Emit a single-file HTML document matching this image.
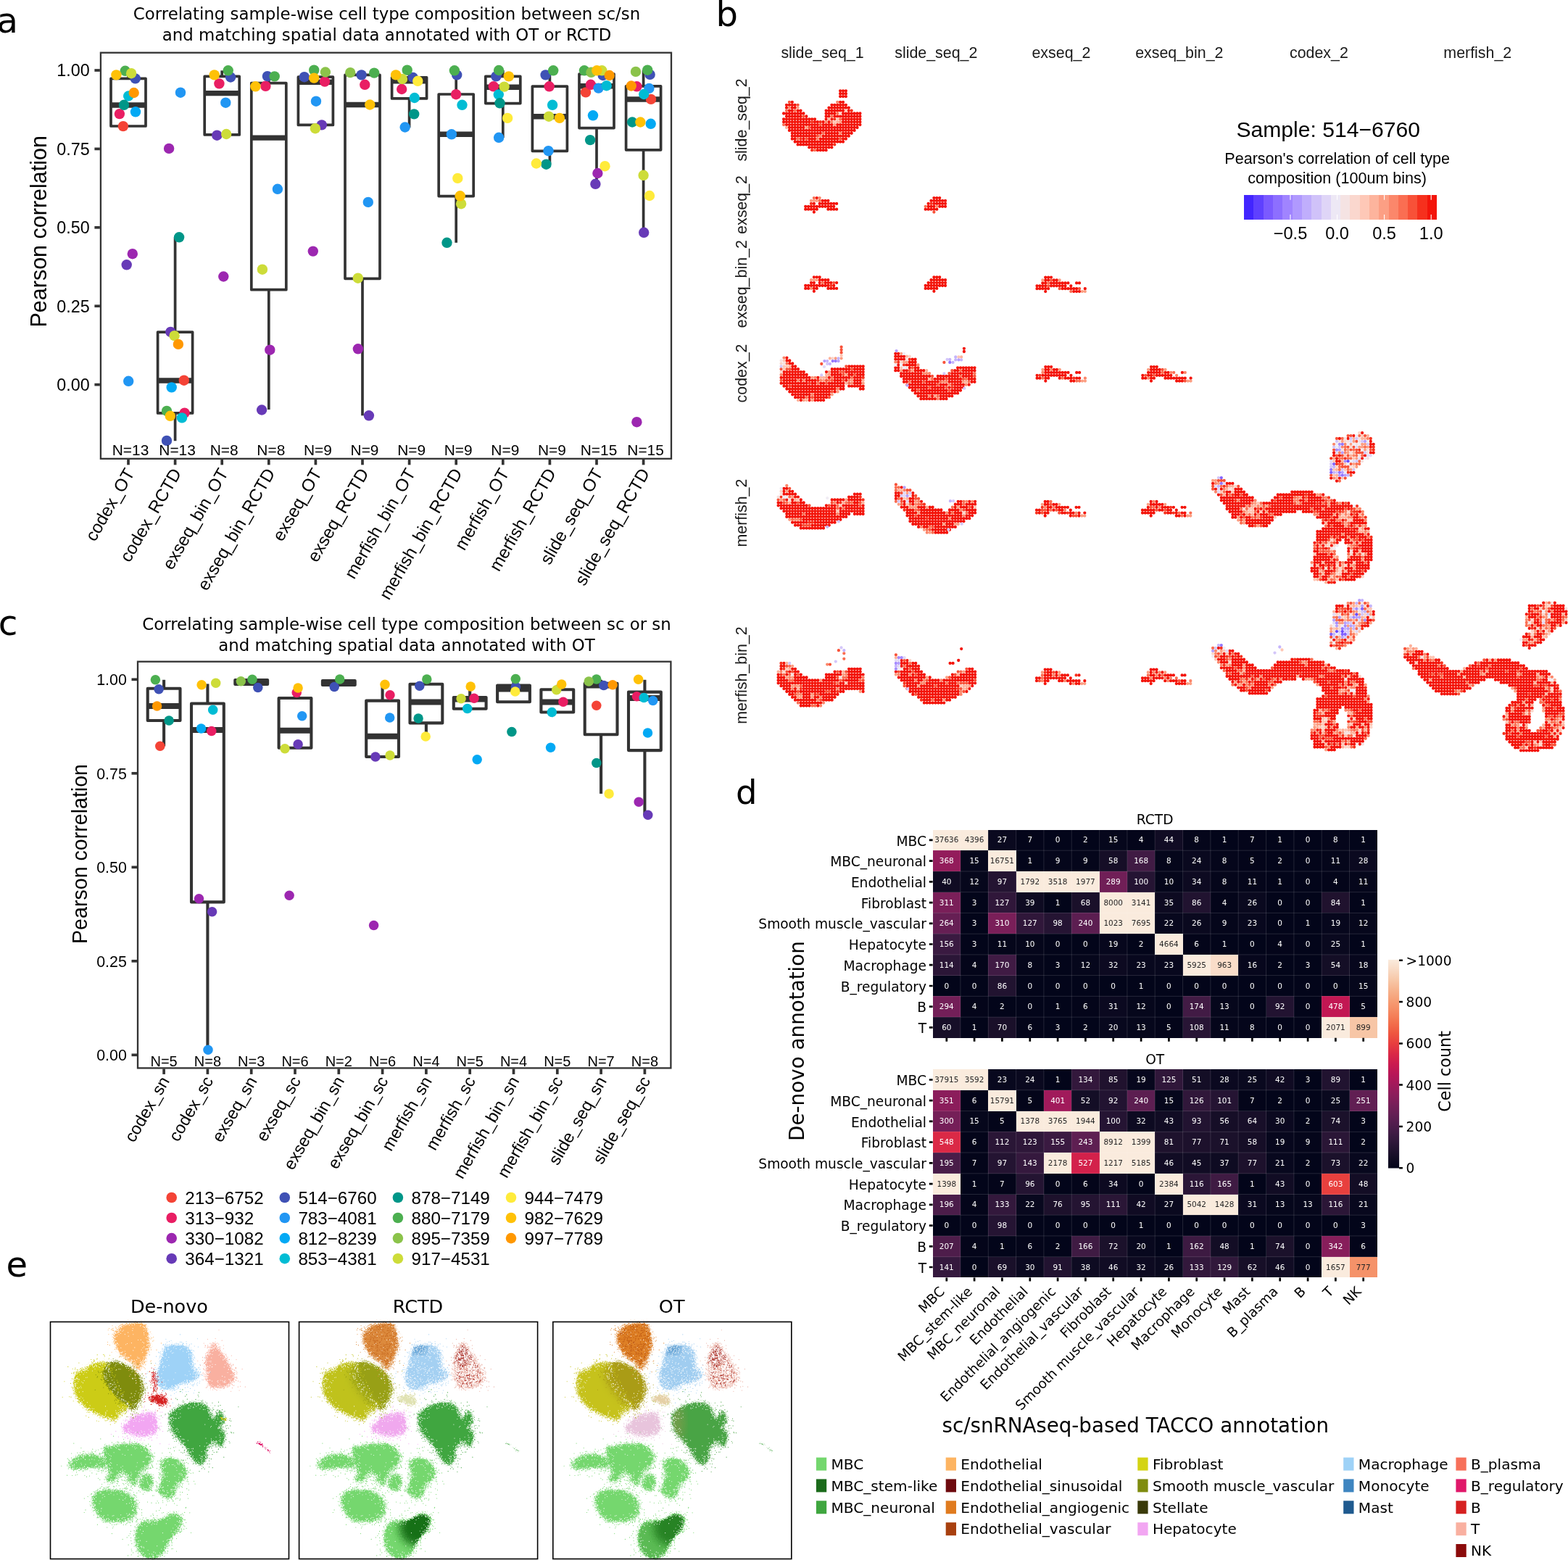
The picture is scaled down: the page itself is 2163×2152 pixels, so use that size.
<!DOCTYPE html>
<html><head><meta charset="utf-8"><title>Figure</title>
<style>html,body{margin:0;padding:0;background:#fff;overflow:hidden;width:2163px;height:2152px}svg{display:block}</style></head>
<body><svg width="2163" height="2152" viewBox="0 0 2163 2152">
<rect width="2163" height="2152" fill="#fff"/>
<g stroke="#333" stroke-width="3.7" fill="none" stroke-linejoin="round">
<line x1="177" y1="108.3" x2="177" y2="98"/><rect x="153" y="108.3" width="48" height="65.7" fill="#fff"/><line x1="153" y1="145" x2="201" y2="145" stroke-width="7.45" stroke-linecap="butt"/>
<line x1="241.6" y1="458.1" x2="241.6" y2="327.3"/><line x1="241.6" y1="569.9" x2="241.6" y2="608.2"/><rect x="217.6" y="458.1" width="48" height="111.8" fill="#fff"/><line x1="217.6" y1="524.9" x2="265.6" y2="524.9" stroke-width="7.45" stroke-linecap="butt"/>
<line x1="306.2" y1="105.4" x2="306.2" y2="97.3"/><rect x="282.2" y="105.4" width="48" height="80.5" fill="#fff"/><line x1="282.2" y1="128.6" x2="330.2" y2="128.6" stroke-width="7.45" stroke-linecap="butt"/>
<line x1="370.8" y1="114.6" x2="370.8" y2="104.8"/><line x1="370.8" y1="399.7" x2="370.8" y2="564.9"/><rect x="346.8" y="114.6" width="48" height="285.1" fill="#fff"/><line x1="346.8" y1="190.1" x2="394.8" y2="190.1" stroke-width="7.45" stroke-linecap="butt"/>
<line x1="435.4" y1="106.2" x2="435.4" y2="96.7"/><line x1="435.4" y1="172.4" x2="435.4" y2="177.2"/><rect x="411.4" y="106.2" width="48" height="66.2" fill="#fff"/><line x1="411.4" y1="113.2" x2="459.4" y2="113.2" stroke-width="7.45" stroke-linecap="butt"/>
<line x1="500" y1="103.4" x2="500" y2="100.1"/><line x1="500" y1="384.3" x2="500" y2="573.3"/><rect x="476" y="103.4" width="48" height="280.9" fill="#fff"/><line x1="476" y1="144.5" x2="524" y2="144.5" stroke-width="7.45" stroke-linecap="butt"/>
<line x1="564.6" y1="106.8" x2="564.6" y2="96.7"/><line x1="564.6" y1="135.8" x2="564.6" y2="176.1"/><rect x="540.6" y="106.8" width="48" height="29.1" fill="#fff"/><line x1="540.6" y1="111.8" x2="588.6" y2="111.8" stroke-width="7.45" stroke-linecap="butt"/>
<line x1="629.2" y1="130" x2="629.2" y2="97.8"/><line x1="629.2" y1="270.5" x2="629.2" y2="334.8"/><rect x="605.2" y="130" width="48" height="140.6" fill="#fff"/><line x1="605.2" y1="185.3" x2="653.2" y2="185.3" stroke-width="7.45" stroke-linecap="butt"/>
<line x1="693.8" y1="105.4" x2="693.8" y2="97"/><line x1="693.8" y1="142.5" x2="693.8" y2="190.1"/><rect x="669.8" y="105.4" width="48" height="37.2" fill="#fff"/><line x1="669.8" y1="120.2" x2="717.8" y2="120.2" stroke-width="7.45" stroke-linecap="butt"/>
<line x1="758.4" y1="119.1" x2="758.4" y2="97.3"/><line x1="758.4" y1="208.2" x2="758.4" y2="226.4"/><rect x="734.4" y="119.1" width="48" height="89.2" fill="#fff"/><line x1="734.4" y1="160.7" x2="782.4" y2="160.7" stroke-width="7.45" stroke-linecap="butt"/>
<line x1="823" y1="102" x2="823" y2="97.3"/><line x1="823" y1="176.6" x2="823" y2="252.9"/><rect x="799" y="102" width="48" height="74.6" fill="#fff"/><line x1="799" y1="118.8" x2="847" y2="118.8" stroke-width="7.45" stroke-linecap="butt"/>
<line x1="887.6" y1="118.8" x2="887.6" y2="96.7"/><line x1="887.6" y1="206.8" x2="887.6" y2="320.8"/><rect x="863.6" y="118.8" width="48" height="88" fill="#fff"/><line x1="863.6" y1="136.9" x2="911.6" y2="136.9" stroke-width="7.45" stroke-linecap="butt"/>
</g>
<circle cx="169.9" cy="174.1" r="7.2" fill="#F44336"/><circle cx="253.8" cy="524.7" r="7.2" fill="#F44336"/><circle cx="808" cy="127.4" r="7.2" fill="#F44336"/><circle cx="898" cy="136.9" r="7.2" fill="#F44336"/><circle cx="164.9" cy="157.1" r="7.2" fill="#E91E63"/><circle cx="254.6" cy="569.6" r="7.2" fill="#E91E63"/><circle cx="302.4" cy="115.4" r="7.2" fill="#E91E63"/><circle cx="366.4" cy="118.8" r="7.2" fill="#E91E63"/><circle cx="448" cy="112.6" r="7.2" fill="#E91E63"/><circle cx="503.3" cy="116.8" r="7.2" fill="#E91E63"/><circle cx="554.2" cy="123" r="7.2" fill="#E91E63"/><circle cx="629.1" cy="130.2" r="7.2" fill="#E91E63"/><circle cx="680.8" cy="119.3" r="7.2" fill="#E91E63"/><circle cx="757.7" cy="119.3" r="7.2" fill="#E91E63"/><circle cx="814.9" cy="116.8" r="7.2" fill="#E91E63"/><circle cx="878.4" cy="119.3" r="7.2" fill="#E91E63"/><circle cx="182.8" cy="350.2" r="7.2" fill="#9C27B0"/><circle cx="233.1" cy="204.9" r="7.2" fill="#9C27B0"/><circle cx="308.3" cy="381.5" r="7.2" fill="#9C27B0"/><circle cx="372.3" cy="482.7" r="7.2" fill="#9C27B0"/><circle cx="431.8" cy="346.6" r="7.2" fill="#9C27B0"/><circle cx="493.9" cy="481.3" r="7.2" fill="#9C27B0"/><circle cx="824.4" cy="239" r="7.2" fill="#9C27B0"/><circle cx="878.4" cy="582.2" r="7.2" fill="#9C27B0"/><circle cx="174.7" cy="365.3" r="7.2" fill="#673AB7"/><circle cx="235.3" cy="457.9" r="7.2" fill="#673AB7"/><circle cx="299.3" cy="186.7" r="7.2" fill="#673AB7"/><circle cx="361.1" cy="565.5" r="7.2" fill="#673AB7"/><circle cx="443.8" cy="172.4" r="7.2" fill="#673AB7"/><circle cx="508.9" cy="573.3" r="7.2" fill="#673AB7"/><circle cx="821.4" cy="253.8" r="7.2" fill="#673AB7"/><circle cx="888.2" cy="320.8" r="7.2" fill="#673AB7"/><circle cx="186.7" cy="108.4" r="7.2" fill="#3F51B5"/><circle cx="230" cy="607.9" r="7.2" fill="#3F51B5"/><circle cx="318.1" cy="106.5" r="7.2" fill="#3F51B5"/><circle cx="368.9" cy="105.1" r="7.2" fill="#3F51B5"/><circle cx="419.8" cy="106.2" r="7.2" fill="#3F51B5"/><circle cx="498.6" cy="103.4" r="7.2" fill="#3F51B5"/><circle cx="569.8" cy="107" r="7.2" fill="#3F51B5"/><circle cx="630.2" cy="103.4" r="7.2" fill="#3F51B5"/><circle cx="684.4" cy="105.4" r="7.2" fill="#3F51B5"/><circle cx="752.6" cy="103.4" r="7.2" fill="#3F51B5"/><circle cx="831.7" cy="104" r="7.2" fill="#3F51B5"/><circle cx="896.6" cy="102.9" r="7.2" fill="#3F51B5"/><circle cx="177.2" cy="525.8" r="7.2" fill="#2196F3"/><circle cx="249" cy="127.7" r="7.2" fill="#2196F3"/><circle cx="311.3" cy="141.7" r="7.2" fill="#2196F3"/><circle cx="382.9" cy="260.8" r="7.2" fill="#2196F3"/><circle cx="436" cy="139.7" r="7.2" fill="#2196F3"/><circle cx="507.8" cy="278.9" r="7.2" fill="#2196F3"/><circle cx="558.7" cy="175.5" r="7.2" fill="#2196F3"/><circle cx="622.9" cy="185.3" r="7.2" fill="#2196F3"/><circle cx="688.1" cy="189.8" r="7.2" fill="#2196F3"/><circle cx="756.5" cy="208.2" r="7.2" fill="#2196F3"/><circle cx="825.6" cy="121.6" r="7.2" fill="#2196F3"/><circle cx="895.4" cy="121.9" r="7.2" fill="#2196F3"/><circle cx="187" cy="154.3" r="7.2" fill="#03A9F4"/><circle cx="236.7" cy="534.4" r="7.2" fill="#03A9F4"/><circle cx="818" cy="159.3" r="7.2" fill="#03A9F4"/><circle cx="897.7" cy="170.8" r="7.2" fill="#03A9F4"/><circle cx="177.2" cy="132.5" r="7.2" fill="#00BCD4"/><circle cx="251" cy="576.4" r="7.2" fill="#00BCD4"/><circle cx="571.8" cy="135" r="7.2" fill="#00BCD4"/><circle cx="637.5" cy="144.8" r="7.2" fill="#00BCD4"/><circle cx="687.8" cy="130.5" r="7.2" fill="#00BCD4"/><circle cx="762.1" cy="144.8" r="7.2" fill="#00BCD4"/><circle cx="836.7" cy="118.2" r="7.2" fill="#00BCD4"/><circle cx="888.2" cy="130" r="7.2" fill="#00BCD4"/><circle cx="171" cy="144.8" r="7.2" fill="#009688"/><circle cx="247.1" cy="327.3" r="7.2" fill="#009688"/><circle cx="571.2" cy="157.4" r="7.2" fill="#009688"/><circle cx="616.5" cy="334.8" r="7.2" fill="#009688"/><circle cx="689.5" cy="142.3" r="7.2" fill="#009688"/><circle cx="753.5" cy="226.7" r="7.2" fill="#009688"/><circle cx="814.1" cy="193.1" r="7.2" fill="#009688"/><circle cx="872.2" cy="168.5" r="7.2" fill="#009688"/><circle cx="172.7" cy="97.8" r="7.2" fill="#4CAF50"/><circle cx="230" cy="566.9" r="7.2" fill="#4CAF50"/><circle cx="314.7" cy="97.3" r="7.2" fill="#4CAF50"/><circle cx="378.7" cy="105.4" r="7.2" fill="#4CAF50"/><circle cx="433.2" cy="96.7" r="7.2" fill="#4CAF50"/><circle cx="516.2" cy="100.6" r="7.2" fill="#4CAF50"/><circle cx="561.7" cy="96.7" r="7.2" fill="#4CAF50"/><circle cx="626.9" cy="97.3" r="7.2" fill="#4CAF50"/><circle cx="688.1" cy="97" r="7.2" fill="#4CAF50"/><circle cx="763.2" cy="97.3" r="7.2" fill="#4CAF50"/><circle cx="806" cy="97.3" r="7.2" fill="#4CAF50"/><circle cx="893.2" cy="96.7" r="7.2" fill="#4CAF50"/><circle cx="448.9" cy="99.5" r="7.2" fill="#8BC34A"/><circle cx="483.2" cy="100.1" r="7.2" fill="#8BC34A"/><circle cx="815.5" cy="99.8" r="7.2" fill="#8BC34A"/><circle cx="877" cy="98.9" r="7.2" fill="#8BC34A"/><circle cx="181.1" cy="101.2" r="7.2" fill="#CDDC39"/><circle cx="240.6" cy="463.2" r="7.2" fill="#CDDC39"/><circle cx="312.2" cy="185" r="7.2" fill="#CDDC39"/><circle cx="361.9" cy="371.7" r="7.2" fill="#CDDC39"/><circle cx="434.9" cy="177.2" r="7.2" fill="#CDDC39"/><circle cx="493.8" cy="383.7" r="7.2" fill="#CDDC39"/><circle cx="555" cy="109" r="7.2" fill="#CDDC39"/><circle cx="636.1" cy="281.2" r="7.2" fill="#CDDC39"/><circle cx="695.6" cy="119.6" r="7.2" fill="#CDDC39"/><circle cx="757.1" cy="160.7" r="7.2" fill="#CDDC39"/><circle cx="830.3" cy="97.3" r="7.2" fill="#CDDC39"/><circle cx="887.6" cy="241.8" r="7.2" fill="#CDDC39"/><circle cx="576.3" cy="111.8" r="7.2" fill="#FFEB3B"/><circle cx="631.3" cy="245.9" r="7.2" fill="#FFEB3B"/><circle cx="700.1" cy="162.9" r="7.2" fill="#FFEB3B"/><circle cx="739.8" cy="225.5" r="7.2" fill="#FFEB3B"/><circle cx="834.5" cy="229.2" r="7.2" fill="#FFEB3B"/><circle cx="896" cy="270" r="7.2" fill="#FFEB3B"/><circle cx="160.4" cy="103.4" r="7.2" fill="#FFC107"/><circle cx="234.8" cy="573.8" r="7.2" fill="#FFC107"/><circle cx="295.7" cy="103.4" r="7.2" fill="#FFC107"/><circle cx="352.4" cy="119.3" r="7.2" fill="#FFC107"/><circle cx="433.2" cy="107.6" r="7.2" fill="#FFC107"/><circle cx="510.3" cy="144.5" r="7.2" fill="#FFC107"/><circle cx="546.1" cy="103.4" r="7.2" fill="#FFC107"/><circle cx="634.7" cy="270.3" r="7.2" fill="#FFC107"/><circle cx="701.8" cy="105.4" r="7.2" fill="#FFC107"/><circle cx="771.9" cy="162.9" r="7.2" fill="#FFC107"/><circle cx="823.3" cy="97.3" r="7.2" fill="#FFC107"/><circle cx="883.4" cy="168.5" r="7.2" fill="#FFC107"/><circle cx="184.7" cy="128" r="7.2" fill="#FF9800"/><circle cx="245.9" cy="474.9" r="7.2" fill="#FF9800"/><circle cx="840.7" cy="104" r="7.2" fill="#FF9800"/><circle cx="870.8" cy="118.5" r="7.2" fill="#FF9800"/>
<g font-size="20.9" font-family="'Liberation Sans',Arial,Helvetica,sans-serif" text-anchor="middle" fill="#000">
<text x="180" y="627.6">N=13</text>
<text x="244.6" y="627.6">N=13</text>
<text x="309.2" y="627.6">N=8</text>
<text x="373.8" y="627.6">N=8</text>
<text x="438.4" y="627.6">N=9</text>
<text x="503" y="627.6">N=9</text>
<text x="567.6" y="627.6">N=9</text>
<text x="632.2" y="627.6">N=9</text>
<text x="696.8" y="627.6">N=9</text>
<text x="761.4" y="627.6">N=9</text>
<text x="826" y="627.6">N=15</text>
<text x="890.6" y="627.6">N=15</text>
</g>
<rect x="138.9" y="72.7" width="787.1" height="560.1" fill="none" stroke="#333" stroke-width="2.3"/>
<g stroke="#333" stroke-width="3.7">
<line x1="130.4" y1="97" x2="137.9" y2="97"/>
<line x1="130.4" y1="205.4" x2="137.9" y2="205.4"/>
<line x1="130.4" y1="313.8" x2="137.9" y2="313.8"/>
<line x1="130.4" y1="422.2" x2="137.9" y2="422.2"/>
<line x1="130.4" y1="530.6" x2="137.9" y2="530.6"/>
<line x1="177" y1="633.8" x2="177" y2="641.3"/>
<line x1="241.6" y1="633.8" x2="241.6" y2="641.3"/>
<line x1="306.2" y1="633.8" x2="306.2" y2="641.3"/>
<line x1="370.8" y1="633.8" x2="370.8" y2="641.3"/>
<line x1="435.4" y1="633.8" x2="435.4" y2="641.3"/>
<line x1="500" y1="633.8" x2="500" y2="641.3"/>
<line x1="564.6" y1="633.8" x2="564.6" y2="641.3"/>
<line x1="629.2" y1="633.8" x2="629.2" y2="641.3"/>
<line x1="693.8" y1="633.8" x2="693.8" y2="641.3"/>
<line x1="758.4" y1="633.8" x2="758.4" y2="641.3"/>
<line x1="823" y1="633.8" x2="823" y2="641.3"/>
<line x1="887.6" y1="633.8" x2="887.6" y2="641.3"/>
</g>
<g font-size="23.3" font-family="'Liberation Sans',Arial,Helvetica,sans-serif" fill="#000">
<text x="123.7" y="105.3" text-anchor="end">1.00</text>
<text x="123.7" y="213.7" text-anchor="end">0.75</text>
<text x="123.7" y="322.1" text-anchor="end">0.50</text>
<text x="123.7" y="430.5" text-anchor="end">0.25</text>
<text x="123.7" y="538.9" text-anchor="end">0.00</text>
<text x="186.3" y="652.3" font-size="24.0" text-anchor="end" transform="rotate(-60 186.3 652.3)">codex_OT</text>
<text x="250.9" y="652.3" font-size="24.0" text-anchor="end" transform="rotate(-60 250.9 652.3)">codex_RCTD</text>
<text x="315.5" y="652.3" font-size="24.0" text-anchor="end" transform="rotate(-60 315.5 652.3)">exseq_bin_OT</text>
<text x="380.1" y="652.3" font-size="24.0" text-anchor="end" transform="rotate(-60 380.1 652.3)">exseq_bin_RCTD</text>
<text x="444.7" y="652.3" font-size="24.0" text-anchor="end" transform="rotate(-60 444.7 652.3)">exseq_OT</text>
<text x="509.3" y="652.3" font-size="24.0" text-anchor="end" transform="rotate(-60 509.3 652.3)">exseq_RCTD</text>
<text x="573.9" y="652.3" font-size="24.0" text-anchor="end" transform="rotate(-60 573.9 652.3)">merfish_bin_OT</text>
<text x="638.5" y="652.3" font-size="24.0" text-anchor="end" transform="rotate(-60 638.5 652.3)">merfish_bin_RCTD</text>
<text x="703.1" y="652.3" font-size="24.0" text-anchor="end" transform="rotate(-60 703.1 652.3)">merfish_OT</text>
<text x="767.7" y="652.3" font-size="24.0" text-anchor="end" transform="rotate(-60 767.7 652.3)">merfish_RCTD</text>
<text x="832.3" y="652.3" font-size="24.0" text-anchor="end" transform="rotate(-60 832.3 652.3)">slide_seq_OT</text>
<text x="896.9" y="652.3" font-size="24.0" text-anchor="end" transform="rotate(-60 896.9 652.3)">slide_seq_RCTD</text>
</g>
<text x="63.7" y="319.3" font-size="30.5" font-family="'Liberation Sans',Arial,Helvetica,sans-serif" text-anchor="middle" fill="#000" transform="rotate(-90 63.7 319.3)">Pearson correlation</text>
<g font-size="22.85" font-family="'DejaVu Sans','Liberation Sans',sans-serif" text-anchor="middle" fill="#000">
<text x="533.5" y="27.2">Correlating sample-wise cell type composition between sc/sn</text>
<text x="533.5" y="55.9">and matching spatial data annotated with OT or RCTD</text>
</g>
<g stroke="#333" stroke-width="4.1" fill="none" stroke-linejoin="round">
<line x1="226.1" y1="949.8" x2="226.1" y2="937.8"/><line x1="226.1" y1="994" x2="226.1" y2="1029.5"/><rect x="203.7" y="949.8" width="44.8" height="44.2" fill="#fff"/><line x1="203.7" y1="973.9" x2="248.5" y2="973.9" stroke-width="8.0" stroke-linecap="butt"/>
<line x1="286.4" y1="970.5" x2="286.4" y2="943.4"/><line x1="286.4" y1="1244.4" x2="286.4" y2="1448.2"/><rect x="264" y="970.5" width="44.8" height="273.9" fill="#fff"/><line x1="264" y1="1006.9" x2="308.8" y2="1006.9" stroke-width="8.0" stroke-linecap="butt"/>
<rect x="324.3" y="938" width="44.8" height="6" fill="#fff"/><line x1="324.3" y1="941" x2="369.1" y2="941" stroke-width="8.0" stroke-linecap="butt"/>
<line x1="407" y1="963" x2="407" y2="950.4"/><rect x="384.6" y="963" width="44.8" height="68.8" fill="#fff"/><line x1="384.6" y1="1007.7" x2="429.4" y2="1007.7" stroke-width="8.0" stroke-linecap="butt"/>
<rect x="444.9" y="939" width="44.8" height="6" fill="#fff"/><line x1="444.9" y1="942" x2="489.7" y2="942" stroke-width="8.0" stroke-linecap="butt"/>
<line x1="527.6" y1="966.6" x2="527.6" y2="944.8"/><rect x="505.2" y="966.6" width="44.8" height="77.4" fill="#fff"/><line x1="505.2" y1="1015.8" x2="550" y2="1015.8" stroke-width="8.0" stroke-linecap="butt"/>
<line x1="587.9" y1="943.7" x2="587.9" y2="937.8"/><line x1="587.9" y1="997.4" x2="587.9" y2="1016.1"/><rect x="565.5" y="943.7" width="44.8" height="53.7" fill="#fff"/><line x1="565.5" y1="968.6" x2="610.3" y2="968.6" stroke-width="8.0" stroke-linecap="butt"/>
<line x1="648.2" y1="962.1" x2="648.2" y2="947.6"/><rect x="625.8" y="962.1" width="44.8" height="15.7" fill="#fff"/><line x1="625.8" y1="964.4" x2="670.6" y2="964.4" stroke-width="8.0" stroke-linecap="butt"/>
<line x1="708.5" y1="945.6" x2="708.5" y2="937.8"/><rect x="686.1" y="945.6" width="44.8" height="22.6" fill="#fff"/><line x1="686.1" y1="950.4" x2="730.9" y2="950.4" stroke-width="8.0" stroke-linecap="butt"/>
<line x1="768.8" y1="951.2" x2="768.8" y2="944.8"/><rect x="746.4" y="951.2" width="44.8" height="31.3" fill="#fff"/><line x1="746.4" y1="968.6" x2="791.2" y2="968.6" stroke-width="8.0" stroke-linecap="butt"/>
<line x1="829.1" y1="942.9" x2="829.1" y2="937.8"/><line x1="829.1" y1="1013.3" x2="829.1" y2="1094.9"/><rect x="806.7" y="942.9" width="44.8" height="70.4" fill="#fff"/><line x1="806.7" y1="945.6" x2="851.5" y2="945.6" stroke-width="8.0" stroke-linecap="butt"/>
<line x1="889.4" y1="954.6" x2="889.4" y2="937.8"/><line x1="889.4" y1="1035.1" x2="889.4" y2="1124.5"/><rect x="867" y="954.6" width="44.8" height="80.5" fill="#fff"/><line x1="867" y1="963" x2="911.8" y2="963" stroke-width="8.0" stroke-linecap="butt"/>
</g>
<circle cx="220.8" cy="1029.2" r="6.75" fill="#F44336"/><circle cx="822.8" cy="973.3" r="6.75" fill="#F44336"/><circle cx="291.8" cy="1008.5" r="6.75" fill="#E91E63"/><circle cx="409.2" cy="955.4" r="6.75" fill="#E91E63"/><circle cx="538" cy="958.8" r="6.75" fill="#E91E63"/><circle cx="654" cy="963.3" r="6.75" fill="#E91E63"/><circle cx="776.9" cy="968.3" r="6.75" fill="#E91E63"/><circle cx="878.4" cy="960.7" r="6.75" fill="#E91E63"/><circle cx="274.5" cy="1239.7" r="6.75" fill="#9C27B0"/><circle cx="399.1" cy="1235.2" r="6.75" fill="#9C27B0"/><circle cx="515.6" cy="1276.6" r="6.75" fill="#9C27B0"/><circle cx="881.2" cy="1106.3" r="6.75" fill="#9C27B0"/><circle cx="292.6" cy="1257.8" r="6.75" fill="#673AB7"/><circle cx="411.1" cy="1026.7" r="6.75" fill="#673AB7"/><circle cx="517.9" cy="1044" r="6.75" fill="#673AB7"/><circle cx="893.8" cy="1124.2" r="6.75" fill="#673AB7"/><circle cx="219.1" cy="950.7" r="6.75" fill="#3F51B5"/><circle cx="355.8" cy="948.4" r="6.75" fill="#3F51B5"/><circle cx="461.2" cy="947.6" r="6.75" fill="#3F51B5"/><circle cx="578.8" cy="946.2" r="6.75" fill="#3F51B5"/><circle cx="711.5" cy="947.6" r="6.75" fill="#3F51B5"/><circle cx="832.8" cy="945.4" r="6.75" fill="#3F51B5"/><circle cx="287" cy="1448.3" r="6.75" fill="#2196F3"/><circle cx="416.7" cy="987.8" r="6.75" fill="#2196F3"/><circle cx="537.7" cy="990.1" r="6.75" fill="#2196F3"/><circle cx="900.7" cy="966.6" r="6.75" fill="#2196F3"/><circle cx="277.5" cy="1004.9" r="6.75" fill="#03A9F4"/><circle cx="658.2" cy="1047.7" r="6.75" fill="#03A9F4"/><circle cx="759.6" cy="1031.2" r="6.75" fill="#03A9F4"/><circle cx="893.5" cy="1011" r="6.75" fill="#03A9F4"/><circle cx="293.7" cy="979.2" r="6.75" fill="#00BCD4"/><circle cx="644.7" cy="977.5" r="6.75" fill="#00BCD4"/><circle cx="761.3" cy="982.5" r="6.75" fill="#00BCD4"/><circle cx="888.2" cy="962.4" r="6.75" fill="#00BCD4"/><circle cx="233.1" cy="994" r="6.75" fill="#009688"/><circle cx="577.1" cy="990.9" r="6.75" fill="#009688"/><circle cx="705.9" cy="1009.4" r="6.75" fill="#009688"/><circle cx="822.8" cy="1052.4" r="6.75" fill="#009688"/><circle cx="214.4" cy="937.8" r="6.75" fill="#4CAF50"/><circle cx="348" cy="937.3" r="6.75" fill="#4CAF50"/><circle cx="468.7" cy="937" r="6.75" fill="#4CAF50"/><circle cx="588.8" cy="937" r="6.75" fill="#4CAF50"/><circle cx="711.3" cy="936.4" r="6.75" fill="#4CAF50"/><circle cx="822.8" cy="937" r="6.75" fill="#4CAF50"/><circle cx="332.3" cy="939.8" r="6.75" fill="#8BC34A"/><circle cx="812.2" cy="940.1" r="6.75" fill="#8BC34A"/><circle cx="297.7" cy="942.3" r="6.75" fill="#CDDC39"/><circle cx="393" cy="1032.8" r="6.75" fill="#CDDC39"/><circle cx="538" cy="1042.1" r="6.75" fill="#CDDC39"/><circle cx="636.1" cy="963.8" r="6.75" fill="#CDDC39"/><circle cx="767.7" cy="951.8" r="6.75" fill="#CDDC39"/><circle cx="587.2" cy="1016.1" r="6.75" fill="#FFEB3B"/><circle cx="710.7" cy="954" r="6.75" fill="#FFEB3B"/><circle cx="840.1" cy="1094.9" r="6.75" fill="#FFEB3B"/><circle cx="278.1" cy="944.8" r="6.75" fill="#FFC107"/><circle cx="411.1" cy="949" r="6.75" fill="#FFC107"/><circle cx="531" cy="944.2" r="6.75" fill="#FFC107"/><circle cx="649.2" cy="947" r="6.75" fill="#FFC107"/><circle cx="774.7" cy="944" r="6.75" fill="#FFC107"/><circle cx="880.6" cy="937.3" r="6.75" fill="#FFC107"/><circle cx="216.6" cy="973.9" r="6.75" fill="#FF9800"/><circle cx="845.1" cy="944.8" r="6.75" fill="#FF9800"/>
<g font-size="20.0" font-family="'Liberation Sans',Arial,Helvetica,sans-serif" text-anchor="middle" fill="#000">
<text x="226.1" y="1470.6">N=5</text>
<text x="286.4" y="1470.6">N=8</text>
<text x="346.7" y="1470.6">N=3</text>
<text x="407" y="1470.6">N=6</text>
<text x="467.3" y="1470.6">N=2</text>
<text x="527.6" y="1470.6">N=6</text>
<text x="587.9" y="1470.6">N=4</text>
<text x="648.2" y="1470.6">N=5</text>
<text x="708.5" y="1470.6">N=4</text>
<text x="768.8" y="1470.6">N=5</text>
<text x="829.1" y="1470.6">N=7</text>
<text x="889.4" y="1470.6">N=8</text>
</g>
<rect x="190" y="912.7" width="735.4" height="560.7" fill="none" stroke="#333" stroke-width="2.3"/>
<g stroke="#333" stroke-width="3.7">
<line x1="181.5" y1="937.3" x2="189" y2="937.3"/>
<line x1="181.5" y1="1066.8" x2="189" y2="1066.8"/>
<line x1="181.5" y1="1196.3" x2="189" y2="1196.3"/>
<line x1="181.5" y1="1325.8" x2="189" y2="1325.8"/>
<line x1="181.5" y1="1455.3" x2="189" y2="1455.3"/>
<line x1="226.1" y1="1474.4" x2="226.1" y2="1481.9"/>
<line x1="286.4" y1="1474.4" x2="286.4" y2="1481.9"/>
<line x1="346.7" y1="1474.4" x2="346.7" y2="1481.9"/>
<line x1="407" y1="1474.4" x2="407" y2="1481.9"/>
<line x1="467.3" y1="1474.4" x2="467.3" y2="1481.9"/>
<line x1="527.6" y1="1474.4" x2="527.6" y2="1481.9"/>
<line x1="587.9" y1="1474.4" x2="587.9" y2="1481.9"/>
<line x1="648.2" y1="1474.4" x2="648.2" y2="1481.9"/>
<line x1="708.5" y1="1474.4" x2="708.5" y2="1481.9"/>
<line x1="768.8" y1="1474.4" x2="768.8" y2="1481.9"/>
<line x1="829.1" y1="1474.4" x2="829.1" y2="1481.9"/>
<line x1="889.4" y1="1474.4" x2="889.4" y2="1481.9"/>
</g>
<g font-size="21.4" font-family="'Liberation Sans',Arial,Helvetica,sans-serif" fill="#000">
<text x="174.8" y="945" text-anchor="end">1.00</text>
<text x="174.8" y="1074.5" text-anchor="end">0.75</text>
<text x="174.8" y="1204" text-anchor="end">0.50</text>
<text x="174.8" y="1333.5" text-anchor="end">0.25</text>
<text x="174.8" y="1463" text-anchor="end">0.00</text>
<text x="234.6" y="1490.9" font-size="23.3" text-anchor="end" transform="rotate(-60 234.6 1490.9)">codex_sn</text>
<text x="294.9" y="1490.9" font-size="23.3" text-anchor="end" transform="rotate(-60 294.9 1490.9)">codex_sc</text>
<text x="355.2" y="1490.9" font-size="23.3" text-anchor="end" transform="rotate(-60 355.2 1490.9)">exseq_sn</text>
<text x="415.5" y="1490.9" font-size="23.3" text-anchor="end" transform="rotate(-60 415.5 1490.9)">exseq_sc</text>
<text x="475.8" y="1490.9" font-size="23.3" text-anchor="end" transform="rotate(-60 475.8 1490.9)">exseq_bin_sn</text>
<text x="536.1" y="1490.9" font-size="23.3" text-anchor="end" transform="rotate(-60 536.1 1490.9)">exseq_bin_sc</text>
<text x="596.4" y="1490.9" font-size="23.3" text-anchor="end" transform="rotate(-60 596.4 1490.9)">merfish_sn</text>
<text x="656.7" y="1490.9" font-size="23.3" text-anchor="end" transform="rotate(-60 656.7 1490.9)">merfish_sc</text>
<text x="717" y="1490.9" font-size="23.3" text-anchor="end" transform="rotate(-60 717 1490.9)">merfish_bin_sn</text>
<text x="777.3" y="1490.9" font-size="23.3" text-anchor="end" transform="rotate(-60 777.3 1490.9)">merfish_bin_sc</text>
<text x="837.6" y="1490.9" font-size="23.3" text-anchor="end" transform="rotate(-60 837.6 1490.9)">slide_seq_sn</text>
<text x="897.9" y="1490.9" font-size="23.3" text-anchor="end" transform="rotate(-60 897.9 1490.9)">slide_seq_sc</text>
</g>
<text x="119.9" y="1178" font-size="28.6" font-family="'Liberation Sans',Arial,Helvetica,sans-serif" text-anchor="middle" fill="#000" transform="rotate(-90 119.9 1178)">Pearson correlation</text>
<g font-size="22.85" font-family="'DejaVu Sans','Liberation Sans',sans-serif" text-anchor="middle" fill="#000">
<text x="561" y="869.3">Correlating sample-wise cell type composition between sc or sn</text>
<text x="561" y="898">and matching spatial data annotated with OT</text>
</g>
<g font-size="24.2" font-family="'Liberation Sans',Arial,Helvetica,sans-serif" fill="#000">
<circle cx="236.7" cy="1652" r="7.3" fill="#F44336"/><text x="255.3" y="1660.7">213−6752</text>
<circle cx="236.7" cy="1680" r="7.3" fill="#E91E63"/><text x="255.3" y="1688.8">313−932</text>
<circle cx="236.7" cy="1708.1" r="7.3" fill="#9C27B0"/><text x="255.3" y="1716.8">330−1082</text>
<circle cx="236.7" cy="1736.2" r="7.3" fill="#673AB7"/><text x="255.3" y="1744.9">364−1321</text>
<circle cx="392.8" cy="1652" r="7.3" fill="#3F51B5"/><text x="411.4" y="1660.7">514−6760</text>
<circle cx="392.8" cy="1680" r="7.3" fill="#2196F3"/><text x="411.4" y="1688.8">783−4081</text>
<circle cx="392.8" cy="1708.1" r="7.3" fill="#03A9F4"/><text x="411.4" y="1716.8">812−8239</text>
<circle cx="392.8" cy="1736.2" r="7.3" fill="#00BCD4"/><text x="411.4" y="1744.9">853−4381</text>
<circle cx="548.9" cy="1652" r="7.3" fill="#009688"/><text x="567.5" y="1660.7">878−7149</text>
<circle cx="548.9" cy="1680" r="7.3" fill="#4CAF50"/><text x="567.5" y="1688.8">880−7179</text>
<circle cx="548.9" cy="1708.1" r="7.3" fill="#8BC34A"/><text x="567.5" y="1716.8">895−7359</text>
<circle cx="548.9" cy="1736.2" r="7.3" fill="#CDDC39"/><text x="567.5" y="1744.9">917−4531</text>
<circle cx="705" cy="1652" r="7.3" fill="#FFEB3B"/><text x="723.6" y="1660.7">944−7479</text>
<circle cx="705" cy="1680" r="7.3" fill="#FFC107"/><text x="723.6" y="1688.8">982−7629</text>
<circle cx="705" cy="1708.1" r="7.3" fill="#FF9800"/><text x="723.6" y="1716.8">997−7789</text>
</g>
<g fill="none" stroke-linecap="round" stroke-width="4.3"><path d="M1159.1 125.3h0M1163 125.3h0M1166.9 125.3h0M1159.1 129.2h0M1163 129.2h0M1166.9 129.2h0M1159.1 133.1h0M1163 133.1h0M1166.9 133.1h0M1092.8 140.9h0M1159.1 140.9h0M1163 140.9h0M1085 144.8h0M1088.9 144.8h0M1092.8 144.8h0M1096.7 144.8h0M1147.4 144.8h0M1151.3 144.8h0M1155.2 144.8h0M1159.1 144.8h0M1163 144.8h0M1166.9 144.8h0M1085 148.7h0M1092.8 148.7h0M1096.7 148.7h0M1143.5 148.7h0M1147.4 148.7h0M1151.3 148.7h0M1155.2 148.7h0M1159.1 148.7h0M1163 148.7h0M1166.9 148.7h0M1170.8 148.7h0M1088.9 152.6h0M1092.8 152.6h0M1100.6 152.6h0M1104.5 152.6h0M1139.6 152.6h0M1143.5 152.6h0M1147.4 152.6h0M1151.3 152.6h0M1155.2 152.6h0M1159.1 152.6h0M1163 152.6h0M1170.8 152.6h0M1081.1 156.5h0M1085 156.5h0M1088.9 156.5h0M1092.8 156.5h0M1096.7 156.5h0M1100.6 156.5h0M1104.5 156.5h0M1108.4 156.5h0M1139.6 156.5h0M1143.5 156.5h0M1147.4 156.5h0M1151.3 156.5h0M1163 156.5h0M1166.9 156.5h0M1170.8 156.5h0M1174.7 156.5h0M1178.6 156.5h0M1182.5 156.5h0M1186.4 156.5h0M1085 160.4h0M1088.9 160.4h0M1092.8 160.4h0M1096.7 160.4h0M1100.6 160.4h0M1104.5 160.4h0M1112.3 160.4h0M1139.6 160.4h0M1143.5 160.4h0M1151.3 160.4h0M1155.2 160.4h0M1159.1 160.4h0M1163 160.4h0M1166.9 160.4h0M1170.8 160.4h0M1174.7 160.4h0M1178.6 160.4h0M1182.5 160.4h0M1186.4 160.4h0M1081.1 164.3h0M1085 164.3h0M1088.9 164.3h0M1092.8 164.3h0M1096.7 164.3h0M1100.6 164.3h0M1104.5 164.3h0M1108.4 164.3h0M1112.3 164.3h0M1116.2 164.3h0M1120.1 164.3h0M1124 164.3h0M1139.6 164.3h0M1147.4 164.3h0M1163 164.3h0M1166.9 164.3h0M1170.8 164.3h0M1174.7 164.3h0M1178.6 164.3h0M1182.5 164.3h0M1186.4 164.3h0M1081.1 168.2h0M1085 168.2h0M1088.9 168.2h0M1092.8 168.2h0M1096.7 168.2h0M1100.6 168.2h0M1104.5 168.2h0M1108.4 168.2h0M1112.3 168.2h0M1116.2 168.2h0M1124 168.2h0M1127.9 168.2h0M1135.7 168.2h0M1143.5 168.2h0M1163 168.2h0M1166.9 168.2h0M1170.8 168.2h0M1174.7 168.2h0M1178.6 168.2h0M1182.5 168.2h0M1186.4 168.2h0M1085 172.1h0M1088.9 172.1h0M1092.8 172.1h0M1096.7 172.1h0M1100.6 172.1h0M1104.5 172.1h0M1108.4 172.1h0M1112.3 172.1h0M1116.2 172.1h0M1120.1 172.1h0M1124 172.1h0M1127.9 172.1h0M1135.7 172.1h0M1139.6 172.1h0M1143.5 172.1h0M1147.4 172.1h0M1155.2 172.1h0M1159.1 172.1h0M1163 172.1h0M1166.9 172.1h0M1170.8 172.1h0M1174.7 172.1h0M1178.6 172.1h0M1182.5 172.1h0M1186.4 172.1h0M1088.9 176h0M1092.8 176h0M1096.7 176h0M1100.6 176h0M1104.5 176h0M1108.4 176h0M1120.1 176h0M1124 176h0M1127.9 176h0M1131.8 176h0M1135.7 176h0M1139.6 176h0M1143.5 176h0M1147.4 176h0M1151.3 176h0M1155.2 176h0M1159.1 176h0M1163 176h0M1166.9 176h0M1170.8 176h0M1174.7 176h0M1178.6 176h0M1182.5 176h0M1088.9 179.9h0M1092.8 179.9h0M1096.7 179.9h0M1100.6 179.9h0M1104.5 179.9h0M1108.4 179.9h0M1112.3 179.9h0M1116.2 179.9h0M1120.1 179.9h0M1124 179.9h0M1127.9 179.9h0M1131.8 179.9h0M1135.7 179.9h0M1139.6 179.9h0M1143.5 179.9h0M1147.4 179.9h0M1151.3 179.9h0M1155.2 179.9h0M1159.1 179.9h0M1163 179.9h0M1166.9 179.9h0M1170.8 179.9h0M1174.7 179.9h0M1178.6 179.9h0M1092.8 183.8h0M1096.7 183.8h0M1100.6 183.8h0M1104.5 183.8h0M1108.4 183.8h0M1112.3 183.8h0M1116.2 183.8h0M1120.1 183.8h0M1124 183.8h0M1127.9 183.8h0M1131.8 183.8h0M1139.6 183.8h0M1143.5 183.8h0M1147.4 183.8h0M1151.3 183.8h0M1155.2 183.8h0M1163 183.8h0M1166.9 183.8h0M1170.8 183.8h0M1174.7 183.8h0M1092.8 187.7h0M1096.7 187.7h0M1100.6 187.7h0M1104.5 187.7h0M1108.4 187.7h0M1112.3 187.7h0M1116.2 187.7h0M1120.1 187.7h0M1124 187.7h0M1135.7 187.7h0M1139.6 187.7h0M1143.5 187.7h0M1147.4 187.7h0M1151.3 187.7h0M1155.2 187.7h0M1159.1 187.7h0M1163 187.7h0M1166.9 187.7h0M1170.8 187.7h0M1092.8 191.6h0M1096.7 191.6h0M1108.4 191.6h0M1116.2 191.6h0M1120.1 191.6h0M1124 191.6h0M1131.8 191.6h0M1135.7 191.6h0M1139.6 191.6h0M1143.5 191.6h0M1147.4 191.6h0M1151.3 191.6h0M1155.2 191.6h0M1163 191.6h0M1166.9 191.6h0M1096.7 195.5h0M1100.6 195.5h0M1104.5 195.5h0M1108.4 195.5h0M1112.3 195.5h0M1116.2 195.5h0M1120.1 195.5h0M1124 195.5h0M1127.9 195.5h0M1131.8 195.5h0M1135.7 195.5h0M1139.6 195.5h0M1143.5 195.5h0M1147.4 195.5h0M1151.3 195.5h0M1155.2 195.5h0M1159.1 195.5h0M1163 195.5h0M1100.6 199.4h0M1104.5 199.4h0M1108.4 199.4h0M1112.3 199.4h0M1116.2 199.4h0M1120.1 199.4h0M1124 199.4h0M1127.9 199.4h0M1131.8 199.4h0M1135.7 199.4h0M1139.6 199.4h0M1143.5 199.4h0M1147.4 199.4h0M1116.2 203.3h0M1120.1 203.3h0M1124 203.3h0M1127.9 203.3h0M1131.8 203.3h0M1135.7 203.3h0M1139.6 203.3h0M1143.5 203.3h0M1147.4 203.3h0M1127.9 207.2h0M1131.8 207.2h0M1135.7 207.2h0M1139.6 207.2h0M1126.8 273.1h0M1288.4 273.1h0M1292.3 273.1h0M1296.2 273.1h0M1134.6 276.9h0M1138.5 276.9h0M1142.4 276.9h0M1284.5 276.9h0M1288.4 276.9h0M1292.3 276.9h0M1296.2 276.9h0M1300.1 276.9h0M1304 276.9h0M1122.9 280.9h0M1130.7 280.9h0M1134.6 280.9h0M1138.5 280.9h0M1142.4 280.9h0M1146.3 280.9h0M1150.2 280.9h0M1154.1 280.9h0M1280.6 280.9h0M1288.4 280.9h0M1292.3 280.9h0M1296.2 280.9h0M1300.1 280.9h0M1304 280.9h0M1111.2 284.8h0M1115.1 284.8h0M1119 284.8h0M1122.9 284.8h0M1126.8 284.8h0M1130.7 284.8h0M1134.6 284.8h0M1138.5 284.8h0M1142.4 284.8h0M1146.3 284.8h0M1150.2 284.8h0M1280.6 284.8h0M1284.5 284.8h0M1288.4 284.8h0M1296.2 284.8h0M1300.1 284.8h0M1304 284.8h0M1111.2 288.7h0M1115.1 288.7h0M1119 288.7h0M1122.9 288.7h0M1126.8 288.7h0M1142.4 288.7h0M1146.3 288.7h0M1150.2 288.7h0M1154.1 288.7h0M1276.7 288.7h0M1280.6 288.7h0M1284.5 288.7h0M1288.4 288.7h0M1292.3 288.7h0M1122.9 292.6h0M1122.9 382.3h0M1126.8 382.3h0M1130.7 382.3h0M1288.4 382.3h0M1292.3 382.3h0M1296.2 382.3h0M1442.2 382.6h0M1446.1 382.6h0M1450 382.6h0M1130.7 386.2h0M1134.6 386.2h0M1138.5 386.2h0M1142.4 386.2h0M1284.5 386.2h0M1288.4 386.2h0M1292.3 386.2h0M1296.2 386.2h0M1300.1 386.2h0M1304 386.2h0M1442.2 386.5h0M1446.1 386.5h0M1453.9 386.5h0M1457.8 386.5h0M1119 390.1h0M1122.9 390.1h0M1130.7 390.1h0M1138.5 390.1h0M1142.4 390.1h0M1146.3 390.1h0M1154.1 390.1h0M1280.6 390.1h0M1284.5 390.1h0M1288.4 390.1h0M1292.3 390.1h0M1296.2 390.1h0M1300.1 390.1h0M1304 390.1h0M1438.3 390.4h0M1442.2 390.4h0M1450 390.4h0M1453.9 390.4h0M1457.8 390.4h0M1461.7 390.4h0M1465.6 390.4h0M1469.5 390.4h0M1473.4 390.4h0M1485.1 390.4h0M1489 390.4h0M1111.2 394h0M1115.1 394h0M1119 394h0M1122.9 394h0M1126.8 394h0M1130.7 394h0M1134.6 394h0M1138.5 394h0M1142.4 394h0M1150.2 394h0M1276.7 394h0M1280.6 394h0M1284.5 394h0M1288.4 394h0M1292.3 394h0M1296.2 394h0M1300.1 394h0M1304 394h0M1430.5 394.3h0M1434.4 394.3h0M1438.3 394.3h0M1442.2 394.3h0M1450 394.3h0M1453.9 394.3h0M1457.8 394.3h0M1461.7 394.3h0M1465.6 394.3h0M1469.5 394.3h0M1477.3 394.3h0M1111.2 397.9h0M1115.1 397.9h0M1122.9 397.9h0M1126.8 397.9h0M1142.4 397.9h0M1146.3 397.9h0M1150.2 397.9h0M1154.1 397.9h0M1276.7 397.9h0M1280.6 397.9h0M1284.5 397.9h0M1288.4 397.9h0M1292.3 397.9h0M1430.5 398.2h0M1434.4 398.2h0M1438.3 398.2h0M1442.2 398.2h0M1446.1 398.2h0M1465.6 398.2h0M1469.5 398.2h0M1473.4 398.2h0M1477.3 398.2h0M1481.2 398.2h0M1485.1 398.2h0M1496.8 398.2h0M1122.9 401.8h0M1288.4 401.8h0M1442.2 402.1h0M1481.2 402.1h0M1485.1 402.1h0M1489 402.1h0M1329.9 480.8h0M1329.9 485h0M1235.3 487.8h0M1239.2 487.8h0M1235.3 491.7h0M1239.2 491.7h0M1243.1 491.7h0M1247 491.7h0M1085.4 493.6h0M1235.3 495.6h0M1239.2 495.6h0M1243.1 495.6h0M1247 495.6h0M1258.7 495.6h0M1262.6 495.6h0M1085.4 497.5h0M1089.3 497.5h0M1254.8 499.5h0M1258.7 499.5h0M1262.6 499.5h0M1089.3 501.4h0M1093.2 501.4h0M1239.2 503.4h0M1250.9 503.4h0M1254.8 503.4h0M1258.7 503.4h0M1262.6 503.4h0M1093.2 505.3h0M1097.1 505.3h0M1171.2 505.3h0M1175.1 505.3h0M1179 505.3h0M1182.9 505.3h0M1186.8 505.3h0M1190.7 505.3h0M1442.3 506.1h0M1446.2 506.1h0M1450.1 506.1h0M1588 506.1h0M1591.9 506.1h0M1595.8 506.1h0M1235.3 507.3h0M1239.2 507.3h0M1254.8 507.3h0M1262.6 507.3h0M1266.5 507.3h0M1321.1 507.3h0M1325 507.3h0M1328.9 507.3h0M1332.8 507.3h0M1336.7 507.3h0M1340.6 507.3h0M1344.5 507.3h0M1093.2 509.2h0M1097.1 509.2h0M1101 509.2h0M1147.8 509.2h0M1151.7 509.2h0M1155.6 509.2h0M1159.5 509.2h0M1163.4 509.2h0M1167.3 509.2h0M1171.2 509.2h0M1179 509.2h0M1182.9 509.2h0M1186.8 509.2h0M1190.7 509.2h0M1442.3 510h0M1446.2 510h0M1454 510h0M1457.9 510h0M1588 510h0M1591.9 510h0M1595.8 510h0M1599.7 510h0M1235.3 511.2h0M1239.2 511.2h0M1247 511.2h0M1250.9 511.2h0M1262.6 511.2h0M1266.5 511.2h0M1270.4 511.2h0M1274.3 511.2h0M1317.2 511.2h0M1321.1 511.2h0M1328.9 511.2h0M1332.8 511.2h0M1336.7 511.2h0M1340.6 511.2h0M1344.5 511.2h0M1081.5 513.1h0M1085.4 513.1h0M1089.3 513.1h0M1093.2 513.1h0M1097.1 513.1h0M1101 513.1h0M1104.9 513.1h0M1108.8 513.1h0M1140 513.1h0M1147.8 513.1h0M1151.7 513.1h0M1155.6 513.1h0M1167.3 513.1h0M1171.2 513.1h0M1175.1 513.1h0M1179 513.1h0M1182.9 513.1h0M1186.8 513.1h0M1190.7 513.1h0M1442.3 513.9h0M1446.2 513.9h0M1450.1 513.9h0M1454 513.9h0M1457.9 513.9h0M1461.8 513.9h0M1465.7 513.9h0M1469.6 513.9h0M1473.5 513.9h0M1485.2 513.9h0M1489.1 513.9h0M1584.1 513.9h0M1588 513.9h0M1591.9 513.9h0M1595.8 513.9h0M1599.7 513.9h0M1607.5 513.9h0M1611.4 513.9h0M1630.9 513.9h0M1243.1 515.1h0M1247 515.1h0M1250.9 515.1h0M1254.8 515.1h0M1258.7 515.1h0M1262.6 515.1h0M1266.5 515.1h0M1270.4 515.1h0M1313.3 515.1h0M1317.2 515.1h0M1321.1 515.1h0M1325 515.1h0M1328.9 515.1h0M1332.8 515.1h0M1336.7 515.1h0M1340.6 515.1h0M1081.5 517h0M1085.4 517h0M1089.3 517h0M1093.2 517h0M1097.1 517h0M1101 517h0M1104.9 517h0M1108.8 517h0M1112.7 517h0M1147.8 517h0M1151.7 517h0M1155.6 517h0M1159.5 517h0M1171.2 517h0M1175.1 517h0M1182.9 517h0M1186.8 517h0M1190.7 517h0M1430.6 517.8h0M1438.4 517.8h0M1442.3 517.8h0M1446.2 517.8h0M1450.1 517.8h0M1454 517.8h0M1457.9 517.8h0M1461.8 517.8h0M1465.7 517.8h0M1469.6 517.8h0M1477.4 517.8h0M1576.3 517.8h0M1584.1 517.8h0M1588 517.8h0M1595.8 517.8h0M1599.7 517.8h0M1603.6 517.8h0M1607.5 517.8h0M1611.4 517.8h0M1615.3 517.8h0M1243.1 519h0M1247 519h0M1250.9 519h0M1254.8 519h0M1258.7 519h0M1262.6 519h0M1266.5 519h0M1270.4 519h0M1274.3 519h0M1278.2 519h0M1282.1 519h0M1293.8 519h0M1297.7 519h0M1301.6 519h0M1305.5 519h0M1309.4 519h0M1313.3 519h0M1317.2 519h0M1321.1 519h0M1328.9 519h0M1332.8 519h0M1336.7 519h0M1340.6 519h0M1077.6 520.9h0M1081.5 520.9h0M1085.4 520.9h0M1089.3 520.9h0M1093.2 520.9h0M1097.1 520.9h0M1101 520.9h0M1104.9 520.9h0M1108.8 520.9h0M1112.7 520.9h0M1116.6 520.9h0M1128.3 520.9h0M1143.9 520.9h0M1151.7 520.9h0M1155.6 520.9h0M1159.5 520.9h0M1163.4 520.9h0M1167.3 520.9h0M1171.2 520.9h0M1179 520.9h0M1182.9 520.9h0M1186.8 520.9h0M1430.6 521.7h0M1434.5 521.7h0M1442.3 521.7h0M1446.2 521.7h0M1461.8 521.7h0M1469.6 521.7h0M1473.5 521.7h0M1477.4 521.7h0M1485.2 521.7h0M1489.1 521.7h0M1576.3 521.7h0M1580.2 521.7h0M1588 521.7h0M1591.9 521.7h0M1607.5 521.7h0M1611.4 521.7h0M1615.3 521.7h0M1619.2 521.7h0M1623.1 521.7h0M1627 521.7h0M1630.9 521.7h0M1634.8 521.7h0M1642.6 521.7h0M1247 522.9h0M1250.9 522.9h0M1254.8 522.9h0M1258.7 522.9h0M1262.6 522.9h0M1266.5 522.9h0M1270.4 522.9h0M1274.3 522.9h0M1278.2 522.9h0M1289.9 522.9h0M1293.8 522.9h0M1297.7 522.9h0M1301.6 522.9h0M1309.4 522.9h0M1313.3 522.9h0M1317.2 522.9h0M1321.1 522.9h0M1325 522.9h0M1336.7 522.9h0M1340.6 522.9h0M1344.5 522.9h0M1081.5 524.8h0M1085.4 524.8h0M1089.3 524.8h0M1093.2 524.8h0M1097.1 524.8h0M1104.9 524.8h0M1112.7 524.8h0M1116.6 524.8h0M1120.5 524.8h0M1124.4 524.8h0M1151.7 524.8h0M1155.6 524.8h0M1159.5 524.8h0M1167.3 524.8h0M1179 524.8h0M1182.9 524.8h0M1186.8 524.8h0M1442.3 525.6h0M1477.4 525.6h0M1481.3 525.6h0M1588 525.6h0M1623.1 525.6h0M1627 525.6h0M1630.9 525.6h0M1247 526.8h0M1250.9 526.8h0M1258.7 526.8h0M1262.6 526.8h0M1266.5 526.8h0M1270.4 526.8h0M1278.2 526.8h0M1282.1 526.8h0M1286 526.8h0M1289.9 526.8h0M1293.8 526.8h0M1309.4 526.8h0M1313.3 526.8h0M1317.2 526.8h0M1321.1 526.8h0M1325 526.8h0M1340.6 526.8h0M1344.5 526.8h0M1077.6 528.7h0M1081.5 528.7h0M1085.4 528.7h0M1089.3 528.7h0M1093.2 528.7h0M1097.1 528.7h0M1101 528.7h0M1104.9 528.7h0M1108.8 528.7h0M1112.7 528.7h0M1120.5 528.7h0M1124.4 528.7h0M1132.2 528.7h0M1136.1 528.7h0M1143.9 528.7h0M1147.8 528.7h0M1151.7 528.7h0M1155.6 528.7h0M1159.5 528.7h0M1163.4 528.7h0M1179 528.7h0M1182.9 528.7h0M1186.8 528.7h0M1254.8 530.7h0M1258.7 530.7h0M1262.6 530.7h0M1266.5 530.7h0M1270.4 530.7h0M1274.3 530.7h0M1278.2 530.7h0M1282.1 530.7h0M1286 530.7h0M1289.9 530.7h0M1297.7 530.7h0M1301.6 530.7h0M1305.5 530.7h0M1317.2 530.7h0M1321.1 530.7h0M1325 530.7h0M1328.9 530.7h0M1336.7 530.7h0M1081.5 532.6h0M1085.4 532.6h0M1093.2 532.6h0M1097.1 532.6h0M1101 532.6h0M1104.9 532.6h0M1108.8 532.6h0M1112.7 532.6h0M1116.6 532.6h0M1120.5 532.6h0M1124.4 532.6h0M1128.3 532.6h0M1132.2 532.6h0M1136.1 532.6h0M1140 532.6h0M1143.9 532.6h0M1147.8 532.6h0M1151.7 532.6h0M1155.6 532.6h0M1159.5 532.6h0M1163.4 532.6h0M1171.2 532.6h0M1175.1 532.6h0M1179 532.6h0M1182.9 532.6h0M1186.8 532.6h0M1190.7 532.6h0M1254.8 534.6h0M1258.7 534.6h0M1262.6 534.6h0M1266.5 534.6h0M1270.4 534.6h0M1274.3 534.6h0M1278.2 534.6h0M1286 534.6h0M1289.9 534.6h0M1293.8 534.6h0M1297.7 534.6h0M1301.6 534.6h0M1309.4 534.6h0M1317.2 534.6h0M1321.1 534.6h0M1325 534.6h0M1328.9 534.6h0M1085.4 536.5h0M1089.3 536.5h0M1093.2 536.5h0M1097.1 536.5h0M1101 536.5h0M1104.9 536.5h0M1108.8 536.5h0M1112.7 536.5h0M1116.6 536.5h0M1120.5 536.5h0M1124.4 536.5h0M1128.3 536.5h0M1132.2 536.5h0M1136.1 536.5h0M1140 536.5h0M1143.9 536.5h0M1147.8 536.5h0M1151.7 536.5h0M1159.5 536.5h0M1163.4 536.5h0M1186.8 536.5h0M1190.7 536.5h0M1258.7 538.5h0M1262.6 538.5h0M1270.4 538.5h0M1274.3 538.5h0M1278.2 538.5h0M1282.1 538.5h0M1286 538.5h0M1289.9 538.5h0M1293.8 538.5h0M1297.7 538.5h0M1301.6 538.5h0M1305.5 538.5h0M1313.3 538.5h0M1317.2 538.5h0M1321.1 538.5h0M1325 538.5h0M1089.3 540.4h0M1093.2 540.4h0M1097.1 540.4h0M1101 540.4h0M1104.9 540.4h0M1108.8 540.4h0M1112.7 540.4h0M1116.6 540.4h0M1120.5 540.4h0M1124.4 540.4h0M1128.3 540.4h0M1132.2 540.4h0M1136.1 540.4h0M1140 540.4h0M1143.9 540.4h0M1151.7 540.4h0M1262.6 542.4h0M1266.5 542.4h0M1270.4 542.4h0M1274.3 542.4h0M1278.2 542.4h0M1282.1 542.4h0M1286 542.4h0M1289.9 542.4h0M1293.8 542.4h0M1297.7 542.4h0M1301.6 542.4h0M1305.5 542.4h0M1309.4 542.4h0M1313.3 542.4h0M1317.2 542.4h0M1321.1 542.4h0M1093.2 544.3h0M1097.1 544.3h0M1101 544.3h0M1104.9 544.3h0M1108.8 544.3h0M1112.7 544.3h0M1116.6 544.3h0M1124.4 544.3h0M1128.3 544.3h0M1132.2 544.3h0M1136.1 544.3h0M1140 544.3h0M1143.9 544.3h0M1266.5 546.3h0M1270.4 546.3h0M1274.3 546.3h0M1278.2 546.3h0M1286 546.3h0M1297.7 546.3h0M1301.6 546.3h0M1305.5 546.3h0M1309.4 546.3h0M1313.3 546.3h0M1097.1 548.2h0M1101 548.2h0M1104.9 548.2h0M1108.8 548.2h0M1116.6 548.2h0M1124.4 548.2h0M1128.3 548.2h0M1132.2 548.2h0M1136.1 548.2h0M1140 548.2h0M1270.4 550.2h0M1274.3 550.2h0M1278.2 550.2h0M1282.1 550.2h0M1286 550.2h0M1289.9 550.2h0M1297.7 550.2h0M1301.6 550.2h0M1305.5 550.2h0M1104.9 552.1h0M1116.6 552.1h0M1124.4 552.1h0M1128.3 552.1h0M1132.2 552.1h0M1136.1 552.1h0M1243.7 672.3h0M1081.4 673.9h0M1085.3 673.9h0M1081.4 677.8h0M1089.2 677.8h0M1093.1 677.8h0M1235.9 680.1h0M1239.8 680.1h0M1259.3 680.1h0M1081.4 681.7h0M1085.3 681.7h0M1089.2 681.7h0M1093.1 681.7h0M1097 681.7h0M1178.9 681.7h0M1182.8 681.7h0M1186.7 681.7h0M1235.9 684h0M1239.8 684h0M1259.3 684h0M1097 685.6h0M1100.9 685.6h0M1171.1 685.6h0M1175 685.6h0M1178.9 685.6h0M1182.8 685.6h0M1235.9 687.9h0M1255.4 687.9h0M1259.3 687.9h0M1085.3 689.5h0M1093.1 689.5h0M1104.8 689.5h0M1147.7 689.5h0M1151.6 689.5h0M1155.5 689.5h0M1159.4 689.5h0M1163.3 689.5h0M1171.1 689.5h0M1175 689.5h0M1178.9 689.5h0M1182.8 689.5h0M1186.7 689.5h0M1247.6 691.8h0M1255.4 691.8h0M1259.3 691.8h0M1271 691.8h0M1321.7 691.8h0M1325.6 691.8h0M1337.3 691.8h0M1345.1 691.8h0M1441.7 692h0M1445.6 692h0M1587.7 692h0M1595.5 692h0M1073.6 693.4h0M1077.5 693.4h0M1093.1 693.4h0M1097 693.4h0M1104.8 693.4h0M1108.7 693.4h0M1155.5 693.4h0M1178.9 693.4h0M1182.8 693.4h0M1247.6 695.7h0M1259.3 695.7h0M1317.8 695.7h0M1321.7 695.7h0M1325.6 695.7h0M1333.4 695.7h0M1337.3 695.7h0M1341.2 695.7h0M1345.1 695.7h0M1441.7 695.9h0M1445.6 695.9h0M1453.4 695.9h0M1457.3 695.9h0M1587.7 695.9h0M1591.6 695.9h0M1595.5 695.9h0M1599.4 695.9h0M1603.3 695.9h0M1073.6 697.3h0M1077.5 697.3h0M1081.4 697.3h0M1085.3 697.3h0M1089.2 697.3h0M1093.1 697.3h0M1097 697.3h0M1100.9 697.3h0M1104.8 697.3h0M1108.7 697.3h0M1112.6 697.3h0M1139.9 697.3h0M1147.7 697.3h0M1151.6 697.3h0M1163.3 697.3h0M1167.2 697.3h0M1171.1 697.3h0M1175 697.3h0M1178.9 697.3h0M1182.8 697.3h0M1190.6 697.3h0M1243.7 699.6h0M1247.6 699.6h0M1251.5 699.6h0M1267.1 699.6h0M1271 699.6h0M1274.9 699.6h0M1282.7 699.6h0M1286.6 699.6h0M1317.8 699.6h0M1325.6 699.6h0M1329.5 699.6h0M1333.4 699.6h0M1341.2 699.6h0M1445.6 699.8h0M1449.5 699.8h0M1457.3 699.8h0M1461.2 699.8h0M1465.1 699.8h0M1469 699.8h0M1472.9 699.8h0M1484.6 699.8h0M1488.5 699.8h0M1583.8 699.8h0M1595.5 699.8h0M1603.3 699.8h0M1607.2 699.8h0M1611.1 699.8h0M1618.9 699.8h0M1630.6 699.8h0M1634.5 699.8h0M1077.5 701.2h0M1081.4 701.2h0M1085.3 701.2h0M1089.2 701.2h0M1093.1 701.2h0M1097 701.2h0M1100.9 701.2h0M1104.8 701.2h0M1108.7 701.2h0M1112.6 701.2h0M1116.5 701.2h0M1120.4 701.2h0M1124.3 701.2h0M1128.2 701.2h0M1132.1 701.2h0M1136 701.2h0M1139.9 701.2h0M1143.8 701.2h0M1147.7 701.2h0M1151.6 701.2h0M1159.4 701.2h0M1167.2 701.2h0M1171.1 701.2h0M1175 701.2h0M1178.9 701.2h0M1182.8 701.2h0M1186.7 701.2h0M1190.6 701.2h0M1251.5 703.5h0M1255.4 703.5h0M1259.3 703.5h0M1271 703.5h0M1274.9 703.5h0M1278.8 703.5h0M1282.7 703.5h0M1286.6 703.5h0M1290.5 703.5h0M1294.4 703.5h0M1298.3 703.5h0M1310 703.5h0M1313.9 703.5h0M1317.8 703.5h0M1321.7 703.5h0M1333.4 703.5h0M1337.3 703.5h0M1341.2 703.5h0M1345.1 703.5h0M1430 703.7h0M1433.9 703.7h0M1445.6 703.7h0M1453.4 703.7h0M1461.2 703.7h0M1465.1 703.7h0M1476.8 703.7h0M1576 703.7h0M1579.9 703.7h0M1583.8 703.7h0M1587.7 703.7h0M1591.6 703.7h0M1599.4 703.7h0M1603.3 703.7h0M1611.1 703.7h0M1615 703.7h0M1622.8 703.7h0M1081.4 705.1h0M1085.3 705.1h0M1089.2 705.1h0M1093.1 705.1h0M1097 705.1h0M1100.9 705.1h0M1104.8 705.1h0M1108.7 705.1h0M1112.6 705.1h0M1116.5 705.1h0M1120.4 705.1h0M1124.3 705.1h0M1128.2 705.1h0M1132.1 705.1h0M1136 705.1h0M1139.9 705.1h0M1143.8 705.1h0M1147.7 705.1h0M1151.6 705.1h0M1159.4 705.1h0M1163.3 705.1h0M1167.2 705.1h0M1171.1 705.1h0M1175 705.1h0M1178.9 705.1h0M1182.8 705.1h0M1186.7 705.1h0M1190.6 705.1h0M1251.5 707.4h0M1255.4 707.4h0M1259.3 707.4h0M1263.2 707.4h0M1271 707.4h0M1274.9 707.4h0M1278.8 707.4h0M1282.7 707.4h0M1286.6 707.4h0M1290.5 707.4h0M1294.4 707.4h0M1298.3 707.4h0M1302.2 707.4h0M1310 707.4h0M1317.8 707.4h0M1321.7 707.4h0M1325.6 707.4h0M1337.3 707.4h0M1341.2 707.4h0M1345.1 707.4h0M1433.9 707.6h0M1441.7 707.6h0M1445.6 707.6h0M1465.1 707.6h0M1469 707.6h0M1476.8 707.6h0M1480.7 707.6h0M1488.5 707.6h0M1496.3 707.6h0M1576 707.6h0M1579.9 707.6h0M1583.8 707.6h0M1587.7 707.6h0M1591.6 707.6h0M1611.1 707.6h0M1615 707.6h0M1622.8 707.6h0M1630.6 707.6h0M1634.5 707.6h0M1085.3 709h0M1089.2 709h0M1093.1 709h0M1097 709h0M1100.9 709h0M1104.8 709h0M1112.6 709h0M1116.5 709h0M1120.4 709h0M1124.3 709h0M1128.2 709h0M1132.1 709h0M1136 709h0M1139.9 709h0M1143.8 709h0M1147.7 709h0M1151.6 709h0M1159.4 709h0M1163.3 709h0M1167.2 709h0M1171.1 709h0M1178.9 709h0M1182.8 709h0M1186.7 709h0M1190.6 709h0M1251.5 711.3h0M1255.4 711.3h0M1259.3 711.3h0M1267.1 711.3h0M1271 711.3h0M1274.9 711.3h0M1278.8 711.3h0M1282.7 711.3h0M1286.6 711.3h0M1290.5 711.3h0M1294.4 711.3h0M1298.3 711.3h0M1302.2 711.3h0M1306.1 711.3h0M1310 711.3h0M1313.9 711.3h0M1317.8 711.3h0M1321.7 711.3h0M1325.6 711.3h0M1333.4 711.3h0M1337.3 711.3h0M1341.2 711.3h0M1441.7 711.5h0M1476.8 711.5h0M1488.5 711.5h0M1587.7 711.5h0M1622.8 711.5h0M1626.7 711.5h0M1634.5 711.5h0M1085.3 712.9h0M1089.2 712.9h0M1093.1 712.9h0M1097 712.9h0M1100.9 712.9h0M1104.8 712.9h0M1108.7 712.9h0M1112.6 712.9h0M1116.5 712.9h0M1120.4 712.9h0M1124.3 712.9h0M1128.2 712.9h0M1132.1 712.9h0M1136 712.9h0M1139.9 712.9h0M1143.8 712.9h0M1147.7 712.9h0M1151.6 712.9h0M1155.5 712.9h0M1159.4 712.9h0M1163.3 712.9h0M1167.2 712.9h0M1255.4 715.2h0M1259.3 715.2h0M1263.2 715.2h0M1267.1 715.2h0M1271 715.2h0M1274.9 715.2h0M1282.7 715.2h0M1286.6 715.2h0M1290.5 715.2h0M1294.4 715.2h0M1298.3 715.2h0M1302.2 715.2h0M1306.1 715.2h0M1313.9 715.2h0M1317.8 715.2h0M1321.7 715.2h0M1325.6 715.2h0M1329.5 715.2h0M1333.4 715.2h0M1337.3 715.2h0M1108.7 716.8h0M1112.6 716.8h0M1116.5 716.8h0M1120.4 716.8h0M1124.3 716.8h0M1128.2 716.8h0M1132.1 716.8h0M1136 716.8h0M1139.9 716.8h0M1143.8 716.8h0M1147.7 716.8h0M1151.6 716.8h0M1155.5 716.8h0M1159.4 716.8h0M1255.4 719.1h0M1259.3 719.1h0M1263.2 719.1h0M1267.1 719.1h0M1271 719.1h0M1274.9 719.1h0M1278.8 719.1h0M1282.7 719.1h0M1286.6 719.1h0M1290.5 719.1h0M1294.4 719.1h0M1298.3 719.1h0M1302.2 719.1h0M1306.1 719.1h0M1310 719.1h0M1313.9 719.1h0M1317.8 719.1h0M1321.7 719.1h0M1325.6 719.1h0M1329.5 719.1h0M1093.1 720.7h0M1097 720.7h0M1100.9 720.7h0M1104.8 720.7h0M1108.7 720.7h0M1112.6 720.7h0M1124.3 720.7h0M1128.2 720.7h0M1132.1 720.7h0M1136 720.7h0M1139.9 720.7h0M1143.8 720.7h0M1147.7 720.7h0M1151.6 720.7h0M1259.3 723h0M1263.2 723h0M1267.1 723h0M1271 723h0M1274.9 723h0M1278.8 723h0M1282.7 723h0M1286.6 723h0M1290.5 723h0M1294.4 723h0M1298.3 723h0M1306.1 723h0M1310 723h0M1313.9 723h0M1097 724.6h0M1100.9 724.6h0M1104.8 724.6h0M1120.4 724.6h0M1124.3 724.6h0M1128.2 724.6h0M1132.1 724.6h0M1136 724.6h0M1139.9 724.6h0M1143.8 724.6h0M1267.1 726.9h0M1274.9 726.9h0M1278.8 726.9h0M1290.5 726.9h0M1294.4 726.9h0M1298.3 726.9h0M1302.2 726.9h0M1306.1 726.9h0M1310 726.9h0M1313.9 726.9h0M1317.8 726.9h0M1104.8 728.5h0M1108.7 728.5h0M1112.6 728.5h0M1116.5 728.5h0M1120.4 728.5h0M1124.3 728.5h0M1128.2 728.5h0M1132.1 728.5h0M1136 728.5h0M1286.6 730.8h0M1290.5 730.8h0M1294.4 730.8h0M1298.3 730.8h0M1302.2 730.8h0M1306.1 730.8h0M1310 730.8h0M1290.5 734.7h0M1294.4 734.7h0M1298.3 734.7h0M1302.2 734.7h0M1306.1 734.7h0M1326.2 895.1h0M1322.2 911h0M1243.7 911.1h0M1251.5 911.1h0M1310.6 914.9h0M1314.6 914.9h0M1081.4 915h0M1243.7 915h0M1247.6 915h0M1251.5 915h0M1259.3 915h0M1263.2 915h0M1077.5 918.9h0M1081.4 918.9h0M1243.7 918.9h0M1251.5 918.9h0M1255.4 918.9h0M1259.3 918.9h0M1263.2 918.9h0M1267.1 918.9h0M1077.5 922.8h0M1093.1 922.8h0M1097 922.8h0M1171.1 922.8h0M1175 922.8h0M1178.9 922.8h0M1182.8 922.8h0M1186.7 922.8h0M1247.6 922.8h0M1251.5 922.8h0M1259.3 922.8h0M1263.2 922.8h0M1267.1 922.8h0M1337.3 922.8h0M1341.2 922.8h0M1441.7 923.6h0M1445.6 923.6h0M1449.5 923.6h0M1587.7 923.6h0M1591.6 923.6h0M1595.5 923.6h0M1089.2 926.7h0M1097 926.7h0M1100.9 926.7h0M1151.6 926.7h0M1159.4 926.7h0M1171.1 926.7h0M1175 926.7h0M1178.9 926.7h0M1182.8 926.7h0M1186.7 926.7h0M1235.9 926.7h0M1243.7 926.7h0M1247.6 926.7h0M1251.5 926.7h0M1255.4 926.7h0M1263.2 926.7h0M1267.1 926.7h0M1271 926.7h0M1333.4 926.7h0M1337.3 926.7h0M1341.2 926.7h0M1345.1 926.7h0M1445.6 927.5h0M1449.5 927.5h0M1457.3 927.5h0M1587.7 927.5h0M1595.5 927.5h0M1603.3 927.5h0M1073.6 930.6h0M1085.3 930.6h0M1097 930.6h0M1104.8 930.6h0M1139.9 930.6h0M1143.8 930.6h0M1147.7 930.6h0M1151.6 930.6h0M1155.5 930.6h0M1159.4 930.6h0M1171.1 930.6h0M1175 930.6h0M1178.9 930.6h0M1182.8 930.6h0M1186.7 930.6h0M1190.6 930.6h0M1243.7 930.6h0M1247.6 930.6h0M1251.5 930.6h0M1259.3 930.6h0M1267.1 930.6h0M1271 930.6h0M1274.9 930.6h0M1313.9 930.6h0M1325.6 930.6h0M1329.5 930.6h0M1333.4 930.6h0M1337.3 930.6h0M1341.2 930.6h0M1345.1 930.6h0M1441.7 931.4h0M1445.6 931.4h0M1449.5 931.4h0M1457.3 931.4h0M1465.1 931.4h0M1469 931.4h0M1472.9 931.4h0M1488.5 931.4h0M1587.7 931.4h0M1591.6 931.4h0M1599.4 931.4h0M1607.2 931.4h0M1611.1 931.4h0M1615 931.4h0M1618.9 931.4h0M1630.6 931.4h0M1634.5 931.4h0M1073.6 934.5h0M1077.5 934.5h0M1081.4 934.5h0M1097 934.5h0M1100.9 934.5h0M1104.8 934.5h0M1108.7 934.5h0M1112.6 934.5h0M1139.9 934.5h0M1143.8 934.5h0M1147.7 934.5h0M1151.6 934.5h0M1171.1 934.5h0M1175 934.5h0M1178.9 934.5h0M1182.8 934.5h0M1186.7 934.5h0M1239.8 934.5h0M1243.7 934.5h0M1247.6 934.5h0M1251.5 934.5h0M1255.4 934.5h0M1259.3 934.5h0M1263.2 934.5h0M1267.1 934.5h0M1271 934.5h0M1274.9 934.5h0M1282.7 934.5h0M1313.9 934.5h0M1317.8 934.5h0M1321.7 934.5h0M1325.6 934.5h0M1329.5 934.5h0M1333.4 934.5h0M1337.3 934.5h0M1341.2 934.5h0M1345.1 934.5h0M1430 935.3h0M1433.9 935.3h0M1441.7 935.3h0M1445.6 935.3h0M1449.5 935.3h0M1453.4 935.3h0M1457.3 935.3h0M1461.2 935.3h0M1465.1 935.3h0M1469 935.3h0M1476.8 935.3h0M1576 935.3h0M1579.9 935.3h0M1583.8 935.3h0M1591.6 935.3h0M1595.5 935.3h0M1599.4 935.3h0M1603.3 935.3h0M1611.1 935.3h0M1073.6 938.4h0M1077.5 938.4h0M1081.4 938.4h0M1085.3 938.4h0M1097 938.4h0M1100.9 938.4h0M1104.8 938.4h0M1108.7 938.4h0M1112.6 938.4h0M1116.5 938.4h0M1120.4 938.4h0M1124.3 938.4h0M1128.2 938.4h0M1136 938.4h0M1139.9 938.4h0M1143.8 938.4h0M1147.7 938.4h0M1151.6 938.4h0M1155.5 938.4h0M1167.2 938.4h0M1171.1 938.4h0M1175 938.4h0M1178.9 938.4h0M1182.8 938.4h0M1243.7 938.4h0M1247.6 938.4h0M1251.5 938.4h0M1255.4 938.4h0M1259.3 938.4h0M1267.1 938.4h0M1271 938.4h0M1282.7 938.4h0M1286.6 938.4h0M1290.5 938.4h0M1294.4 938.4h0M1302.2 938.4h0M1306.1 938.4h0M1310 938.4h0M1313.9 938.4h0M1317.8 938.4h0M1321.7 938.4h0M1325.6 938.4h0M1329.5 938.4h0M1333.4 938.4h0M1337.3 938.4h0M1341.2 938.4h0M1430 939.2h0M1441.7 939.2h0M1445.6 939.2h0M1461.2 939.2h0M1465.1 939.2h0M1472.9 939.2h0M1476.8 939.2h0M1480.7 939.2h0M1484.6 939.2h0M1488.5 939.2h0M1496.3 939.2h0M1576 939.2h0M1579.9 939.2h0M1583.8 939.2h0M1587.7 939.2h0M1591.6 939.2h0M1607.2 939.2h0M1615 939.2h0M1618.9 939.2h0M1622.8 939.2h0M1630.6 939.2h0M1634.5 939.2h0M1073.6 942.3h0M1077.5 942.3h0M1081.4 942.3h0M1085.3 942.3h0M1089.2 942.3h0M1093.1 942.3h0M1097 942.3h0M1100.9 942.3h0M1104.8 942.3h0M1108.7 942.3h0M1112.6 942.3h0M1116.5 942.3h0M1120.4 942.3h0M1124.3 942.3h0M1128.2 942.3h0M1132.1 942.3h0M1136 942.3h0M1139.9 942.3h0M1143.8 942.3h0M1147.7 942.3h0M1159.4 942.3h0M1163.3 942.3h0M1171.1 942.3h0M1175 942.3h0M1178.9 942.3h0M1182.8 942.3h0M1186.7 942.3h0M1190.6 942.3h0M1251.5 942.3h0M1255.4 942.3h0M1259.3 942.3h0M1263.2 942.3h0M1267.1 942.3h0M1278.8 942.3h0M1282.7 942.3h0M1286.6 942.3h0M1290.5 942.3h0M1294.4 942.3h0M1298.3 942.3h0M1302.2 942.3h0M1310 942.3h0M1313.9 942.3h0M1317.8 942.3h0M1337.3 942.3h0M1341.2 942.3h0M1345.1 942.3h0M1441.7 943.1h0M1476.8 943.1h0M1484.6 943.1h0M1488.5 943.1h0M1587.7 943.1h0M1622.8 943.1h0M1626.7 943.1h0M1630.6 943.1h0M1634.5 943.1h0M1077.5 946.2h0M1081.4 946.2h0M1085.3 946.2h0M1089.2 946.2h0M1108.7 946.2h0M1112.6 946.2h0M1116.5 946.2h0M1120.4 946.2h0M1124.3 946.2h0M1128.2 946.2h0M1132.1 946.2h0M1136 946.2h0M1139.9 946.2h0M1143.8 946.2h0M1147.7 946.2h0M1151.6 946.2h0M1155.5 946.2h0M1159.4 946.2h0M1163.3 946.2h0M1167.2 946.2h0M1171.1 946.2h0M1175 946.2h0M1178.9 946.2h0M1182.8 946.2h0M1186.7 946.2h0M1190.6 946.2h0M1251.5 946.2h0M1255.4 946.2h0M1259.3 946.2h0M1263.2 946.2h0M1271 946.2h0M1274.9 946.2h0M1278.8 946.2h0M1282.7 946.2h0M1286.6 946.2h0M1294.4 946.2h0M1298.3 946.2h0M1302.2 946.2h0M1306.1 946.2h0M1310 946.2h0M1313.9 946.2h0M1317.8 946.2h0M1321.7 946.2h0M1341.2 946.2h0M1081.4 950.1h0M1085.3 950.1h0M1089.2 950.1h0M1097 950.1h0M1108.7 950.1h0M1112.6 950.1h0M1116.5 950.1h0M1120.4 950.1h0M1124.3 950.1h0M1128.2 950.1h0M1132.1 950.1h0M1136 950.1h0M1139.9 950.1h0M1143.8 950.1h0M1147.7 950.1h0M1151.6 950.1h0M1159.4 950.1h0M1163.3 950.1h0M1167.2 950.1h0M1171.1 950.1h0M1175 950.1h0M1178.9 950.1h0M1182.8 950.1h0M1186.7 950.1h0M1190.6 950.1h0M1251.5 950.1h0M1255.4 950.1h0M1259.3 950.1h0M1263.2 950.1h0M1267.1 950.1h0M1271 950.1h0M1274.9 950.1h0M1278.8 950.1h0M1282.7 950.1h0M1286.6 950.1h0M1290.5 950.1h0M1294.4 950.1h0M1298.3 950.1h0M1302.2 950.1h0M1306.1 950.1h0M1310 950.1h0M1313.9 950.1h0M1317.8 950.1h0M1337.3 950.1h0M1085.3 954h0M1089.2 954h0M1093.1 954h0M1097 954h0M1104.8 954h0M1108.7 954h0M1112.6 954h0M1116.5 954h0M1120.4 954h0M1124.3 954h0M1128.2 954h0M1132.1 954h0M1136 954h0M1147.7 954h0M1151.6 954h0M1159.4 954h0M1163.3 954h0M1190.6 954h0M1255.4 954h0M1259.3 954h0M1263.2 954h0M1267.1 954h0M1271 954h0M1274.9 954h0M1278.8 954h0M1282.7 954h0M1286.6 954h0M1290.5 954h0M1294.4 954h0M1298.3 954h0M1302.2 954h0M1306.1 954h0M1310 954h0M1313.9 954h0M1317.8 954h0M1321.7 954h0M1333.4 954h0M1089.2 957.9h0M1093.1 957.9h0M1108.7 957.9h0M1112.6 957.9h0M1116.5 957.9h0M1132.1 957.9h0M1136 957.9h0M1139.9 957.9h0M1143.8 957.9h0M1147.7 957.9h0M1151.6 957.9h0M1155.5 957.9h0M1259.3 957.9h0M1267.1 957.9h0M1271 957.9h0M1274.9 957.9h0M1278.8 957.9h0M1282.7 957.9h0M1286.6 957.9h0M1290.5 957.9h0M1294.4 957.9h0M1298.3 957.9h0M1302.2 957.9h0M1306.1 957.9h0M1310 957.9h0M1313.9 957.9h0M1317.8 957.9h0M1321.7 957.9h0M1093.1 961.8h0M1097 961.8h0M1108.7 961.8h0M1112.6 961.8h0M1116.5 961.8h0M1124.3 961.8h0M1128.2 961.8h0M1136 961.8h0M1139.9 961.8h0M1143.8 961.8h0M1147.7 961.8h0M1151.6 961.8h0M1267.1 961.8h0M1271 961.8h0M1274.9 961.8h0M1278.8 961.8h0M1282.7 961.8h0M1286.6 961.8h0M1290.5 961.8h0M1294.4 961.8h0M1298.3 961.8h0M1302.2 961.8h0M1306.1 961.8h0M1310 961.8h0M1313.9 961.8h0M1317.8 961.8h0M1097 965.7h0M1100.9 965.7h0M1104.8 965.7h0M1108.7 965.7h0M1112.6 965.7h0M1116.5 965.7h0M1120.4 965.7h0M1124.3 965.7h0M1136 965.7h0M1139.9 965.7h0M1143.8 965.7h0M1147.7 965.7h0M1274.9 965.7h0M1278.8 965.7h0M1282.7 965.7h0M1290.5 965.7h0M1294.4 965.7h0M1298.3 965.7h0M1306.1 965.7h0M1310 965.7h0M1104.8 969.6h0M1108.7 969.6h0M1112.6 969.6h0M1116.5 969.6h0M1120.4 969.6h0M1124.3 969.6h0M1128.2 969.6h0M1132.1 969.6h0M1274.9 969.6h0M1278.8 969.6h0M1282.7 969.6h0M1286.6 969.6h0M1290.5 969.6h0M1294.4 969.6h0M1298.3 969.6h0M1302.2 969.6h0M1104.8 973.5h0M1108.7 973.5h0M1112.6 973.5h0M1116.5 973.5h0M1128.2 973.5h0" stroke="#f3140a"/><path d="M1174.7 152.6h0M1151.3 164.3h0M1120.1 168.2h0M1131.8 168.2h0M1104.5 191.6h0M1151.3 199.4h0M1120.1 207.2h0M1119 280.9h0M1284.5 280.9h0M1146.3 394h0M1254.8 495.6h0M1239.2 499.5h0M1247 503.4h0M1434.5 517.8h0M1190.7 520.9h0M1481.3 521.7h0M1128.3 524.8h0M1116.6 528.7h0M1313.3 530.7h0M1089.3 532.6h0M1313.3 534.6h0M1077.5 685.6h0M1186.7 685.6h0M1243.7 687.9h0M1190.6 689.5h0M1159.4 693.4h0M1274.9 695.7h0M1437.8 699.8h0M1615 699.8h0M1247.6 703.5h0M1430 707.6h0M1472.9 707.6h0M1607.2 707.6h0M1618.9 707.6h0M1278.8 715.2h0M1116.5 720.7h0M1120.4 720.7h0M1077.5 915h0M1081.4 922.8h0M1441.7 927.5h0M1077.5 930.6h0M1484.6 931.4h0M1163.3 938.4h0M1151.6 942.3h0M1247.6 942.3h0M1104.8 950.1h0M1321.7 950.1h0M1155.5 954h0M1124.3 957.9h0M1271 965.7h0" stroke="#f6321e"/><path d="M1088.9 140.9h0M1100.6 144.8h0M1108.4 160.4h0M1131.8 172.1h0M1116.2 176h0M1127.9 187.7h0M1112.3 191.6h0M1159.1 191.6h0M1288.4 292.6h0M1450 386.5h0M1150.2 390.1h0M1446.1 394.3h0M1461.7 398.2h0M1489 398.2h0M1160.6 478.7h0M1160.6 482.6h0M1160.6 486.5h0M1302.4 499.9h0M1133.3 502h0M1167.3 505.3h0M1258.7 507.3h0M1077.6 509.2h0M1085.4 509.2h0M1089.3 509.2h0M1175.1 509.2h0M1603.6 510h0M1254.8 511.2h0M1313.3 511.2h0M1159.5 513.1h0M1163.4 513.1h0M1309.4 515.1h0M1163.4 517h0M1179 517h0M1580.2 517.8h0M1591.9 517.8h0M1286 519h0M1344.5 519h0M1305.5 522.9h0M1328.9 522.9h0M1077.6 524.8h0M1140 524.8h0M1147.8 524.8h0M1163.4 524.8h0M1634.8 525.6h0M1274.3 526.8h0M1140 528.7h0M1293.8 530.7h0M1282.1 534.6h0M1305.5 534.6h0M1266.5 538.5h0M1309.4 538.5h0M1147.8 540.4h0M1120.5 548.2h0M1143.9 548.2h0M1235.9 668.4h0M1089.2 673.9h0M1251.5 676.2h0M1255.4 676.2h0M1243.7 680.1h0M1263.2 684h0M1263.2 687.9h0M1267.1 687.9h0M1073.6 689.5h0M1243.7 691.8h0M1081.4 693.4h0M1100.9 693.4h0M1147.7 693.4h0M1171.1 693.4h0M1186.7 693.4h0M1271 695.7h0M1449.5 695.9h0M1116.5 697.3h0M1143.8 697.3h0M1186.7 697.3h0M1337.3 699.6h0M1587.7 699.8h0M1267.1 703.5h0M1329.5 703.5h0M1437.8 703.7h0M1441.7 703.7h0M1457.3 703.7h0M1595.5 703.7h0M1607.2 703.7h0M1437.8 707.6h0M1461.2 707.6h0M1263.2 711.3h0M1480.7 711.5h0M1484.6 711.5h0M1104.8 716.8h0M1108.7 724.6h0M1112.6 724.6h0M1116.5 724.6h0M1286.6 726.9h0M1282.7 730.8h0M1156.9 897.2h0M1235.9 903.3h0M1247.6 911.1h0M1145 916.6h0M1085.3 918.9h0M1255.4 922.8h0M1333.4 922.8h0M1085.3 926.7h0M1093.1 926.7h0M1155.5 926.7h0M1167.2 926.7h0M1239.8 926.7h0M1259.3 926.7h0M1321.7 926.7h0M1453.4 927.5h0M1100.9 930.6h0M1263.2 930.6h0M1317.8 930.6h0M1155.5 934.5h0M1310 934.5h0M1190.6 938.4h0M1278.8 938.4h0M1345.1 938.4h0M1433.9 939.2h0M1626.7 939.2h0M1325.6 942.3h0M1329.5 942.3h0M1333.4 942.3h0M1104.8 946.2h0M1247.6 946.2h0M1290.5 946.2h0M1325.6 950.1h0M1100.9 954h0M1139.9 954h0M1143.8 954h0M1329.5 954h0M1097 957.9h0M1128.2 957.9h0M1263.2 957.9h0M1132.1 965.7h0" stroke="#f85239"/><path d="M1085 152.6h0M1096.7 152.6h0M1155.2 156.5h0M1147.4 160.4h0M1159.1 164.3h0M1081.1 172.1h0M1135.7 183.8h0M1100.6 191.6h0M1124 207.2h0M1122.9 273.1h0M1130.7 276.9h0M1276.7 284.8h0M1134.6 390.1h0M1446.1 390.4h0M1477.3 402.1h0M1085.4 501.4h0M1325 511.2h0M1603.6 513.9h0M1619.2 513.9h0M1344.5 515.1h0M1325 519h0M1147.8 520.9h0M1175.1 520.9h0M1438.4 521.7h0M1465.7 521.7h0M1286 522.9h0M1332.8 522.9h0M1143.9 524.8h0M1485.2 525.6h0M1489.1 525.6h0M1254.8 526.8h0M1297.7 526.8h0M1336.7 526.8h0M1128.3 528.7h0M1171.2 528.7h0M1293.8 546.3h0M1112.7 548.2h0M1235.9 672.3h0M1239.8 672.3h0M1235.9 676.2h0M1089.2 685.6h0M1239.8 687.9h0M1081.4 689.5h0M1235.9 691.8h0M1329.5 691.8h0M1449.5 692h0M1085.3 693.4h0M1167.2 693.4h0M1175 693.4h0M1243.7 695.7h0M1255.4 695.7h0M1267.1 695.7h0M1329.5 695.7h0M1155.5 697.3h0M1313.9 699.6h0M1591.6 699.8h0M1155.5 701.2h0M1163.3 701.2h0M1263.2 703.5h0M1449.5 703.7h0M1313.9 707.4h0M1333.4 707.4h0M1626.7 707.6h0M1642.3 707.6h0M1108.7 709h0M1630.6 711.5h0M1093.1 716.8h0M1282.7 726.9h0M1278.8 730.8h0M1286.6 734.7h0M1164.3 901.3h0M1164.3 908.8h0M1255.4 915h0M1089.2 918.9h0M1247.6 918.9h0M1325.6 926.7h0M1081.4 930.6h0M1089.2 930.6h0M1437.8 931.4h0M1583.8 931.4h0M1603.3 931.4h0M1163.3 934.5h0M1167.2 934.5h0M1437.8 935.3h0M1622.8 935.3h0M1089.2 938.4h0M1093.1 938.4h0M1159.4 938.4h0M1186.7 938.4h0M1155.5 942.3h0M1306.1 942.3h0M1321.7 942.3h0M1286.6 965.7h0M1100.9 969.6h0M1120.4 973.5h0M1124.3 973.5h0" stroke="#fa6e52"/><path d="M1155.2 140.9h0M1088.9 148.7h0M1139.6 168.2h0M1147.4 168.2h0M1159.1 183.8h0M1131.8 187.7h0M1127.9 191.6h0M1130.7 273.1h0M1292.3 284.8h0M1119 397.9h0M1081.5 493.6h0M1235.3 499.5h0M1266.5 503.4h0M1450.1 510h0M1438.4 513.9h0M1615.3 513.9h0M1634.8 513.9h0M1274.3 515.1h0M1278.2 515.1h0M1282.1 515.1h0M1077.6 517h0M1623.1 517.8h0M1124.4 520.9h0M1496.9 521.7h0M1584.1 521.7h0M1101 524.8h0M1108.8 524.8h0M1132.2 524.8h0M1171.2 524.8h0M1301.6 526.8h0M1305.5 526.8h0M1175.1 528.7h0M1309.4 530.7h0M1332.8 530.7h0M1155.6 536.5h0M1120.5 544.3h0M1282.1 546.3h0M1293.8 550.2h0M1085.3 670h0M1247.6 676.2h0M1267.1 691.8h0M1333.4 691.8h0M1341.2 691.8h0M1591.6 692h0M1151.6 693.4h0M1263.2 695.7h0M1441.7 699.8h0M1453.4 699.8h0M1599.4 699.8h0M1325.6 703.5h0M1469 703.7h0M1306.1 707.4h0M1484.6 707.6h0M1155.5 709h0M1329.5 711.3h0M1310 715.2h0M1097 716.8h0M1100.9 716.8h0M1271 726.9h0M1278.8 734.7h0M1141.2 916.6h0M1077.5 926.7h0M1591.6 927.5h0M1599.4 927.5h0M1167.2 930.6h0M1239.8 930.6h0M1255.4 930.6h0M1453.4 931.4h0M1461.2 931.4h0M1595.5 931.4h0M1089.2 934.5h0M1190.6 934.5h0M1587.7 935.3h0M1607.2 935.3h0M1615 935.3h0M1263.2 938.4h0M1274.9 938.4h0M1298.3 938.4h0M1437.8 939.2h0M1469 939.2h0M1611.1 939.2h0M1642.3 939.2h0M1271 942.3h0M1274.9 942.3h0M1480.7 943.1h0M1097 946.2h0M1093.1 950.1h0M1155.5 950.1h0M1325.6 954h0M1100.9 957.9h0M1104.8 957.9h0M1325.6 957.9h0M1132.1 961.8h0M1128.2 965.7h0M1136 969.6h0M1132.1 973.5h0" stroke="#fb866a"/><path d="M1100.6 148.7h0M1159.1 168.2h0M1151.3 172.1h0M1112.3 176h0M1119 276.9h0M1122.9 276.9h0M1126.8 276.9h0M1119 386.2h0M1122.9 386.2h0M1126.8 386.2h0M1438.3 386.5h0M1461.7 386.5h0M1492.9 402.1h0M1496.8 402.1h0M1243.1 487.8h0M1152.7 494.3h0M1160.6 494.3h0M1247 499.5h0M1250.9 499.5h0M1438.4 510h0M1461.8 510h0M1584.1 510h0M1607.5 510h0M1243.1 511.2h0M1258.7 511.2h0M1143.9 513.1h0M1143.9 517h0M1167.3 517h0M1120.5 520.9h0M1140 520.9h0M1136.1 524.8h0M1175.1 524.8h0M1493 525.6h0M1496.9 525.6h0M1638.7 525.6h0M1642.6 525.6h0M1328.9 526.8h0M1190.7 528.7h0M1250.9 530.7h0M1155.6 540.4h0M1147.8 544.3h0M1289.9 546.3h0M1108.8 552.1h0M1120.5 552.1h0M1085.3 677.8h0M1251.5 680.1h0M1093.1 685.6h0M1077.5 689.5h0M1167.2 689.5h0M1263.2 691.8h0M1239.8 695.7h0M1437.8 695.9h0M1461.2 695.9h0M1583.8 695.9h0M1607.2 695.9h0M1255.4 699.6h0M1259.3 699.6h0M1263.2 699.6h0M1278.8 699.6h0M1321.7 699.6h0M1267.1 707.4h0M1492.4 711.5h0M1496.3 711.5h0M1638.4 711.5h0M1642.3 711.5h0M1089.2 716.8h0M1302.2 723h0M1317.8 723h0M1321.7 723h0M1274.9 730.8h0M1282.7 734.7h0M1093.1 918.9h0M1329.5 926.7h0M1437.8 927.5h0M1461.2 927.5h0M1583.8 927.5h0M1607.2 927.5h0M1163.3 930.6h0M1235.9 930.6h0M1085.3 934.5h0M1093.1 934.5h0M1278.8 934.5h0M1306.1 934.5h0M1132.1 938.4h0M1492.4 943.1h0M1496.3 943.1h0M1638.4 943.1h0M1642.3 943.1h0M1093.1 946.2h0M1100.9 946.2h0M1267.1 946.2h0M1337.3 946.2h0M1333.4 950.1h0M1186.7 954h0M1120.4 957.9h0M1100.9 961.8h0M1104.8 961.8h0M1120.4 961.8h0M1302.2 965.7h0" stroke="#fc9e82"/><path d="M1143.5 164.3h0M1155.2 168.2h0M1085 176h0M1250.9 491.7h0M1326.1 492.4h0M1144.9 494.3h0M1089.3 505.3h0M1278.2 511.2h0M1140 517h0M1132.2 520.9h0M1136.1 520.9h0M1282.1 522.9h0M1190.7 524.8h0M1332.8 526.8h0M1167.3 528.7h0M1101 552.1h0M1112.7 552.1h0M1239.8 676.2h0M1243.7 676.2h0M1251.5 687.9h0M1097 689.5h0M1089.2 693.4h0M1163.3 693.4h0M1190.6 693.4h0M1235.9 907.2h0M1085.3 915h0M1089.2 922.8h0M1073.6 926.7h0M1163.3 926.7h0M1321.7 930.6h0M1329.5 946.2h0M1333.4 946.2h0M1100.9 950.1h0M1329.5 950.1h0" stroke="#fdb29b"/><path d="M1166.9 152.6h0M1155.2 164.3h0M1151.3 168.2h0M1160.6 490.4h0M1322.4 492.4h0M1081.5 497.5h0M1081.5 505.3h0M1085.4 505.3h0M1243.1 507.3h0M1081.5 509.2h0M1247.6 687.9h0M1100.9 689.5h0M1251.5 695.7h0M1159.4 697.3h0M1345.1 699.6h0M1155.5 705.1h0M1085.3 922.8h0M1167.2 942.3h0M1325.6 946.2h0" stroke="#fec6b4"/><path d="M1159.1 156.5h0M1254.8 491.7h0M1148.7 494.3h0M1243.1 499.5h0M1077.6 501.4h0M1077.6 513.1h0M1077.5 677.8h0M1329.5 707.4h0M1255.4 911.1h0M1081.4 926.7h0" stroke="#fbd6ca"/><path d="M1250.9 495.6h0M1077.6 497.5h0M1081.5 501.4h0M1250.9 507.3h0M1077.5 681.7h0M1255.4 684h0M1073.6 685.6h0M1089.2 689.5h0M1243.7 922.8h0M1093.1 930.6h0M1159.4 934.5h0" stroke="#f6e1df"/><path d="M1247 487.8h0M1235.3 503.4h0M1243.1 503.4h0M1247 507.3h0M1077.5 673.9h0M1081.4 685.6h0M1085.3 685.6h0M1141.2 687.1h0M1239.8 922.8h0" stroke="#f0ecf4"/><path d="M1137 505.9h0M1247.6 680.1h0M1247.6 684h0M1251.5 691.8h0M1247.6 907.2h0M1235.9 911.1h0M1239.8 911.1h0M1239.8 918.9h0" stroke="#e2daf6"/><path d="M1306.6 495.9h0M1141.2 502h0M1077.6 505.3h0M1302.4 515.3h0M1133.3 517.4h0M1330.3 535.7h0M1255.4 680.1h0M1243.7 684h0M1315.1 691.2h0M1239.8 691.8h0M1156.9 719.4h0M1326.7 722.7h0M1308.4 730.6h0M1160.5 893.4h0M1152.8 912.6h0M1089.2 915h0M1252.1 950.2h0" stroke="#d4c7f9"/><path d="M1318.2 492.4h0M1156.6 494.3h0M1310.3 495.9h0M1318.2 496.4h0M1326.1 496.4h0M1141.2 498.1h0M1314.5 499.9h0M1144.9 502h0M1310.9 691.2h0M1141.2 726.8h0M1164.3 897.2h0M1235.9 918.9h0" stroke="#c5b4fb"/><path d="M1236.6 484.1h0M1322.4 496.4h0M1137.4 498.1h0M1156.6 498.1h0M1251.6 531.6h0M1247.6 672.3h0M1251.5 684h0M1239.8 915h0" stroke="#b6a0fd"/><path d="M1239.8 907.2h0M1243.7 907.2h0M1235.9 915h0M1235.9 922.8h0" stroke="#a68cff"/><path d="M1148.7 498.1h0M1152.7 498.1h0M1310.3 499.9h0" stroke="#9477ff"/></g>
<g fill="none" stroke-linecap="round" stroke-width="4.3"><path d="M1879.1 597.2h0M1867.4 601.1h0M1847.9 605h0M1859.6 605h0M1890.8 608.9h0M1890.8 612.8h0M1894.7 612.8h0M1890.8 616.7h0M1840.1 624.5h0M1890.8 624.5h0M1894.7 624.5h0M1840.1 628.4h0M1847.9 628.4h0M1883 628.4h0M1844 632.3h0M1879.1 632.3h0M1844 636.2h0M1847.9 636.2h0M1863.5 651.8h0M1867.4 651.8h0M1836.2 659.6h0M1847.9 659.6h0M1844 663.5h0M1673.1 666.9h0M1692.6 666.9h0M1696.5 666.9h0M1700.4 666.9h0M1677 674.7h0M1684.8 674.7h0M1704.3 674.7h0M1708.2 674.7h0M1712.1 674.7h0M1692.6 678.6h0M1696.5 678.6h0M1704.3 678.6h0M1708.2 678.6h0M1712.1 678.6h0M1716 678.6h0M1782.3 678.6h0M1786.2 678.6h0M1790.1 678.6h0M1794 678.6h0M1797.9 678.6h0M1801.8 678.6h0M1805.7 678.6h0M1809.6 678.6h0M1680.9 682.5h0M1692.6 682.5h0M1704.3 682.5h0M1708.2 682.5h0M1716 682.5h0M1719.9 682.5h0M1762.8 682.5h0M1766.7 682.5h0M1770.6 682.5h0M1774.5 682.5h0M1778.4 682.5h0M1782.3 682.5h0M1786.2 682.5h0M1790.1 682.5h0M1794 682.5h0M1797.9 682.5h0M1805.7 682.5h0M1809.6 682.5h0M1813.5 682.5h0M1825.2 682.5h0M1684.8 686.4h0M1688.7 686.4h0M1692.6 686.4h0M1696.5 686.4h0M1700.4 686.4h0M1704.3 686.4h0M1708.2 686.4h0M1712.1 686.4h0M1716 686.4h0M1719.9 686.4h0M1723.8 686.4h0M1727.7 686.4h0M1758.9 686.4h0M1762.8 686.4h0M1770.6 686.4h0M1774.5 686.4h0M1778.4 686.4h0M1782.3 686.4h0M1797.9 686.4h0M1805.7 686.4h0M1809.6 686.4h0M1813.5 686.4h0M1817.4 686.4h0M1821.3 686.4h0M1684.8 690.3h0M1688.7 690.3h0M1692.6 690.3h0M1696.5 690.3h0M1700.4 690.3h0M1712.1 690.3h0M1716 690.3h0M1719.9 690.3h0M1723.8 690.3h0M1727.7 690.3h0M1755 690.3h0M1762.8 690.3h0M1766.7 690.3h0M1770.6 690.3h0M1774.5 690.3h0M1778.4 690.3h0M1782.3 690.3h0M1794 690.3h0M1797.9 690.3h0M1805.7 690.3h0M1809.6 690.3h0M1813.5 690.3h0M1817.4 690.3h0M1821.3 690.3h0M1825.2 690.3h0M1840.8 690.3h0M1688.7 694.2h0M1692.6 694.2h0M1696.5 694.2h0M1700.4 694.2h0M1704.3 694.2h0M1708.2 694.2h0M1712.1 694.2h0M1716 694.2h0M1719.9 694.2h0M1723.8 694.2h0M1743.3 694.2h0M1747.2 694.2h0M1751.1 694.2h0M1755 694.2h0M1758.9 694.2h0M1762.8 694.2h0M1766.7 694.2h0M1770.6 694.2h0M1774.5 694.2h0M1778.4 694.2h0M1782.3 694.2h0M1797.9 694.2h0M1801.8 694.2h0M1805.7 694.2h0M1809.6 694.2h0M1813.5 694.2h0M1821.3 694.2h0M1836.9 694.2h0M1840.8 694.2h0M1852.5 694.2h0M1860.3 694.2h0M1692.6 698.1h0M1696.5 698.1h0M1700.4 698.1h0M1704.3 698.1h0M1708.2 698.1h0M1712.1 698.1h0M1716 698.1h0M1755 698.1h0M1758.9 698.1h0M1762.8 698.1h0M1766.7 698.1h0M1770.6 698.1h0M1774.5 698.1h0M1778.4 698.1h0M1782.3 698.1h0M1786.2 698.1h0M1790.1 698.1h0M1794 698.1h0M1797.9 698.1h0M1801.8 698.1h0M1805.7 698.1h0M1809.6 698.1h0M1813.5 698.1h0M1817.4 698.1h0M1821.3 698.1h0M1825.2 698.1h0M1829.1 698.1h0M1836.9 698.1h0M1840.8 698.1h0M1844.7 698.1h0M1848.6 698.1h0M1852.5 698.1h0M1856.4 698.1h0M1860.3 698.1h0M1864.2 698.1h0M1692.6 702h0M1696.5 702h0M1700.4 702h0M1704.3 702h0M1708.2 702h0M1731.6 702h0M1739.4 702h0M1747.2 702h0M1751.1 702h0M1755 702h0M1758.9 702h0M1762.8 702h0M1766.7 702h0M1770.6 702h0M1774.5 702h0M1778.4 702h0M1782.3 702h0M1786.2 702h0M1790.1 702h0M1794 702h0M1797.9 702h0M1801.8 702h0M1805.7 702h0M1813.5 702h0M1817.4 702h0M1821.3 702h0M1829.1 702h0M1833 702h0M1836.9 702h0M1840.8 702h0M1844.7 702h0M1848.6 702h0M1852.5 702h0M1860.3 702h0M1696.5 705.9h0M1700.4 705.9h0M1704.3 705.9h0M1708.2 705.9h0M1712.1 705.9h0M1735.5 705.9h0M1743.3 705.9h0M1751.1 705.9h0M1755 705.9h0M1758.9 705.9h0M1762.8 705.9h0M1766.7 705.9h0M1770.6 705.9h0M1774.5 705.9h0M1778.4 705.9h0M1782.3 705.9h0M1786.2 705.9h0M1797.9 705.9h0M1801.8 705.9h0M1805.7 705.9h0M1809.6 705.9h0M1821.3 705.9h0M1825.2 705.9h0M1829.1 705.9h0M1833 705.9h0M1836.9 705.9h0M1840.8 705.9h0M1875.9 705.9h0M1700.4 709.8h0M1704.3 709.8h0M1708.2 709.8h0M1716 709.8h0M1731.6 709.8h0M1739.4 709.8h0M1743.3 709.8h0M1747.2 709.8h0M1758.9 709.8h0M1762.8 709.8h0M1766.7 709.8h0M1821.3 709.8h0M1825.2 709.8h0M1829.1 709.8h0M1833 709.8h0M1836.9 709.8h0M1844.7 709.8h0M1864.2 709.8h0M1872 709.8h0M1700.4 713.7h0M1704.3 713.7h0M1712.1 713.7h0M1719.9 713.7h0M1723.8 713.7h0M1743.3 713.7h0M1747.2 713.7h0M1751.1 713.7h0M1755 713.7h0M1817.4 713.7h0M1821.3 713.7h0M1825.2 713.7h0M1829.1 713.7h0M1833 713.7h0M1840.8 713.7h0M1844.7 713.7h0M1868.1 713.7h0M1872 713.7h0M1719.9 717.6h0M1723.8 717.6h0M1727.7 717.6h0M1731.6 717.6h0M1735.5 717.6h0M1739.4 717.6h0M1743.3 717.6h0M1747.2 717.6h0M1751.1 717.6h0M1755 717.6h0M1829.1 717.6h0M1836.9 717.6h0M1840.8 717.6h0M1852.5 717.6h0M1868.1 717.6h0M1872 717.6h0M1875.9 717.6h0M1879.8 717.6h0M1719.9 721.5h0M1723.8 721.5h0M1727.7 721.5h0M1731.6 721.5h0M1735.5 721.5h0M1739.4 721.5h0M1743.3 721.5h0M1747.2 721.5h0M1751.1 721.5h0M1825.2 721.5h0M1833 721.5h0M1836.9 721.5h0M1840.8 721.5h0M1844.7 721.5h0M1848.6 721.5h0M1864.2 721.5h0M1868.1 721.5h0M1872 721.5h0M1875.9 721.5h0M1879.8 721.5h0M1883.7 721.5h0M1723.8 725.4h0M1727.7 725.4h0M1743.3 725.4h0M1747.2 725.4h0M1833 725.4h0M1840.8 725.4h0M1844.7 725.4h0M1848.6 725.4h0M1852.5 725.4h0M1864.2 725.4h0M1825.2 729.3h0M1829.1 729.3h0M1833 729.3h0M1836.9 729.3h0M1840.8 729.3h0M1844.7 729.3h0M1848.6 729.3h0M1852.5 729.3h0M1856.4 729.3h0M1860.3 729.3h0M1868.1 729.3h0M1872 729.3h0M1883.7 729.3h0M1887.6 729.3h0M1817.4 733.2h0M1821.3 733.2h0M1825.2 733.2h0M1829.1 733.2h0M1833 733.2h0M1836.9 733.2h0M1840.8 733.2h0M1844.7 733.2h0M1848.6 733.2h0M1852.5 733.2h0M1856.4 733.2h0M1860.3 733.2h0M1864.2 733.2h0M1868.1 733.2h0M1817.4 737.1h0M1821.3 737.1h0M1825.2 737.1h0M1829.1 737.1h0M1833 737.1h0M1836.9 737.1h0M1840.8 737.1h0M1844.7 737.1h0M1848.6 737.1h0M1856.4 737.1h0M1860.3 737.1h0M1864.2 737.1h0M1868.1 737.1h0M1872 737.1h0M1875.9 737.1h0M1879.8 737.1h0M1887.6 737.1h0M1817.4 741h0M1821.3 741h0M1825.2 741h0M1829.1 741h0M1833 741h0M1840.8 741h0M1848.6 741h0M1852.5 741h0M1856.4 741h0M1864.2 741h0M1868.1 741h0M1875.9 741h0M1879.8 741h0M1883.7 741h0M1817.4 744.9h0M1821.3 744.9h0M1825.2 744.9h0M1829.1 744.9h0M1844.7 744.9h0M1848.6 744.9h0M1856.4 744.9h0M1860.3 744.9h0M1875.9 744.9h0M1883.7 744.9h0M1887.6 744.9h0M1891.5 744.9h0M1813.5 748.8h0M1821.3 748.8h0M1844.7 748.8h0M1856.4 748.8h0M1860.3 748.8h0M1864.2 748.8h0M1872 748.8h0M1879.8 748.8h0M1883.7 748.8h0M1887.6 748.8h0M1891.5 748.8h0M1817.4 752.7h0M1825.2 752.7h0M1836.9 752.7h0M1875.9 752.7h0M1879.8 752.7h0M1883.7 752.7h0M1887.6 752.7h0M1891.5 752.7h0M1817.4 756.6h0M1829.1 756.6h0M1860.3 756.6h0M1872 756.6h0M1879.8 756.6h0M1883.7 756.6h0M1887.6 756.6h0M1891.5 756.6h0M1813.5 760.5h0M1817.4 760.5h0M1860.3 760.5h0M1868.1 760.5h0M1872 760.5h0M1879.8 760.5h0M1883.7 760.5h0M1887.6 760.5h0M1891.5 760.5h0M1817.4 764.4h0M1821.3 764.4h0M1825.2 764.4h0M1829.1 764.4h0M1836.9 764.4h0M1868.1 764.4h0M1887.6 764.4h0M1891.5 764.4h0M1813.5 768.3h0M1817.4 768.3h0M1821.3 768.3h0M1825.2 768.3h0M1829.1 768.3h0M1833 768.3h0M1836.9 768.3h0M1864.2 768.3h0M1868.1 768.3h0M1872 768.3h0M1875.9 768.3h0M1883.7 768.3h0M1887.6 768.3h0M1891.5 768.3h0M1813.5 772.2h0M1817.4 772.2h0M1821.3 772.2h0M1825.2 772.2h0M1829.1 772.2h0M1833 772.2h0M1840.8 772.2h0M1860.3 772.2h0M1864.2 772.2h0M1868.1 772.2h0M1872 772.2h0M1875.9 772.2h0M1883.7 772.2h0M1887.6 772.2h0M1891.5 772.2h0M1813.5 776.1h0M1817.4 776.1h0M1821.3 776.1h0M1829.1 776.1h0M1833 776.1h0M1836.9 776.1h0M1840.8 776.1h0M1856.4 776.1h0M1860.3 776.1h0M1864.2 776.1h0M1872 776.1h0M1875.9 776.1h0M1879.8 776.1h0M1887.6 776.1h0M1813.5 780h0M1821.3 780h0M1825.2 780h0M1833 780h0M1840.8 780h0M1860.3 780h0M1872 780h0M1875.9 780h0M1879.8 780h0M1883.7 780h0M1887.6 780h0M1809.6 783.9h0M1813.5 783.9h0M1817.4 783.9h0M1825.2 783.9h0M1833 783.9h0M1840.8 783.9h0M1856.4 783.9h0M1860.3 783.9h0M1864.2 783.9h0M1872 783.9h0M1875.9 783.9h0M1879.8 783.9h0M1883.7 783.9h0M1887.6 783.9h0M1809.6 787.8h0M1813.5 787.8h0M1817.4 787.8h0M1829.1 787.8h0M1833 787.8h0M1836.9 787.8h0M1860.3 787.8h0M1864.2 787.8h0M1872 787.8h0M1875.9 787.8h0M1883.7 787.8h0M1813.5 791.7h0M1817.4 791.7h0M1829.1 791.7h0M1833 791.7h0M1852.5 791.7h0M1856.4 791.7h0M1860.3 791.7h0M1868.1 791.7h0M1872 791.7h0M1875.9 791.7h0M1879.8 791.7h0M1813.5 795.6h0M1817.4 795.6h0M1825.2 795.6h0M1829.1 795.6h0M1852.5 795.6h0M1856.4 795.6h0M1864.2 795.6h0M1868.1 795.6h0M1872 795.6h0M1825.2 799.5h0M1829.1 799.5h0M1848.6 799.5h0M1856.4 799.5h0M1860.3 799.5h0M1864.2 799.5h0M1868.1 799.5h0M1833 803.4h0M1840.8 803.4h0M2129.2 831.7h0M2144.8 831.7h0M2109.7 835.6h0M2113.6 835.6h0M2117.5 835.6h0M2125.3 835.6h0M2144.8 835.6h0M2148.7 835.6h0M2152.6 835.6h0M2156.5 835.6h0M1844 836h0M1847.9 836h0M1851.8 836h0M1859.6 836h0M2109.7 839.5h0M2117.5 839.5h0M2121.4 839.5h0M2140.9 839.5h0M2144.8 839.5h0M2148.7 839.5h0M2152.6 839.5h0M2156.5 839.5h0M1844 839.9h0M1859.6 839.9h0M2109.7 843.4h0M2137 843.4h0M2144.8 843.4h0M2148.7 843.4h0M2152.6 843.4h0M2156.5 843.4h0M2160.4 843.4h0M1844 843.8h0M1855.7 843.8h0M1894.7 843.8h0M2105.8 847.3h0M2113.6 847.3h0M2117.5 847.3h0M2121.4 847.3h0M2140.9 847.3h0M2144.8 847.3h0M2148.7 847.3h0M2152.6 847.3h0M2160.4 847.3h0M1894.7 847.7h0M2109.7 851.2h0M2113.6 851.2h0M2117.5 851.2h0M2140.9 851.2h0M2144.8 851.2h0M2148.7 851.2h0M2152.6 851.2h0M1886.9 851.6h0M2121.4 855.1h0M2148.7 855.1h0M2152.6 855.1h0M1886.9 855.5h0M1890.8 855.5h0M2117.5 859h0M2121.4 859h0M2140.9 859h0M2144.8 859h0M2148.7 859h0M2152.6 859h0M2160.4 859h0M1886.9 859.4h0M2113.6 862.9h0M2121.4 862.9h0M2125.3 862.9h0M2140.9 862.9h0M2144.8 862.9h0M2152.6 862.9h0M1879.1 863.3h0M1883 863.3h0M1886.9 863.3h0M2109.7 866.8h0M2117.5 866.8h0M2140.9 866.8h0M2121.4 870.7h0M2129.2 870.7h0M2140.9 870.7h0M2105.8 874.6h0M2121.4 874.6h0M2125.3 874.6h0M2101.9 878.5h0M2105.8 878.5h0M2109.7 878.5h0M2117.5 878.5h0M2121.4 878.5h0M2125.3 878.5h0M2109.7 882.4h0M2125.3 882.4h0M2129.2 882.4h0M1840.1 882.8h0M1855.7 882.8h0M2101.9 886.3h0M2105.8 886.3h0M2121.4 886.3h0M2125.3 886.3h0M1851.8 886.7h0M1863.5 886.7h0M2101.9 890.2h0M2109.7 890.2h0M2113.6 890.2h0M2117.5 890.2h0M1836.2 890.6h0M1680.9 894h0M2109.7 894.1h0M1696.5 897.9h0M1700.4 897.9h0M1953.7 898.8h0M1957.6 898.8h0M1961.5 898.8h0M1688.7 901.8h0M1696.5 901.8h0M1704.3 901.8h0M1708.2 901.8h0M1942 902.7h0M1949.8 902.7h0M1953.7 902.7h0M1957.6 902.7h0M1961.5 902.7h0M1969.3 902.7h0M1684.8 905.7h0M1688.7 905.7h0M1700.4 905.7h0M1708.2 905.7h0M1938.1 906.6h0M1942 906.6h0M1945.9 906.6h0M1949.8 906.6h0M1953.7 906.6h0M1680.9 909.6h0M1684.8 909.6h0M1688.7 909.6h0M1700.4 909.6h0M1704.3 909.6h0M1708.2 909.6h0M1712.1 909.6h0M1716 909.6h0M1782.3 909.6h0M1790.1 909.6h0M1794 909.6h0M1797.9 909.6h0M1801.8 909.6h0M1805.7 909.6h0M1942 910.5h0M1945.9 910.5h0M1949.8 910.5h0M1953.7 910.5h0M1957.6 910.5h0M1961.5 910.5h0M1969.3 910.5h0M1981 910.5h0M1984.9 910.5h0M2051.2 910.5h0M2059 910.5h0M2066.8 910.5h0M2070.7 910.5h0M2074.6 910.5h0M2078.5 910.5h0M2082.4 910.5h0M1684.8 913.5h0M1688.7 913.5h0M1692.6 913.5h0M1700.4 913.5h0M1704.3 913.5h0M1708.2 913.5h0M1712.1 913.5h0M1716 913.5h0M1719.9 913.5h0M1762.8 913.5h0M1766.7 913.5h0M1770.6 913.5h0M1774.5 913.5h0M1778.4 913.5h0M1782.3 913.5h0M1786.2 913.5h0M1790.1 913.5h0M1805.7 913.5h0M1809.6 913.5h0M1813.5 913.5h0M1817.4 913.5h0M1821.3 913.5h0M1945.9 914.4h0M1949.8 914.4h0M1957.6 914.4h0M1961.5 914.4h0M1965.4 914.4h0M1969.3 914.4h0M1973.2 914.4h0M1977.1 914.4h0M1981 914.4h0M1984.9 914.4h0M2035.6 914.4h0M2043.4 914.4h0M2047.3 914.4h0M2051.2 914.4h0M2055.1 914.4h0M2059 914.4h0M2062.9 914.4h0M2066.8 914.4h0M2070.7 914.4h0M2074.6 914.4h0M2078.5 914.4h0M2082.4 914.4h0M2086.3 914.4h0M2090.2 914.4h0M2094.1 914.4h0M1700.4 917.4h0M1704.3 917.4h0M1708.2 917.4h0M1712.1 917.4h0M1719.9 917.4h0M1723.8 917.4h0M1727.7 917.4h0M1758.9 917.4h0M1762.8 917.4h0M1766.7 917.4h0M1770.6 917.4h0M1774.5 917.4h0M1778.4 917.4h0M1782.3 917.4h0M1786.2 917.4h0M1790.1 917.4h0M1794 917.4h0M1797.9 917.4h0M1805.7 917.4h0M1809.6 917.4h0M1813.5 917.4h0M1817.4 917.4h0M1821.3 917.4h0M1825.2 917.4h0M1833 917.4h0M1949.8 918.3h0M1953.7 918.3h0M1957.6 918.3h0M1961.5 918.3h0M1965.4 918.3h0M1969.3 918.3h0M1973.2 918.3h0M1977.1 918.3h0M1981 918.3h0M1988.8 918.3h0M2031.7 918.3h0M2035.6 918.3h0M2043.4 918.3h0M2047.3 918.3h0M2051.2 918.3h0M2059 918.3h0M2062.9 918.3h0M2066.8 918.3h0M2070.7 918.3h0M2074.6 918.3h0M2078.5 918.3h0M2082.4 918.3h0M2086.3 918.3h0M2090.2 918.3h0M2094.1 918.3h0M2098 918.3h0M2101.9 918.3h0M1684.8 921.3h0M1688.7 921.3h0M1692.6 921.3h0M1696.5 921.3h0M1700.4 921.3h0M1708.2 921.3h0M1712.1 921.3h0M1719.9 921.3h0M1723.8 921.3h0M1727.7 921.3h0M1731.6 921.3h0M1758.9 921.3h0M1762.8 921.3h0M1766.7 921.3h0M1770.6 921.3h0M1774.5 921.3h0M1778.4 921.3h0M1782.3 921.3h0M1786.2 921.3h0M1790.1 921.3h0M1794 921.3h0M1797.9 921.3h0M1801.8 921.3h0M1805.7 921.3h0M1809.6 921.3h0M1813.5 921.3h0M1817.4 921.3h0M1821.3 921.3h0M1829.1 921.3h0M1836.9 921.3h0M1840.8 921.3h0M1953.7 922.2h0M1957.6 922.2h0M1961.5 922.2h0M1965.4 922.2h0M1969.3 922.2h0M1973.2 922.2h0M1977.1 922.2h0M1981 922.2h0M1984.9 922.2h0M1988.8 922.2h0M1992.7 922.2h0M1996.6 922.2h0M2023.9 922.2h0M2027.8 922.2h0M2031.7 922.2h0M2035.6 922.2h0M2039.5 922.2h0M2043.4 922.2h0M2047.3 922.2h0M2055.1 922.2h0M2059 922.2h0M2062.9 922.2h0M2066.8 922.2h0M2070.7 922.2h0M2074.6 922.2h0M2078.5 922.2h0M2082.4 922.2h0M2086.3 922.2h0M2090.2 922.2h0M2094.1 922.2h0M2101.9 922.2h0M2105.8 922.2h0M1692.6 925.2h0M1696.5 925.2h0M1700.4 925.2h0M1704.3 925.2h0M1719.9 925.2h0M1723.8 925.2h0M1727.7 925.2h0M1731.6 925.2h0M1735.5 925.2h0M1739.4 925.2h0M1743.3 925.2h0M1747.2 925.2h0M1751.1 925.2h0M1755 925.2h0M1758.9 925.2h0M1762.8 925.2h0M1766.7 925.2h0M1770.6 925.2h0M1774.5 925.2h0M1778.4 925.2h0M1782.3 925.2h0M1786.2 925.2h0M1790.1 925.2h0M1794 925.2h0M1797.9 925.2h0M1801.8 925.2h0M1805.7 925.2h0M1809.6 925.2h0M1813.5 925.2h0M1817.4 925.2h0M1821.3 925.2h0M1825.2 925.2h0M1829.1 925.2h0M1844.7 925.2h0M1848.6 925.2h0M1852.5 925.2h0M1860.3 925.2h0M1957.6 926.1h0M1961.5 926.1h0M1965.4 926.1h0M1969.3 926.1h0M1973.2 926.1h0M1977.1 926.1h0M1981 926.1h0M1984.9 926.1h0M1988.8 926.1h0M1992.7 926.1h0M1996.6 926.1h0M2000.5 926.1h0M2004.4 926.1h0M2008.3 926.1h0M2012.2 926.1h0M2020 926.1h0M2023.9 926.1h0M2027.8 926.1h0M2031.7 926.1h0M2035.6 926.1h0M2039.5 926.1h0M2047.3 926.1h0M2055.1 926.1h0M2059 926.1h0M2062.9 926.1h0M2066.8 926.1h0M2070.7 926.1h0M2074.6 926.1h0M2082.4 926.1h0M2086.3 926.1h0M2090.2 926.1h0M2098 926.1h0M2101.9 926.1h0M2105.8 926.1h0M2109.7 926.1h0M2113.6 926.1h0M2117.5 926.1h0M2121.4 926.1h0M2125.3 926.1h0M2129.2 926.1h0M2133.1 926.1h0M1700.4 929.1h0M1704.3 929.1h0M1708.2 929.1h0M1719.9 929.1h0M1723.8 929.1h0M1727.7 929.1h0M1731.6 929.1h0M1735.5 929.1h0M1739.4 929.1h0M1743.3 929.1h0M1747.2 929.1h0M1751.1 929.1h0M1755 929.1h0M1758.9 929.1h0M1762.8 929.1h0M1766.7 929.1h0M1770.6 929.1h0M1774.5 929.1h0M1778.4 929.1h0M1782.3 929.1h0M1786.2 929.1h0M1790.1 929.1h0M1797.9 929.1h0M1801.8 929.1h0M1805.7 929.1h0M1809.6 929.1h0M1813.5 929.1h0M1817.4 929.1h0M1821.3 929.1h0M1825.2 929.1h0M1829.1 929.1h0M1833 929.1h0M1836.9 929.1h0M1840.8 929.1h0M1844.7 929.1h0M1848.6 929.1h0M1852.5 929.1h0M1856.4 929.1h0M1860.3 929.1h0M1864.2 929.1h0M1872 929.1h0M1957.6 930h0M1961.5 930h0M1965.4 930h0M1969.3 930h0M1981 930h0M1992.7 930h0M1996.6 930h0M2000.5 930h0M2004.4 930h0M2008.3 930h0M2016.1 930h0M2020 930h0M2023.9 930h0M2027.8 930h0M2031.7 930h0M2035.6 930h0M2039.5 930h0M2051.2 930h0M2055.1 930h0M2059 930h0M2062.9 930h0M2066.8 930h0M2070.7 930h0M2074.6 930h0M2078.5 930h0M2082.4 930h0M2086.3 930h0M2090.2 930h0M2101.9 930h0M2105.8 930h0M2109.7 930h0M2113.6 930h0M2117.5 930h0M2125.3 930h0M2129.2 930h0M2133.1 930h0M2137 930h0M1692.6 933h0M1696.5 933h0M1700.4 933h0M1704.3 933h0M1708.2 933h0M1712.1 933h0M1716 933h0M1719.9 933h0M1723.8 933h0M1731.6 933h0M1735.5 933h0M1743.3 933h0M1747.2 933h0M1751.1 933h0M1755 933h0M1758.9 933h0M1762.8 933h0M1766.7 933h0M1770.6 933h0M1774.5 933h0M1778.4 933h0M1782.3 933h0M1786.2 933h0M1794 933h0M1797.9 933h0M1801.8 933h0M1805.7 933h0M1809.6 933h0M1813.5 933h0M1817.4 933h0M1829.1 933h0M1833 933h0M1836.9 933h0M1840.8 933h0M1844.7 933h0M1848.6 933h0M1856.4 933h0M1868.1 933h0M1872 933h0M1961.5 933.9h0M1965.4 933.9h0M1969.3 933.9h0M1973.2 933.9h0M1977.1 933.9h0M1981 933.9h0M1984.9 933.9h0M1992.7 933.9h0M1996.6 933.9h0M2000.5 933.9h0M2004.4 933.9h0M2008.3 933.9h0M2012.2 933.9h0M2016.1 933.9h0M2023.9 933.9h0M2027.8 933.9h0M2031.7 933.9h0M2035.6 933.9h0M2039.5 933.9h0M2043.4 933.9h0M2047.3 933.9h0M2051.2 933.9h0M2055.1 933.9h0M2059 933.9h0M2062.9 933.9h0M2066.8 933.9h0M2070.7 933.9h0M2074.6 933.9h0M2078.5 933.9h0M2082.4 933.9h0M2086.3 933.9h0M2090.2 933.9h0M2098 933.9h0M2101.9 933.9h0M2105.8 933.9h0M2109.7 933.9h0M2113.6 933.9h0M2117.5 933.9h0M2133.1 933.9h0M1696.5 936.9h0M1700.4 936.9h0M1704.3 936.9h0M1708.2 936.9h0M1727.7 936.9h0M1739.4 936.9h0M1747.2 936.9h0M1751.1 936.9h0M1762.8 936.9h0M1770.6 936.9h0M1774.5 936.9h0M1782.3 936.9h0M1786.2 936.9h0M1797.9 936.9h0M1817.4 936.9h0M1821.3 936.9h0M1825.2 936.9h0M1829.1 936.9h0M1833 936.9h0M1836.9 936.9h0M1840.8 936.9h0M1844.7 936.9h0M1848.6 936.9h0M1852.5 936.9h0M1860.3 936.9h0M1864.2 936.9h0M1868.1 936.9h0M1872 936.9h0M1875.9 936.9h0M1879.8 936.9h0M1965.4 937.8h0M1969.3 937.8h0M1977.1 937.8h0M1981 937.8h0M1984.9 937.8h0M1988.8 937.8h0M1992.7 937.8h0M1996.6 937.8h0M2000.5 937.8h0M2004.4 937.8h0M2008.3 937.8h0M2012.2 937.8h0M2016.1 937.8h0M2020 937.8h0M2023.9 937.8h0M2027.8 937.8h0M2031.7 937.8h0M2035.6 937.8h0M2039.5 937.8h0M2043.4 937.8h0M2047.3 937.8h0M2062.9 937.8h0M2066.8 937.8h0M2070.7 937.8h0M2074.6 937.8h0M2078.5 937.8h0M2082.4 937.8h0M2086.3 937.8h0M2090.2 937.8h0M2094.1 937.8h0M2098 937.8h0M2101.9 937.8h0M2105.8 937.8h0M2109.7 937.8h0M2113.6 937.8h0M2117.5 937.8h0M2129.2 937.8h0M2133.1 937.8h0M1700.4 940.8h0M1708.2 940.8h0M1723.8 940.8h0M1731.6 940.8h0M1735.5 940.8h0M1739.4 940.8h0M1743.3 940.8h0M1747.2 940.8h0M1758.9 940.8h0M1762.8 940.8h0M1766.7 940.8h0M1817.4 940.8h0M1821.3 940.8h0M1825.2 940.8h0M1829.1 940.8h0M1836.9 940.8h0M1840.8 940.8h0M1844.7 940.8h0M1848.6 940.8h0M1852.5 940.8h0M1860.3 940.8h0M1872 940.8h0M1875.9 940.8h0M1879.8 940.8h0M1969.3 941.7h0M1973.2 941.7h0M1977.1 941.7h0M1981 941.7h0M1984.9 941.7h0M1988.8 941.7h0M1992.7 941.7h0M1996.6 941.7h0M2000.5 941.7h0M2004.4 941.7h0M2008.3 941.7h0M2012.2 941.7h0M2016.1 941.7h0M2020 941.7h0M2027.8 941.7h0M2031.7 941.7h0M2035.6 941.7h0M2039.5 941.7h0M2070.7 941.7h0M2074.6 941.7h0M2078.5 941.7h0M2082.4 941.7h0M2086.3 941.7h0M2090.2 941.7h0M2094.1 941.7h0M2098 941.7h0M2101.9 941.7h0M2105.8 941.7h0M2109.7 941.7h0M2113.6 941.7h0M2121.4 941.7h0M2125.3 941.7h0M2129.2 941.7h0M2133.1 941.7h0M2137 941.7h0M2144.8 941.7h0M1704.3 944.7h0M1716 944.7h0M1731.6 944.7h0M1735.5 944.7h0M1739.4 944.7h0M1743.3 944.7h0M1747.2 944.7h0M1755 944.7h0M1821.3 944.7h0M1825.2 944.7h0M1829.1 944.7h0M1833 944.7h0M1836.9 944.7h0M1840.8 944.7h0M1844.7 944.7h0M1852.5 944.7h0M1860.3 944.7h0M1864.2 944.7h0M1875.9 944.7h0M1879.8 944.7h0M1973.2 945.6h0M1977.1 945.6h0M1981 945.6h0M1984.9 945.6h0M1988.8 945.6h0M1992.7 945.6h0M1996.6 945.6h0M2000.5 945.6h0M2004.4 945.6h0M2008.3 945.6h0M2012.2 945.6h0M2016.1 945.6h0M2020 945.6h0M2023.9 945.6h0M2082.4 945.6h0M2086.3 945.6h0M2090.2 945.6h0M2094.1 945.6h0M2098 945.6h0M2101.9 945.6h0M2105.8 945.6h0M2109.7 945.6h0M2113.6 945.6h0M2125.3 945.6h0M2137 945.6h0M2140.9 945.6h0M2144.8 945.6h0M1708.2 948.6h0M1712.1 948.6h0M1716 948.6h0M1727.7 948.6h0M1731.6 948.6h0M1735.5 948.6h0M1739.4 948.6h0M1743.3 948.6h0M1747.2 948.6h0M1751.1 948.6h0M1825.2 948.6h0M1829.1 948.6h0M1833 948.6h0M1840.8 948.6h0M1844.7 948.6h0M1848.6 948.6h0M1856.4 948.6h0M1872 948.6h0M1875.9 948.6h0M1879.8 948.6h0M1977.1 949.5h0M1981 949.5h0M1984.9 949.5h0M1988.8 949.5h0M1992.7 949.5h0M1996.6 949.5h0M2000.5 949.5h0M2004.4 949.5h0M2008.3 949.5h0M2012.2 949.5h0M2016.1 949.5h0M2020 949.5h0M2023.9 949.5h0M2027.8 949.5h0M2094.1 949.5h0M2098 949.5h0M2101.9 949.5h0M2105.8 949.5h0M2109.7 949.5h0M2113.6 949.5h0M2117.5 949.5h0M2121.4 949.5h0M2125.3 949.5h0M2129.2 949.5h0M2144.8 949.5h0M2148.7 949.5h0M1712.1 952.5h0M1716 952.5h0M1723.8 952.5h0M1727.7 952.5h0M1731.6 952.5h0M1735.5 952.5h0M1739.4 952.5h0M1743.3 952.5h0M1751.1 952.5h0M1825.2 952.5h0M1829.1 952.5h0M1833 952.5h0M1836.9 952.5h0M1840.8 952.5h0M1844.7 952.5h0M1872 952.5h0M1875.9 952.5h0M1879.8 952.5h0M1883.7 952.5h0M1981 953.4h0M1984.9 953.4h0M1988.8 953.4h0M1992.7 953.4h0M1996.6 953.4h0M2000.5 953.4h0M2004.4 953.4h0M2020 953.4h0M2094.1 953.4h0M2098 953.4h0M2101.9 953.4h0M2105.8 953.4h0M2109.7 953.4h0M2113.6 953.4h0M2117.5 953.4h0M2121.4 953.4h0M2125.3 953.4h0M2129.2 953.4h0M2133.1 953.4h0M2144.8 953.4h0M1723.8 956.4h0M1727.7 956.4h0M1731.6 956.4h0M1735.5 956.4h0M1739.4 956.4h0M1743.3 956.4h0M1747.2 956.4h0M1829.1 956.4h0M1833 956.4h0M1836.9 956.4h0M1840.8 956.4h0M1844.7 956.4h0M1856.4 956.4h0M1864.2 956.4h0M1872 956.4h0M1875.9 956.4h0M1879.8 956.4h0M1883.7 956.4h0M1988.8 957.3h0M1992.7 957.3h0M1996.6 957.3h0M2000.5 957.3h0M2004.4 957.3h0M2008.3 957.3h0M2094.1 957.3h0M2098 957.3h0M2101.9 957.3h0M2105.8 957.3h0M2113.6 957.3h0M2117.5 957.3h0M2121.4 957.3h0M2125.3 957.3h0M2129.2 957.3h0M2137 957.3h0M2140.9 957.3h0M2144.8 957.3h0M2148.7 957.3h0M2152.6 957.3h0M1825.2 960.3h0M1833 960.3h0M1836.9 960.3h0M1840.8 960.3h0M1844.7 960.3h0M1848.6 960.3h0M1852.5 960.3h0M1856.4 960.3h0M1860.3 960.3h0M1864.2 960.3h0M1872 960.3h0M1875.9 960.3h0M1879.8 960.3h0M1883.7 960.3h0M2094.1 961.2h0M2098 961.2h0M2101.9 961.2h0M2105.8 961.2h0M2109.7 961.2h0M2113.6 961.2h0M2117.5 961.2h0M2121.4 961.2h0M2125.3 961.2h0M2133.1 961.2h0M2137 961.2h0M2140.9 961.2h0M2144.8 961.2h0M2148.7 961.2h0M1817.4 964.2h0M1821.3 964.2h0M1825.2 964.2h0M1829.1 964.2h0M1833 964.2h0M1836.9 964.2h0M1840.8 964.2h0M1844.7 964.2h0M1848.6 964.2h0M1852.5 964.2h0M1856.4 964.2h0M1860.3 964.2h0M1864.2 964.2h0M1868.1 964.2h0M1872 964.2h0M1875.9 964.2h0M1879.8 964.2h0M1887.6 964.2h0M2094.1 965.1h0M2098 965.1h0M2101.9 965.1h0M2109.7 965.1h0M2113.6 965.1h0M2117.5 965.1h0M2129.2 965.1h0M2137 965.1h0M2144.8 965.1h0M2148.7 965.1h0M1817.4 968.1h0M1821.3 968.1h0M1825.2 968.1h0M1829.1 968.1h0M1833 968.1h0M1836.9 968.1h0M1840.8 968.1h0M1844.7 968.1h0M1848.6 968.1h0M1852.5 968.1h0M1856.4 968.1h0M1860.3 968.1h0M1864.2 968.1h0M1868.1 968.1h0M1872 968.1h0M1875.9 968.1h0M1879.8 968.1h0M1883.7 968.1h0M2086.3 969h0M2090.2 969h0M2094.1 969h0M2098 969h0M2105.8 969h0M2109.7 969h0M2113.6 969h0M2133.1 969h0M2137 969h0M2140.9 969h0M2144.8 969h0M2148.7 969h0M2152.6 969h0M1817.4 972h0M1821.3 972h0M1825.2 972h0M1829.1 972h0M1833 972h0M1836.9 972h0M1840.8 972h0M1844.7 972h0M1848.6 972h0M1852.5 972h0M1856.4 972h0M1860.3 972h0M1864.2 972h0M1868.1 972h0M1872 972h0M1875.9 972h0M1879.8 972h0M1883.7 972h0M1887.6 972h0M1891.5 972h0M2082.4 972.9h0M2090.2 972.9h0M2098 972.9h0M2101.9 972.9h0M2109.7 972.9h0M2129.2 972.9h0M2140.9 972.9h0M2144.8 972.9h0M2148.7 972.9h0M2152.6 972.9h0M1817.4 975.9h0M1821.3 975.9h0M1825.2 975.9h0M1829.1 975.9h0M1833 975.9h0M1836.9 975.9h0M1840.8 975.9h0M1844.7 975.9h0M1848.6 975.9h0M1856.4 975.9h0M1860.3 975.9h0M1864.2 975.9h0M1868.1 975.9h0M1872 975.9h0M1875.9 975.9h0M1879.8 975.9h0M1883.7 975.9h0M1887.6 975.9h0M1891.5 975.9h0M2078.5 976.8h0M2082.4 976.8h0M2094.1 976.8h0M2098 976.8h0M2101.9 976.8h0M2105.8 976.8h0M2109.7 976.8h0M2113.6 976.8h0M2133.1 976.8h0M2137 976.8h0M2140.9 976.8h0M2148.7 976.8h0M2152.6 976.8h0M2156.5 976.8h0M1813.5 979.8h0M1817.4 979.8h0M1836.9 979.8h0M1840.8 979.8h0M1844.7 979.8h0M1868.1 979.8h0M1872 979.8h0M1879.8 979.8h0M1883.7 979.8h0M1887.6 979.8h0M1891.5 979.8h0M2078.5 980.7h0M2082.4 980.7h0M2090.2 980.7h0M2094.1 980.7h0M2098 980.7h0M2101.9 980.7h0M2133.1 980.7h0M2137 980.7h0M2140.9 980.7h0M2144.8 980.7h0M2148.7 980.7h0M2152.6 980.7h0M2156.5 980.7h0M1813.5 983.7h0M1829.1 983.7h0M1833 983.7h0M1836.9 983.7h0M1840.8 983.7h0M1844.7 983.7h0M1872 983.7h0M1875.9 983.7h0M1879.8 983.7h0M1883.7 983.7h0M1887.6 983.7h0M1891.5 983.7h0M2082.4 984.6h0M2086.3 984.6h0M2090.2 984.6h0M2094.1 984.6h0M2098 984.6h0M2133.1 984.6h0M2137 984.6h0M2140.9 984.6h0M2144.8 984.6h0M2148.7 984.6h0M1813.5 987.6h0M1829.1 987.6h0M1833 987.6h0M1836.9 987.6h0M1840.8 987.6h0M1860.3 987.6h0M1868.1 987.6h0M1872 987.6h0M1875.9 987.6h0M1879.8 987.6h0M1883.7 987.6h0M1887.6 987.6h0M1891.5 987.6h0M2074.6 988.5h0M2082.4 988.5h0M2086.3 988.5h0M2090.2 988.5h0M2094.1 988.5h0M2098 988.5h0M2101.9 988.5h0M2105.8 988.5h0M2109.7 988.5h0M2133.1 988.5h0M2144.8 988.5h0M2156.5 988.5h0M1813.5 991.5h0M1817.4 991.5h0M1821.3 991.5h0M1836.9 991.5h0M1840.8 991.5h0M1864.2 991.5h0M1872 991.5h0M1875.9 991.5h0M1879.8 991.5h0M1887.6 991.5h0M1891.5 991.5h0M2082.4 992.4h0M2086.3 992.4h0M2090.2 992.4h0M2094.1 992.4h0M2098 992.4h0M2101.9 992.4h0M2105.8 992.4h0M2109.7 992.4h0M2140.9 992.4h0M2156.5 992.4h0M1833 995.4h0M1875.9 995.4h0M1879.8 995.4h0M1883.7 995.4h0M2086.3 996.3h0M2098 996.3h0M2101.9 996.3h0M2105.8 996.3h0M2133.1 996.3h0M2152.6 996.3h0M1829.1 999.3h0M1833 999.3h0M1836.9 999.3h0M1844.7 999.3h0M1868.1 999.3h0M1872 999.3h0M1875.9 999.3h0M1883.7 999.3h0M1887.6 999.3h0M2078.5 1000.2h0M2082.4 1000.2h0M2101.9 1000.2h0M2133.1 1000.2h0M2137 1000.2h0M2144.8 1000.2h0M1833 1003.2h0M1840.8 1003.2h0M1844.7 1003.2h0M1864.2 1003.2h0M1868.1 1003.2h0M1875.9 1003.2h0M1879.8 1003.2h0M1887.6 1003.2h0M2078.5 1004.1h0M2082.4 1004.1h0M2086.3 1004.1h0M2090.2 1004.1h0M2098 1004.1h0M2101.9 1004.1h0M2133.1 1004.1h0M2137 1004.1h0M2156.5 1004.1h0M1817.4 1007.1h0M1829.1 1007.1h0M1833 1007.1h0M1836.9 1007.1h0M1840.8 1007.1h0M2078.5 1008h0M2082.4 1008h0M2090.2 1008h0M2098 1008h0M2101.9 1008h0M2105.8 1008h0M2109.7 1008h0M2129.2 1008h0M2133.1 1008h0M2140.9 1008h0M2148.7 1008h0M1813.5 1011h0M1821.3 1011h0M1833 1011h0M1836.9 1011h0M1872 1011h0M1879.8 1011h0M1887.6 1011h0M2078.5 1011.9h0M2086.3 1011.9h0M2090.2 1011.9h0M2094.1 1011.9h0M2101.9 1011.9h0M2105.8 1011.9h0M2109.7 1011.9h0M2113.6 1011.9h0M2117.5 1011.9h0M2121.4 1011.9h0M2125.3 1011.9h0M2129.2 1011.9h0M2133.1 1011.9h0M2137 1011.9h0M2144.8 1011.9h0M1809.6 1014.9h0M1813.5 1014.9h0M1817.4 1014.9h0M1829.1 1014.9h0M1833 1014.9h0M1836.9 1014.9h0M1840.8 1014.9h0M1844.7 1014.9h0M1872 1014.9h0M1875.9 1014.9h0M1879.8 1014.9h0M1883.7 1014.9h0M2078.5 1015.8h0M2082.4 1015.8h0M2086.3 1015.8h0M2090.2 1015.8h0M2098 1015.8h0M2101.9 1015.8h0M2105.8 1015.8h0M2109.7 1015.8h0M2113.6 1015.8h0M2117.5 1015.8h0M2121.4 1015.8h0M2125.3 1015.8h0M2129.2 1015.8h0M2137 1015.8h0M2140.9 1015.8h0M2148.7 1015.8h0M1809.6 1018.8h0M1813.5 1018.8h0M1817.4 1018.8h0M1825.2 1018.8h0M1840.8 1018.8h0M1844.7 1018.8h0M1848.6 1018.8h0M1852.5 1018.8h0M1856.4 1018.8h0M1860.3 1018.8h0M1864.2 1018.8h0M1868.1 1018.8h0M1872 1018.8h0M1875.9 1018.8h0M1879.8 1018.8h0M2078.5 1019.7h0M2082.4 1019.7h0M2086.3 1019.7h0M2090.2 1019.7h0M2094.1 1019.7h0M2098 1019.7h0M2101.9 1019.7h0M2105.8 1019.7h0M2109.7 1019.7h0M2113.6 1019.7h0M2117.5 1019.7h0M2121.4 1019.7h0M2125.3 1019.7h0M2129.2 1019.7h0M2133.1 1019.7h0M2137 1019.7h0M2140.9 1019.7h0M2144.8 1019.7h0M2148.7 1019.7h0M1813.5 1022.7h0M1817.4 1022.7h0M1821.3 1022.7h0M1829.1 1022.7h0M1833 1022.7h0M1836.9 1022.7h0M1840.8 1022.7h0M1844.7 1022.7h0M1848.6 1022.7h0M1864.2 1022.7h0M1868.1 1022.7h0M1872 1022.7h0M1875.9 1022.7h0M1879.8 1022.7h0M2082.4 1023.6h0M2086.3 1023.6h0M2090.2 1023.6h0M2094.1 1023.6h0M2098 1023.6h0M2101.9 1023.6h0M2113.6 1023.6h0M2121.4 1023.6h0M2129.2 1023.6h0M2133.1 1023.6h0M2137 1023.6h0M2140.9 1023.6h0M2144.8 1023.6h0M1813.5 1026.6h0M1817.4 1026.6h0M1821.3 1026.6h0M1825.2 1026.6h0M1833 1026.6h0M1840.8 1026.6h0M1848.6 1026.6h0M1856.4 1026.6h0M1864.2 1026.6h0M1868.1 1026.6h0M1875.9 1026.6h0M2086.3 1027.5h0M2090.2 1027.5h0M2094.1 1027.5h0M2098 1027.5h0M2105.8 1027.5h0M2113.6 1027.5h0M2133.1 1027.5h0M2137 1027.5h0M1813.5 1030.5h0M1817.4 1030.5h0M1821.3 1030.5h0M1825.2 1030.5h0M1836.9 1030.5h0M1840.8 1030.5h0M1844.7 1030.5h0M1848.6 1030.5h0M2090.2 1031.4h0M2094.1 1031.4h0M2109.7 1031.4h0M2113.6 1031.4h0M2121.4 1031.4h0M2125.3 1031.4h0M2129.2 1031.4h0M2133.1 1031.4h0M2137 1031.4h0M2140.9 1031.4h0M1833 1034.4h0M1836.9 1034.4h0M1840.8 1034.4h0M2098 1035.3h0M2101.9 1035.3h0M2105.8 1035.3h0M2109.7 1035.3h0M2113.6 1035.3h0M2117.5 1035.3h0M2121.4 1035.3h0" stroke="#f3140a"/><path d="M1890.8 605h0M1894.7 616.7h0M1875.2 620.6h0M1894.7 620.6h0M1836.2 632.3h0M1855.7 632.3h0M1844 640.1h0M1859.6 651.8h0M1688.7 670.8h0M1700.4 682.5h0M1801.8 682.5h0M1833 686.4h0M1704.3 690.3h0M1817.4 694.2h0M1829.1 694.2h0M1872 698.1h0M1864.2 702h0M1817.4 705.9h0M1848.6 705.9h0M1868.1 705.9h0M1872 705.9h0M1739.4 713.7h0M1883.7 713.7h0M1875.9 725.4h0M1864.2 729.3h0M1891.5 741h0M1825.2 756.6h0M1868.1 756.6h0M1848.6 776.1h0M1848.6 780h0M1840.8 787.8h0M1868.1 787.8h0M1875.9 795.6h0M1836.9 803.4h0M1886.9 836h0M2113.6 843.4h0M1863.5 843.8h0M2109.7 847.3h0M2125.3 851.2h0M2117.5 855.1h0M2137 859h0M2113.6 866.8h0M1879.1 867.2h0M2113.6 882.4h0M2117.5 886.3h0M1847.9 886.7h0M1844 890.6h0M1684.8 894h0M1847.9 894.5h0M1692.6 905.7h0M1704.3 905.7h0M1712.1 905.7h0M1786.2 909.6h0M1825.2 913.5h0M1988.8 914.4h0M1688.7 917.4h0M2039.5 918.3h0M1856.4 925.2h0M1692.6 929.1h0M1794 929.1h0M1973.2 930h0M1864.2 933h0M1719.9 936.9h0M1778.4 936.9h0M1813.5 936.9h0M2129.2 945.6h0M2148.7 945.6h0M1852.5 948.6h0M1883.7 948.6h0M2148.7 953.4h0M2109.7 957.3h0M2133.1 965.1h0M2086.3 972.9h0M2090.2 976.8h0M1817.4 987.6h0M1821.3 987.6h0M1825.2 987.6h0M1821.3 995.4h0M1860.3 995.4h0M1872 995.4h0M2109.7 996.3h0M2140.9 1004.1h0M1821.3 1007.1h0M1887.6 1007.1h0M2125.3 1008h0M2074.6 1011.9h0M2152.6 1011.9h0M1852.5 1014.9h0M2129.2 1027.5h0M1868.1 1030.5h0M2117.5 1031.4h0" stroke="#f6321e"/><path d="M1859.6 601.1h0M1863.5 601.1h0M1883 601.1h0M1844 605h0M1871.3 608.9h0M1859.6 616.7h0M1867.4 616.7h0M1840.1 620.6h0M1863.5 620.6h0M1871.3 620.6h0M1890.8 620.6h0M1871.3 624.5h0M1875.2 624.5h0M1879.1 624.5h0M1844 628.4h0M1851.8 628.4h0M1859.6 628.4h0M1847.9 640.1h0M1851.8 640.1h0M1863.5 640.1h0M1851.8 644h0M1855.7 644h0M1859.6 644h0M1836.2 655.7h0M1863.5 655.7h0M1855.7 659.6h0M1680.9 663h0M1684.8 663h0M1688.7 663h0M1673.1 670.8h0M1708.2 670.8h0M1673.1 674.7h0M1684.8 682.5h0M1712.1 682.5h0M1766.7 686.4h0M1801.8 686.4h0M1758.9 690.3h0M1829.1 690.3h0M1836.9 690.3h0M1786.2 694.2h0M1844.7 694.2h0M1856.4 694.2h0M1723.8 698.1h0M1743.3 698.1h0M1751.1 698.1h0M1735.5 702h0M1856.4 702h0M1868.1 702h0M1813.5 705.9h0M1844.7 705.9h0M1852.5 705.9h0M1864.2 705.9h0M1712.1 709.8h0M1751.1 709.8h0M1868.1 709.8h0M1716 713.7h0M1731.6 713.7h0M1836.9 713.7h0M1875.9 713.7h0M1712.1 717.6h0M1825.2 717.6h0M1833 717.6h0M1856.4 717.6h0M1852.5 721.5h0M1731.6 725.4h0M1739.4 725.4h0M1836.9 725.4h0M1860.3 725.4h0M1868.1 725.4h0M1872 733.2h0M1844.7 741h0M1872 741h0M1833 744.9h0M1868.1 744.9h0M1872 744.9h0M1879.8 744.9h0M1817.4 748.8h0M1829.1 748.8h0M1840.8 748.8h0M1872 752.7h0M1813.5 756.6h0M1821.3 756.6h0M1833 756.6h0M1875.9 756.6h0M1825.2 760.5h0M1875.9 764.4h0M1844.7 772.2h0M1829.1 780h0M1836.9 780h0M1852.5 787.8h0M1879.8 787.8h0M1821.3 791.7h0M1864.2 791.7h0M1833 795.6h0M1844.7 795.6h0M1821.3 799.5h0M1852.5 799.5h0M1863.5 832.1h0M1883 832.1h0M2121.4 835.6h0M2129.2 835.6h0M2140.9 835.6h0M2129.2 839.5h0M2137 839.5h0M1851.8 839.9h0M1855.7 839.9h0M1863.5 839.9h0M2125.3 843.4h0M1851.8 843.8h0M1851.8 847.7h0M1859.6 847.7h0M2156.5 851.2h0M2109.7 855.1h0M2137 855.1h0M2144.8 855.1h0M1847.9 855.5h0M1851.8 855.5h0M1894.7 855.5h0M2125.3 859h0M1867.4 859.4h0M1883 859.4h0M2125.3 866.8h0M2144.8 866.8h0M2129.2 874.6h0M1836.2 878.9h0M1844 878.9h0M1859.6 878.9h0M1867.4 878.9h0M2121.4 882.4h0M1851.8 882.8h0M1844 886.7h0M1855.7 886.7h0M1859.6 886.7h0M2105.8 890.2h0M1847.9 890.6h0M1851.8 890.6h0M1938.1 894.9h0M1680.9 901.8h0M1938.1 902.7h0M1677 905.7h0M1696.5 905.7h0M1969.3 906.6h0M1692.6 909.6h0M2047.3 910.5h0M1794 913.5h0M1992.7 918.3h0M2027.8 918.3h0M1704.3 921.3h0M1755 921.3h0M1833 921.3h0M2051.2 922.2h0M2098 922.2h0M1712.1 925.2h0M1840.8 925.2h0M2078.5 926.1h0M2094.1 926.1h0M1696.5 929.1h0M1716 929.1h0M1977.1 930h0M1984.9 930h0M1988.8 930h0M1727.7 933h0M2094.1 933.9h0M1731.6 936.9h0M1743.3 936.9h0M1755 936.9h0M2125.3 937.8h0M1712.1 940.8h0M1727.7 940.8h0M1751.1 940.8h0M1813.5 940.8h0M1833 940.8h0M1723.8 944.7h0M2117.5 945.6h0M2121.4 945.6h0M2133.1 945.6h0M1719.9 948.6h0M1836.9 948.6h0M2090.2 949.5h0M2137 949.5h0M1719.9 952.5h0M1747.2 952.5h0M1860.3 952.5h0M2016.1 953.4h0M2137 953.4h0M1852.5 956.4h0M2012.2 957.3h0M1829.1 960.3h0M1868.1 960.3h0M2129.2 961.2h0M2152.6 961.2h0M2140.9 965.1h0M2137 972.9h0M2144.8 976.8h0M1825.2 979.8h0M1833 979.8h0M1864.2 979.8h0M1875.9 979.8h0M2109.7 980.7h0M1817.4 983.7h0M1868.1 983.7h0M2152.6 984.6h0M2156.5 984.6h0M2137 988.5h0M2140.9 988.5h0M2148.7 988.5h0M2078.5 992.4h0M2144.8 992.4h0M1836.9 995.4h0M1868.1 995.4h0M1887.6 995.4h0M1891.5 995.4h0M2148.7 1000.2h0M1879.8 1007.1h0M2121.4 1008h0M2137 1008h0M1809.6 1011h0M1829.1 1011h0M1848.6 1011h0M1883.7 1011h0M2082.4 1011.9h0M1821.3 1014.9h0M1825.2 1014.9h0M2094.1 1015.8h0M2133.1 1015.8h0M1821.3 1018.8h0M1829.1 1018.8h0M1833 1018.8h0M1836.9 1018.8h0M1856.4 1022.7h0M2105.8 1023.6h0M2109.7 1023.6h0M1836.9 1026.6h0M2140.9 1027.5h0M2144.8 1027.5h0M1829.1 1030.5h0" stroke="#f85239"/><path d="M1875.2 601.1h0M1851.8 605h0M1855.7 616.7h0M1883 616.7h0M1855.7 620.6h0M1867.4 620.6h0M1871.3 628.4h0M1879.1 628.4h0M1847.9 632.3h0M1851.8 632.3h0M1859.6 632.3h0M1863.5 632.3h0M1875.2 636.2h0M1871.3 640.1h0M1875.2 640.1h0M1847.9 644h0M1847.9 647.9h0M1859.6 647.9h0M1847.9 663.5h0M1684.8 670.8h0M1692.6 670.8h0M1688.7 678.6h0M1696.5 682.5h0M1786.2 686.4h0M1825.2 686.4h0M1801.8 690.3h0M1739.4 694.2h0M1794 694.2h0M1825.2 694.2h0M1712.1 702h0M1719.9 702h0M1743.3 702h0M1809.6 702h0M1731.6 705.9h0M1723.8 709.8h0M1755 709.8h0M1879.8 709.8h0M1727.7 713.7h0M1712.1 721.5h0M1860.3 721.5h0M1829.1 725.4h0M1836.9 741h0M1887.6 741h0M1813.5 752.7h0M1868.1 752.7h0M1821.3 760.5h0M1829.1 760.5h0M1833 760.5h0M1840.8 760.5h0M1833 764.4h0M1840.8 764.4h0M1860.3 764.4h0M1879.8 768.3h0M1883.7 776.1h0M1821.3 783.9h0M1836.9 791.7h0M1848.6 795.6h0M1860.3 795.6h0M1836.9 799.5h0M2137 831.7h0M1875.2 832.1h0M2113.6 839.5h0M1847.9 839.9h0M1883 839.9h0M2121.4 843.4h0M1847.9 843.8h0M1859.6 843.8h0M1886.9 843.8h0M2125.3 847.3h0M2121.4 851.2h0M2160.4 851.2h0M1844 851.6h0M2125.3 855.1h0M2133.1 855.1h0M2156.5 855.1h0M1844 855.5h0M1871.3 855.5h0M2105.8 859h0M2133.1 859h0M1879.1 859.4h0M2105.8 862.9h0M2129.2 862.9h0M2133.1 866.8h0M1871.3 867.2h0M2109.7 874.6h0M2117.5 874.6h0M1863.5 875h0M1840.1 890.6h0M1673.1 894h0M1942 898.8h0M1700.4 901.8h0M1957.6 906.6h0M1809.6 909.6h0M1973.2 910.5h0M2039.5 914.4h0M1984.9 918.3h0M2055.1 918.3h0M1825.2 921.3h0M1949.8 922.2h0M1688.7 925.2h0M1708.2 925.2h0M1833 925.2h0M2043.4 926.1h0M1868.1 929.1h0M2098 930h0M1825.2 933h0M1852.5 933h0M1988.8 933.9h0M2129.2 933.9h0M1712.1 936.9h0M2121.4 937.8h0M1719.9 940.8h0M1755 940.8h0M1864.2 940.8h0M1868.1 940.8h0M2023.9 941.7h0M1700.4 944.7h0M1758.9 944.7h0M1848.6 944.7h0M2031.7 945.6h0M2008.3 953.4h0M2152.6 953.4h0M2105.8 965.1h0M2125.3 969h0M2129.2 969h0M2094.1 972.9h0M2133.1 972.9h0M1821.3 983.7h0M2101.9 984.6h0M2109.7 984.6h0M1864.2 987.6h0M2152.6 988.5h0M1883.7 991.5h0M1813.5 995.4h0M1817.4 995.4h0M1864.2 995.4h0M2082.4 996.3h0M2090.2 996.3h0M2094.1 996.3h0M2140.9 996.3h0M2144.8 996.3h0M1840.8 999.3h0M2090.2 1000.2h0M2152.6 1000.2h0M2125.3 1004.1h0M2144.8 1004.1h0M1868.1 1007.1h0M2086.3 1008h0M2098 1011.9h0M1860.3 1014.9h0M1864.2 1014.9h0M1883.7 1018.8h0M1844.7 1026.6h0M1860.3 1026.6h0M2101.9 1027.5h0M2109.7 1027.5h0M1864.2 1030.5h0M2101.9 1031.4h0" stroke="#fa6e52"/><path d="M1886.9 605h0M1840.1 612.8h0M1855.7 612.8h0M1851.8 616.7h0M1847.9 624.5h0M1855.7 624.5h0M1867.4 628.4h0M1840.1 659.6h0M1677 666.9h0M1688.7 674.7h0M1677 678.6h0M1821.3 682.5h0M1790.1 686.4h0M1829.1 686.4h0M1708.2 690.3h0M1731.6 690.3h0M1786.2 690.3h0M1790.1 690.3h0M1833 690.3h0M1727.7 694.2h0M1848.6 694.2h0M1719.9 698.1h0M1735.5 698.1h0M1833 698.1h0M1825.2 702h0M1875.9 702h0M1716 705.9h0M1856.4 705.9h0M1879.8 705.9h0M1735.5 709.8h0M1813.5 709.8h0M1817.4 709.8h0M1848.6 709.8h0M1856.4 709.8h0M1735.5 713.7h0M1860.3 713.7h0M1864.2 713.7h0M1879.8 713.7h0M1844.7 717.6h0M1848.6 717.6h0M1883.7 717.6h0M1883.7 725.4h0M1883.7 733.2h0M1852.5 737.1h0M1883.7 737.1h0M1860.3 741h0M1825.2 748.8h0M1836.9 748.8h0M1864.2 752.7h0M1864.2 756.6h0M1883.7 764.4h0M1836.9 772.2h0M1809.6 776.1h0M1852.5 776.1h0M1868.1 780h0M1825.2 787.8h0M1840.8 791.7h0M1821.3 795.6h0M1840.8 795.6h0M1840.8 799.5h0M1859.6 832.1h0M2117.5 843.4h0M2140.9 843.4h0M1867.4 843.8h0M2133.1 847.3h0M1855.7 847.7h0M2129.2 851.2h0M1840.1 851.6h0M1859.6 851.6h0M2105.8 855.1h0M1859.6 855.5h0M1863.5 855.5h0M1879.1 855.5h0M2109.7 862.9h0M2117.5 862.9h0M2133.1 862.9h0M2125.3 870.7h0M1863.5 871.1h0M1867.4 875h0M1847.9 882.8h0M1867.4 882.8h0M2109.7 886.3h0M1836.2 886.7h0M1855.7 890.6h0M1677 897.9h0M1945.9 898.8h0M1949.8 898.8h0M1677 901.8h0M1965.4 902.7h0M1680.9 905.7h0M1696.5 909.6h0M1965.4 910.5h0M1977.1 910.5h0M1680.9 913.5h0M1801.8 913.5h0M1684.8 917.4h0M1696.5 917.4h0M1801.8 917.4h0M1716 921.3h0M1836.9 925.2h0M2043.4 930h0M1739.4 933h0M1821.3 933h0M2121.4 933.9h0M2140.9 933.9h0M1716 936.9h0M1758.9 936.9h0M1766.7 936.9h0M1809.6 936.9h0M1856.4 940.8h0M1719.9 944.7h0M1727.7 944.7h0M1751.1 944.7h0M1856.4 944.7h0M1723.8 948.6h0M1864.2 948.6h0M1868.1 948.6h0M1856.4 952.5h0M1848.6 956.4h0M1887.6 960.3h0M1883.7 964.2h0M2125.3 965.1h0M2152.6 965.1h0M1829.1 979.8h0M1856.4 979.8h0M1860.3 979.8h0M2086.3 980.7h0M1833 991.5h0M2074.6 992.4h0M2133.1 992.4h0M2137 992.4h0M2148.7 992.4h0M1836.9 1003.2h0M1860.3 1003.2h0M1883.7 1003.2h0M2094.1 1004.1h0M2105.8 1004.1h0M2148.7 1004.1h0M1809.6 1007.1h0M1813.5 1007.1h0M1844.7 1007.1h0M1864.2 1007.1h0M1872 1007.1h0M1817.4 1011h0M1844.7 1011h0M1848.6 1014.9h0M1887.6 1014.9h0M1852.5 1022.7h0M2117.5 1027.5h0M1833 1030.5h0M2098 1031.4h0" stroke="#fb866a"/><path d="M1851.8 608.9h0M1867.4 608.9h0M1863.5 612.8h0M1879.1 612.8h0M1883 612.8h0M1875.2 616.7h0M1879.1 616.7h0M1886.9 616.7h0M1859.6 620.6h0M1883 620.6h0M1859.6 624.5h0M1840.1 632.3h0M1871.3 632.3h0M1867.4 640.1h0M1871.3 644h0M1863.5 647.9h0M1673.1 663h0M1677 663h0M1680.9 666.9h0M1817.4 682.5h0M1794 686.4h0M1731.6 694.2h0M1790.1 694.2h0M1833 694.2h0M1739.4 698.1h0M1747.2 698.1h0M1872 702h0M1747.2 705.9h0M1719.9 709.8h0M1840.8 709.8h0M1708.2 713.7h0M1708.2 717.6h0M1716 717.6h0M1716 721.5h0M1856.4 721.5h0M1735.5 725.4h0M1856.4 725.4h0M1872 725.4h0M1879.8 725.4h0M1879.8 729.3h0M1840.8 744.9h0M1864.2 744.9h0M1868.1 748.8h0M1875.9 748.8h0M1821.3 752.7h0M1836.9 760.5h0M1872 764.4h0M1844.7 768.3h0M1860.3 768.3h0M1879.8 772.2h0M1864.2 780h0M1836.9 783.9h0M1844.7 783.9h0M1852.5 783.9h0M1868.1 783.9h0M1867.4 832.1h0M1886.9 832.1h0M2133.1 843.4h0M1871.3 843.8h0M1867.4 847.7h0M1875.2 847.7h0M1890.8 847.7h0M2133.1 851.2h0M2140.9 855.1h0M2156.5 859h0M1847.9 859.4h0M1851.8 859.4h0M1875.2 859.4h0M1890.8 859.4h0M2137 862.9h0M2148.7 862.9h0M1859.6 863.3h0M1875.2 863.3h0M2137 866.8h0M1836.2 867.2h0M1863.5 867.2h0M2117.5 870.7h0M2137 870.7h0M1836.2 871.1h0M2133.1 874.6h0M2101.9 882.4h0M2105.8 882.4h0M1844 882.8h0M2113.6 886.3h0M1942 894.9h0M1949.8 894.9h0M1684.8 897.9h0M1684.8 901.8h0M1945.9 902.7h0M1965.4 906.6h0M2062.9 910.5h0M1797.9 913.5h0M1692.6 917.4h0M1716 917.4h0M1829.1 917.4h0M2016.1 926.1h0M2051.2 926.1h0M1712.1 929.1h0M2012.2 930h0M2047.3 930h0M2094.1 930h0M2125.3 933.9h0M1723.8 936.9h0M1735.5 936.9h0M1801.8 936.9h0M1805.7 936.9h0M1973.2 937.8h0M1704.3 940.8h0M1716 940.8h0M1708.2 944.7h0M1712.1 944.7h0M1817.4 944.7h0M1868.1 944.7h0M1883.7 944.7h0M2027.8 945.6h0M1755 948.6h0M2086.3 949.5h0M2133.1 949.5h0M1848.6 952.5h0M2012.2 953.4h0M2090.2 953.4h0M1860.3 956.4h0M1887.6 968.1h0M2101.9 969h0M2086.3 976.8h0M2129.2 976.8h0M2105.8 980.7h0M2129.2 980.7h0M2078.5 984.6h0M1840.8 995.4h0M2148.7 996.3h0M1817.4 999.3h0M1821.3 999.3h0M2086.3 1000.2h0M2094.1 1000.2h0M1813.5 1003.2h0M1872 1003.2h0M2129.2 1004.1h0M2094.1 1008h0M1840.8 1011h0M1852.5 1011h0M2140.9 1011.9h0M2144.8 1015.8h0M1860.3 1022.7h0M2121.4 1027.5h0M1829.1 1034.4h0" stroke="#fc9e82"/><path d="M1886.9 601.1h0M1867.4 605h0M1879.1 605h0M1883 605h0M1867.4 624.5h0M1863.5 628.4h0M1851.8 636.2h0M1844 647.9h0M1844 655.7h0M1844 659.6h0M1696.5 670.8h0M1700.4 670.8h0M1692.6 674.7h0M1688.7 682.5h0M1727.7 698.1h0M1731.6 698.1h0M1719.9 705.9h0M1727.7 709.8h0M1860.3 709.8h0M1875.9 709.8h0M1848.6 713.7h0M1852.5 713.7h0M1856.4 713.7h0M1829.1 721.5h0M1875.9 733.2h0M1879.8 733.2h0M1887.6 733.2h0M1860.3 752.7h0M1875.9 760.5h0M1840.8 768.3h0M1825.2 776.1h0M1844.7 776.1h0M1817.4 780h0M1852.5 780h0M1821.3 787.8h0M1844.7 787.8h0M1856.4 787.8h0M1825.2 791.7h0M1817.4 799.5h0M1833 799.5h0M1829.1 803.4h0M2133.1 831.7h0M1867.4 836h0M2133.1 839.5h0M1840.1 843.8h0M1890.8 843.8h0M2156.5 847.3h0M2105.8 851.2h0M1879.1 851.6h0M1855.7 855.5h0M1867.4 855.5h0M2113.6 859h0M1871.3 863.3h0M1844 867.2h0M2113.6 878.5h0M2133.1 878.5h0M1847.9 878.9h0M2117.5 882.4h0M1863.5 882.8h0M1945.9 891h0M1844 894.5h0M1953.7 894.9h0M2055.1 910.5h0M2020 922.2h0M1716 925.2h0M2121.4 930h0M1790.1 933h0M1860.3 933h0M2020 933.9h0M2144.8 937.8h0M2117.5 941.7h0M2140.9 941.7h0M1872 944.7h0M1860.3 948.6h0M1852.5 952.5h0M2133.1 957.3h0M2105.8 972.9h0M2113.6 972.9h0M1821.3 979.8h0M1825.2 983.7h0M1860.3 983.7h0M1864.2 983.7h0M2078.5 988.5h0M2152.6 992.4h0M2137 996.3h0M1813.5 999.3h0M1860.3 999.3h0M1879.8 999.3h0M2105.8 1000.2h0M2129.2 1000.2h0M2140.9 1000.2h0M2156.5 1000.2h0M1817.4 1003.2h0M1829.1 1003.2h0M1852.5 1007.1h0M1860.3 1007.1h0M1883.7 1007.1h0M1825.2 1011h0M1864.2 1011h0M1868.1 1011h0M2148.7 1011.9h0M1825.2 1022.7h0M1829.1 1026.6h0M1852.5 1030.5h0" stroke="#fdb29b"/><path d="M1879.1 601.1h0M1855.7 628.4h0M1867.4 632.3h0M1840.1 636.2h0M1855.7 640.1h0M1840.1 647.9h0M1855.7 647.9h0M1840.1 655.7h0M1851.8 659.6h0M1684.8 678.6h0M1700.4 678.6h0M1735.5 694.2h0M1723.8 702h0M1727.7 702h0M1723.8 705.9h0M1727.7 705.9h0M1739.4 705.9h0M1852.5 709.8h0M1758.9 713.7h0M1860.3 717.6h0M1864.2 717.6h0M1875.9 729.3h0M1833 748.8h0M1829.1 752.7h0M1813.5 764.4h0M1868.1 776.1h0M1848.6 791.7h0M1836.9 795.6h0M1813.5 799.5h0M1844.7 799.5h0M2133.1 835.6h0M1863.5 836h0M1871.3 836h0M2125.3 839.5h0M1886.9 839.9h0M1890.8 839.9h0M1855.7 851.6h0M1883 851.6h0M1894.7 851.6h0M2160.4 855.1h0M2129.2 866.8h0M1840.1 867.2h0M1875.2 871.1h0M2137 874.6h0M1871.3 875h0M2129.2 878.5h0M1863.5 878.9h0M1945.9 894.9h0M1768.5 896.5h0M1688.7 897.9h0M1938.1 898.8h0M1692.6 901.8h0M1973.2 906.6h0M1977.1 906.6h0M1677 909.6h0M1953.7 914.4h0M2137 933.9h0M2140.9 953.4h0M1868.1 956.4h0M2105.8 984.6h0M1825.2 991.5h0M1868.1 991.5h0M1825.2 995.4h0M1829.1 995.4h0M2078.5 996.3h0M2156.5 996.3h0M1825.2 999.3h0M1864.2 999.3h0M1891.5 999.3h0M1821.3 1003.2h0M2152.6 1004.1h0M1825.2 1007.1h0M1848.6 1007.1h0M1856.4 1007.1h0M2144.8 1008h0M2152.6 1008h0M1875.9 1011h0M1856.4 1014.9h0M2117.5 1023.6h0M2125.3 1023.6h0M1852.5 1026.6h0M2105.8 1031.4h0" stroke="#fec6b4"/><path d="M1875.2 597.2h0M1855.7 608.9h0M1863.5 616.7h0M1844 644h0M1867.4 644h0M1704.3 670.8h0M1700.4 674.7h0M1716 702h0M1860.3 705.9h0M1836.9 744.9h0M1833 752.7h0M1840.8 752.7h0M1864.2 764.4h0M1879.8 764.4h0M1844.7 780h0M1856.4 780h0M1829.1 783.9h0M1848.6 783.9h0M1848.6 787.8h0M1844.7 791.7h0M1879.8 795.6h0M2137 835.6h0M1875.2 836h0M1883 836h0M2129.2 847.3h0M1844 847.7h0M1883 847.7h0M1851.8 851.6h0M2113.6 855.1h0M1836.2 863.3h0M1847.9 863.3h0M2121.4 866.8h0M1847.9 867.2h0M2113.6 870.7h0M2133.1 870.7h0M1840.1 871.1h0M1867.4 871.1h0M2113.6 874.6h0M1859.6 882.8h0M1673.1 901.8h0M1696.5 913.5h0M1875.9 933h0M2140.9 949.5h0M2113.6 980.7h0M1829.1 991.5h0M2098 1000.2h0M1825.2 1003.2h0M1891.5 1003.2h0M1875.9 1007.1h0M1868.1 1014.9h0M2125.3 1027.5h0M1856.4 1030.5h0M1860.3 1030.5h0" stroke="#fbd6ca"/><path d="M1855.7 605h0M1875.2 605h0M1847.9 608.9h0M1859.6 608.9h0M1875.2 608.9h0M1871.3 612.8h0M1851.8 620.6h0M1886.9 620.6h0M1863.5 624.5h0M1886.9 624.5h0M1875.2 628.4h0M1886.9 632.3h0M1879.1 636.2h0M1863.5 644h0M1696.5 674.7h0M1836.9 756.6h0M1864.2 760.5h0M1809.6 780h0M2140.9 831.7h0M1879.1 832.1h0M1855.7 836h0M2160.4 839.5h0M1875.2 843.8h0M1847.9 847.7h0M1863.5 847.7h0M2129.2 855.1h0M2109.7 859h0M1871.3 859.4h0M1836.2 882.8h0M1680.9 897.9h0M1961.5 906.6h0M1856.4 936.9h0M1860.3 991.5h0M1856.4 1011h0M1860.3 1011h0M1872 1026.6h0M1879.8 1026.6h0" stroke="#f6e1df"/><path d="M1871.3 601.1h0M1886.9 608.9h0M1844 612.8h0M1859.6 612.8h0M1867.4 612.8h0M1875.2 612.8h0M1844 616.7h0M1879.1 620.6h0M1883 632.3h0M1863.5 636.2h0M1859.6 640.1h0M1855.7 651.8h0M1868.1 698.1h0M1844.7 752.7h0M1840.8 756.6h0M2129.2 843.4h0M2137 851.2h0M1890.8 851.6h0M1840.1 863.3h0M1851.8 863.3h0M1844 875h0M2098 882.4h0M1840.1 886.7h0M1688.7 894h0M1673.1 905.7h0M2137 937.8h0M2140.9 937.8h0M1864.2 952.5h0M1868.1 952.5h0" stroke="#f0ecf4"/><path d="M1863.5 608.9h0M1871.3 616.7h0M1844 624.5h0M1886.9 628.4h0M1890.8 628.4h0M1875.2 632.3h0M1836.2 636.2h0M1867.4 636.2h0M1688.7 666.9h0M1677 670.8h0M1680.9 674.7h0M1680.9 678.6h0M1875.2 839.9h0M2137 847.3h0M1840.1 847.7h0M1875.2 855.5h0M2129.2 859h0M1840.1 859.4h0M1875.2 867.2h0M1871.3 871.1h0M1847.9 875h0M1692.6 897.9h0" stroke="#e2daf6"/><path d="M1863.5 605h0M1871.3 605h0M1844 608.9h0M1879.1 608.9h0M1886.9 612.8h0M1840.1 616.7h0M1847.9 616.7h0M1883 624.5h0M1871.3 636.2h0M1836.2 640.1h0M1836.2 644h0M1851.8 647.9h0M1867.4 647.9h0M1844 651.8h0M1680.9 659.1h0M1867.4 839.9h0M1879.1 843.8h0M1879.1 847.7h0M1886.9 847.7h0M1863.5 851.6h0M1863.5 859.4h0M1847.9 871.1h0M1855.7 871.1h0M1859.6 871.1h0M1859.6 875h0M1840.1 878.9h0M1855.7 878.9h0M1677 894h0M1758.5 900.6h0" stroke="#d4c7f9"/><path d="M1840.1 644h0M1840.1 651.8h0M1859.6 655.7h0M1680.9 670.8h0M1879.1 828.2h0M1871.3 832.1h0M1890.8 836h0M1883 843.8h0M1859.6 859.4h0M1867.4 863.3h0M1855.7 867.2h0M1867.4 867.2h0M1840.1 875h0M1680.9 890.1h0M1765.3 892.5h0" stroke="#c5b4fb"/><path d="M1883 608.9h0M1847.9 620.6h0M1851.8 624.5h0M1851.8 651.8h0M1847.9 655.7h0M1855.7 655.7h0M1875.2 828.2h0M1879.1 836h0M1847.9 851.6h0M1871.3 851.6h0M1875.2 851.6h0M1840.1 855.5h0M1855.7 859.4h0M1844 863.3h0M1863.5 863.3h0M1859.6 867.2h0M1851.8 878.9h0M1673.1 897.9h0" stroke="#b6a0fd"/><path d="M1847.9 612.8h0M1844 620.6h0M1855.7 636.2h0M1871.3 839.9h0M1867.4 851.6h0M1883 855.5h0M1844 859.4h0M1855.7 863.3h0" stroke="#a68cff"/><path d="M1851.8 612.8h0M1836.2 647.9h0M1847.9 651.8h0M1851.8 655.7h0M1684.8 666.9h0M1851.8 867.2h0M1684.8 890.1h0" stroke="#9477ff"/><path d="M1840.1 640.1h0M1836.2 651.8h0M1684.8 659.1h0M1879.1 839.9h0M1836.2 875h0M1851.8 875h0M1855.7 875h0" stroke="#8362ff"/><path d="M1859.6 636.2h0M1871.3 847.7h0M1844 871.1h0M1851.8 871.1h0" stroke="#6c4bff"/></g>
<g font-size="21.4" font-family="'Liberation Sans',Arial,Helvetica,sans-serif" text-anchor="middle" fill="#1a1a1a">
<text x="1134.5" y="79.6">slide_seq_1</text>
<text x="1291.3" y="79.6">slide_seq_2</text>
<text x="1463.9" y="79.6">exseq_2</text>
<text x="1626.8" y="79.6">exseq_bin_2</text>
<text x="1819.4" y="79.6">codex_2</text>
<text x="2038.3" y="79.6">merfish_2</text>
<text x="1029.6" y="165.5" transform="rotate(-90 1029.6 165.5)">slide_seq_2</text>
<text x="1029.6" y="282.5" transform="rotate(-90 1029.6 282.5)">exseq_2</text>
<text x="1029.6" y="391.8" transform="rotate(-90 1029.6 391.8)">exseq_bin_2</text>
<text x="1029.6" y="515" transform="rotate(-90 1029.6 515)">codex_2</text>
<text x="1029.6" y="707.6" transform="rotate(-90 1029.6 707.6)">merfish_2</text>
<text x="1029.6" y="931.5" transform="rotate(-90 1029.6 931.5)">merfish_bin_2</text>
</g>
<text x="1832.2" y="188.8" font-size="30.1" font-family="'Liberation Sans',Arial,Helvetica,sans-serif" text-anchor="middle" fill="#000">Sample: 514−6760</text>
<text x="1844.7" y="226.3" font-size="21.55" font-family="'Liberation Sans',Arial,Helvetica,sans-serif" text-anchor="middle" fill="#000">Pearson's correlation of cell type</text>
<text x="1844.7" y="253.4" font-size="21.55" font-family="'Liberation Sans',Arial,Helvetica,sans-serif" text-anchor="middle" fill="#000">composition (100um bins)</text>
<g shape-rendering="crispEdges">
<rect x="1716.1" y="269" width="13.6" height="33.7" fill="#4225ff"/>
<rect x="1729.4" y="269" width="13.6" height="33.7" fill="#5f40ff"/>
<rect x="1742.7" y="269" width="13.6" height="33.7" fill="#7b5aff"/>
<rect x="1756" y="269" width="13.6" height="33.7" fill="#8d6fff"/>
<rect x="1769.3" y="269" width="13.6" height="33.7" fill="#a084ff"/>
<rect x="1782.6" y="269" width="13.6" height="33.7" fill="#b099fe"/>
<rect x="1795.9" y="269" width="13.6" height="33.7" fill="#c0aefc"/>
<rect x="1809.2" y="269" width="13.6" height="33.7" fill="#d0c2f9"/>
<rect x="1822.5" y="269" width="13.6" height="33.7" fill="#dfd5f7"/>
<rect x="1835.8" y="269" width="13.6" height="33.7" fill="#ede8f5"/>
<rect x="1849" y="269" width="13.6" height="33.7" fill="#f5e3e3"/>
<rect x="1862.3" y="269" width="13.6" height="33.7" fill="#fad7ce"/>
<rect x="1875.6" y="269" width="13.6" height="33.7" fill="#fec8b7"/>
<rect x="1888.9" y="269" width="13.6" height="33.7" fill="#fdb49d"/>
<rect x="1902.2" y="269" width="13.6" height="33.7" fill="#fc9f84"/>
<rect x="1915.5" y="269" width="13.6" height="33.7" fill="#fb876b"/>
<rect x="1928.8" y="269" width="13.6" height="33.7" fill="#fa6e52"/>
<rect x="1942.1" y="269" width="13.6" height="33.7" fill="#f85138"/>
<rect x="1955.4" y="269" width="13.6" height="33.7" fill="#f6301d"/>
<rect x="1968.7" y="269" width="13.6" height="33.7" fill="#f3140a"/>
</g>
<g font-size="23.6" font-family="'Liberation Sans',Arial,Helvetica,sans-serif" text-anchor="middle" fill="#000">
<text x="1780" y="329.6">−0.5</text>
<text x="1844.6" y="329.6">0.0</text>
<text x="1909.6" y="329.6">0.5</text>
<text x="1974.2" y="329.6">1.0</text>
</g>
<path d="M1780 269v6.7M1780 296v6.7M1844.6 269v6.7M1844.6 296v6.7M1909.6 269v6.7M1909.6 296v6.7M1974.2 269v6.7M1974.2 296v6.7" stroke="#fff" stroke-width="1.1" fill="none"/>
<g shape-rendering="crispEdges">
<rect x="1286.6" y="1144.5" width="613.3" height="287.3" fill="#03051a"/>
<rect x="1286.6" y="1144.5" width="76.7" height="28.7" fill="#faebdd"/>
<rect x="1363.3" y="1144.5" width="38.3" height="28.7" fill="#0a091f"/>
<rect x="1401.6" y="1144.5" width="38.3" height="28.7" fill="#04051a"/>
<rect x="1516.6" y="1144.5" width="38.3" height="28.7" fill="#06071c"/>
<rect x="1554.9" y="1144.5" width="38.3" height="28.7" fill="#04051a"/>
<rect x="1593.2" y="1144.5" width="38.3" height="28.7" fill="#110c24"/>
<rect x="1631.6" y="1144.5" width="38.3" height="28.7" fill="#05061b"/>
<rect x="1708.2" y="1144.5" width="38.3" height="28.7" fill="#04051a"/>
<rect x="1823.2" y="1144.5" width="38.3" height="28.7" fill="#05061b"/>
<rect x="1286.6" y="1173.2" width="38.3" height="28.7" fill="#931c5b"/>
<rect x="1324.9" y="1173.2" width="38.3" height="28.7" fill="#06071c"/>
<rect x="1363.3" y="1173.2" width="38.3" height="28.7" fill="#faebdd"/>
<rect x="1439.9" y="1173.2" width="76.7" height="28.7" fill="#05061b"/>
<rect x="1516.6" y="1173.2" width="38.3" height="28.7" fill="#160e27"/>
<rect x="1554.9" y="1173.2" width="38.3" height="28.7" fill="#401b44"/>
<rect x="1593.2" y="1173.2" width="38.3" height="28.7" fill="#05061b"/>
<rect x="1631.6" y="1173.2" width="38.3" height="28.7" fill="#0a091f"/>
<rect x="1669.9" y="1173.2" width="38.3" height="28.7" fill="#05061b"/>
<rect x="1708.2" y="1173.2" width="38.3" height="28.7" fill="#04051a"/>
<rect x="1823.2" y="1173.2" width="38.3" height="28.7" fill="#05061b"/>
<rect x="1861.5" y="1173.2" width="38.3" height="28.7" fill="#0b0920"/>
<rect x="1286.6" y="1202" width="38.3" height="28.7" fill="#100b23"/>
<rect x="1324.9" y="1202" width="38.3" height="28.7" fill="#06071c"/>
<rect x="1363.3" y="1202" width="38.3" height="28.7" fill="#241432"/>
<rect x="1401.6" y="1202" width="115" height="28.7" fill="#faebdd"/>
<rect x="1516.6" y="1202" width="38.3" height="28.7" fill="#701f57"/>
<rect x="1554.9" y="1202" width="38.3" height="28.7" fill="#251433"/>
<rect x="1593.2" y="1202" width="38.3" height="28.7" fill="#05061b"/>
<rect x="1631.6" y="1202" width="38.3" height="28.7" fill="#0d0a21"/>
<rect x="1669.9" y="1202" width="76.7" height="28.7" fill="#05061b"/>
<rect x="1823.2" y="1202" width="38.3" height="28.7" fill="#04051a"/>
<rect x="1861.5" y="1202" width="38.3" height="28.7" fill="#05061b"/>
<rect x="1286.6" y="1230.7" width="38.3" height="28.7" fill="#7a1f59"/>
<rect x="1363.3" y="1230.7" width="38.3" height="28.7" fill="#30173a"/>
<rect x="1401.6" y="1230.7" width="38.3" height="28.7" fill="#0e0b22"/>
<rect x="1478.2" y="1230.7" width="38.3" height="28.7" fill="#1a102a"/>
<rect x="1516.6" y="1230.7" width="76.7" height="28.7" fill="#faebdd"/>
<rect x="1593.2" y="1230.7" width="38.3" height="28.7" fill="#0d0a21"/>
<rect x="1631.6" y="1230.7" width="38.3" height="28.7" fill="#211330"/>
<rect x="1669.9" y="1230.7" width="38.3" height="28.7" fill="#04051a"/>
<rect x="1708.2" y="1230.7" width="38.3" height="28.7" fill="#0a091f"/>
<rect x="1823.2" y="1230.7" width="38.3" height="28.7" fill="#20122e"/>
<rect x="1286.6" y="1259.4" width="38.3" height="28.7" fill="#661f54"/>
<rect x="1363.3" y="1259.4" width="38.3" height="28.7" fill="#7a1f59"/>
<rect x="1401.6" y="1259.4" width="38.3" height="28.7" fill="#30173a"/>
<rect x="1439.9" y="1259.4" width="38.3" height="28.7" fill="#251433"/>
<rect x="1478.2" y="1259.4" width="38.3" height="28.7" fill="#5c1e51"/>
<rect x="1516.6" y="1259.4" width="76.7" height="28.7" fill="#faebdd"/>
<rect x="1593.2" y="1259.4" width="38.3" height="28.7" fill="#08081e"/>
<rect x="1631.6" y="1259.4" width="38.3" height="28.7" fill="#0a091f"/>
<rect x="1669.9" y="1259.4" width="38.3" height="28.7" fill="#05061b"/>
<rect x="1708.2" y="1259.4" width="38.3" height="28.7" fill="#08081e"/>
<rect x="1823.2" y="1259.4" width="38.3" height="28.7" fill="#07071d"/>
<rect x="1861.5" y="1259.4" width="38.3" height="28.7" fill="#06071c"/>
<rect x="1286.6" y="1288.2" width="38.3" height="28.7" fill="#3a1a41"/>
<rect x="1363.3" y="1288.2" width="76.7" height="28.7" fill="#05061b"/>
<rect x="1516.6" y="1288.2" width="38.3" height="28.7" fill="#07071d"/>
<rect x="1593.2" y="1288.2" width="38.3" height="28.7" fill="#faebdd"/>
<rect x="1631.6" y="1288.2" width="38.3" height="28.7" fill="#04051a"/>
<rect x="1746.6" y="1288.2" width="38.3" height="28.7" fill="#04051a"/>
<rect x="1823.2" y="1288.2" width="38.3" height="28.7" fill="#0a091f"/>
<rect x="1286.6" y="1316.9" width="38.3" height="28.7" fill="#2b1637"/>
<rect x="1324.9" y="1316.9" width="38.3" height="28.7" fill="#04051a"/>
<rect x="1363.3" y="1316.9" width="38.3" height="28.7" fill="#401b44"/>
<rect x="1401.6" y="1316.9" width="38.3" height="28.7" fill="#05061b"/>
<rect x="1478.2" y="1316.9" width="38.3" height="28.7" fill="#06071c"/>
<rect x="1516.6" y="1316.9" width="38.3" height="28.7" fill="#0d0a21"/>
<rect x="1554.9" y="1316.9" width="76.7" height="28.7" fill="#08081e"/>
<rect x="1631.6" y="1316.9" width="38.3" height="28.7" fill="#faebdd"/>
<rect x="1669.9" y="1316.9" width="38.3" height="28.7" fill="#f9ddc9"/>
<rect x="1708.2" y="1316.9" width="38.3" height="28.7" fill="#07071d"/>
<rect x="1823.2" y="1316.9" width="38.3" height="28.7" fill="#140e26"/>
<rect x="1861.5" y="1316.9" width="38.3" height="28.7" fill="#07071d"/>
<rect x="1363.3" y="1345.6" width="38.3" height="28.7" fill="#211330"/>
<rect x="1861.5" y="1345.6" width="38.3" height="28.7" fill="#06071c"/>
<rect x="1286.6" y="1374.3" width="38.3" height="28.7" fill="#731f58"/>
<rect x="1324.9" y="1374.3" width="38.3" height="28.7" fill="#04051a"/>
<rect x="1478.2" y="1374.3" width="38.3" height="28.7" fill="#04051a"/>
<rect x="1516.6" y="1374.3" width="38.3" height="28.7" fill="#0b0920"/>
<rect x="1554.9" y="1374.3" width="38.3" height="28.7" fill="#06071c"/>
<rect x="1631.6" y="1374.3" width="38.3" height="28.7" fill="#421b45"/>
<rect x="1669.9" y="1374.3" width="38.3" height="28.7" fill="#06071c"/>
<rect x="1746.6" y="1374.3" width="38.3" height="28.7" fill="#221331"/>
<rect x="1823.2" y="1374.3" width="38.3" height="28.7" fill="#c21753"/>
<rect x="1861.5" y="1374.3" width="38.3" height="28.7" fill="#04051a"/>
<rect x="1286.6" y="1403.1" width="38.3" height="28.7" fill="#170f28"/>
<rect x="1363.3" y="1403.1" width="38.3" height="28.7" fill="#1a102a"/>
<rect x="1401.6" y="1403.1" width="38.3" height="28.7" fill="#04051a"/>
<rect x="1516.6" y="1403.1" width="38.3" height="28.7" fill="#08081e"/>
<rect x="1554.9" y="1403.1" width="38.3" height="28.7" fill="#06071c"/>
<rect x="1593.2" y="1403.1" width="38.3" height="28.7" fill="#04051a"/>
<rect x="1631.6" y="1403.1" width="38.3" height="28.7" fill="#281535"/>
<rect x="1669.9" y="1403.1" width="76.7" height="28.7" fill="#05061b"/>
<rect x="1823.2" y="1403.1" width="38.3" height="28.7" fill="#faebdd"/>
<rect x="1861.5" y="1403.1" width="38.3" height="28.7" fill="#f7c6a6"/>
</g>
<path d="M1324.9 1144.5v287.3M1363.3 1144.5v287.3M1401.6 1144.5v287.3M1439.9 1144.5v287.3M1478.2 1144.5v287.3M1516.6 1144.5v287.3M1554.9 1144.5v287.3M1593.2 1144.5v287.3M1631.6 1144.5v287.3M1669.9 1144.5v287.3M1708.2 1144.5v287.3M1746.6 1144.5v287.3M1784.9 1144.5v287.3M1823.2 1144.5v287.3M1861.5 1144.5v287.3M1286.6 1173.2h613.3M1286.6 1202h613.3M1286.6 1230.7h613.3M1286.6 1259.4h613.3M1286.6 1288.2h613.3M1286.6 1316.9h613.3M1286.6 1345.6h613.3M1286.6 1374.3h613.3M1286.6 1403.1h613.3" stroke="#fff" stroke-opacity="0.17" stroke-width="0.8" fill="none"/>
<g font-size="10.45" font-family="'DejaVu Sans','Liberation Sans',sans-serif" text-anchor="middle" fill="#fff">
<text x="1382.4" y="1162.4">27</text>
<text x="1420.8" y="1162.4">7</text>
<text x="1459.1" y="1162.4">0</text>
<text x="1497.4" y="1162.4">2</text>
<text x="1535.7" y="1162.4">15</text>
<text x="1574.1" y="1162.4">4</text>
<text x="1612.4" y="1162.4">44</text>
<text x="1650.7" y="1162.4">8</text>
<text x="1689.1" y="1162.4">1</text>
<text x="1727.4" y="1162.4">7</text>
<text x="1765.7" y="1162.4">1</text>
<text x="1804.1" y="1162.4">0</text>
<text x="1842.4" y="1162.4">8</text>
<text x="1880.7" y="1162.4">1</text>
<text x="1305.8" y="1191.1">368</text>
<text x="1344.1" y="1191.1">15</text>
<text x="1420.8" y="1191.1">1</text>
<text x="1459.1" y="1191.1">9</text>
<text x="1497.4" y="1191.1">9</text>
<text x="1535.7" y="1191.1">58</text>
<text x="1574.1" y="1191.1">168</text>
<text x="1612.4" y="1191.1">8</text>
<text x="1650.7" y="1191.1">24</text>
<text x="1689.1" y="1191.1">8</text>
<text x="1727.4" y="1191.1">5</text>
<text x="1765.7" y="1191.1">2</text>
<text x="1804.1" y="1191.1">0</text>
<text x="1842.4" y="1191.1">11</text>
<text x="1880.7" y="1191.1">28</text>
<text x="1305.8" y="1219.8">40</text>
<text x="1344.1" y="1219.8">12</text>
<text x="1382.4" y="1219.8">97</text>
<text x="1535.7" y="1219.8">289</text>
<text x="1574.1" y="1219.8">100</text>
<text x="1612.4" y="1219.8">10</text>
<text x="1650.7" y="1219.8">34</text>
<text x="1689.1" y="1219.8">8</text>
<text x="1727.4" y="1219.8">11</text>
<text x="1765.7" y="1219.8">1</text>
<text x="1804.1" y="1219.8">0</text>
<text x="1842.4" y="1219.8">4</text>
<text x="1880.7" y="1219.8">11</text>
<text x="1305.8" y="1248.6">311</text>
<text x="1344.1" y="1248.6">3</text>
<text x="1382.4" y="1248.6">127</text>
<text x="1420.8" y="1248.6">39</text>
<text x="1459.1" y="1248.6">1</text>
<text x="1497.4" y="1248.6">68</text>
<text x="1612.4" y="1248.6">35</text>
<text x="1650.7" y="1248.6">86</text>
<text x="1689.1" y="1248.6">4</text>
<text x="1727.4" y="1248.6">26</text>
<text x="1765.7" y="1248.6">0</text>
<text x="1804.1" y="1248.6">0</text>
<text x="1842.4" y="1248.6">84</text>
<text x="1880.7" y="1248.6">1</text>
<text x="1305.8" y="1277.3">264</text>
<text x="1344.1" y="1277.3">3</text>
<text x="1382.4" y="1277.3">310</text>
<text x="1420.8" y="1277.3">127</text>
<text x="1459.1" y="1277.3">98</text>
<text x="1497.4" y="1277.3">240</text>
<text x="1612.4" y="1277.3">22</text>
<text x="1650.7" y="1277.3">26</text>
<text x="1689.1" y="1277.3">9</text>
<text x="1727.4" y="1277.3">23</text>
<text x="1765.7" y="1277.3">0</text>
<text x="1804.1" y="1277.3">1</text>
<text x="1842.4" y="1277.3">19</text>
<text x="1880.7" y="1277.3">12</text>
<text x="1305.8" y="1306">156</text>
<text x="1344.1" y="1306">3</text>
<text x="1382.4" y="1306">11</text>
<text x="1420.8" y="1306">10</text>
<text x="1459.1" y="1306">0</text>
<text x="1497.4" y="1306">0</text>
<text x="1535.7" y="1306">19</text>
<text x="1574.1" y="1306">2</text>
<text x="1650.7" y="1306">6</text>
<text x="1689.1" y="1306">1</text>
<text x="1727.4" y="1306">0</text>
<text x="1765.7" y="1306">4</text>
<text x="1804.1" y="1306">0</text>
<text x="1842.4" y="1306">25</text>
<text x="1880.7" y="1306">1</text>
<text x="1305.8" y="1334.7">114</text>
<text x="1344.1" y="1334.7">4</text>
<text x="1382.4" y="1334.7">170</text>
<text x="1420.8" y="1334.7">8</text>
<text x="1459.1" y="1334.7">3</text>
<text x="1497.4" y="1334.7">12</text>
<text x="1535.7" y="1334.7">32</text>
<text x="1574.1" y="1334.7">23</text>
<text x="1612.4" y="1334.7">23</text>
<text x="1727.4" y="1334.7">16</text>
<text x="1765.7" y="1334.7">2</text>
<text x="1804.1" y="1334.7">3</text>
<text x="1842.4" y="1334.7">54</text>
<text x="1880.7" y="1334.7">18</text>
<text x="1305.8" y="1363.5">0</text>
<text x="1344.1" y="1363.5">0</text>
<text x="1382.4" y="1363.5">86</text>
<text x="1420.8" y="1363.5">0</text>
<text x="1459.1" y="1363.5">0</text>
<text x="1497.4" y="1363.5">0</text>
<text x="1535.7" y="1363.5">0</text>
<text x="1574.1" y="1363.5">1</text>
<text x="1612.4" y="1363.5">0</text>
<text x="1650.7" y="1363.5">0</text>
<text x="1689.1" y="1363.5">0</text>
<text x="1727.4" y="1363.5">0</text>
<text x="1765.7" y="1363.5">0</text>
<text x="1804.1" y="1363.5">0</text>
<text x="1842.4" y="1363.5">0</text>
<text x="1880.7" y="1363.5">15</text>
<text x="1305.8" y="1392.2">294</text>
<text x="1344.1" y="1392.2">4</text>
<text x="1382.4" y="1392.2">2</text>
<text x="1420.8" y="1392.2">0</text>
<text x="1459.1" y="1392.2">1</text>
<text x="1497.4" y="1392.2">6</text>
<text x="1535.7" y="1392.2">31</text>
<text x="1574.1" y="1392.2">12</text>
<text x="1612.4" y="1392.2">0</text>
<text x="1650.7" y="1392.2">174</text>
<text x="1689.1" y="1392.2">13</text>
<text x="1727.4" y="1392.2">0</text>
<text x="1765.7" y="1392.2">92</text>
<text x="1804.1" y="1392.2">0</text>
<text x="1842.4" y="1392.2">478</text>
<text x="1880.7" y="1392.2">5</text>
<text x="1305.8" y="1420.9">60</text>
<text x="1344.1" y="1420.9">1</text>
<text x="1382.4" y="1420.9">70</text>
<text x="1420.8" y="1420.9">6</text>
<text x="1459.1" y="1420.9">3</text>
<text x="1497.4" y="1420.9">2</text>
<text x="1535.7" y="1420.9">20</text>
<text x="1574.1" y="1420.9">13</text>
<text x="1612.4" y="1420.9">5</text>
<text x="1650.7" y="1420.9">108</text>
<text x="1689.1" y="1420.9">11</text>
<text x="1727.4" y="1420.9">8</text>
<text x="1765.7" y="1420.9">0</text>
<text x="1804.1" y="1420.9">0</text>
</g>
<g font-size="10.45" font-family="'DejaVu Sans','Liberation Sans',sans-serif" text-anchor="middle" fill="#262626">
<text x="1305.8" y="1162.4">37636</text>
<text x="1344.1" y="1162.4">4396</text>
<text x="1382.4" y="1191.1">16751</text>
<text x="1420.8" y="1219.8">1792</text>
<text x="1459.1" y="1219.8">3518</text>
<text x="1497.4" y="1219.8">1977</text>
<text x="1535.7" y="1248.6">8000</text>
<text x="1574.1" y="1248.6">3141</text>
<text x="1535.7" y="1277.3">1023</text>
<text x="1574.1" y="1277.3">7695</text>
<text x="1612.4" y="1306">4664</text>
<text x="1650.7" y="1334.7">5925</text>
<text x="1689.1" y="1334.7">963</text>
<text x="1842.4" y="1420.9">2071</text>
<text x="1880.7" y="1420.9">899</text>
</g>
<path d="M1286.6 1158.9h-4.8M1286.6 1187.6h-4.8M1286.6 1216.3h-4.8M1286.6 1245.1h-4.8M1286.6 1273.8h-4.8M1286.6 1302.5h-4.8M1286.6 1331.2h-4.8M1286.6 1360h-4.8M1286.6 1388.7h-4.8M1286.6 1417.4h-4.8M1305.8 1431.8v5M1344.1 1431.8v5M1382.4 1431.8v5M1420.8 1431.8v5M1459.1 1431.8v5M1497.4 1431.8v5M1535.7 1431.8v5M1574.1 1431.8v5M1612.4 1431.8v5M1650.7 1431.8v5M1689.1 1431.8v5M1727.4 1431.8v5M1765.7 1431.8v5M1804.1 1431.8v5M1842.4 1431.8v5M1880.7 1431.8v5" stroke="#000" stroke-width="2.7" fill="none"/>
<g font-size="18.6" font-family="'DejaVu Sans','Liberation Sans',sans-serif" text-anchor="end" fill="#000">
<text x="1278" y="1166.5">MBC</text>
<text x="1278" y="1195.2">MBC_neuronal</text>
<text x="1278" y="1223.9">Endothelial</text>
<text x="1278" y="1252.7">Fibroblast</text>
<text x="1278" y="1281.4">Smooth muscle_vascular</text>
<text x="1278" y="1310.1">Hepatocyte</text>
<text x="1278" y="1338.8">Macrophage</text>
<text x="1278" y="1367.6">B_regulatory</text>
<text x="1278" y="1396.3">B</text>
<text x="1278" y="1425">T</text>
</g>
<text x="1593.2" y="1137.2" font-size="18.6" font-family="'DejaVu Sans','Liberation Sans',sans-serif" text-anchor="middle" fill="#000">RCTD</text>
<g shape-rendering="crispEdges">
<rect x="1286.6" y="1475.1" width="613.3" height="287.3" fill="#03051a"/>
<rect x="1286.6" y="1475.1" width="76.7" height="28.7" fill="#faebdd"/>
<rect x="1363.3" y="1475.1" width="38.3" height="28.7" fill="#08081e"/>
<rect x="1401.6" y="1475.1" width="38.3" height="28.7" fill="#0a091f"/>
<rect x="1478.2" y="1475.1" width="38.3" height="28.7" fill="#33183c"/>
<rect x="1516.6" y="1475.1" width="38.3" height="28.7" fill="#20122e"/>
<rect x="1554.9" y="1475.1" width="38.3" height="28.7" fill="#07071d"/>
<rect x="1593.2" y="1475.1" width="38.3" height="28.7" fill="#30173a"/>
<rect x="1631.6" y="1475.1" width="38.3" height="28.7" fill="#140e26"/>
<rect x="1669.9" y="1475.1" width="38.3" height="28.7" fill="#0b0920"/>
<rect x="1708.2" y="1475.1" width="38.3" height="28.7" fill="#0a091f"/>
<rect x="1746.6" y="1475.1" width="38.3" height="28.7" fill="#100b23"/>
<rect x="1823.2" y="1475.1" width="38.3" height="28.7" fill="#211330"/>
<rect x="1286.6" y="1503.8" width="38.3" height="28.7" fill="#8b1d5b"/>
<rect x="1324.9" y="1503.8" width="38.3" height="28.7" fill="#04051a"/>
<rect x="1363.3" y="1503.8" width="38.3" height="28.7" fill="#faebdd"/>
<rect x="1401.6" y="1503.8" width="38.3" height="28.7" fill="#04051a"/>
<rect x="1439.9" y="1503.8" width="38.3" height="28.7" fill="#a11a5b"/>
<rect x="1478.2" y="1503.8" width="38.3" height="28.7" fill="#140e26"/>
<rect x="1516.6" y="1503.8" width="38.3" height="28.7" fill="#221331"/>
<rect x="1554.9" y="1503.8" width="38.3" height="28.7" fill="#5c1e51"/>
<rect x="1593.2" y="1503.8" width="38.3" height="28.7" fill="#06071c"/>
<rect x="1631.6" y="1503.8" width="38.3" height="28.7" fill="#30173a"/>
<rect x="1669.9" y="1503.8" width="38.3" height="28.7" fill="#251433"/>
<rect x="1708.2" y="1503.8" width="38.3" height="28.7" fill="#04051a"/>
<rect x="1823.2" y="1503.8" width="38.3" height="28.7" fill="#0a091f"/>
<rect x="1861.5" y="1503.8" width="38.3" height="28.7" fill="#611f53"/>
<rect x="1286.6" y="1532.6" width="38.3" height="28.7" fill="#751f58"/>
<rect x="1324.9" y="1532.6" width="38.3" height="28.7" fill="#06071c"/>
<rect x="1363.3" y="1532.6" width="38.3" height="28.7" fill="#04051a"/>
<rect x="1401.6" y="1532.6" width="115" height="28.7" fill="#faebdd"/>
<rect x="1516.6" y="1532.6" width="38.3" height="28.7" fill="#251433"/>
<rect x="1554.9" y="1532.6" width="38.3" height="28.7" fill="#0d0a21"/>
<rect x="1593.2" y="1532.6" width="38.3" height="28.7" fill="#110c24"/>
<rect x="1631.6" y="1532.6" width="38.3" height="28.7" fill="#221331"/>
<rect x="1669.9" y="1532.6" width="38.3" height="28.7" fill="#160e27"/>
<rect x="1708.2" y="1532.6" width="38.3" height="28.7" fill="#180f29"/>
<rect x="1746.6" y="1532.6" width="38.3" height="28.7" fill="#0b0920"/>
<rect x="1823.2" y="1532.6" width="38.3" height="28.7" fill="#1b112b"/>
<rect x="1286.6" y="1561.3" width="38.3" height="28.7" fill="#db2946"/>
<rect x="1324.9" y="1561.3" width="38.3" height="28.7" fill="#04051a"/>
<rect x="1363.3" y="1561.3" width="38.3" height="28.7" fill="#2a1636"/>
<rect x="1401.6" y="1561.3" width="38.3" height="28.7" fill="#2e1739"/>
<rect x="1439.9" y="1561.3" width="38.3" height="28.7" fill="#3a1a41"/>
<rect x="1478.2" y="1561.3" width="38.3" height="28.7" fill="#5e1f52"/>
<rect x="1516.6" y="1561.3" width="76.7" height="28.7" fill="#faebdd"/>
<rect x="1593.2" y="1561.3" width="38.3" height="28.7" fill="#1e122d"/>
<rect x="1631.6" y="1561.3" width="38.3" height="28.7" fill="#1d112c"/>
<rect x="1669.9" y="1561.3" width="38.3" height="28.7" fill="#1b112b"/>
<rect x="1708.2" y="1561.3" width="38.3" height="28.7" fill="#160e27"/>
<rect x="1746.6" y="1561.3" width="38.3" height="28.7" fill="#07071d"/>
<rect x="1784.9" y="1561.3" width="38.3" height="28.7" fill="#05061b"/>
<rect x="1823.2" y="1561.3" width="38.3" height="28.7" fill="#2a1636"/>
<rect x="1286.6" y="1590" width="38.3" height="28.7" fill="#491d49"/>
<rect x="1324.9" y="1590" width="38.3" height="28.7" fill="#04051a"/>
<rect x="1363.3" y="1590" width="38.3" height="28.7" fill="#241432"/>
<rect x="1401.6" y="1590" width="38.3" height="28.7" fill="#35193e"/>
<rect x="1439.9" y="1590" width="38.3" height="28.7" fill="#faebdd"/>
<rect x="1478.2" y="1590" width="38.3" height="28.7" fill="#d3214b"/>
<rect x="1516.6" y="1590" width="76.7" height="28.7" fill="#faebdd"/>
<rect x="1593.2" y="1590" width="76.7" height="28.7" fill="#110c24"/>
<rect x="1669.9" y="1590" width="38.3" height="28.7" fill="#0e0b22"/>
<rect x="1708.2" y="1590" width="38.3" height="28.7" fill="#1d112c"/>
<rect x="1746.6" y="1590" width="38.3" height="28.7" fill="#08081e"/>
<rect x="1823.2" y="1590" width="38.3" height="28.7" fill="#1b112b"/>
<rect x="1861.5" y="1590" width="38.3" height="28.7" fill="#08081e"/>
<rect x="1286.6" y="1618.8" width="38.3" height="28.7" fill="#faebdd"/>
<rect x="1363.3" y="1618.8" width="38.3" height="28.7" fill="#04051a"/>
<rect x="1401.6" y="1618.8" width="38.3" height="28.7" fill="#241432"/>
<rect x="1478.2" y="1618.8" width="38.3" height="28.7" fill="#04051a"/>
<rect x="1516.6" y="1618.8" width="38.3" height="28.7" fill="#0d0a21"/>
<rect x="1593.2" y="1618.8" width="38.3" height="28.7" fill="#faebdd"/>
<rect x="1631.6" y="1618.8" width="38.3" height="28.7" fill="#2b1637"/>
<rect x="1669.9" y="1618.8" width="38.3" height="28.7" fill="#3f1b43"/>
<rect x="1746.6" y="1618.8" width="38.3" height="28.7" fill="#110c24"/>
<rect x="1823.2" y="1618.8" width="38.3" height="28.7" fill="#e8403e"/>
<rect x="1861.5" y="1618.8" width="38.3" height="28.7" fill="#130d25"/>
<rect x="1286.6" y="1647.5" width="38.3" height="28.7" fill="#4b1d4a"/>
<rect x="1324.9" y="1647.5" width="38.3" height="28.7" fill="#04051a"/>
<rect x="1363.3" y="1647.5" width="38.3" height="28.7" fill="#33183c"/>
<rect x="1401.6" y="1647.5" width="38.3" height="28.7" fill="#08081e"/>
<rect x="1439.9" y="1647.5" width="38.3" height="28.7" fill="#1d112c"/>
<rect x="1478.2" y="1647.5" width="38.3" height="28.7" fill="#241432"/>
<rect x="1516.6" y="1647.5" width="38.3" height="28.7" fill="#2a1636"/>
<rect x="1554.9" y="1647.5" width="38.3" height="28.7" fill="#100b23"/>
<rect x="1593.2" y="1647.5" width="38.3" height="28.7" fill="#0a091f"/>
<rect x="1631.6" y="1647.5" width="76.7" height="28.7" fill="#faebdd"/>
<rect x="1708.2" y="1647.5" width="38.3" height="28.7" fill="#0b0920"/>
<rect x="1746.6" y="1647.5" width="76.7" height="28.7" fill="#06071c"/>
<rect x="1823.2" y="1647.5" width="38.3" height="28.7" fill="#2b1637"/>
<rect x="1861.5" y="1647.5" width="38.3" height="28.7" fill="#08081e"/>
<rect x="1363.3" y="1676.2" width="38.3" height="28.7" fill="#251433"/>
<rect x="1286.6" y="1704.9" width="38.3" height="28.7" fill="#4e1d4b"/>
<rect x="1324.9" y="1704.9" width="38.3" height="28.7" fill="#04051a"/>
<rect x="1401.6" y="1704.9" width="38.3" height="28.7" fill="#04051a"/>
<rect x="1478.2" y="1704.9" width="38.3" height="28.7" fill="#3f1b43"/>
<rect x="1516.6" y="1704.9" width="38.3" height="28.7" fill="#1b112b"/>
<rect x="1554.9" y="1704.9" width="38.3" height="28.7" fill="#08081e"/>
<rect x="1631.6" y="1704.9" width="38.3" height="28.7" fill="#3d1a42"/>
<rect x="1669.9" y="1704.9" width="38.3" height="28.7" fill="#130d25"/>
<rect x="1746.6" y="1704.9" width="38.3" height="28.7" fill="#1b112b"/>
<rect x="1823.2" y="1704.9" width="38.3" height="28.7" fill="#871e5b"/>
<rect x="1861.5" y="1704.9" width="38.3" height="28.7" fill="#04051a"/>
<rect x="1286.6" y="1733.7" width="38.3" height="28.7" fill="#35193e"/>
<rect x="1363.3" y="1733.7" width="38.3" height="28.7" fill="#1a102a"/>
<rect x="1401.6" y="1733.7" width="38.3" height="28.7" fill="#0b0920"/>
<rect x="1439.9" y="1733.7" width="38.3" height="28.7" fill="#221331"/>
<rect x="1478.2" y="1733.7" width="38.3" height="28.7" fill="#0e0b22"/>
<rect x="1516.6" y="1733.7" width="38.3" height="28.7" fill="#110c24"/>
<rect x="1554.9" y="1733.7" width="38.3" height="28.7" fill="#0d0a21"/>
<rect x="1593.2" y="1733.7" width="38.3" height="28.7" fill="#0a091f"/>
<rect x="1631.6" y="1733.7" width="38.3" height="28.7" fill="#33183c"/>
<rect x="1669.9" y="1733.7" width="38.3" height="28.7" fill="#31183b"/>
<rect x="1708.2" y="1733.7" width="38.3" height="28.7" fill="#170f28"/>
<rect x="1746.6" y="1733.7" width="38.3" height="28.7" fill="#110c24"/>
<rect x="1823.2" y="1733.7" width="38.3" height="28.7" fill="#faebdd"/>
<rect x="1861.5" y="1733.7" width="38.3" height="28.7" fill="#f59269"/>
</g>
<path d="M1324.9 1475.1v287.3M1363.3 1475.1v287.3M1401.6 1475.1v287.3M1439.9 1475.1v287.3M1478.2 1475.1v287.3M1516.6 1475.1v287.3M1554.9 1475.1v287.3M1593.2 1475.1v287.3M1631.6 1475.1v287.3M1669.9 1475.1v287.3M1708.2 1475.1v287.3M1746.6 1475.1v287.3M1784.9 1475.1v287.3M1823.2 1475.1v287.3M1861.5 1475.1v287.3M1286.6 1503.8h613.3M1286.6 1532.6h613.3M1286.6 1561.3h613.3M1286.6 1590h613.3M1286.6 1618.8h613.3M1286.6 1647.5h613.3M1286.6 1676.2h613.3M1286.6 1704.9h613.3M1286.6 1733.7h613.3" stroke="#fff" stroke-opacity="0.17" stroke-width="0.8" fill="none"/>
<g font-size="10.45" font-family="'DejaVu Sans','Liberation Sans',sans-serif" text-anchor="middle" fill="#fff">
<text x="1382.4" y="1493">23</text>
<text x="1420.8" y="1493">24</text>
<text x="1459.1" y="1493">1</text>
<text x="1497.4" y="1493">134</text>
<text x="1535.7" y="1493">85</text>
<text x="1574.1" y="1493">19</text>
<text x="1612.4" y="1493">125</text>
<text x="1650.7" y="1493">51</text>
<text x="1689.1" y="1493">28</text>
<text x="1727.4" y="1493">25</text>
<text x="1765.7" y="1493">42</text>
<text x="1804.1" y="1493">3</text>
<text x="1842.4" y="1493">89</text>
<text x="1880.7" y="1493">1</text>
<text x="1305.8" y="1521.7">351</text>
<text x="1344.1" y="1521.7">6</text>
<text x="1420.8" y="1521.7">5</text>
<text x="1459.1" y="1521.7">401</text>
<text x="1497.4" y="1521.7">52</text>
<text x="1535.7" y="1521.7">92</text>
<text x="1574.1" y="1521.7">240</text>
<text x="1612.4" y="1521.7">15</text>
<text x="1650.7" y="1521.7">126</text>
<text x="1689.1" y="1521.7">101</text>
<text x="1727.4" y="1521.7">7</text>
<text x="1765.7" y="1521.7">2</text>
<text x="1804.1" y="1521.7">0</text>
<text x="1842.4" y="1521.7">25</text>
<text x="1880.7" y="1521.7">251</text>
<text x="1305.8" y="1550.4">300</text>
<text x="1344.1" y="1550.4">15</text>
<text x="1382.4" y="1550.4">5</text>
<text x="1535.7" y="1550.4">100</text>
<text x="1574.1" y="1550.4">32</text>
<text x="1612.4" y="1550.4">43</text>
<text x="1650.7" y="1550.4">93</text>
<text x="1689.1" y="1550.4">56</text>
<text x="1727.4" y="1550.4">64</text>
<text x="1765.7" y="1550.4">30</text>
<text x="1804.1" y="1550.4">2</text>
<text x="1842.4" y="1550.4">74</text>
<text x="1880.7" y="1550.4">3</text>
<text x="1305.8" y="1579.2">548</text>
<text x="1344.1" y="1579.2">6</text>
<text x="1382.4" y="1579.2">112</text>
<text x="1420.8" y="1579.2">123</text>
<text x="1459.1" y="1579.2">155</text>
<text x="1497.4" y="1579.2">243</text>
<text x="1612.4" y="1579.2">81</text>
<text x="1650.7" y="1579.2">77</text>
<text x="1689.1" y="1579.2">71</text>
<text x="1727.4" y="1579.2">58</text>
<text x="1765.7" y="1579.2">19</text>
<text x="1804.1" y="1579.2">9</text>
<text x="1842.4" y="1579.2">111</text>
<text x="1880.7" y="1579.2">2</text>
<text x="1305.8" y="1607.9">195</text>
<text x="1344.1" y="1607.9">7</text>
<text x="1382.4" y="1607.9">97</text>
<text x="1420.8" y="1607.9">143</text>
<text x="1497.4" y="1607.9">527</text>
<text x="1612.4" y="1607.9">46</text>
<text x="1650.7" y="1607.9">45</text>
<text x="1689.1" y="1607.9">37</text>
<text x="1727.4" y="1607.9">77</text>
<text x="1765.7" y="1607.9">21</text>
<text x="1804.1" y="1607.9">2</text>
<text x="1842.4" y="1607.9">73</text>
<text x="1880.7" y="1607.9">22</text>
<text x="1344.1" y="1636.6">1</text>
<text x="1382.4" y="1636.6">7</text>
<text x="1420.8" y="1636.6">96</text>
<text x="1459.1" y="1636.6">0</text>
<text x="1497.4" y="1636.6">6</text>
<text x="1535.7" y="1636.6">34</text>
<text x="1574.1" y="1636.6">0</text>
<text x="1650.7" y="1636.6">116</text>
<text x="1689.1" y="1636.6">165</text>
<text x="1727.4" y="1636.6">1</text>
<text x="1765.7" y="1636.6">43</text>
<text x="1804.1" y="1636.6">0</text>
<text x="1842.4" y="1636.6">603</text>
<text x="1880.7" y="1636.6">48</text>
<text x="1305.8" y="1665.3">196</text>
<text x="1344.1" y="1665.3">4</text>
<text x="1382.4" y="1665.3">133</text>
<text x="1420.8" y="1665.3">22</text>
<text x="1459.1" y="1665.3">76</text>
<text x="1497.4" y="1665.3">95</text>
<text x="1535.7" y="1665.3">111</text>
<text x="1574.1" y="1665.3">42</text>
<text x="1612.4" y="1665.3">27</text>
<text x="1727.4" y="1665.3">31</text>
<text x="1765.7" y="1665.3">13</text>
<text x="1804.1" y="1665.3">13</text>
<text x="1842.4" y="1665.3">116</text>
<text x="1880.7" y="1665.3">21</text>
<text x="1305.8" y="1694.1">0</text>
<text x="1344.1" y="1694.1">0</text>
<text x="1382.4" y="1694.1">98</text>
<text x="1420.8" y="1694.1">0</text>
<text x="1459.1" y="1694.1">0</text>
<text x="1497.4" y="1694.1">0</text>
<text x="1535.7" y="1694.1">0</text>
<text x="1574.1" y="1694.1">1</text>
<text x="1612.4" y="1694.1">0</text>
<text x="1650.7" y="1694.1">0</text>
<text x="1689.1" y="1694.1">0</text>
<text x="1727.4" y="1694.1">0</text>
<text x="1765.7" y="1694.1">0</text>
<text x="1804.1" y="1694.1">0</text>
<text x="1842.4" y="1694.1">0</text>
<text x="1880.7" y="1694.1">3</text>
<text x="1305.8" y="1722.8">207</text>
<text x="1344.1" y="1722.8">4</text>
<text x="1382.4" y="1722.8">1</text>
<text x="1420.8" y="1722.8">6</text>
<text x="1459.1" y="1722.8">2</text>
<text x="1497.4" y="1722.8">166</text>
<text x="1535.7" y="1722.8">72</text>
<text x="1574.1" y="1722.8">20</text>
<text x="1612.4" y="1722.8">1</text>
<text x="1650.7" y="1722.8">162</text>
<text x="1689.1" y="1722.8">48</text>
<text x="1727.4" y="1722.8">1</text>
<text x="1765.7" y="1722.8">74</text>
<text x="1804.1" y="1722.8">0</text>
<text x="1842.4" y="1722.8">342</text>
<text x="1880.7" y="1722.8">6</text>
<text x="1305.8" y="1751.5">141</text>
<text x="1344.1" y="1751.5">0</text>
<text x="1382.4" y="1751.5">69</text>
<text x="1420.8" y="1751.5">30</text>
<text x="1459.1" y="1751.5">91</text>
<text x="1497.4" y="1751.5">38</text>
<text x="1535.7" y="1751.5">46</text>
<text x="1574.1" y="1751.5">32</text>
<text x="1612.4" y="1751.5">26</text>
<text x="1650.7" y="1751.5">133</text>
<text x="1689.1" y="1751.5">129</text>
<text x="1727.4" y="1751.5">62</text>
<text x="1765.7" y="1751.5">46</text>
<text x="1804.1" y="1751.5">0</text>
</g>
<g font-size="10.45" font-family="'DejaVu Sans','Liberation Sans',sans-serif" text-anchor="middle" fill="#262626">
<text x="1305.8" y="1493">37915</text>
<text x="1344.1" y="1493">3592</text>
<text x="1382.4" y="1521.7">15791</text>
<text x="1420.8" y="1550.4">1378</text>
<text x="1459.1" y="1550.4">3765</text>
<text x="1497.4" y="1550.4">1944</text>
<text x="1535.7" y="1579.2">8912</text>
<text x="1574.1" y="1579.2">1399</text>
<text x="1459.1" y="1607.9">2178</text>
<text x="1535.7" y="1607.9">1217</text>
<text x="1574.1" y="1607.9">5185</text>
<text x="1305.8" y="1636.6">1398</text>
<text x="1612.4" y="1636.6">2384</text>
<text x="1650.7" y="1665.3">5042</text>
<text x="1689.1" y="1665.3">1428</text>
<text x="1842.4" y="1751.5">1657</text>
<text x="1880.7" y="1751.5">777</text>
</g>
<path d="M1286.6 1489.5h-4.8M1286.6 1518.2h-4.8M1286.6 1546.9h-4.8M1286.6 1575.7h-4.8M1286.6 1604.4h-4.8M1286.6 1633.1h-4.8M1286.6 1661.8h-4.8M1286.6 1690.6h-4.8M1286.6 1719.3h-4.8M1286.6 1748h-4.8M1305.8 1762.4v5M1344.1 1762.4v5M1382.4 1762.4v5M1420.8 1762.4v5M1459.1 1762.4v5M1497.4 1762.4v5M1535.7 1762.4v5M1574.1 1762.4v5M1612.4 1762.4v5M1650.7 1762.4v5M1689.1 1762.4v5M1727.4 1762.4v5M1765.7 1762.4v5M1804.1 1762.4v5M1842.4 1762.4v5M1880.7 1762.4v5" stroke="#000" stroke-width="2.7" fill="none"/>
<g font-size="18.6" font-family="'DejaVu Sans','Liberation Sans',sans-serif" text-anchor="end" fill="#000">
<text x="1278" y="1497.1">MBC</text>
<text x="1278" y="1525.8">MBC_neuronal</text>
<text x="1278" y="1554.5">Endothelial</text>
<text x="1278" y="1583.3">Fibroblast</text>
<text x="1278" y="1612">Smooth muscle_vascular</text>
<text x="1278" y="1640.7">Hepatocyte</text>
<text x="1278" y="1669.4">Macrophage</text>
<text x="1278" y="1698.2">B_regulatory</text>
<text x="1278" y="1726.9">B</text>
<text x="1278" y="1755.6">T</text>
</g>
<text x="1593.2" y="1467.8" font-size="18.6" font-family="'DejaVu Sans','Liberation Sans',sans-serif" text-anchor="middle" fill="#000">OT</text>
<g font-size="18.6" font-family="'DejaVu Sans','Liberation Sans',sans-serif" text-anchor="end" fill="#000">
<text x="1304.1" y="1782.8" transform="rotate(-45 1304.1 1782.8)">MBC</text>
<text x="1342.4" y="1782.8" transform="rotate(-45 1342.4 1782.8)">MBC_stem-like</text>
<text x="1380.7" y="1782.8" transform="rotate(-45 1380.7 1782.8)">MBC_neuronal</text>
<text x="1419.1" y="1782.8" transform="rotate(-45 1419.1 1782.8)">Endothelial</text>
<text x="1457.4" y="1782.8" transform="rotate(-45 1457.4 1782.8)">Endothelial_angiogenic</text>
<text x="1495.7" y="1782.8" transform="rotate(-45 1495.7 1782.8)">Endothelial_vascular</text>
<text x="1534" y="1782.8" transform="rotate(-45 1534 1782.8)">Fibroblast</text>
<text x="1572.4" y="1782.8" transform="rotate(-45 1572.4 1782.8)">Smooth muscle_vascular</text>
<text x="1610.7" y="1782.8" transform="rotate(-45 1610.7 1782.8)">Hepatocyte</text>
<text x="1649" y="1782.8" transform="rotate(-45 1649 1782.8)">Macrophage</text>
<text x="1687.4" y="1782.8" transform="rotate(-45 1687.4 1782.8)">Monocyte</text>
<text x="1725.7" y="1782.8" transform="rotate(-45 1725.7 1782.8)">Mast</text>
<text x="1764" y="1782.8" transform="rotate(-45 1764 1782.8)">B_plasma</text>
<text x="1802.4" y="1782.8" transform="rotate(-45 1802.4 1782.8)">B</text>
<text x="1840.7" y="1782.8" transform="rotate(-45 1840.7 1782.8)">T</text>
<text x="1879" y="1782.8" transform="rotate(-45 1879 1782.8)">NK</text>
</g>
<text x="1109.3" y="1436" font-size="27.8" font-family="'DejaVu Sans','Liberation Sans',sans-serif" text-anchor="middle" fill="#000" transform="rotate(-90 1109.3 1436)">De-novo annotation</text>
<text x="1566.3" y="1975.6" font-size="27.7" font-family="'DejaVu Sans','Liberation Sans',sans-serif" text-anchor="middle" fill="#000">sc/snRNAseq-based TACCO annotation</text>
<defs><linearGradient id="rk" x1="0" y1="0" x2="0" y2="1"><stop offset="0%" stop-color="#faebdd"/><stop offset="5%" stop-color="#f8d9c3"/><stop offset="10%" stop-color="#f7c6a6"/><stop offset="15%" stop-color="#f6b18b"/><stop offset="20%" stop-color="#f69c73"/><stop offset="25%" stop-color="#f58860"/><stop offset="30%" stop-color="#f3714d"/><stop offset="35%" stop-color="#ef5840"/><stop offset="40%" stop-color="#e83f3f"/><stop offset="45%" stop-color="#db2946"/><stop offset="50%" stop-color="#cb1b4f"/><stop offset="55%" stop-color="#b71657"/><stop offset="60%" stop-color="#a11a5b"/><stop offset="65%" stop-color="#8b1d5b"/><stop offset="70%" stop-color="#751f58"/><stop offset="75%" stop-color="#611f53"/><stop offset="80%" stop-color="#4c1d4b"/><stop offset="85%" stop-color="#381a40"/><stop offset="90%" stop-color="#251433"/><stop offset="95%" stop-color="#130d25"/><stop offset="100%" stop-color="#03051a"/></linearGradient></defs>
<rect x="1915" y="1323.9" width="15.1" height="287.6" fill="url(#rk)"/>
<g font-size="18.6" font-family="'DejaVu Sans','Liberation Sans',sans-serif" fill="#000">
<text x="1939.6" y="1331.8">>1000</text>
<text x="1939.6" y="1389.1">800</text>
<text x="1939.6" y="1446.4">600</text>
<text x="1939.6" y="1503.6">400</text>
<text x="1939.6" y="1560.9">200</text>
<text x="1939.6" y="1618.2">0</text>
</g>
<path d="M1930.1 1324.8h4.8M1930.1 1382.1h4.8M1930.1 1439.4h4.8M1930.1 1496.6h4.8M1930.1 1553.9h4.8M1930.1 1611.2h4.8" stroke="#000" stroke-width="2.5" fill="none"/>
<text x="2001.2" y="1477.9" font-size="22.3" font-family="'DejaVu Sans','Liberation Sans',sans-serif" text-anchor="middle" fill="#000" transform="rotate(-90 2001.2 1477.9)">Cell count</text>
<g font-size="20.1" font-family="'DejaVu Sans','Liberation Sans',sans-serif" fill="#000">
<rect x="1125.9" y="2010.6" width="14.3" height="18" fill="#74d76e"/><text x="1146.5" y="2026.8">MBC</text>
<rect x="1125.9" y="2040.4" width="14.3" height="18" fill="#1b6b1b"/><text x="1146.5" y="2056.6">MBC_stem-like</text>
<rect x="1125.9" y="2070.3" width="14.3" height="18" fill="#3fa63f"/><text x="1146.5" y="2086.5">MBC_neuronal</text>
<rect x="1304.7" y="2010.6" width="14.3" height="18" fill="#fdb462"/><text x="1325.3" y="2026.8">Endothelial</text>
<rect x="1304.7" y="2040.4" width="14.3" height="18" fill="#6e0a0e"/><text x="1325.3" y="2056.6">Endothelial_sinusoidal</text>
<rect x="1304.7" y="2070.3" width="14.3" height="18" fill="#e07b1f"/><text x="1325.3" y="2086.5">Endothelial_angiogenic</text>
<rect x="1304.7" y="2100.2" width="14.3" height="18" fill="#a8400f"/><text x="1325.3" y="2116.3">Endothelial_vascular</text>
<rect x="1569.3" y="2010.6" width="14.3" height="18" fill="#d4d414"/><text x="1589.9" y="2026.8">Fibroblast</text>
<rect x="1569.3" y="2040.4" width="14.3" height="18" fill="#7f8c0f"/><text x="1589.9" y="2056.6">Smooth muscle_vascular</text>
<rect x="1569.3" y="2070.3" width="14.3" height="18" fill="#3a3a0a"/><text x="1589.9" y="2086.5">Stellate</text>
<rect x="1569.3" y="2100.2" width="14.3" height="18" fill="#f2a6f2"/><text x="1589.9" y="2116.3">Hepatocyte</text>
<rect x="1853.2" y="2010.6" width="14.3" height="18" fill="#9ed2f7"/><text x="1873.8" y="2026.8">Macrophage</text>
<rect x="1853.2" y="2040.4" width="14.3" height="18" fill="#3e85c0"/><text x="1873.8" y="2056.6">Monocyte</text>
<rect x="1853.2" y="2070.3" width="14.3" height="18" fill="#1f5a8f"/><text x="1873.8" y="2086.5">Mast</text>
<rect x="2008.4" y="2010.6" width="14.3" height="18" fill="#f7705a"/><text x="2029" y="2026.8">B_plasma</text>
<rect x="2008.4" y="2040.4" width="14.3" height="18" fill="#e0186a"/><text x="2029" y="2056.6">B_regulatory</text>
<rect x="2008.4" y="2070.3" width="14.3" height="18" fill="#d62020"/><text x="2029" y="2086.5">B</text>
<rect x="2008.4" y="2100.2" width="14.3" height="18" fill="#f9b0a0"/><text x="2029" y="2116.3">T</text>
<rect x="2008.4" y="2130" width="14.3" height="18" fill="#8b0a0a"/><text x="2029" y="2146.2">NK</text>
</g>
<defs><filter id="rg" x="-20%" y="-20%" width="140%" height="140%"><feTurbulence type="fractalNoise" baseFrequency="0.8" numOctaves="2" seed="3" result="n"/><feDisplacementMap in="SourceGraphic" in2="n" scale="7" xChannelSelector="R" yChannelSelector="G"/></filter><filter id="rg2" x="-20%" y="-20%" width="140%" height="140%"><feGaussianBlur stdDeviation="2.2" result="b"/><feTurbulence type="fractalNoise" baseFrequency="0.45" numOctaves="2" seed="7" result="n"/><feDisplacementMap in="b" in2="n" scale="14" xChannelSelector="R" yChannelSelector="G"/></filter><filter id="bl" x="-30%" y="-30%" width="160%" height="160%"><feGaussianBlur stdDeviation="6"/></filter><clipPath id="cp_m_f"><path d="M123.5 278.5C126.8 275.2 132.7 275.6 137.3 274.6C141.9 273.6 146.1 274.3 151.1 272.6C156 271 162.5 265.7 166.8 264.8C171.1 263.8 174.3 265.1 176.6 266.7C178.9 268.4 180.6 271.3 180.6 274.6C180.6 277.9 178.9 282.8 176.6 286.4C174.3 290 169.7 292.3 166.8 296.2C163.8 300.2 161.6 305.7 158.9 310C156.3 314.3 154.3 319.2 151.1 321.8C147.8 324.4 143.2 325.7 139.3 325.7C135.3 325.7 130.7 324.4 127.5 321.8C124.2 319.2 121.2 314.6 119.6 310C118 305.4 117 299.5 117.6 294.3C118.3 289 120.2 281.8 123.5 278.5Z"/></clipPath><clipPath id="cp_mac"><path d="M158.9 34.6C161.9 32.5 167.8 31.7 172.7 31.7C177.6 31.7 184.8 32.5 188.4 34.6C192 36.7 193 39.9 194.3 44.5C195.6 49 194.7 57.2 196.3 62.2C197.9 67.1 204.2 71 204.2 74C204.2 76.9 199.9 78.2 196.3 79.9C192.7 81.5 186.5 82.5 182.5 83.8C178.6 85.1 176.6 86.4 172.7 87.7C168.8 89 162.9 92 158.9 91.7C155 91.3 151.1 88.7 149.1 85.8C147.1 82.8 146.8 78.5 147.1 74C147.5 69.4 149.8 63.1 151.1 58.2C152.4 53.3 153.7 48.4 155 44.5C156.3 40.5 156 36.7 158.9 34.6Z"/></clipPath><clipPath id="cp_T"><path d="M223.8 31.7C225.5 31 227.1 31.8 229.7 34.6C232.4 37.4 236.6 43.8 239.6 48.4C242.5 53 245.1 57.6 247.4 62.2C249.7 66.7 253 72.6 253.3 75.9C253.7 79.2 251.7 79.9 249.4 81.8C247.1 83.8 243.5 86.4 239.6 87.7C235.6 89 229.4 90.3 225.8 89.7C222.2 89 219.6 87.1 217.9 83.8C216.3 80.5 216.6 74.9 216 70C215.3 65.1 213.3 59.5 214 54.3C214.7 49 218.3 42.3 219.9 38.6C221.5 34.8 222.2 32.3 223.8 31.7Z"/></clipPath><clipPath id="cp_hep"><path d="M119.6 129C124.8 127.1 135 124.4 139.3 125.1C143.5 125.8 144 129 145.2 133C146.3 136.9 147.5 145.1 146.1 148.7C144.8 152.3 141.1 153.3 137.3 154.6C133.5 155.9 128.4 156.9 123.5 156.6C118.6 156.2 111.7 154.3 107.8 152.6C103.9 151 99.9 149.4 99.9 146.7C99.9 144.1 104.5 139.9 107.8 136.9C111.1 133.9 114.3 131 119.6 129Z"/></clipPath><clipPath id="cp_mbcn"><path d="M168.8 123.1C172.4 119.9 180.2 115.3 186.5 113.3C192.7 111.3 200.9 110.3 206.1 111.3C211.4 112.3 215 115.6 217.9 119.2C220.9 122.8 221.2 132.3 223.8 133C226.5 133.6 231.4 122.5 233.7 123.1C236 123.8 237.6 133.3 237.6 136.9C237.6 140.5 233.3 141.8 233.7 144.8C234 147.7 239.2 150.3 239.6 154.6C239.9 158.9 237.9 168.7 235.6 170.3C233.3 172 229.1 164.1 225.8 164.4C222.5 164.8 217.9 168.4 216 172.3C214 176.2 215.6 184.1 214 188C212.4 192 209.1 195.9 206.1 195.9C203.2 195.9 199.6 192 196.3 188C193 184.1 190.1 177.2 186.5 172.3C182.9 167.4 177.9 162.8 174.7 158.5C171.4 154.3 168.4 151 166.8 146.7C165.2 142.5 164.5 136.9 164.8 133C165.2 129 165.2 126.4 168.8 123.1Z"/></clipPath><clipPath id="cp_endo"><path d="M105.8 3.1C111.4 2 122.9 0.2 127.5 2.2C132 4.1 132 10.2 133.4 14.9C134.7 19.7 135.7 25.8 135.3 30.7C135 35.6 133 39.9 131.4 44.5C129.8 49 127.5 55.3 125.5 58.2C123.5 61.2 121.9 62.8 119.6 62.2C117.3 61.5 115 56.9 111.7 54.3C108.4 51.7 103.2 49.7 99.9 46.4C96.6 43.1 94 38.9 92.1 34.6C90.1 30.4 87.8 25.1 88.1 20.8C88.4 16.6 91.1 12 94 9C97 6.1 100.2 4.3 105.8 3.1Z"/></clipPath><clipPath id="cp_fs"><path d="M35 72C37 69 40.9 68.4 44.8 66.1C48.8 63.8 53.7 59.9 58.6 58.2C63.5 56.6 70.4 54.9 74.4 56.3C78.3 57.6 79.3 59.9 82.2 66.1C85.2 72.3 87.8 85.8 92.1 93.6C96.3 101.5 107.1 108.1 107.8 113.3C108.4 118.5 99.3 121.8 96 125.1C92.7 128.4 91.4 132 88.1 133C84.8 133.9 81.2 132.6 76.3 131C71.4 129.4 63.9 126.1 58.6 123.1C53.4 120.2 48.8 117.2 44.8 113.3C40.9 109.4 37 104.4 35 99.5C33 94.6 33 88.4 33 83.8C33 79.2 33 74.9 35 72Z"/><path d="M80.3 56.3C84.2 54 90.7 54.9 96 56.3C101.2 57.6 107.1 60.8 111.7 64.1C116.3 67.4 120.9 71.7 123.5 75.9C126.1 80.2 127.1 85.4 127.5 89.7C127.8 94 126.8 97.9 125.5 101.5C124.2 105.1 121.2 108.4 119.6 111.3C118 114.3 117.6 118.5 115.7 119.2C113.7 119.9 111.1 117.2 107.8 115.3C104.5 113.3 99.9 110.7 96 107.4C92.1 104.1 87.5 99.5 84.2 95.6C80.9 91.7 78.3 88.1 76.3 83.8C74.4 79.5 71.7 74.6 72.4 70C73 65.4 76.3 58.5 80.3 56.3Z"/></clipPath><path id="h_fib" d="M16.3 103.2h0M19 81.7h0M23.9 61.3h0M25.8 102.7h0M27.6 84.3h0M28.1 103.1h0M29 70.3h0M29.1 89.4h0M29.4 77.8h0M30.1 90.8h0M30.3 64.2h0M30.9 89.9h0M31.1 93.3h0M31.2 83.3h0M31.3 108.7h0M31.6 84.6h0M31.7 70.3h0M31.8 69.1h0M31.8 98.9h0M31.9 78.7h0M32 70.7h0M32.2 86.9h0M32.2 82.8h0M32.3 84.4h0M32.4 89.5h0M32.9 98.2h0M33.2 77.4h0M33.3 79.7h0M33.6 93.7h0M33.7 65h0M33.7 68.8h0M33.7 92.4h0M33.9 74.7h0M33.9 96.4h0M34 63.1h0M34.3 99.7h0M34.9 104.9h0M35.3 101.9h0M35.6 69.2h0M35.9 69.8h0M35.9 68.3h0M36.3 70h0M36.4 65.3h0M36.8 67.4h0M37 109.4h0M37.8 106h0M37.8 65.9h0M38.2 68.4h0M38.3 106.2h0M38.7 110.7h0M38.7 108.8h0M38.7 108.9h0M39 56h0M39 106.6h0M39.4 110h0M39.6 68.5h0M39.7 111.5h0M40.4 109.7h0M40.8 64.2h0M40.8 109.1h0M41.2 67.2h0M41.3 66.6h0M41.7 63.9h0M42 63.5h0M42.7 65.5h0M42.8 113h0M42.9 66.7h0M43.5 65.9h0M43.8 63.1h0M44.1 112.9h0M44.1 65.2h0M44.7 118h0M45.5 115.6h0M46.9 115.9h0M47.1 116.7h0M47.5 62.2h0M48.9 129h0M50.3 124.2h0M50.6 118.1h0M51.4 122.1h0M51.8 120.8h0M52 121.2h0M52.1 60.9h0M52.2 121h0M52.4 131.1h0M52.6 124.3h0M53 120h0M53.5 119.5h0M53.8 60.9h0M53.9 58.9h0M53.9 60.3h0M54.1 121.3h0M54.6 120.6h0M54.8 121.5h0M55.3 121.5h0M55.8 51.4h0M56.1 59.3h0M56.4 122.7h0M56.6 54.7h0M56.8 59.1h0M57.8 56.1h0M58.2 56.1h0M58.4 124.6h0M59.2 124.3h0M59.6 126.1h0M59.6 57.4h0M59.6 54.3h0M59.7 51.8h0M60.1 52.8h0M60.4 53.4h0M61.9 56.6h0M61.9 125.3h0M62.8 57.3h0M62.9 126.4h0M63.4 135.9h0M63.8 50.8h0M64.2 50h0M64.3 44.8h0M64.4 129h0M65.1 56.1h0M65.6 128.1h0M66.2 136.7h0M66.2 56.4h0M67.2 56.8h0M67.9 56.4h0M68.2 127.9h0M68.4 54.8h0M68.5 56.8h0M68.6 127.7h0M69 129.4h0M71.2 55.1h0M71.9 131.8h0M72.3 53.8h0M72.8 131.3h0M72.9 44.4h0M73.6 56.1h0M74 45.4h0M74.3 47h0M74.3 55.6h0M74.4 54.2h0M75.3 135.6h0M75.9 57.1h0M76.1 57.8h0M76.4 56.4h0M76.6 58.9h0M76.7 58.2h0M76.9 57.8h0M77 55.8h0M77.6 135.4h0M78.9 133h0M79.1 134.1h0M79.2 132.8h0M79.5 55.6h0M79.6 58.6h0M79.7 61.6h0M79.8 59.2h0M80.3 59.5h0M80.4 50h0M80.5 61.5h0M80.8 60.3h0M80.9 64.4h0M81.5 45.7h0M81.6 57.9h0M82.1 136.8h0M82.3 63.3h0M82.4 141h0M82.7 66h0M83.1 67.4h0M83.6 135.6h0M84.1 63.1h0M84.3 134.5h0M84.3 136.1h0M84.4 69.5h0M84.5 133.5h0M84.6 72.2h0M84.8 66.7h0M85.1 64.6h0M85.1 69.5h0M86.1 73.6h0M86.2 134.5h0M87 78.9h0M87.2 135.9h0M87.3 133.8h0M87.5 134.1h0M87.5 62.5h0M87.7 135.4h0M87.8 75.5h0M88.3 75.1h0M88.5 139.4h0M88.6 137h0M88.9 132.4h0M89.3 72.8h0M89.5 66.4h0M89.6 133.1h0M89.9 137.4h0M90.3 86.9h0M90.5 65.7h0M90.5 137h0M90.6 132.1h0M90.7 132.6h0M90.7 88.4h0M91 88.2h0M91.1 131h0M91.4 80h0M91.9 132.3h0M92.3 130.9h0M92.3 91.8h0M92.4 134.2h0M92.5 83.3h0M92.5 82.2h0M93.3 131.2h0M93.4 93.9h0M93.8 129.5h0M94 92.1h0M94.5 88.9h0M95.6 126.6h0M96.4 94.3h0M96.8 98.3h0M96.8 127.7h0M97.1 93.6h0M97.1 99.5h0M97.7 124.9h0M97.9 97.9h0M98.6 129h0M98.7 127.9h0M99.4 123h0M99.6 97.6h0M99.9 125.7h0M99.9 102.3h0M101 120.7h0M101.2 95.8h0M101.3 123.6h0M101.3 120.4h0M102.2 126.3h0M102.7 122.1h0M103 119h0M103.1 125.8h0M103.4 121.9h0M103.4 118.6h0M103.7 124.9h0M103.7 117.6h0M105 121.6h0M105.8 115.5h0M106.9 111h0M106.9 114.7h0M107 109.2h0M107.2 109.6h0M108.2 110.3h0M109.4 119h0M109.8 112.7h0M110.7 113.5h0M111.2 98.6h0M111.4 113.1h0M122.3 102.7h0M123.2 101.1h0M125.9 116.8h0"/><path id="w_fib" d="M33.4 86h0M33.8 84.6h0M34.3 88.8h0M34.6 79.1h0M34.9 83.7h0M34.9 93h0M34.9 85h0M34.9 87.1h0M35 95.2h0M35.5 77.9h0M35.5 77.7h0M35.6 76.7h0M36.3 90.4h0M36.5 77.2h0M36.6 71.1h0M36.9 83.9h0M37 77.6h0M37.1 74.9h0M37.5 89.9h0M37.5 78.8h0M37.6 91.6h0M38.1 81.6h0M39.3 79.1h0M39.3 78.6h0M39.4 96.3h0M39.8 90.1h0M39.8 69.5h0M39.9 104.8h0M40.1 105.5h0M40.5 72.4h0M41.4 88.2h0M41.9 102.9h0M42.3 90.2h0M42.6 109.2h0M42.6 68.2h0M42.9 82.2h0M43 69.2h0M44.2 104.7h0M44.3 95.6h0M44.6 83.6h0M44.8 66.6h0M45.2 71.6h0M45.6 107.6h0M46.2 80.5h0M47 66.6h0M47.1 68.7h0M47.1 65.9h0M47.5 114.1h0M47.9 65.6h0M48.7 76.2h0M48.8 65.7h0M49.6 69.2h0M49.9 63.8h0M50 64.8h0M50 65.6h0M50.5 110.5h0M50.5 75.9h0M50.9 63.4h0M51.7 66.5h0M51.8 118.2h0M52.5 62.5h0M53.5 118.3h0M54.2 114.8h0M54.6 119.6h0M57.2 119.1h0M57.3 59.5h0M57.3 121.9h0M57.5 67h0M57.6 60.1h0M57.7 121.7h0M58.5 61.8h0M59 61.9h0M59.5 119.2h0M60.2 61.5h0M60.8 60.2h0M60.9 122.9h0M61.1 64.4h0M61.5 123.5h0M62 124.2h0M62.2 59.6h0M63.4 59.8h0M63.6 61h0M63.6 124.8h0M64.4 125h0M66.6 61.5h0M66.8 57.9h0M67 126h0M67.3 125.6h0M67.8 62.4h0M68.3 57.9h0M68.4 58.3h0M69 127.5h0M69 58.9h0M69.9 71.1h0M70.7 59.3h0M70.9 60.3h0M71.6 57.1h0M71.7 57.5h0M72 57.1h0M72.1 128.8h0M72.4 64.1h0M75 59.1h0M75.3 128.3h0M75.6 115.8h0M75.6 128.1h0M75.9 125h0M76 123.9h0M76.1 126.2h0M76.1 60.1h0M76.6 70.6h0M77.2 61.9h0M77.4 72.6h0M77.5 62.8h0M77.7 62.3h0M77.9 122h0M78.1 129.9h0M79.2 65.5h0M79.2 65.9h0M79.4 130.2h0M79.6 67.5h0M80.4 64.5h0M80.8 65.4h0M80.9 131.4h0M81.3 74.4h0M81.9 68.8h0M82.4 84.6h0M83.4 76.4h0M83.9 128.3h0M84.4 128.5h0M84.8 79.8h0M85.5 86.5h0M86 85.4h0M86.1 131.7h0M87.4 92.6h0M87.8 82.8h0M88.6 90.9h0M88.7 131.5h0M88.7 130.4h0M88.7 93.7h0M88.9 85.5h0M89.1 131.4h0M89.8 121.8h0M90.3 89.7h0M90.3 124.6h0M90.7 126.6h0M91 102h0M91.8 125.5h0M92.7 127.1h0M92.9 115.4h0M92.9 96.1h0M93.2 124.1h0M93.3 96.7h0M93.6 125h0M93.7 121.7h0M95 117.1h0M95.5 123.5h0M95.7 123h0M96.1 120.5h0M96.3 124.3h0M96.8 123h0M97.9 101.6h0M98 119h0M98.2 102.2h0M99.3 111.8h0M99.4 116.9h0M99.5 120.2h0M99.6 121.1h0M99.7 116.6h0M100.4 107.9h0M100.7 118.9h0M100.9 106.5h0M102.5 117.7h0M102.5 113.3h0M103.4 108.2h0M104 109.7h0M104.3 114.9h0"/><path id="h_smc" d="M61.3 93.2h0M62.3 72.5h0M64.1 76h0M64.7 74.8h0M65.5 67.6h0M66.3 69.3h0M68 59.8h0M68.7 69h0M69.2 78.4h0M69.3 79h0M70.2 72.5h0M70.5 59.6h0M70.6 79.6h0M70.6 68.2h0M70.8 75.5h0M71.2 67.2h0M71.8 69h0M72 70.3h0M72 75.7h0M72.5 67.8h0M72.9 90h0M73.1 84.5h0M73.4 65.5h0M73.6 82.2h0M73.8 77.9h0M73.8 63h0M74.2 77.1h0M74.6 62.9h0M75 82.4h0M75.1 79.5h0M75.1 80.8h0M75.1 82.5h0M75.3 83.2h0M76.2 55.2h0M76.2 61.7h0M76.3 62.2h0M76.5 61.6h0M76.7 85.5h0M76.7 60.1h0M76.9 58.4h0M77 59.3h0M77.4 85.7h0M77.9 55.1h0M78.1 88.4h0M79.6 91.6h0M79.8 98.5h0M80.2 55.9h0M80.6 93h0M80.8 90.9h0M81 91.3h0M81 56.1h0M82 93.4h0M83.3 98.9h0M84.1 55.6h0M84.3 56h0M84.7 55.9h0M85.9 55.9h0M86.3 50.4h0M87.8 100.7h0M88.2 100.2h0M88.3 100h0M88.3 108.1h0M88.6 100.4h0M89 53.4h0M89.2 55.9h0M89.3 106h0M89.5 111.4h0M89.5 51.9h0M89.8 54.9h0M90.8 107.3h0M90.9 102.8h0M91 53.1h0M91.2 103h0M92.1 52.4h0M92.5 104.5h0M93.1 112.7h0M93.1 105.6h0M93.3 56h0M93.8 106.3h0M94 122.7h0M94.3 111.6h0M94.6 54.2h0M95 109.6h0M95.5 108.9h0M95.5 112.7h0M95.9 46.9h0M95.9 107.7h0M96.2 109.2h0M96.5 110.9h0M97 124.1h0M98.3 109.1h0M98.4 111.1h0M98.9 57.2h0M99.5 57.1h0M99.7 111.6h0M100.2 57h0M100.3 114h0M102.1 121.6h0M103.6 59.2h0M103.7 59.9h0M103.7 51.3h0M104.2 114.2h0M104.6 123.6h0M104.9 119.5h0M105.2 130.3h0M106 115.7h0M107.9 118.9h0M108.2 119.5h0M108.2 116.5h0M108.7 62.2h0M109.1 118.8h0M109.1 117.5h0M109.3 116.4h0M109.7 62.3h0M110.3 126.4h0M110.6 119.2h0M110.9 61.1h0M111 118.7h0M111.2 120.9h0M111.2 119.6h0M111.5 119h0M111.6 117.8h0M111.6 122.3h0M111.8 120.4h0M112.6 128.4h0M112.6 56.4h0M112.8 127.1h0M113 118.7h0M113 119.1h0M113.3 60.1h0M113.6 131.3h0M114 119.5h0M114.2 132.2h0M114.5 119.8h0M114.5 119.4h0M114.5 119.9h0M114.7 65.3h0M114.7 63.5h0M114.9 123.6h0M115.6 61.5h0M116.2 125.7h0M116.4 67.4h0M116.5 68.7h0M116.6 66.7h0M117 129.7h0M117.1 116.8h0M117.9 119h0M118.1 60.9h0M118.3 114.5h0M118.6 115.1h0M118.6 116.3h0M118.7 124.8h0M118.7 65.9h0M119.5 120.3h0M119.5 71.5h0M119.6 118.3h0M120.2 57.6h0M120.9 109.8h0M121 126h0M121.2 116.9h0M121.2 109.7h0M121.3 109.7h0M121.3 70.5h0M121.3 73.6h0M121.5 115.2h0M121.5 73.8h0M121.8 109.7h0M122.1 107.5h0M122.5 109h0M122.7 61h0M123.3 107.9h0M123.4 112.3h0M123.6 73.8h0M123.8 107.1h0M123.9 105.7h0M124.1 107.1h0M124.2 114.6h0M124.9 80.7h0M124.9 111h0M125.2 76.1h0M125.3 108.7h0M125.9 100.9h0M125.9 108.8h0M126.1 77.5h0M126.4 71.1h0M126.5 95.5h0M126.6 103.3h0M126.6 81.6h0M127 84.7h0M127 99.9h0M127 82.5h0M127.3 88.8h0M127.3 95.3h0M127.7 92.1h0M127.8 93.2h0M127.8 89.8h0M127.9 91.4h0M128 73.7h0M128.2 94.6h0M128.2 110.5h0M128.9 90.3h0M129 88.7h0M129.1 105.4h0M129.3 77.5h0M130.1 91.8h0M130.4 92.8h0M130.6 97.6h0M131 94.2h0M131.3 121h0M132.1 84.5h0M133.1 91.4h0M133.3 89.4h0M137.6 108.6h0M138 86.4h0M138.6 56.7h0M141.7 67.2h0M144.1 94.5h0"/><path id="w_smc" d="M74 70.3h0M74.1 73.8h0M74.2 74.1h0M74.9 76.6h0M74.9 75.1h0M75.8 78.3h0M76.2 64.8h0M76.4 63.8h0M76.6 62.7h0M77 75.3h0M77.3 77.6h0M78.2 60.6h0M78.9 59.1h0M79.2 80.3h0M79.7 57.9h0M79.8 68.9h0M80 67.6h0M80.2 85.3h0M80.4 63.3h0M80.7 87.7h0M80.7 57.7h0M81.2 72.3h0M81.2 58.5h0M81.7 89.4h0M82.2 84.4h0M83.2 84.8h0M83.2 88.3h0M85 95.7h0M85.4 93h0M85.7 95.8h0M86.5 91.9h0M88.9 89.5h0M89 60h0M90 58.1h0M90.8 65.6h0M91.8 99.4h0M92.3 97.9h0M94.1 64.6h0M94.3 87.6h0M95 56.8h0M95 104.1h0M96.2 64.7h0M96.5 91.3h0M97.1 58.1h0M97.4 105.8h0M97.6 58.4h0M97.8 107.9h0M98 106.2h0M98.4 106h0M99.2 59.7h0M99.7 99.8h0M100 106.8h0M101.7 108.5h0M103.3 61.4h0M103.5 60.5h0M104.5 112.2h0M104.9 63.2h0M105.4 61.2h0M105.4 113.6h0M105.7 111.3h0M105.8 112.1h0M106.4 112.9h0M106.4 111.8h0M106.5 111.3h0M106.9 112.5h0M107.5 63.3h0M108 114.4h0M108.8 114.7h0M109.7 104h0M110.1 71.9h0M110.5 63.7h0M111.3 98.1h0M112.1 68.5h0M112.4 114.2h0M112.5 103.2h0M112.6 77.2h0M113.2 77.3h0M113.3 78.1h0M113.3 66.9h0M113.5 112.2h0M113.9 115.8h0M114.4 117.9h0M115.1 107.9h0M115.1 118.7h0M115.3 115.1h0M115.4 101.5h0M115.6 118.6h0M115.7 119.1h0M115.9 113.5h0M116.1 77.1h0M116.2 112.3h0M116.3 71.9h0M116.4 98.6h0M116.6 73.8h0M117 72.6h0M117.1 112.2h0M117.4 106.4h0M117.6 80.3h0M117.7 84.1h0M117.9 114.2h0M117.9 94.9h0M118 111.9h0M118.6 111.1h0M120.5 108.9h0M121.3 97.2h0M121.9 77h0M122.5 77h0M122.9 100.9h0M123 103.3h0M123.2 99.2h0M123.2 88.3h0M123.5 77.3h0M123.6 84.5h0M123.7 81.5h0M123.8 78.8h0M123.8 93.4h0M123.9 80.2h0M124.1 79.2h0M124.1 92h0M124.2 97.7h0M124.6 98.8h0M124.7 98.8h0M124.8 98.7h0M124.9 85.4h0M124.9 101.5h0M124.9 88.8h0M125 84h0M125.3 93.2h0M125.3 87.1h0M125.5 83.3h0M125.6 97.5h0M125.7 95h0M126.1 90.6h0M126.1 88.1h0M126.8 90.4h0"/><path id="h_mbcn" d="M149.1 145.9h0M152.4 128.9h0M158.2 126.8h0M161.3 149.9h0M161.9 140.4h0M162.1 125.2h0M162.4 137.4h0M162.4 130.7h0M162.5 132.4h0M162.7 125.9h0M162.8 143.6h0M162.9 146.9h0M163 133.7h0M163.1 149.1h0M163.1 137.6h0M163.1 133.9h0M163.3 132.1h0M163.3 127.3h0M164 131.4h0M164 139.8h0M164.1 130.4h0M164.4 140.6h0M164.4 132.2h0M164.5 128.1h0M164.6 138.8h0M164.6 147.8h0M164.7 134.5h0M164.7 126.1h0M164.8 122.8h0M164.9 133.5h0M165.1 139h0M165.4 152.2h0M165.7 144h0M166.1 145.8h0M166.1 126.8h0M166.4 128.8h0M166.8 149.1h0M167.2 125.1h0M167.4 120h0M167.4 123h0M167.5 151.2h0M167.6 125.7h0M167.9 121h0M168 156.1h0M168.7 156.1h0M168.9 160.3h0M169.1 153.7h0M169.8 172.7h0M170 158.6h0M170 117.9h0M170.3 153.6h0M170.3 154.2h0M171.4 120.6h0M171.5 159h0M172.7 158.3h0M172.7 104.9h0M172.9 161.2h0M173.4 164h0M173.5 163.7h0M173.5 119.5h0M173.9 158.3h0M174.6 106.6h0M175.8 160.1h0M175.9 115h0M176.4 160.7h0M176.6 112.9h0M177 116.6h0M177.4 116.2h0M177.8 163.4h0M178.6 95.6h0M178.9 114.3h0M179.2 165.9h0M179.5 168.5h0M179.7 115.7h0M180 179.2h0M180.2 165.9h0M181.9 172.6h0M182 92.8h0M182.1 180.4h0M182.7 107.9h0M182.9 110.1h0M183 190.3h0M183.1 113.7h0M184.3 177.2h0M184.3 179.6h0M184.8 176.2h0M185.1 112.7h0M185.6 102h0M186.8 183.2h0M187.4 99.8h0M187.6 178.2h0M188.4 176.2h0M188.4 106.1h0M188.6 187.9h0M188.8 177.5h0M188.8 178.6h0M189.4 183.6h0M189.9 181.1h0M191.4 183.9h0M191.4 187.7h0M191.9 183h0M193.2 185.2h0M193.4 111.3h0M194.2 186.4h0M195.4 188h0M196.4 195.7h0M196.5 111.1h0M197.2 194.3h0M197.4 191h0M197.5 112h0M198.3 191.4h0M198.4 189.8h0M199.5 194.9h0M199.6 192.5h0M200 106.5h0M201 195.3h0M201.1 111.7h0M201.4 193h0M203.3 100.5h0M203.8 194.5h0M204 110.9h0M204 102.7h0M204.5 96.8h0M204.7 197h0M205.1 205.6h0M206 111.1h0M206.3 196.3h0M206.9 111.3h0M207 196.2h0M207.4 111.6h0M207.6 108.4h0M208.4 201.8h0M208.4 109.9h0M208.8 195.3h0M208.9 197.9h0M209.8 192.6h0M209.8 107.7h0M210.5 200.1h0M210.7 195.9h0M211.6 114.3h0M211.8 191.6h0M211.9 192.5h0M212.2 202.3h0M212.5 113.4h0M212.5 191h0M212.5 114.7h0M213.5 115.6h0M213.9 114.2h0M214.7 188.4h0M214.9 181.2h0M215 186.3h0M215.5 111.5h0M215.5 176.7h0M215.6 178.5h0M215.6 187.6h0M216 183.2h0M216.1 176.2h0M216.3 195.2h0M216.3 172.3h0M216.3 186.1h0M216.5 117.5h0M216.9 176.5h0M217.9 206.4h0M218.1 172.1h0M218.5 117.9h0M218.5 191h0M218.6 120.6h0M218.6 199.7h0M218.7 173.6h0M218.9 171h0M219 187.8h0M219.2 195.4h0M219.4 172h0M220.6 170.9h0M220.8 124.7h0M221.1 168.6h0M221.2 168.6h0M221.5 171.7h0M221.5 188.6h0M221.9 128.2h0M222.1 173.6h0M222.5 128.5h0M222.8 170h0M222.9 122.1h0M223 182.3h0M223.1 126.1h0M223.1 111.2h0M223.3 200.6h0M223.3 129h0M223.4 131.8h0M223.5 167.3h0M223.6 166.8h0M223.7 128.9h0M223.7 177h0M223.8 118.2h0M223.9 171.1h0M224 167.4h0M224.1 120.7h0M224.3 169.4h0M224.9 166.9h0M225 120.4h0M225 166h0M225.3 179.5h0M226 168.7h0M226.5 114.9h0M226.8 165.8h0M227.2 171.8h0M227.5 169.8h0M227.7 168.5h0M227.9 123.3h0M228.1 166.7h0M228.4 124.8h0M228.5 179h0M228.7 166.5h0M228.7 125.2h0M229 168.9h0M229.1 171.8h0M229.2 125.6h0M229.2 167.5h0M229.4 121.3h0M230 178.9h0M230.2 126h0M230.8 120.9h0M231.1 169.5h0M231.3 115.6h0M231.3 175.4h0M231.5 174.7h0M231.6 110.1h0M231.8 124.1h0M231.9 168.1h0M232 168.5h0M232.3 171.2h0M232.6 121.4h0M232.8 122.6h0M233 169h0M233.9 122.5h0M234.1 114.6h0M234.3 122.8h0M234.3 145.2h0M234.7 144.6h0M234.8 126.1h0M234.8 172.7h0M235.2 123.9h0M235.2 170.3h0M235.4 126.2h0M235.4 124.1h0M235.5 126.1h0M235.6 146.8h0M235.7 143.9h0M236 142.2h0M236 168.9h0M236.1 140.8h0M236.1 128.6h0M236.3 140.8h0M236.4 124.6h0M236.7 120.6h0M236.8 170.7h0M236.8 166.7h0M236.9 139.1h0M237.1 127.1h0M237.2 171.1h0M237.2 138.6h0M237.3 132.2h0M237.6 132.7h0M237.7 172.6h0M237.9 144.5h0M237.9 136.4h0M238.1 148.2h0M238.2 149.1h0M238.2 128h0M238.3 137.6h0M238.3 132.4h0M238.4 139h0M238.5 168.7h0M238.5 151.8h0M238.6 134.3h0M238.7 130.5h0M238.8 136.7h0M238.8 134.8h0M238.9 186.1h0M238.9 152.6h0M239.1 159.9h0M239.2 152.4h0M239.4 158.2h0M239.5 138.3h0M239.5 163.7h0M239.5 155.5h0M239.7 132.5h0M239.8 151h0M239.9 136.3h0M240 139.1h0M240.1 122.8h0M240.3 156.6h0M240.7 155.5h0M241.2 172.6h0M241.3 143.9h0M241.4 134.2h0M241.5 131.2h0M241.7 161.3h0M241.9 142.2h0M242 162.1h0M242.1 149.9h0M242.4 146.6h0M243.5 153.2h0M243.7 142.2h0M245.2 146h0M246.2 164.4h0M246.7 135.4h0M247.1 166.4h0M247.4 133h0M247.9 142.8h0M248.7 136.1h0M248.9 151.6h0M249.5 152.7h0M252.2 152.6h0M259 116.7h0"/><path id="w_mbcn" d="M165.4 132.1h0M166.2 131.3h0M166.3 132.8h0M166.3 137.8h0M166.6 133.9h0M166.7 144.9h0M166.8 139.9h0M167.1 145.9h0M167.4 137.5h0M167.6 126.5h0M168.1 131.5h0M168.2 147.1h0M168.2 130.6h0M168.3 141.9h0M169.1 135.3h0M169.2 143.4h0M169.6 132.6h0M170.3 126.9h0M170.4 149h0M171.6 122.2h0M171.6 132.7h0M171.6 152.2h0M172.9 147.5h0M173 132.8h0M173.4 127.1h0M173.7 157.1h0M173.9 124.7h0M173.9 150.5h0M174 156.1h0M174.2 146.3h0M175.6 148.1h0M176.7 132.3h0M176.9 120.3h0M176.9 151.7h0M177.5 160.4h0M178.6 162.9h0M178.7 157.5h0M178.8 120h0M178.9 125.7h0M179 130.7h0M179.5 157.7h0M179.9 161.2h0M180.9 118.1h0M182.3 161.1h0M182.4 161.7h0M183.2 167h0M183.4 166.4h0M184.2 161.6h0M184.8 114.4h0M185 166.1h0M188.8 174.3h0M189.4 162.9h0M189.6 118h0M190 119.2h0M190.2 174.2h0M190.7 114.4h0M190.8 174.7h0M192.1 118.4h0M192.3 179.3h0M193.2 115.8h0M193.4 178.6h0M193.7 180.4h0M193.9 183.2h0M194.2 174.2h0M194.2 183h0M195.4 185.6h0M195.5 177.2h0M196.3 174.6h0M196.4 178.4h0M196.5 173.9h0M196.5 184.3h0M196.9 116.9h0M197 117.6h0M197.6 188.6h0M198.5 113.2h0M198.8 114h0M200.9 115.8h0M201.3 188.8h0M203.3 112.5h0M203.3 114.6h0M203.4 191.7h0M203.4 111.9h0M204.2 113.6h0M204.2 193.4h0M204.9 193.3h0M205.3 183.5h0M205.7 170.5h0M206 119.2h0M206.4 187.4h0M207 112.6h0M207.7 194.2h0M207.7 185.1h0M207.7 188.3h0M207.8 116.7h0M208.1 191.2h0M208.2 178.5h0M208.3 192.8h0M208.3 190.6h0M209.1 186h0M209.2 114.2h0M209.4 184.8h0M209.4 188.8h0M209.6 114.1h0M210.6 120.3h0M211.7 116.1h0M211.8 183.4h0M212.1 188.4h0M212.2 115.7h0M212.3 171h0M212.5 177.6h0M212.9 120.4h0M212.9 141h0M212.9 177h0M213.3 184.3h0M213.6 185.6h0M213.9 181.1h0M214 178.8h0M214 186.5h0M214 160h0M214.2 185.9h0M214.2 182.3h0M215 175.1h0M215.2 166.6h0M215.5 171.6h0M216.3 118.7h0M217 121.3h0M217.1 122.8h0M217.5 118.9h0M217.7 124.8h0M217.8 133.4h0M218.1 124.2h0M218.1 170.5h0M218.2 167.9h0M218.4 125.4h0M218.8 123.1h0M219.1 129.5h0M219.2 125.1h0M219.3 127.3h0M220.2 128.2h0M220.6 144.7h0M221.3 129.1h0M221.5 160.4h0M221.6 162.6h0M221.7 143.4h0M221.7 164.6h0M221.8 165.7h0M222.2 165.3h0M222.2 131.6h0M222.3 129.5h0M222.6 133h0M222.7 164.9h0M223.6 164.8h0M224.5 163.6h0M225 135.2h0M226.1 133.2h0M227.9 164h0M228.1 158.2h0M228.3 140.7h0M228.7 163.8h0M228.9 137.3h0M229.3 164.6h0M230.1 131h0M230.6 133.4h0M230.7 127h0M230.8 145.7h0M230.9 146.7h0M231.3 128.1h0M231.4 125.8h0M231.7 126.9h0M231.7 126.2h0M231.8 144.2h0M232.1 163.2h0M232.1 146.5h0M232.3 145.2h0M232.3 143.9h0M232.6 168.2h0M232.8 146h0M232.9 155.8h0M232.9 167.9h0M233 141.7h0M233 144.1h0M233.1 124.9h0M233.3 158.7h0M233.6 137.5h0M233.7 126.3h0M233.7 164.2h0M233.7 145.4h0M233.8 150.4h0M233.9 161.8h0M234.2 164.7h0M234.3 136.5h0M234.4 126.1h0M234.5 141.4h0M235 158.9h0M235.1 151.6h0M235.4 148.2h0M235.6 137.3h0M235.8 136.7h0M236.1 139.6h0M236.2 150.1h0M236.3 149.4h0M239.3 155.4h0"/><path id="h_m_b" d="M54.5 199.2h0M61.5 178.5h0M62.5 176.7h0M65 205.2h0M66 195.6h0M67.9 217.1h0M68.3 187.5h0M68.9 160.8h0M69.9 174.1h0M70.4 199.1h0M70.6 204.9h0M71.5 187.8h0M72 179.1h0M72.1 179.5h0M72.2 174.4h0M73.4 173.5h0M73.6 172.3h0M73.7 188h0M73.9 185.4h0M73.9 176.9h0M74.1 198.2h0M74.1 184.9h0M74.2 217h0M74.4 169.1h0M74.4 175.8h0M74.6 173.2h0M74.6 184.7h0M74.6 171.9h0M74.9 183.9h0M74.9 180.7h0M74.9 188.1h0M74.9 188.1h0M75.4 205.9h0M75.5 213.5h0M75.6 172.1h0M75.8 173.6h0M76 198.5h0M76.1 213.7h0M76.1 215.8h0M76.1 191.7h0M76.1 194.9h0M76.5 200.6h0M76.6 213.5h0M76.6 170.1h0M76.6 205.4h0M76.6 173.5h0M76.8 194.9h0M76.9 195.1h0M77.1 196.4h0M77.2 210.9h0M77.3 170.5h0M77.9 199.6h0M78 220h0M78.2 216.7h0M78.4 199.2h0M78.5 201.5h0M78.6 219.6h0M79 204.4h0M79.1 223.2h0M79.3 217.6h0M79.6 204.2h0M79.7 203h0M79.9 218.3h0M80.3 219.2h0M81 217.8h0M82.7 221.3h0M83.9 218.2h0M84.1 218.7h0M84.5 165.8h0M84.9 222.6h0M85.2 220.6h0M86.4 169.2h0M86.5 226.3h0M86.7 157.1h0M87.1 217.9h0M87.2 218.6h0M87.2 221.3h0M87.4 168.1h0M87.8 218.8h0M89 219.8h0M89.6 170h0M90 168.5h0M90.8 215.3h0M91.8 219.4h0M92 222.8h0M92 168.3h0M92.1 165.1h0M92.2 218.1h0M92.4 215.7h0M92.5 234.1h0M93.1 168.8h0M93.3 165.5h0M93.3 216.3h0M93.4 219.5h0M93.5 213.8h0M93.8 213h0M94.2 225.3h0M94.6 210.7h0M95 214.7h0M95.3 210.6h0M95.5 210.7h0M95.6 169.2h0M95.9 213.1h0M96.1 211.5h0M96.3 213.7h0M96.6 169h0M97.1 212.7h0M97.5 213.5h0M97.5 208.1h0M97.5 168.3h0M97.9 166.4h0M97.9 208.8h0M98 217.1h0M98.2 209h0M98.4 212.9h0M99.1 218h0M99.1 210.1h0M99.2 168.5h0M99.6 166.8h0M99.6 209.3h0M99.7 212.1h0M100 208.8h0M100.6 168.9h0M100.7 161.4h0M100.7 209.2h0M101 223.8h0M101 209.1h0M101.1 165.3h0M101.3 218.1h0M101.4 166.9h0M101.4 212.9h0M101.7 208.9h0M101.8 165h0M102.1 167.4h0M102.1 168.9h0M102.3 209h0M102.5 217.9h0M102.6 228.6h0M102.7 214.5h0M102.8 153.6h0M103.3 209.6h0M103.3 218.9h0M103.4 209.3h0M103.4 168.3h0M103.6 210.3h0M103.7 222.4h0M103.7 166.2h0M104.7 233.6h0M104.7 226.8h0M104.9 168.1h0M105 214.1h0M105 217.6h0M105 228.8h0M105.1 217.5h0M105.4 220.8h0M105.6 210.4h0M105.6 217.6h0M105.7 217.2h0M106.1 211h0M106.4 213.3h0M106.4 223.8h0M107.2 219h0M107.5 249.8h0M107.7 225h0M108.6 166.2h0M108.8 164h0M109 164.8h0M109.1 235.4h0M109.3 220.8h0M109.7 220.6h0M109.7 241h0M109.8 161.9h0M110.9 227.3h0M111.2 221.9h0M111.2 225.8h0M111.8 231.9h0M112.3 165.5h0M112.8 222.8h0M112.9 229.3h0M112.9 223.6h0M113 167.3h0M113.4 222.5h0M113.5 222.6h0M113.7 222.9h0M113.8 224h0M114 222.8h0M114.7 224.2h0M115.5 225.9h0M115.6 225.2h0M115.9 164.6h0M116 223.5h0M116 223.1h0M116.1 226.2h0M116.7 222.9h0M116.7 222.8h0M117.6 225.7h0M117.8 222.8h0M117.8 223.1h0M117.8 166.7h0M118.1 223.2h0M118.3 165.9h0M118.5 217.9h0M118.6 219.6h0M119.2 220.9h0M119.4 218.8h0M119.5 214.5h0M119.5 220.5h0M119.7 223h0M119.8 151.7h0M119.9 214.7h0M120 217.1h0M120.1 168.7h0M120.8 169.1h0M120.9 212.2h0M121 214.4h0M121.4 211.6h0M121.5 214.2h0M122.3 212.4h0M122.5 212h0M122.9 228.1h0M122.9 220.1h0M123.2 209.1h0M123.4 234h0M123.4 214h0M124.5 210.3h0M125.8 210.2h0M126 208.6h0M126.6 170h0M126.8 215.6h0M127.1 217.3h0M127.8 206.7h0M128.4 211.8h0M128.5 214.2h0M128.7 202.8h0M128.8 208.7h0M129 213.3h0M129.1 211.3h0M129.5 202.2h0M129.9 204.4h0M130.4 203h0M130.4 213.1h0M130.8 204.5h0M130.9 200.3h0M131.3 203.2h0M131.3 203.4h0M131.4 174.9h0M131.5 169.7h0M131.5 170.2h0M131.5 201.8h0M132 170.8h0M132.3 201h0M132.3 175.8h0M132.3 175.2h0M132.4 174.3h0M132.6 208.2h0M132.9 201.7h0M133 174.2h0M133.3 222.1h0M133.4 202.4h0M133.6 201h0M133.8 197.1h0M134.5 199.7h0M134.8 168.1h0M135.2 197.7h0M135.3 200.7h0M135.5 177.7h0M135.7 201.9h0M135.8 221.4h0M136.4 194.1h0M136.4 180.4h0M136.7 193.5h0M137.2 171.5h0M137.2 180.7h0M137.3 183.5h0M137.3 183.2h0M137.4 201.5h0M137.4 183.8h0M137.5 175.6h0M137.5 188.7h0M137.6 192.9h0M137.6 189.9h0M137.8 191.3h0M137.8 170.8h0M137.9 200.1h0M138.1 183.5h0M138.1 182.9h0M138.2 201.5h0M139 192.3h0M139 183.6h0M139.4 196.4h0M139.7 181.2h0M139.8 197.9h0M140 182.8h0M140.1 184.8h0M140.1 192.1h0M140.4 182.7h0M140.5 185.6h0M140.7 199.1h0M141 200.3h0M141.3 186.1h0M141.7 191.1h0M142.1 184.6h0M142.1 188.3h0M143.2 180.3h0M143.5 185.4h0M146.1 195.4h0M154 180.4h0M164.6 201.8h0"/><path id="w_m_b" d="M75.6 175.9h0M76.1 177.8h0M76.6 186.4h0M76.9 191h0M77.1 180.6h0M78.9 215h0M79.5 173.8h0M79.6 181.7h0M80 214.6h0M80.3 211.8h0M80.4 208.6h0M80.5 195.3h0M80.5 213.5h0M80.7 209h0M80.9 205h0M81.3 183.4h0M81.6 201.3h0M81.6 203.5h0M81.6 210.6h0M81.7 197.1h0M81.8 189.2h0M82.2 206.7h0M82.3 197.4h0M82.5 216.5h0M82.6 208.7h0M82.6 173.1h0M82.7 193.6h0M82.8 187.9h0M83.1 208.7h0M83.2 206.1h0M83.3 207.5h0M83.4 184.5h0M83.6 212.1h0M83.7 207.7h0M83.9 194.4h0M83.9 216.7h0M84.1 173.6h0M84.4 217h0M84.5 201.1h0M85.8 208h0M87.2 179.7h0M87.6 170.6h0M87.7 217.5h0M88.2 217.1h0M88.2 212.3h0M89.4 172.5h0M90.1 213.8h0M90.5 212.6h0M90.5 213.1h0M90.7 211.2h0M90.9 173.5h0M91.7 196.7h0M91.8 205.1h0M92 170.5h0M92.2 171.1h0M92.2 210.3h0M93.3 210.9h0M93.5 174.9h0M93.6 206.9h0M93.7 210.2h0M93.9 209.2h0M94.3 175.7h0M94.8 170.1h0M95.7 205.6h0M95.7 175.8h0M96.7 205.6h0M97 200.1h0M98.7 207.7h0M98.9 204.7h0M99.1 182h0M99.2 202.8h0M99.3 198.4h0M99.5 208.3h0M99.8 205.8h0M102.4 204.6h0M102.5 183.4h0M104.3 171.6h0M105.1 208.8h0M106.7 211.1h0M106.9 176h0M107 214.9h0M107.4 212.2h0M107.4 210.6h0M107.6 210.6h0M108.5 214h0M108.5 219.1h0M109.8 214.9h0M110.3 220.6h0M110.3 219.3h0M110.6 169.2h0M110.6 211h0M110.7 219.6h0M110.8 219.3h0M110.9 220.8h0M110.9 206.9h0M111 211.8h0M111.3 182.8h0M111.3 215.4h0M111.8 209.5h0M112.1 218.1h0M113 171.5h0M113.1 219.6h0M113.4 222h0M113.9 169.2h0M114 220.3h0M114.1 219.4h0M115.6 223.2h0M116 172.1h0M116.2 219.6h0M116.6 174.5h0M117.1 215.4h0M117.3 205.3h0M117.4 216.6h0M117.7 217.7h0M117.7 215.5h0M118.3 198.9h0M118.6 173.2h0M119.5 193.7h0M119.8 210.8h0M120.8 206h0M121.8 206.7h0M122.2 209.8h0M122.3 205.7h0M123.4 204.4h0M123.8 206.9h0M123.9 170.5h0M124.2 206h0M124.2 202.4h0M124.5 173.3h0M125.7 203.2h0M125.7 203.9h0M125.9 201.1h0M125.9 178.4h0M126.3 201h0M126.5 204.7h0M126.6 170.7h0M127.3 192.3h0M127.5 170.6h0M128.3 172.7h0M128.7 192.3h0M128.8 175h0M128.8 172.4h0M128.9 201.7h0M129.2 200.1h0M129.3 173.1h0M129.9 196.9h0M129.9 198.4h0M129.9 197.4h0M130.1 198.2h0M130.7 176.3h0M130.8 176.9h0M131 177.3h0M131 175.4h0M131.4 186h0M132.4 177.8h0M132.9 185.8h0M133 184.4h0M134.2 185.3h0M135 180.3h0M135.1 180.5h0M135.5 191.5h0M135.7 193.8h0M135.9 185.7h0M136.1 192.6h0M136.5 181.9h0M136.8 185.8h0M137 182.3h0M137.1 191.1h0"/><path id="h_m_f" d="M99.2 299.3h0M105.1 277.3h0M105.3 296.8h0M106.7 321.8h0M107.2 307h0M107.9 294.4h0M109.5 291.7h0M110.5 288.3h0M110.7 297.2h0M110.9 301.4h0M111.3 313h0M111.3 320.7h0M111.8 305.4h0M111.9 315.2h0M113 272.8h0M113.7 263.4h0M113.8 317.8h0M114.7 293.6h0M115.3 309h0M115.5 287.6h0M115.9 303.9h0M116.1 281.8h0M116.2 299.6h0M116.3 297h0M116.4 297.3h0M116.5 292.3h0M116.8 307.3h0M116.9 282.9h0M117 299.1h0M117.1 291.7h0M117.1 301.4h0M117.4 308.3h0M117.4 303h0M117.5 298.9h0M117.7 307.8h0M117.7 300.7h0M117.8 275.1h0M117.8 309.5h0M117.9 316.1h0M118 262.2h0M118 301.4h0M118 287.5h0M118.5 306.8h0M118.6 273.2h0M118.7 288.1h0M118.7 287.2h0M119.1 288.1h0M119.2 314.4h0M119.4 312.8h0M119.5 279.4h0M119.6 312.3h0M120.3 315.1h0M120.4 318.5h0M120.4 323.1h0M120.5 277.4h0M120.7 282.3h0M120.8 281.2h0M120.9 322.5h0M121.5 279.8h0M121.6 283h0M122 315.9h0M122.2 314.4h0M122.9 316.4h0M123.3 278.8h0M123.5 315.9h0M124.8 275.3h0M124.9 321h0M125.4 276.1h0M126.3 272.1h0M126.5 321.2h0M126.6 320.8h0M127.7 269.7h0M127.9 277.2h0M128.6 273.9h0M128.9 273.1h0M129.4 276.2h0M129.4 273.9h0M131.4 270h0M131.8 273.2h0M132.1 275.9h0M132.6 272.2h0M132.6 274.9h0M133 272.3h0M133.5 274h0M134 272.5h0M134.7 272.6h0M134.9 274.4h0M135.1 274.8h0M135.2 272.4h0M135.2 275h0M137.1 274.1h0M138.3 267.1h0M138.4 272.3h0M138.8 273.5h0M139 273.8h0M140.2 272.3h0M140.5 272.8h0M141 264.5h0M141.6 266.2h0M142 269.5h0M142.8 272.1h0M143 270.2h0M143.7 272.1h0M143.7 273h0M145.7 260.2h0M147 266.7h0M148 322.9h0M148.3 272.4h0M149.2 272.8h0M149.8 259.4h0M151.1 270.7h0M151.2 322.6h0M151.5 322.9h0M152.8 319.5h0M153.6 262.9h0M154.1 319.4h0M154.3 321.2h0M154.7 270h0M154.9 318.3h0M155.7 262.5h0M155.9 315.1h0M156.9 322.9h0M157.7 316.4h0M157.8 318.3h0M158.9 312h0M160.4 309.2h0M160.6 264.2h0M160.7 318.5h0M161.2 307.2h0M161.3 315.5h0M161.4 309.4h0M161.7 315.8h0M161.8 312h0M162.2 305.6h0M162.3 262.6h0M162.6 265.9h0M162.7 266.1h0M163.3 307.1h0M163.4 308.4h0M163.6 302.9h0M163.8 265.9h0M163.8 264.8h0M163.8 266h0M164 265.6h0M164.1 264.6h0M164.5 265.3h0M166.4 301.2h0M166.6 264.6h0M166.8 302.7h0M166.9 312.5h0M167 296.4h0M167.2 307.6h0M167.3 304.3h0M167.6 297.6h0M168.4 298.5h0M168.4 312.4h0M168.6 264.8h0M170.1 264.4h0M170.2 262h0M170.2 262.6h0M170.4 293.6h0M171 292.6h0M171.1 293.7h0M171.4 293.3h0M171.8 291.3h0M172.6 265.4h0M173.6 315.9h0M173.6 298.4h0M173.6 265h0M173.6 265.3h0M173.6 261.6h0M174.1 291.5h0M174.4 290.3h0M174.5 265.1h0M175.1 288.1h0M175.5 266.3h0M175.7 266.3h0M176.3 288h0M176.6 288.2h0M177 266.3h0M177.2 286.6h0M177.8 268.5h0M177.9 267.7h0M177.9 283.1h0M178.2 288.8h0M178.3 289.8h0M178.6 282.3h0M179 281.6h0M179.1 270.1h0M179.2 270h0M179.4 269.6h0M179.4 265.6h0M179.4 289.3h0M179.6 269.1h0M179.9 279.1h0M180.2 270.1h0M180.2 272.8h0M180.3 277.7h0M180.4 284.8h0M180.5 275.4h0M180.6 272.3h0M180.7 278.9h0M180.7 286.5h0M180.7 278.4h0M180.7 288.2h0M180.8 284.9h0M181 273.2h0M181 272.7h0M181.2 271.1h0M181.3 275.1h0M181.6 270.8h0M181.7 263.9h0M181.7 270h0M181.7 274.3h0M182.4 270.9h0M182.5 278.3h0M183.1 266h0M183.3 272.4h0M183.4 280.5h0M183.8 285.3h0M184.8 262.3h0M184.9 272.6h0M185 281.7h0M185.4 272.5h0M186.3 256.1h0M186.6 255.3h0M186.8 276.4h0M187.2 284.2h0M191.9 262.7h0M193.6 290.4h0"/><path id="w_m_f" d="M119.1 298h0M119.5 304.9h0M119.6 305.5h0M119.9 289.9h0M120.3 302h0M120.6 307.6h0M120.8 311.2h0M121.2 297h0M121.4 305.1h0M121.5 301.5h0M121.6 311.2h0M122.5 313.6h0M123.4 279h0M123.6 286.1h0M123.7 301.1h0M123.8 314.2h0M123.9 279.2h0M124.3 309.4h0M125.1 280.5h0M125.3 309h0M125.6 317.2h0M125.8 310.6h0M125.9 291.5h0M126.3 281h0M127.6 288.3h0M127.7 317.8h0M127.9 317.8h0M128 309.9h0M128 318.4h0M128.6 311.1h0M129.7 278.7h0M129.8 322h0M130.3 320.4h0M132.2 302.3h0M132.9 281.4h0M134.2 314.5h0M135.6 277.1h0M136.1 276h0M136.2 319.6h0M136.6 275.5h0M137.6 323.9h0M137.8 275.8h0M139.3 279.1h0M139.6 319.8h0M140.8 322.9h0M140.8 276.9h0M141.2 322.4h0M141.3 323.7h0M141.4 320.8h0M141.5 322.8h0M142 316.9h0M142.4 323.6h0M142.5 316.9h0M143.1 278.3h0M143.4 274h0M143.4 275h0M144.7 318h0M146.2 278.6h0M146.6 321.1h0M146.8 308.6h0M146.9 322.2h0M147 276.2h0M147 274h0M148.3 321.4h0M148.5 273.5h0M149.3 321.1h0M149.8 322h0M150.5 317.8h0M151 321h0M151.3 319.4h0M152 273h0M152.9 313h0M154.5 290.6h0M155.3 302.1h0M155.8 270.9h0M156.8 269.8h0M156.8 312.5h0M157.1 270.2h0M157.3 309.4h0M157.8 308.7h0M159.4 277.6h0M159.7 307.7h0M159.7 305.8h0M159.7 305.8h0M160.4 300.6h0M160.6 305.2h0M160.9 268.4h0M161 306.1h0M161 272.6h0M162 299.5h0M163 302.7h0M163 267.6h0M163.9 299.5h0M164.4 270.3h0M165.2 266.7h0M166.3 287.9h0M167.7 265.7h0M167.9 291.5h0M168.9 283.9h0M168.9 267.2h0M169.4 292.8h0M170 291.9h0M170.2 288.5h0M170.2 265.8h0M171.9 279.4h0M172 288.2h0M172.1 289.8h0M172.7 286.5h0M173.4 266.9h0M173.7 266.7h0M173.9 267.7h0M174.1 281.2h0M174.1 268.4h0M174.5 268.5h0M174.7 274.5h0M174.7 286.5h0M174.8 268.1h0M174.9 287.3h0M175 268.5h0M175.1 284h0M175.7 283.3h0M176 284.1h0M176.5 275.8h0M176.5 267.8h0M177 281.5h0M177 285h0M177.5 269.9h0M177.5 280.1h0M177.7 273.6h0M177.9 280.8h0M177.9 269.9h0M178.1 274.8h0M178.2 276.4h0M178.2 274.7h0M179 277.8h0M179.6 276.2h0"/><path id="h_m_e" d="M46.3 262.4h0M46.4 243h0M48.1 258.8h0M51.2 240.5h0M53.6 247.2h0M54.8 252.9h0M55 252.9h0M55.6 237h0M56.5 249.2h0M56.5 236.6h0M56.8 240.7h0M57.6 241.5h0M57.8 254.8h0M57.9 255.9h0M58.1 245.9h0M58.1 255h0M58.7 260.7h0M58.7 245.7h0M59.1 242.4h0M59.1 233.7h0M59.2 259.2h0M59.3 243.2h0M59.4 265.9h0M59.5 239.4h0M59.7 256.4h0M60.4 259.3h0M60.5 256.6h0M60.7 256.2h0M60.8 234.2h0M61.1 259.8h0M61.1 256h0M61.5 234.8h0M61.7 258.1h0M61.9 258.5h0M62.8 232.5h0M62.8 262.8h0M64 264.2h0M64 263.1h0M64.1 262.5h0M64.1 269.6h0M64.4 262.9h0M64.5 279.1h0M64.6 235h0M64.7 232h0M64.8 265.7h0M64.9 268.3h0M65 265.5h0M65.2 230.3h0M65.3 269.5h0M65.6 233.1h0M65.7 215.2h0M66.3 265.4h0M66.9 234.5h0M68.1 229.3h0M68.5 233h0M69 227.9h0M69.4 268.3h0M69.5 234.1h0M69.8 233.3h0M70.5 226.5h0M70.7 223.4h0M70.9 269.3h0M71.5 273.4h0M72.4 275.6h0M72.8 230.9h0M73.4 228.2h0M73.7 228.4h0M73.8 232.5h0M73.9 230.5h0M74 274h0M74 229.1h0M74.1 220.9h0M75.2 275.9h0M75.4 231.6h0M75.7 274.7h0M76.2 273.2h0M76.4 229.4h0M76.6 275.6h0M76.7 227.5h0M77.3 274.4h0M77.8 282.9h0M78.1 275.5h0M78.7 227.3h0M78.8 275.3h0M79.2 230.6h0M79.4 228h0M80.4 226.3h0M80.4 274.6h0M80.7 230.1h0M81.4 273.7h0M81.7 231.2h0M81.8 223.7h0M82 276.7h0M82 229.9h0M82.4 277.5h0M82.7 273.9h0M84.5 291.5h0M84.8 279.4h0M85 231.1h0M85.5 283.9h0M86.2 281.9h0M87.2 276h0M87.8 279.2h0M87.9 226.5h0M90 274.7h0M90.3 279.1h0M90.6 225.7h0M90.7 230.7h0M91.4 222.4h0M92.8 220.1h0M93.3 232.6h0M94.1 274.8h0M95 275.9h0M95.7 229.5h0M96 232.2h0M97 274.5h0M97.5 277.2h0M97.5 276.5h0M98.2 274.4h0M98.4 233.2h0M98.5 274.7h0M98.8 232.7h0M98.8 232.3h0M99 229.7h0M99.9 222.3h0M100.1 274.2h0M100.5 279.4h0M101.3 229.3h0M101.6 233h0M101.8 273.5h0M102 233.3h0M102 273.9h0M103.6 279.1h0M103.8 229.1h0M104 210.8h0M104.1 236.4h0M104.1 230.6h0M105.3 273h0M105.3 237.4h0M105.3 235.9h0M105.3 212.9h0M105.8 219.7h0M106 229.6h0M106.5 275.2h0M106.6 234.7h0M107 236h0M107.2 237.9h0M107.5 237.8h0M107.8 238.2h0M109.1 272.7h0M109.2 275.3h0M109.3 231.9h0M109.3 276.6h0M109.6 230.9h0M110.3 238.2h0M110.5 280.5h0M110.8 273h0M111.9 241.4h0M111.9 240.8h0M112.4 242.3h0M112.5 275.6h0M112.6 274.3h0M112.9 243.3h0M113.1 271.1h0M113.2 270.9h0M113.5 267.3h0M113.7 244.7h0M113.7 268.2h0M114 242.8h0M114.4 244.1h0M114.4 242.8h0M114.5 237.5h0M114.8 267.4h0M114.8 241.9h0M115 267.7h0M115 265.6h0M115 246.6h0M115.2 265.5h0M115.4 238h0M115.5 265.4h0M116 238.8h0M116.5 246.5h0M116.8 264.1h0M116.8 246.9h0M117.3 261.3h0M117.3 259.6h0M117.4 257.1h0M117.5 257.2h0M117.6 265.5h0M117.6 239.4h0M117.6 254.2h0M117.7 250.8h0M117.7 268.7h0M117.8 251.1h0M117.8 262.7h0M117.9 265.4h0M117.9 250.2h0M118 256.4h0M118 270.3h0M118.2 245.3h0M118.6 245.3h0M118.6 241.2h0M118.7 263.8h0M118.8 253.8h0M118.9 235.5h0M119 249.3h0M119.1 275h0M119.2 262.6h0M119.6 251.1h0M119.9 272.3h0M120 271.5h0M120.1 272h0M120.3 253.6h0M120.5 256.3h0M120.5 245.7h0M121 250.4h0M122.5 257.7h0M122.5 248.5h0M123.3 271.6h0M124.8 282.7h0M125.6 258.5h0M125.7 262.8h0M125.7 266h0M127.5 237.1h0M133.6 247.9h0"/><path id="w_m_e" d="M59.2 247.1h0M59.3 250.4h0M59.8 253.2h0M59.9 242.4h0M60 243.2h0M60.1 244.2h0M60.4 243.7h0M60.4 238.8h0M60.4 239.4h0M60.5 252.4h0M60.9 251.1h0M61 253.8h0M61.4 252.1h0M61.7 238.2h0M61.7 252.4h0M61.9 256.6h0M62.5 246.8h0M62.6 241.3h0M63.1 258.3h0M63.3 237.6h0M65 261.2h0M65.5 259.3h0M65.7 262.5h0M67.1 249.9h0M68 235.7h0M68.2 246.8h0M69.1 235.4h0M69.4 235.4h0M69.4 260.5h0M69.8 257h0M69.9 266.8h0M70.2 256.7h0M71.3 237.9h0M71.3 241.9h0M71.6 268.9h0M72.4 267.5h0M72.7 269h0M73 237.6h0M73.7 266.4h0M73.8 271.2h0M74 272.3h0M74.4 240.3h0M76.8 271.9h0M77.1 270.9h0M77.7 271.1h0M78 231.6h0M79 265.9h0M79.5 270.5h0M80.1 237.2h0M80.6 271.7h0M80.6 272.4h0M83 273.2h0M83.1 235.8h0M83.5 233.4h0M84.6 232.2h0M85.2 267.1h0M86.3 232.3h0M86.3 233.1h0M87 266.6h0M87.1 237.9h0M89.2 233.1h0M91.3 273.4h0M91.8 270.6h0M91.8 236.9h0M92.5 272.3h0M93.6 271.3h0M94.1 271.3h0M94.8 244.2h0M95.2 273.5h0M95.8 273.6h0M96 235.2h0M96.8 265.7h0M97.2 234.2h0M97.4 238.2h0M98.3 270.6h0M98.6 270.9h0M99.4 238.9h0M99.8 245.3h0M100 269.2h0M101.1 272.8h0M102.1 269.6h0M102.5 243.4h0M102.7 272.7h0M103.1 236.4h0M103.1 272.5h0M103.6 241.7h0M103.6 272.2h0M104.8 250.3h0M104.9 263.9h0M104.9 238h0M106.1 266.8h0M106.3 270.5h0M106.5 271.2h0M107.1 270.8h0M107.2 266h0M107.9 270.8h0M108.4 271.7h0M108.5 239.5h0M108.7 264h0M108.7 265.3h0M108.8 249.6h0M109.5 241.4h0M109.6 268.9h0M110.3 240.6h0M110.5 244.2h0M110.7 244.3h0M111 266.6h0M111.1 266h0M111.3 245.8h0M111.4 248.6h0M111.6 254h0M111.8 267.3h0M112.5 259.2h0M112.7 251.5h0M112.8 267.2h0M113.1 259.7h0M113.3 266h0M113.5 259.3h0M113.5 263.9h0M113.8 258.6h0M114.4 260.6h0M114.5 254.7h0M114.6 253.8h0M114.8 254.8h0M115.3 264.1h0M115.5 249.2h0M115.7 249.4h0M116 257h0M116.1 251.1h0M116.2 253.4h0"/><path id="h_m_d" d="M133.6 229.1h0M135.4 233.1h0M135.4 226.9h0M136.6 210.9h0M139.5 190.9h0M140 197.7h0M142.2 239h0M144.2 231.6h0M145.4 233.5h0M145.4 249.4h0M145.7 230.4h0M145.7 232.2h0M146.2 232.5h0M146.5 201.6h0M146.5 226.3h0M146.6 227.6h0M146.9 221.6h0M147.2 246.7h0M147.7 191.4h0M147.8 230.8h0M148.6 234.1h0M148.8 230h0M148.8 249.1h0M148.9 213.8h0M148.9 229.3h0M149.1 207.2h0M149.7 210.4h0M149.7 234.6h0M149.8 215.7h0M149.8 203h0M149.8 191h0M149.8 227h0M150.1 214.7h0M150.2 236.7h0M150.3 208.3h0M150.3 199.7h0M150.4 225.7h0M150.5 233.3h0M150.8 222.9h0M150.9 210.4h0M151.1 208.6h0M151.1 235.1h0M151.1 195.8h0M151.3 191.2h0M151.4 201.1h0M151.4 224h0M151.5 237.7h0M151.5 256.3h0M151.5 213.1h0M151.6 196.5h0M151.6 209.9h0M151.7 189.4h0M151.8 198.7h0M151.9 196.6h0M151.9 199.5h0M152.1 192h0M152.2 200.4h0M152.3 194.2h0M152.6 210.9h0M152.6 187.3h0M152.6 216.7h0M152.7 217.1h0M152.9 238.9h0M153.4 203.6h0M153.5 216.6h0M153.6 210.2h0M153.7 213.3h0M154.1 205.4h0M154.2 201.5h0M154.2 241.8h0M154.4 246h0M154.5 209.6h0M154.8 248.7h0M155 240.7h0M155.5 240.7h0M155.7 240.2h0M157.7 187.6h0M158.7 187.9h0M158.7 190.2h0M159 242.9h0M159.3 242.2h0M159.5 251.9h0M160 240.6h0M160.2 185.4h0M160.3 188h0M160.4 245h0M161.2 247.4h0M161.8 243.5h0M162.4 174h0M162.6 243.3h0M162.8 187.8h0M163.5 246.4h0M163.5 241.7h0M164.2 179.6h0M164.9 242.3h0M165.3 174.1h0M165.6 241.2h0M166 188.1h0M166.4 240.1h0M166.4 242h0M166.4 181.8h0M166.5 243.4h0M166.7 241.4h0M166.7 243.1h0M166.8 186.6h0M167.7 244.4h0M168 241.3h0M168.2 188.2h0M168.3 246.3h0M169.3 246.7h0M169.4 237.6h0M169.5 237.6h0M169.7 238.6h0M170.2 187.2h0M170.3 236.7h0M170.5 240.3h0M170.6 177.3h0M170.8 250h0M170.8 164.4h0M171.3 235.7h0M171.5 189.9h0M171.5 236h0M172.2 232.3h0M172.3 238.3h0M172.3 171.9h0M172.4 243.8h0M172.5 231.7h0M172.9 234.6h0M173.3 242.7h0M173.6 189.7h0M173.7 228.6h0M173.7 228.4h0M173.8 226.8h0M173.8 189.3h0M174 231h0M174.2 226.2h0M174.2 252.5h0M174.5 224.4h0M174.9 225.9h0M175.3 227.6h0M175.3 188.2h0M175.3 242.8h0M175.3 222.9h0M175.8 191.1h0M176.6 226.5h0M176.8 224.2h0M177.3 176.5h0M177.4 228.4h0M177.6 222.8h0M178.1 226.3h0M178.1 245.5h0M178.6 224.5h0M178.7 234.2h0M178.7 243.8h0M178.9 237.9h0M179 220.2h0M179.3 221.3h0M180 221.8h0M180.1 189.7h0M180.5 226.6h0M181 190h0M181 190.9h0M181.5 227.5h0M181.6 234.6h0M181.7 224.2h0M182.2 222.3h0M183 217.6h0M183.2 190.9h0M183.4 216.7h0M184.5 193.9h0M184.7 200.2h0M185.2 201h0M186.1 190.1h0M186.3 215.2h0M186.3 201.5h0M187.2 205h0M187.4 209.1h0M187.4 209.9h0M187.6 193.4h0M187.8 229.6h0M188 219.2h0M188.2 214h0M188.2 204.3h0M188.3 213.9h0M188.4 214.7h0M188.6 217.2h0M188.6 201.8h0M188.6 237.5h0M189 207.8h0M189.3 213.3h0M189.5 219.8h0M189.6 242.9h0M189.7 194.8h0M190 206.2h0M190.3 223h0M190.5 231.4h0M190.9 207.4h0M192.5 203.8h0M193.3 208.4h0M196.4 207.8h0M197.7 219.2h0M199.2 223h0"/><path id="w_m_d" d="M149.9 229.5h0M151.3 226.1h0M151.3 232.5h0M151.5 224.2h0M151.6 227.5h0M152.8 224.9h0M153.4 228.3h0M153.6 236.8h0M154 195.3h0M154.1 217.4h0M154.4 212.4h0M154.5 194.8h0M154.6 232.1h0M154.6 215.6h0M154.7 227.5h0M154.7 194.2h0M154.9 209.9h0M155 230.7h0M155.2 220.7h0M155.2 215h0M155.3 194.1h0M155.4 227.3h0M155.5 194.4h0M155.6 192.9h0M155.6 200.4h0M155.7 238.3h0M155.7 201.6h0M155.8 211.8h0M155.8 206.4h0M155.9 193.5h0M156 208.6h0M156.2 232h0M156.5 191.8h0M156.6 233.4h0M156.7 211h0M157 237.9h0M157.3 238.2h0M157.4 200h0M157.6 213.8h0M157.9 212.6h0M158 207.1h0M158.3 199.6h0M158.6 238.8h0M159 197.7h0M159.5 237.8h0M160.4 218.4h0M160.4 238.9h0M160.5 232.2h0M160.8 212.7h0M160.9 234.8h0M161.1 192h0M161.4 207.7h0M161.6 225.3h0M162 191.5h0M162.1 235.1h0M163.5 219.6h0M163.6 196.5h0M164.9 240.2h0M165.1 239.6h0M165.7 230.4h0M165.8 232.7h0M166.2 239.1h0M166.6 230.8h0M166.7 238.4h0M166.9 237h0M167.2 230.3h0M167.4 232.8h0M167.7 196.4h0M167.8 236.2h0M168 235.7h0M168.9 230.8h0M169 226.3h0M169.3 196.2h0M170.3 230.9h0M170.5 230.8h0M170.6 224.6h0M170.7 226.6h0M171.2 212.4h0M171.2 198h0M171.7 230.2h0M172.1 228.6h0M172.2 220.1h0M172.4 226.3h0M173.3 200.6h0M173.8 220.6h0M174.1 221.6h0M174.1 204.4h0M174.3 193.1h0M175.2 194.4h0M175.3 195.6h0M175.8 221.8h0M176.6 217h0M177.1 213.8h0M177.1 208.8h0M177.2 196.5h0M177.3 192.7h0M177.4 219.8h0M177.6 220.9h0M177.6 194.6h0M177.7 194h0M178.6 210.2h0M178.8 208.2h0M179.8 193.6h0M180.7 211.2h0M180.8 209.1h0M181.4 204.6h0M181.5 210.5h0M182.1 203.7h0M182.4 213h0M182.4 198.6h0M182.7 216h0M182.8 198.9h0M183.2 200.2h0M183.3 215.3h0M183.6 216.1h0M183.6 206.3h0M185.1 210.1h0M185.5 209.9h0"/><path id="h_mac" d="M131.2 83.3h0M131.8 75.6h0M133.1 70.6h0M134 67.9h0M136.3 45.1h0M140.9 72.2h0M142.6 65.5h0M142.7 69.9h0M143.4 89.4h0M143.5 75.4h0M143.9 65.4h0M144.1 62.2h0M144.1 75.4h0M144.5 69.1h0M144.5 91.3h0M144.8 56.6h0M144.8 78.6h0M145 77.4h0M145.6 82.9h0M145.7 47.1h0M145.8 65h0M146.2 71h0M146.7 76.9h0M146.7 79.9h0M146.9 79.2h0M147.3 81.9h0M147.4 66.7h0M147.6 81.3h0M147.6 71.3h0M147.6 70.6h0M147.7 86.4h0M147.9 69.1h0M148.4 68.5h0M148.5 64.1h0M148.7 86.2h0M148.7 41.2h0M148.8 84.1h0M149.2 87h0M149.5 63h0M149.5 86.6h0M149.6 88.2h0M149.7 61.7h0M149.7 42h0M149.8 87.7h0M149.9 97.1h0M150.5 87.2h0M150.6 53.3h0M150.7 87.6h0M150.8 92.9h0M150.9 46.6h0M150.9 48.4h0M151.2 56.3h0M151.4 41h0M151.5 55.3h0M151.6 43.5h0M151.9 92.1h0M152.1 54.5h0M152.2 53.8h0M152.4 92.1h0M152.4 88h0M152.7 88.2h0M152.8 91.1h0M153.1 88.9h0M153.3 50.5h0M153.7 89.2h0M154.1 39.9h0M154.1 36h0M154.1 37.8h0M154.2 43.3h0M154.4 90h0M154.9 91.7h0M154.9 95h0M155 31.4h0M155.6 30.6h0M156.1 92.3h0M156.4 40.3h0M156.5 37h0M157 39.3h0M157 31.7h0M157.1 94.7h0M157.4 37.1h0M157.7 37.2h0M158 36.4h0M158.5 31.3h0M158.5 91.5h0M158.5 34.1h0M158.9 29.7h0M159 23.2h0M159.1 99h0M159.2 34h0M159.4 34.3h0M160 32.2h0M160.5 27.2h0M160.7 91.9h0M161 91.8h0M161.9 91h0M161.9 31.6h0M162.3 92.1h0M163.7 26.3h0M163.9 31h0M164.7 93.4h0M165 92.9h0M165.9 100.8h0M166 90.5h0M166.2 25.2h0M166.5 30.5h0M166.7 91.9h0M167.5 91.8h0M167.6 94.5h0M167.9 91.6h0M168.3 111.1h0M168.9 31.9h0M169.2 91.5h0M169.4 92.9h0M170.5 31.8h0M170.5 93.6h0M170.7 90.2h0M170.7 98.2h0M170.8 91.2h0M171.9 93.3h0M172.7 89.3h0M173.2 29h0M173.2 96.2h0M174 92.4h0M174.3 87.3h0M175.3 89.1h0M175.7 91.3h0M176 30.1h0M176.4 90.3h0M177.1 89h0M178.6 16.8h0M178.7 27.1h0M179 92.3h0M179.8 85.4h0M180.2 32.9h0M180.2 95.3h0M180.7 27.3h0M181.2 86.2h0M181.7 96.9h0M181.9 30.3h0M182.1 84h0M182.2 31.7h0M182.5 29h0M183 29.3h0M183.1 33.2h0M183.7 32.4h0M185.2 34h0M185.3 86h0M185.3 84.3h0M185.5 90.3h0M185.7 34h0M186.4 82.9h0M186.8 95.7h0M187 33.1h0M187.1 26.7h0M187.3 83.9h0M187.3 29.3h0M187.4 82.7h0M187.6 82.9h0M188.5 86h0M188.6 85.6h0M189.1 89.3h0M189.8 83.9h0M190 95.5h0M190.3 33h0M190.6 83.1h0M190.7 82.1h0M191.3 38.6h0M191.5 30.8h0M191.6 38.2h0M192.5 84.9h0M192.6 91.3h0M193.4 42.4h0M193.6 81.3h0M193.9 38.6h0M194.1 29.8h0M194.6 42.9h0M194.8 41.3h0M195 86.6h0M195.5 44.4h0M195.7 82h0M195.9 80.7h0M196.3 86.5h0M196.3 55.5h0M196.3 88h0M196.5 80.2h0M196.6 58.7h0M196.8 49.7h0M196.9 45.2h0M197.1 39.1h0M197.3 97.7h0M197.4 61.1h0M197.5 59h0M197.6 57.3h0M197.8 85.8h0M198 47.9h0M198.3 32.9h0M198.4 83.9h0M198.5 93.9h0M198.7 49.3h0M198.9 79.2h0M199.4 62.6h0M199.5 57.3h0M200.3 66.7h0M200.7 67h0M200.8 65.1h0M201.2 64h0M201.6 65.4h0M201.7 85h0M201.7 77.4h0M201.9 65.1h0M202.2 87.1h0M202.4 83.2h0M202.5 22.7h0M202.7 70.2h0M203 70h0M203.3 67.5h0M203.4 34h0M203.6 68.6h0M203.9 62.9h0M204.4 74.8h0M204.5 62.2h0M204.9 72.6h0M205.2 83.8h0M205.4 71.4h0M205.7 81.2h0M205.8 69.5h0M205.9 64.8h0M206 58.5h0M206.7 68.6h0M207.8 72.4h0M209 79.2h0M209.2 73.3h0M212.2 48.6h0M220 68.8h0"/><path id="w_mac" d="M147.9 76.3h0M148.4 72.1h0M148.5 70.4h0M148.5 77h0M148.7 77.8h0M149.4 84.2h0M149.5 75.3h0M149.6 64.8h0M149.6 85h0M149.6 75.6h0M149.7 77.1h0M150 84.5h0M150 80.2h0M150.5 77.7h0M150.6 81.2h0M150.7 84h0M152 83.3h0M152.2 56.2h0M152.2 57h0M152.3 87.6h0M152.8 76.2h0M153.1 70.8h0M154.3 55.6h0M154.5 46.5h0M154.5 54.6h0M154.8 79.9h0M154.8 88.8h0M154.8 62.3h0M154.9 61.9h0M155 60.7h0M155 82h0M155.1 85.2h0M155.3 66.2h0M155.7 88.6h0M156 79.5h0M156 47.7h0M156.2 59.8h0M156.3 84.2h0M156.5 89.2h0M156.6 89.7h0M157.4 88.1h0M157.8 38.5h0M157.9 89.1h0M158.1 49.5h0M158.1 37.2h0M158.2 39.3h0M158.3 84.1h0M158.5 40.2h0M158.6 61.6h0M158.6 86.5h0M159.6 45.2h0M159.8 43.4h0M160.1 89.8h0M160.2 90.3h0M160.6 52.4h0M161.4 36h0M161.7 37.6h0M162.1 80h0M162.2 35.7h0M162.9 48.3h0M163 59.6h0M163.1 37.2h0M165.4 40.7h0M166.3 39.4h0M166.7 88.5h0M167.5 87.3h0M167.7 42.6h0M169.3 41.9h0M169.6 34.9h0M169.7 78.7h0M171.3 32.8h0M172.1 69.7h0M172.3 87.8h0M172.8 87.1h0M172.8 87.7h0M173.1 36.3h0M173.9 32.4h0M175.3 85.5h0M176.7 85.7h0M178.2 85.2h0M178.3 84.6h0M178.6 37.6h0M178.9 83.9h0M180.3 36.1h0M180.5 84.5h0M180.6 83.9h0M180.7 83.3h0M182.4 82.5h0M182.7 39.9h0M183.1 34.2h0M184.8 80.3h0M185.2 34.8h0M185.5 72.7h0M187.6 41.1h0M187.6 79.7h0M187.8 81.8h0M188.2 73.7h0M188.3 80.4h0M188.3 35h0M188.3 37.5h0M189 79.7h0M189.4 36.7h0M189.6 38.4h0M189.6 40.4h0M190.3 40.4h0M190.4 44.9h0M190.6 48.9h0M190.7 56.1h0M190.7 48h0M190.9 43.5h0M191.1 67.7h0M191.4 80.7h0M191.9 57.6h0M192 51.9h0M192.2 80.3h0M192.7 71.6h0M192.9 44.5h0M193.1 44.2h0M193.2 59.6h0M193.4 55.5h0M194 62.4h0M194.5 60.2h0M194.8 80.2h0M194.8 64.3h0M195 55h0M195.1 52.3h0M195.2 57.6h0M195.6 63.7h0M195.6 80h0M195.8 75h0M195.9 58.8h0M196.5 71.1h0M196.7 63h0M196.8 78.9h0M196.9 68.9h0M197.3 75.3h0M197.7 65.4h0M197.9 67.4h0M197.9 68.1h0M198.9 70.9h0M199.1 66.6h0M199.5 75.2h0M199.8 72.1h0M200.3 73.6h0M200.3 71h0M200.4 68.7h0M200.5 75.8h0M201 75.1h0M201.1 76.1h0M202 71.6h0"/><path id="h_endo" d="M78.6 27.4h0M78.7 30.6h0M79.3 10.7h0M80 16.7h0M80.5 8.5h0M81.4 31.6h0M83.6 10.1h0M84.2 41.2h0M85.1 8.7h0M85.1 16.4h0M85.1 4.7h0M85.2 20.2h0M85.2 10.2h0M85.5 11h0M86.2 8.2h0M86.6 27.2h0M86.7 11.1h0M87.6 14.8h0M87.7 29.4h0M88.1 12.5h0M88.2 30.1h0M88.2 18.5h0M88.3 19.3h0M88.6 27.8h0M88.7 37.3h0M89.2 26h0M89.3 34.9h0M89.3 6.6h0M89.7 26.4h0M89.7 17.1h0M89.8 16.3h0M90 11.8h0M90.3 13.3h0M90.3 8.6h0M90.4 31.1h0M90.5 32.1h0M90.6 35.1h0M90.7 36.9h0M91.3 33.4h0M91.4 34.7h0M93.3 36.9h0M93.5 37.4h0M93.5 38.4h0M93.6 6.1h0M94.5 48h0M94.9 41.6h0M94.9 4.3h0M95 40.4h0M95.3 43.7h0M96.3 43.5h0M96.4 42.4h0M96.7 3.8h0M97.1 44.4h0M97.4 47.6h0M98.3 2.5h0M98.4 3.2h0M98.9 6.3h0M99.8 5.4h0M99.8 2.4h0M99.9 4.2h0M100.4 4.3h0M100.7 49.6h0M101.2 3.9h0M101.3 5.3h0M102.9 55.8h0M103 49.5h0M104.2 2.1h0M104.6 52.1h0M104.7 51.7h0M105.9 51h0M106.3 53.4h0M106.8 52h0M106.9 52.4h0M107.9 66.5h0M108.3 53.7h0M108.3 53.5h0M108.4 54.3h0M108.8 74.3h0M109 52.7h0M109.6 53.7h0M109.8 65h0M110.8 63.9h0M112.5 64.1h0M113.1 57.8h0M113.3 58.1h0M113.9 59.8h0M113.9 56.6h0M114.1 60.3h0M114.1 61.7h0M114.9 62.4h0M115.3 60.2h0M115.4 58h0M115.6 58.7h0M115.9 63.2h0M116.1 68.9h0M116.3 71.8h0M116.8 67.1h0M117 2.2h0M118 77.1h0M118.1 63.1h0M118.4 83h0M118.9 62.7h0M118.9 67.5h0M119 71.1h0M119 62h0M119.4 63.9h0M119.7 62.6h0M119.8 62.8h0M120.3 68.2h0M120.7 62.1h0M120.7 61.4h0M120.9 64.2h0M121.6 62.4h0M121.9 64h0M122 60.9h0M122.1 62.3h0M122.4 60.6h0M122.6 62.7h0M122.6 62.3h0M122.7 61.5h0M122.8 64.2h0M122.8 65.5h0M123.1 60.6h0M123.4 66.1h0M123.8 59.6h0M124 60h0M124.8 61.6h0M124.9 64h0M125.8 60.8h0M126.8 57h0M127.3 56.2h0M127.4 61.4h0M128.9 55.4h0M129.2 62.2h0M129.4 49.9h0M129.5 56.3h0M129.8 49.3h0M129.8 54.9h0M129.8 7.1h0M129.9 85.3h0M130.2 49h0M130.2 64.1h0M130.3 3.5h0M130.4 53.9h0M130.7 5.6h0M130.7 8h0M130.8 9.3h0M130.8 46.9h0M130.9 58.6h0M131 46.2h0M131.3 48.5h0M131.3 10.1h0M131.7 10.7h0M131.9 50.1h0M131.9 3.3h0M132 11h0M132.2 54h0M132.4 41h0M132.6 42.8h0M132.8 9.2h0M132.9 9.4h0M133 45.4h0M133 42.1h0M133.5 15.3h0M133.9 14.3h0M134.1 15.8h0M134.3 39h0M134.4 17.2h0M134.6 14.8h0M134.8 24.3h0M135 34.8h0M135.5 33.6h0M135.6 39h0M135.7 22.5h0M135.9 40.9h0M135.9 68.5h0M135.9 25.4h0M136 29.1h0M136.2 44.5h0M136.3 28.4h0M136.7 33.9h0M137 32.2h0M137.1 30.8h0M137.2 31.7h0M137.2 13.2h0M137.8 53.9h0M138.2 34.9h0M138.5 37.8h0M138.6 52.9h0M139.5 21.5h0M140.9 26.1h0M141.8 20.4h0M142.1 24.9h0M143.4 59.5h0M146.1 38.1h0M152.5 28.8h0"/><path id="w_endo" d="M89.6 25.2h0M90 20h0M90.5 25.4h0M91.1 15.3h0M91.1 29.9h0M91.1 30.3h0M91.5 19h0M91.6 28.6h0M92.4 14.2h0M92.4 29.3h0M93.2 13.8h0M93.6 13.1h0M93.8 31h0M93.9 11.7h0M94.1 16.7h0M94.7 13.5h0M96 11.3h0M96.2 10h0M96.6 15.4h0M96.9 35.3h0M97.2 41.6h0M97.7 7.6h0M97.7 41.8h0M98.6 41.8h0M99 12.2h0M99.3 40.7h0M100.3 45.7h0M100.4 10.9h0M100.4 45.2h0M100.9 5.7h0M102.2 45.1h0M102.4 16.6h0M102.4 39.9h0M102.5 45.6h0M102.9 43.2h0M103.4 43.5h0M103.7 30.7h0M104.7 48h0M105.1 49.3h0M105.6 29.4h0M106.5 47.9h0M106.6 49.5h0M106.8 14.1h0M107.3 19.1h0M107.4 48.4h0M108.1 48.8h0M108.3 48.6h0M108.3 4.1h0M110.3 46.2h0M110.4 45.8h0M111.4 51.5h0M111.5 28.5h0M111.5 53.2h0M112.3 3.9h0M112.5 52.7h0M112.9 11.4h0M113.4 8.6h0M113.5 52.7h0M113.9 56.3h0M113.9 16.7h0M113.9 38.8h0M115.4 55.7h0M115.6 3.7h0M115.7 52.3h0M115.9 34.8h0M116.3 58h0M116.8 54.8h0M117 57.5h0M118.1 60.2h0M118.6 58.9h0M118.7 51.4h0M119 60.9h0M119.5 60.4h0M120 47.9h0M120.3 49.5h0M120.6 24.4h0M121 60.5h0M121.8 60h0M122.1 49.6h0M122.6 58.5h0M123.3 58.9h0M123.5 55.3h0M123.6 5.1h0M123.7 52.2h0M124.2 57.5h0M124.3 24.3h0M124.5 4.2h0M124.8 55.6h0M124.9 55.1h0M124.9 54.3h0M125 58.1h0M125.2 38h0M126.2 53.9h0M126.4 56.1h0M126.8 41.6h0M127 52.4h0M127 35.4h0M127 27.3h0M127.3 53.7h0M127.4 5.7h0M127.7 47.7h0M127.8 6h0M127.9 52.2h0M128.2 10.7h0M128.5 28.6h0M128.6 48.9h0M128.6 14.6h0M128.8 33.8h0M129 6.8h0M129 17h0M129.6 7.3h0M130 47.5h0M130.3 9.6h0M130.7 12h0M130.8 36.8h0M131.4 21.4h0M131.7 40.9h0M132 36.7h0M132.6 31.8h0M132.9 26.2h0M132.9 21.9h0M133.2 31.1h0M133.2 24.9h0M133.5 36.7h0M133.8 27.7h0M133.8 19.2h0M134.3 31.2h0M134.3 30.7h0M134.5 26.5h0M134.6 26.3h0"/><path id="h_T" d="M198.3 76.9h0M202.9 53.2h0M206.6 59.3h0M207.4 71.9h0M209.5 48.6h0M209.6 52.4h0M210 71.1h0M210.3 69.2h0M210.4 79.7h0M210.6 63.8h0M211.2 74h0M211.2 65.1h0M211.3 28.9h0M211.6 56.5h0M211.9 70.9h0M212.4 55.6h0M212.7 74.9h0M212.9 34.2h0M213 48.9h0M213.1 31.7h0M213.2 66h0M213.2 72.6h0M213.4 55.3h0M213.6 58.3h0M213.6 54.1h0M213.7 32.5h0M213.8 43.2h0M213.9 78.1h0M213.9 49.5h0M213.9 75.1h0M213.9 45.8h0M214 47.6h0M214.1 77.5h0M214.2 79.1h0M214.4 90.4h0M214.6 75.4h0M214.6 48.8h0M214.7 66.4h0M214.7 80.5h0M214.7 78.8h0M215.2 67.1h0M215.3 67.8h0M215.3 41.6h0M215.3 46.1h0M215.7 89.5h0M215.8 78.4h0M215.8 78.5h0M216 70.5h0M216 72.6h0M216.1 72.6h0M216.2 87.8h0M216.2 35.3h0M216.4 41.2h0M216.5 23.4h0M216.6 33.8h0M216.8 31.8h0M217 78.7h0M217.3 39.8h0M217.3 42.5h0M217.5 83.7h0M218.2 34h0M218.4 38.2h0M218.5 34.7h0M218.6 87.1h0M218.7 85.4h0M220 29.1h0M220.3 34.1h0M220.3 91h0M220.3 86h0M220.4 88.9h0M221.1 31.7h0M221.3 34.5h0M221.3 87.3h0M221.4 89.5h0M221.7 29.9h0M222.2 32.3h0M222.4 87.2h0M222.5 34h0M222.9 31.7h0M223.2 30.3h0M223.3 88.6h0M223.5 32.3h0M223.5 93h0M223.5 28.1h0M224.2 89.1h0M224.8 28.6h0M225.1 91.1h0M226.5 29h0M227 32.5h0M227.1 26.9h0M227.1 92.6h0M227.2 22.5h0M227.4 33.4h0M227.6 30.4h0M227.8 31.4h0M227.9 33.2h0M228.2 29.4h0M228.3 33.4h0M229.1 93.6h0M229.2 33h0M230 28.8h0M230.9 35.3h0M231.8 89.4h0M231.9 30h0M232.1 10.7h0M232.1 90.2h0M232.4 37.7h0M232.9 35.4h0M233.2 33.4h0M233.3 90.6h0M233.5 36.5h0M234.4 89.9h0M235.3 90.5h0M235.6 42.1h0M236 90h0M236.3 25.1h0M237.4 88.4h0M237.7 89.7h0M238.4 36.4h0M238.4 31.9h0M238.4 91.5h0M238.4 88.3h0M239 43.4h0M239.1 45.9h0M239.5 46.3h0M239.5 47h0M239.6 89.6h0M239.8 91h0M240.5 87.5h0M241.7 44.9h0M241.8 51.8h0M241.8 44h0M242 49.6h0M242.2 87.7h0M242.4 46.8h0M242.7 53.2h0M242.8 85.9h0M243.1 52.9h0M243.5 85.5h0M243.6 53.4h0M243.8 86.9h0M243.9 49.5h0M244.1 89.1h0M244.1 87.7h0M244.2 47.9h0M244.2 89.6h0M244.3 88.9h0M245.1 54.5h0M245.8 59.2h0M245.9 85h0M246.1 87.1h0M246.1 88.1h0M246.5 58h0M246.5 51.2h0M246.6 51.3h0M246.7 84.1h0M246.9 58.4h0M247.1 84.8h0M247.3 83.4h0M248 62.1h0M248.1 83.9h0M248.2 56.7h0M248.4 63.7h0M248.7 95.2h0M248.9 58.8h0M249.4 46h0M249.7 85.2h0M249.8 60.1h0M250.3 82.9h0M250.5 90.6h0M250.7 86.3h0M250.7 80.7h0M251 64.4h0M251.1 80.5h0M251.4 78.9h0M251.7 78.4h0M251.8 58.1h0M251.8 59h0M252.2 70.7h0M252.3 70.1h0M252.6 77.1h0M252.7 87.3h0M252.7 81.9h0M252.8 77h0M252.9 71.5h0M252.9 65.6h0M252.9 77.6h0M252.9 78.9h0M253.1 82.3h0M253.2 72.4h0M253.3 82.2h0M253.7 69.4h0M253.8 72.2h0M254 66.5h0M254.1 71.9h0M254.6 62.9h0M255.2 79.5h0M255.2 79.2h0M255.6 63.8h0M255.7 76.1h0M255.7 62.6h0M255.9 80.5h0M256 67.4h0M256.1 51.5h0M256.4 75.4h0M256.6 77.2h0M256.7 71h0M257.1 69.1h0M257.5 76.9h0M258.4 89.1h0M258.6 81.1h0M260.2 93.9h0M261.3 82.1h0M261.6 88.2h0M264.2 64.6h0M268.4 89.1h0"/><path id="w_T" d="M214.8 55.5h0M216.1 60.2h0M216.2 69.2h0M216.3 54h0M216.3 70.2h0M216.5 64.3h0M216.5 60.5h0M216.9 73.1h0M217 73.2h0M217.2 73.7h0M217.2 61.2h0M217.8 70.4h0M218.2 68.6h0M218.7 69.5h0M219 62.1h0M219 53.8h0M219 45h0M219.1 43.8h0M219.1 79.6h0M219.3 42.7h0M219.5 59.7h0M219.9 67.5h0M220 80h0M220.1 59.7h0M220.7 43.4h0M221 53.5h0M221 54.9h0M221.5 36.7h0M221.6 37.2h0M221.9 49h0M222 86.1h0M222.3 61.7h0M222.6 81.1h0M222.7 36.7h0M222.9 61.5h0M223 44.3h0M223 35h0M223.1 40.4h0M223.1 57.9h0M223.6 33.7h0M223.8 36.5h0M224 87.4h0M224.5 34.9h0M224.5 39.2h0M224.7 34.8h0M225.1 34.5h0M225.3 34.3h0M225.6 36.1h0M225.8 89h0M226.6 34h0M227.2 58.3h0M227.3 33.8h0M227.7 38.4h0M228.1 88.7h0M229.1 35.8h0M230 81.5h0M230.1 37.1h0M230.2 87h0M230.5 36.5h0M230.5 88.2h0M230.9 82.8h0M230.9 80.4h0M231.1 87.2h0M232.1 45.2h0M232.1 39.1h0M232.6 88.1h0M233.3 85.5h0M233.6 44h0M234 40.9h0M234.3 79.9h0M234.6 87.8h0M234.8 47.6h0M236.7 74.3h0M236.9 80.2h0M237.7 47.9h0M237.9 52.2h0M237.9 82h0M238 51.1h0M239.3 61.8h0M239.3 82.9h0M239.4 87.5h0M239.6 51h0M239.7 82h0M239.7 81.5h0M240.1 75.6h0M240.2 82.8h0M240.2 49.5h0M240.5 58.1h0M240.8 80.2h0M241.7 82.7h0M243 56.9h0M244 60.1h0M244.2 69.4h0M245.2 65.4h0M245.5 64.8h0M245.8 78.8h0M246.3 62.1h0M246.4 79h0M247.6 81.7h0M247.9 81.1h0M248 79.8h0M248.3 72.3h0M249 78.1h0M250 72h0M251.1 75.2h0M251.3 76.2h0M251.7 72.6h0M252.6 75.5h0M252.9 74.9h0"/><path id="h_hep" d="M83.5 154.5h0M86.8 136.1h0M89.9 150.3h0M93.6 158h0M97.3 143.5h0M97.6 139.3h0M97.6 144.1h0M97.7 141h0M99 167.4h0M99.1 150.4h0M99.1 121.1h0M99.4 157.8h0M99.5 153.6h0M100.1 147.9h0M100.2 135h0M100.2 143h0M100.7 148.4h0M101 138.9h0M101.2 150.4h0M101.3 152.8h0M101.5 150.8h0M101.6 153h0M102.2 151.2h0M102.4 152.9h0M102.7 159.1h0M103.1 135.5h0M103.1 149.5h0M103.1 136.1h0M103.2 142.6h0M103.3 133.7h0M104.4 134.8h0M104.5 140.1h0M105 152.6h0M105.3 157.7h0M105.4 156.6h0M106.3 160.5h0M106.3 135h0M106.7 159.8h0M106.8 137.3h0M106.9 123.4h0M107.5 130.5h0M107.8 121.3h0M108.2 153.6h0M108.7 153.7h0M109.2 164.2h0M109.4 131.9h0M109.7 159.7h0M109.7 133.6h0M110.1 154.1h0M110.4 165.7h0M110.6 130.1h0M110.8 131.8h0M111 130.9h0M111.5 130.4h0M112.1 157.5h0M112.4 133.5h0M112.4 126.2h0M112.5 153.9h0M112.5 119.6h0M112.7 107.7h0M112.7 132.4h0M112.9 154.9h0M113.3 132.4h0M113.6 126.4h0M114.7 159h0M114.9 127.6h0M115.1 157.2h0M115.3 155.2h0M116 161.7h0M116 155.3h0M116.3 155h0M117 159.2h0M117.1 130.3h0M117.1 127h0M117.7 127.9h0M117.8 129.2h0M117.8 156.6h0M117.9 129.5h0M118.3 129.4h0M118.4 129.6h0M118.6 157.4h0M118.6 155.5h0M118.9 125.8h0M119.4 161.7h0M119.8 164.8h0M119.9 127.9h0M121.4 128.2h0M121.6 158.5h0M121.7 128h0M122.2 158.2h0M122.8 162.6h0M123.3 158.5h0M123.8 127.6h0M124.2 156.5h0M124.6 126.3h0M124.8 162.2h0M124.9 157.4h0M125.1 160.3h0M125.4 125.5h0M125.6 125.5h0M126 122.4h0M128 125h0M128.1 122.6h0M128.2 121.6h0M128.8 117.7h0M128.9 157.2h0M129.2 162.8h0M129.3 115.8h0M130 156.1h0M130.8 157.5h0M131.3 124.5h0M131.3 155.8h0M133 125.6h0M133.4 126h0M133.9 125.4h0M134.4 125.1h0M134.6 124.1h0M135.1 120.2h0M135.1 160.7h0M135.2 125.3h0M135.2 156.8h0M135.8 160.7h0M136.4 158.5h0M137.2 122.6h0M137.3 155.2h0M137.6 155.2h0M138.4 159.2h0M138.7 176.5h0M138.8 158.8h0M139.5 154.9h0M139.6 162.6h0M139.7 122.9h0M139.7 155.6h0M140 124.6h0M140.2 125.2h0M140.7 153.3h0M140.9 155.5h0M141.1 125.4h0M141.3 154.3h0M141.8 153h0M142.1 128h0M142.2 128.5h0M142.8 151.5h0M142.9 128.1h0M143.1 126.9h0M143.4 152.2h0M143.5 124.1h0M143.5 154.9h0M143.9 127.7h0M144.4 124.1h0M144.5 121.1h0M144.8 154.2h0M144.9 154.1h0M144.9 125.5h0M145 123.9h0M145.2 127h0M145.3 150.1h0M145.7 135.1h0M145.7 151.2h0M145.8 149.6h0M146 131.3h0M146.2 149.2h0M146.2 113.5h0M146.3 147h0M146.4 145.1h0M146.5 147h0M146.6 159.5h0M146.7 136.5h0M146.9 141.2h0M146.9 138.2h0M147.2 145.6h0M147.2 155.8h0M147.7 145.9h0M148.2 132.5h0M149.4 146.7h0M149.9 129.4h0M150 133.8h0M150.3 143.4h0M150.9 147.5h0M150.9 148.5h0M150.9 167.6h0M151.1 124h0M152 139h0M153 143.4h0M153.8 124h0M154.3 131.3h0M154.6 150.5h0M157.6 127.9h0M162.2 133.8h0M163.3 168.2h0"/><path id="w_hep" d="M101 146.8h0M102.5 148.4h0M104.6 143.9h0M105.7 139.8h0M106 140.8h0M106.3 148.2h0M106.5 146.8h0M106.9 140.1h0M107.3 150h0M107.5 150.3h0M108 148h0M108.2 141.2h0M108.2 146.6h0M108.7 138.7h0M109.1 151.9h0M110.5 148.9h0M110.8 153.3h0M111.1 150.2h0M113.9 150.7h0M114.2 136.6h0M114.4 143.3h0M114.6 143.3h0M114.7 133h0M115.1 154.1h0M115.9 154.6h0M116 133.6h0M116.7 152.5h0M117.3 151.6h0M117.6 154.2h0M117.8 136.1h0M118.5 130.9h0M119.8 154.8h0M121 155.5h0M121.9 136.8h0M121.9 128.6h0M121.9 156.1h0M122.3 136.9h0M122.7 133.9h0M122.8 151.9h0M122.9 153.3h0M124 155.1h0M124.7 128.5h0M125 149.5h0M125.3 135.3h0M125.7 151.6h0M125.9 130h0M126 151.2h0M126.2 130.6h0M127.9 129.7h0M128 130.7h0M128 129.7h0M128.1 154.6h0M128.2 135.6h0M128.6 130h0M128.8 154.3h0M129.2 150.8h0M129.2 151h0M130 153.8h0M130.5 127.8h0M132.7 128.6h0M133.5 130.7h0M133.7 127h0M134 154.9h0M134.2 126.5h0M134.3 153.9h0M134.6 154h0M135.4 147.9h0M137.4 150.3h0M137.9 127.4h0M137.9 136.7h0M138 152.6h0M138.4 150.9h0M139 151.7h0M139.3 147h0M139.5 126.7h0M139.8 152.2h0M139.9 151.2h0M140.2 128.3h0M140.4 134.9h0M140.6 130.9h0M140.9 128.1h0M140.9 132.5h0M141 141.3h0M141.6 128.9h0M141.8 128.8h0M142.3 142.6h0M142.5 149.3h0M142.9 143.8h0M143 140h0M143.4 144.3h0M144 146.8h0M144.3 132.8h0M145.3 140.2h0"/><path id="h_m_a" d="M14.9 198.2h0M22.7 211.1h0M23 198h0M23 196.7h0M23.3 188.1h0M24.4 202h0M24.6 192.8h0M24.7 194.1h0M24.8 189.7h0M25 193.2h0M25 196.7h0M25.5 190.5h0M25.7 194.3h0M25.7 195h0M25.8 200.1h0M27.4 196.6h0M27.6 199.4h0M27.6 197.3h0M28.2 199.3h0M28.3 202.2h0M28.3 197.7h0M28.5 201.3h0M28.6 200h0M28.7 199.2h0M28.7 187.1h0M28.8 180.9h0M29.2 200.4h0M29.2 200.7h0M29.2 191.4h0M29.3 191.7h0M29.5 202.9h0M29.7 200.6h0M29.8 211.4h0M29.9 202.7h0M30 189.6h0M30.8 189h0M31.6 203.2h0M31.7 204.6h0M31.9 167h0M31.9 189.4h0M32 201h0M32 188.9h0M32 202.4h0M32.6 188.6h0M32.8 203.4h0M32.9 188.4h0M33 200.8h0M33.2 203.3h0M33.4 202.2h0M34.2 201.2h0M34.3 210.8h0M34.6 187.8h0M34.7 203h0M34.7 185h0M35.7 207h0M36.9 210h0M36.9 186h0M37 180h0M37.5 201.6h0M37.5 202.1h0M38.3 183.7h0M38.4 182.9h0M38.5 183.1h0M39 204.3h0M39.2 203.9h0M39.8 183.2h0M40.1 183h0M40.7 180.1h0M41.4 184.3h0M41.6 202.6h0M42 173.4h0M43.9 183.8h0M44.5 178.2h0M44.6 183.5h0M44.6 201.6h0M44.8 205.6h0M45 204h0M46.1 178.1h0M46.9 211.2h0M47.3 201h0M47.6 202.3h0M47.9 180.8h0M48.6 200.9h0M49.1 203h0M49.6 213.1h0M49.7 182.2h0M49.9 182.2h0M50.2 203.1h0M50.8 201.3h0M51.2 202.1h0M53.6 212h0M54.3 181.2h0M55.9 182.2h0M56.2 200.2h0M56.5 177.9h0M57 207.8h0M57.2 182.7h0M57.4 179h0M57.9 182.5h0M57.9 175.1h0M58 180.4h0M58 200.3h0M58.1 200.3h0M58.1 200.1h0M59.3 200.6h0M59.6 182.1h0M61 183.4h0M61.2 183.1h0M61.4 201.9h0M61.4 201.2h0M63.2 209.3h0M63.6 184.4h0M63.9 201h0M64.5 199.9h0M65 184.2h0M65.7 175.9h0M66 202.6h0M66.1 184.7h0M66.6 205.2h0M66.7 200.8h0M66.8 203.2h0M67.1 181.2h0M67.8 182.3h0M67.9 180.5h0M68.3 184.6h0M68.9 185.7h0M68.9 181.5h0M69.7 204.6h0M70.5 207.7h0M70.6 180.8h0M71.1 200.1h0M71.2 187.7h0M71.4 184.3h0M71.5 185.4h0M72.1 180.4h0M72.2 203.8h0M72.3 187h0M72.4 205.1h0M72.5 201.1h0M73 188.9h0M73.5 187.6h0M73.8 197.9h0M74.1 197.4h0M74.1 184h0M74.4 202.4h0M74.6 200.5h0M74.7 196.7h0M74.8 201.8h0M75.2 180.4h0M75.6 194.3h0M75.8 200.5h0M75.9 190.6h0M76 182.2h0M76.2 201.2h0M76.5 202.4h0M76.6 189.4h0M76.7 194.2h0M77.1 195.6h0M77.3 192.1h0M78 194.8h0M78.6 191.7h0M79 182.9h0M79 187h0M79.8 194.8h0M82.1 195.2h0M82.6 203.8h0M83.4 194.4h0M84.5 197.4h0M85.7 193.1h0M85.7 203.2h0M86.7 180.7h0M89.5 194.6h0M90.3 197.7h0"/><path id="w_m_a" d="M27.4 194h0M27.8 193.9h0M27.9 196h0M28.4 193.3h0M29 194.9h0M29.1 193.1h0M29.4 192.2h0M29.8 198.5h0M30 193.2h0M30 196.9h0M30.3 192.2h0M31 197.8h0M31.9 190.7h0M32.4 199.4h0M32.6 196h0M32.8 197.1h0M33.7 191h0M34.3 189.1h0M35.6 193.7h0M36 190.6h0M36.4 190.5h0M36.8 200.6h0M38 188.9h0M38.1 186.9h0M38.8 189.1h0M39.8 200.2h0M41.8 201.1h0M41.9 188.4h0M42 194.4h0M42.4 185h0M42.5 196.5h0M43 184.7h0M44.7 185.6h0M44.8 200.1h0M44.8 186.6h0M45.2 187.1h0M45.2 184.7h0M45.3 184.8h0M46.7 198.6h0M46.8 199.7h0M47.6 189.3h0M47.7 189.3h0M48.1 196h0M48.7 183.7h0M50.6 199.9h0M50.8 200h0M51.8 182.4h0M53 184.4h0M53.2 184.3h0M53.4 189.7h0M54 183.2h0M54.2 184.3h0M54.2 182.6h0M54.6 183.7h0M55 194h0M56.9 198.7h0M56.9 188.8h0M57.8 184.5h0M59.2 183.9h0M60.2 189.7h0M61.5 185.5h0M61.6 197.6h0M62.8 197.4h0M63.2 194.9h0M64 197h0M64.4 196h0M66 199.2h0M66.2 190.7h0M66.5 198.1h0M66.9 185.9h0M67.3 194.4h0M67.3 186.4h0M67.4 199.7h0M67.8 187.6h0M69 193.8h0M69.3 197.8h0M69.9 190.7h0M72 192.7h0M72.1 189.3h0M72.9 197.5h0M73 191.8h0M73.9 190.3h0M75.1 192.9h0M75.3 192.9h0"/><path id="h_m_c" d="M114.4 234.7h0M119.8 223.3h0M120.4 211.9h0M120.6 217.1h0M120.8 208.4h0M121 225.5h0M121.3 226.8h0M121.5 232.3h0M121.5 220.6h0M122.1 213.2h0M122.7 207.3h0M122.7 219.4h0M123.1 218.9h0M123.2 214.9h0M123.3 223h0M123.4 213.5h0M123.5 224.2h0M123.8 225.5h0M124.2 225h0M124.4 226.8h0M124.5 227.1h0M125.2 212.2h0M125.2 226.7h0M125.5 229.4h0M125.6 201.9h0M125.8 226.9h0M126.1 229.6h0M126.2 228.4h0M126.6 211h0M126.9 228.5h0M127 228.6h0M127 228.4h0M127.2 230.4h0M127.6 229.4h0M127.9 212.1h0M128.2 206.2h0M128.9 211.5h0M129.3 234.2h0M130.2 231.1h0M130.3 205.7h0M131.8 209.9h0M132.8 232.3h0M133.9 205.9h0M134.4 231.5h0M135.2 231.6h0M135.3 209.3h0M135.7 232.1h0M136.1 230.2h0M136.3 230.4h0M136.7 212.4h0M137.3 230.7h0M137.6 212.6h0M138.2 231h0M138.2 227.5h0M138.2 215.5h0M138.5 210.7h0M138.6 229.9h0M138.8 231.7h0M138.9 215.3h0M138.9 216.3h0M139.1 249.1h0M139.3 226h0M139.4 228.5h0M139.7 232.3h0M139.8 221.7h0M139.9 215.5h0M140 215.4h0M140.2 222.3h0M140.4 221.8h0M140.5 239h0M141 215.5h0M141.2 220.8h0M141.3 210.4h0M141.4 218.6h0M141.5 222.1h0M141.6 224.8h0M142.5 214.9h0M145.4 219.6h0M145.9 225.1h0"/><path id="w_m_c" d="M124.1 222.5h0M124.4 220.4h0M124.8 220.8h0M125.2 221.2h0M125.4 217.1h0M125.5 214.8h0M126.8 214.1h0M126.8 218h0M127.3 222h0M128.1 219h0M128.2 227.6h0M128.4 215h0M128.8 229.5h0M130.2 229.7h0M130.6 212.3h0M131.1 211.9h0M131.6 229.7h0M132.2 229.7h0M132.2 213.7h0M132.6 217.1h0M132.7 212.5h0M133.5 220h0M133.7 211h0M133.9 221.6h0M134 210.6h0M134.7 210.8h0M134.9 223.2h0M135.3 210.7h0M135.5 228.6h0M136.1 225.2h0M136.5 227.8h0M136.6 225.3h0M137.2 225.3h0M137.2 226.7h0M137.4 226.1h0M137.8 215.1h0M137.9 215.8h0M138.2 224.3h0M138.4 223.2h0M138.8 217.7h0"/><path id="h_B" d="M129.9 109.3h0M130.5 103.2h0M130.6 100.7h0M134.3 100.9h0M134.5 97.6h0M134.8 104h0M134.9 104.2h0M135.5 103.8h0M135.6 103.4h0M135.8 105.7h0M135.8 107h0M136.7 102.9h0M136.9 103h0M137.1 102.2h0M138.2 90.3h0M138.2 113.4h0M138.3 109.4h0M138.3 109.4h0M138.5 109.8h0M138.6 99.9h0M139.1 102.3h0M139.2 113.1h0M139.5 102.7h0M139.8 109.4h0M140.1 109.6h0M140.5 110.2h0M141.2 101.3h0M141.3 109.7h0M141.8 97.3h0M142.3 101h0M144.1 110.7h0M146.3 100.3h0M146.4 112.1h0M146.6 98.1h0M147 99.2h0M147.3 122h0M148.1 100.2h0M148.6 113.7h0M149.4 115.3h0M149.9 114.6h0M149.9 118.9h0M150.4 115h0M150.8 114.7h0M152.4 114.6h0M152.7 100h0M153.1 97.4h0M153.4 99.4h0M153.6 115.9h0M154.8 115.9h0M154.8 100.5h0M155.6 113h0M155.6 114.7h0M156.9 114h0M157.3 112h0M157.3 101.3h0M158.1 111.8h0M158.7 97.5h0M158.8 101.1h0M158.9 113h0M159.2 111.7h0M159.2 111.9h0M159.3 98.8h0M159.5 110.4h0M159.5 99.6h0M159.9 116.8h0M160.4 114h0M160.9 107.9h0M161.5 108.2h0M163 111.7h0M165 115.3h0M166.3 106h0"/><path id="w_B" d="M137.1 105.7h0M137.7 105.1h0M138.1 104.3h0M139.2 104.7h0M139.8 105.9h0M141.5 105h0M142.9 108.5h0M143 102.1h0M143.1 108.9h0M143.2 109.5h0M143.8 107.4h0M144.9 110h0M145.8 110.2h0M145.9 108.9h0M146.2 110.8h0M149.7 104.2h0M151 112.3h0M151.9 103.4h0M152.2 103.9h0M152.2 113.3h0M152.4 101.5h0M153.9 101.9h0M154 113.4h0M154.8 101.9h0M154.8 107h0M155.7 106h0M155.7 108.5h0M156.1 111.7h0M156.5 103.3h0M157.4 104.4h0M159.1 107h0M159.6 107.6h0"/><path id="h_B2" d="M128.9 106.2h0M131.1 70.9h0M136.3 81h0M136.7 67.8h0M137.9 83.2h0M138.7 81.9h0M138.9 79.8h0M138.9 81.4h0M139.2 63h0M139.5 84.7h0M139.5 69.5h0M139.8 98h0M139.9 99.8h0M139.9 79.9h0M140.2 101.3h0M141.1 69.9h0M141.2 95.3h0M141.4 68.2h0M141.6 94.8h0M141.6 92.7h0M141.7 69.6h0M141.8 90.6h0M142.2 93.1h0M142.2 64.6h0M142.6 93.4h0M144.6 70.4h0M144.8 68.2h0M145.1 79.9h0M145.2 78.2h0M145.3 94h0M145.6 95.9h0M145.7 95.7h0M145.7 85.2h0M146.1 82.5h0M146.2 80.1h0M146.4 93.1h0M146.5 77.8h0M146.6 90.5h0M146.8 89.9h0M146.8 86.8h0M146.9 82.5h0M147.1 74.8h0M147.1 85.9h0M147.2 91.3h0M147.2 70.2h0M147.2 80.9h0M148.3 75.1h0M148.4 79.8h0M149.2 104.9h0M153.5 82.6h0M154.3 94.2h0"/><path id="w_B2" d="M140.8 70.8h0M141.2 82.4h0M142 87.8h0M142.1 86.4h0M142.6 85.1h0M142.6 80.1h0M142.7 87.1h0M142.7 91.3h0M142.7 71.1h0M142.8 81.6h0M143.2 91.8h0M143.3 78.7h0M143.5 89.2h0M143.5 73.8h0M144.3 80.9h0M144.4 92.8h0M144.4 93.3h0M144.6 82.4h0M144.6 93.1h0M144.8 92.7h0M145.1 90.4h0M145.1 83.7h0M145.2 85.4h0M145.3 86.8h0M145.9 92.2h0M146 93.3h0"/><path id="T_nk" d="M214.3 56.1h0M215.9 54.3h0M216.1 49.6h0M216.7 52.4h0M217 76.9h0M217.6 72.8h0M217.9 69.2h0M218.1 44h0M218.2 53.1h0M218.3 80.3h0M219 45h0M219.3 50.9h0M219.4 51.6h0M219.8 69.9h0M219.9 41h0M220.3 74.3h0M220.5 76.8h0M220.5 55.7h0M220.5 51.6h0M220.7 82.5h0M220.7 77.1h0M221 68.7h0M221.1 74.7h0M221.1 61.9h0M221.6 52.2h0M221.7 59.3h0M222.1 60.1h0M222.4 57.9h0M222.5 75.9h0M222.8 65h0M222.8 51.9h0M223.1 63.5h0M223.2 57.8h0M223.3 40.2h0M223.4 70.2h0M223.6 87.9h0M224.6 60.7h0M224.8 85.5h0M224.9 60.8h0M224.9 59.3h0M224.9 38.7h0M225.1 42.8h0M225.3 84.4h0M225.4 61.4h0M225.7 83.9h0M225.8 59.9h0M226.1 46h0M226.2 58.5h0M226.2 75.4h0M226.8 49.1h0M226.9 35.1h0M227.5 73h0M227.8 53.5h0M228 58.4h0M228.2 55.9h0M228.4 80.3h0M228.6 52.6h0M228.7 59.4h0M228.7 76.7h0M228.9 43.6h0M229 35.5h0M229.7 80.1h0M229.9 41h0M230.3 84.3h0M230.6 56.4h0M230.7 73h0M230.7 66.1h0M231.2 83.6h0M231.3 73.6h0M231.4 73.4h0M231.5 37.7h0M231.6 76.6h0M231.7 85.6h0M231.8 52.1h0M232.1 73.4h0M232.1 76.8h0M232.5 87.9h0M232.6 47.7h0M233.7 73.2h0M233.9 80h0M234.2 77.7h0M234.6 75.2h0M234.6 72.1h0M235 77.9h0M235.1 50.1h0M235.2 83.4h0M235.2 54.8h0M235.3 66.9h0M235.3 45.7h0M235.4 58.2h0M235.5 48.1h0M235.9 50.7h0M236.1 83.6h0M236.4 78.2h0M236.5 47.7h0M237.2 86.3h0M237.3 45.3h0M237.5 51.2h0M237.6 73.9h0M237.6 86.8h0M237.7 48.4h0M238 82.3h0M239 62h0M239.6 66.2h0M239.9 53.2h0M239.9 74.6h0M240.2 78.5h0M240.3 58.8h0M240.5 73h0M240.7 78.3h0M240.9 79.1h0M241.4 56.4h0M242.8 62.1h0M243.2 59.9h0M244.4 81.9h0M245.3 62h0M245.3 73.3h0M245.8 59.8h0M245.8 60.5h0M245.8 72.2h0M246.2 68.6h0M246.3 75.8h0M246.4 67h0M246.5 65.4h0M248.2 82.3h0M248.9 70.8h0M249 69h0M249 81.4h0M249.1 80.1h0M250.1 79.7h0"/><path id="T_w" d="M214.8 57.8h0M215.1 52.1h0M215.2 52.5h0M215.2 51.9h0M215.3 56.5h0M215.4 59.2h0M215.4 53.2h0M215.5 54.7h0M215.5 62.2h0M215.5 57.6h0M215.6 58.3h0M216 64.4h0M216.1 55.7h0M216.1 65.4h0M216.1 64.2h0M216.1 61.9h0M216.1 53.1h0M216.2 51.1h0M216.2 55.3h0M216.2 67h0M216.3 59h0M216.5 72.9h0M216.6 70.1h0M216.7 66.7h0M216.7 63.6h0M216.8 74.8h0M216.8 59.1h0M217 56.4h0M217 75.8h0M217.1 63.9h0M217.1 68.7h0M217.2 68.9h0M217.2 70h0M217.3 76.9h0M217.3 54.2h0M217.3 49.3h0M217.3 54.3h0M217.3 60.4h0M217.3 58.1h0M217.4 50.8h0M217.4 79.4h0M217.5 49h0M217.5 66.9h0M217.5 69.5h0M217.6 57.7h0M217.6 75.2h0M217.6 73h0M217.8 60.7h0M217.8 71.4h0M217.8 52.7h0M217.9 75.6h0M218 71.3h0M218 50.9h0M218.1 68.7h0M218.1 82.3h0M218.4 68h0M218.4 50.3h0M218.4 67.2h0M218.5 48.1h0M218.5 69.2h0M218.7 80.3h0M218.7 75.1h0M218.7 45.8h0M218.8 77.8h0M218.9 79.7h0M218.9 77.4h0M218.9 42.2h0M219 52.3h0M219 64h0M219 79.1h0M219 50.4h0M219.1 67.9h0M219.1 65.5h0M219.2 44.1h0M219.2 83.9h0M219.3 75.2h0M219.4 76.8h0M219.4 68.5h0M219.5 46.8h0M219.6 42.3h0M219.7 63.9h0M219.7 64.7h0M219.7 44.2h0M219.8 66.1h0M219.8 73.5h0M219.9 84.5h0M220 43.3h0M220 39.2h0M220.1 53.5h0M220.1 71.3h0M220.1 47.6h0M220.3 40.1h0M220.3 61.3h0M220.4 47.8h0M220.4 47.9h0M220.5 45.3h0M220.5 55.5h0M220.6 81.5h0M220.6 67.5h0M220.6 61.5h0M220.7 47.4h0M220.7 47.7h0M220.7 69.9h0M220.7 55.6h0M220.8 74.6h0M220.9 55.4h0M220.9 83.6h0M220.9 56.9h0M220.9 84.6h0M220.9 57.4h0M221 81.6h0M221 72.6h0M221 46.3h0M221 85.5h0M221 44.3h0M221 67.6h0M221.1 85.4h0M221.1 45.3h0M221.1 84.2h0M221.2 53.6h0M221.2 46.8h0M221.2 59.7h0M221.2 57.2h0M221.3 49h0M221.3 62.4h0M221.3 71h0M221.3 57.3h0M221.3 71.1h0M221.3 48.2h0M221.4 68.1h0M221.4 72.1h0M221.6 82.2h0M221.6 57.8h0M221.6 66.4h0M221.6 70.7h0M221.7 76.7h0M221.7 54.7h0M221.8 68.6h0M221.9 79h0M222 38.4h0M222.3 53.5h0M222.3 69.4h0M222.3 46.4h0M222.3 52.2h0M222.5 40.4h0M222.5 66.8h0M222.5 66.5h0M222.6 54.7h0M222.6 42.6h0M222.6 86.6h0M222.6 57.2h0M222.6 35.3h0M222.7 74h0M222.7 61.6h0M222.7 37.5h0M222.7 38.3h0M222.8 48h0M223 55.7h0M223 42.4h0M223.1 37h0M223.3 72.8h0M223.3 69.8h0M223.3 54.4h0M223.3 77.4h0M223.4 61.2h0M223.4 61.1h0M223.4 83.1h0M223.5 71.5h0M223.5 65.2h0M223.6 51.9h0M223.6 85.2h0M223.6 57h0M223.6 51.7h0M223.7 66.5h0M223.7 55.3h0M223.9 60.1h0M223.9 63.9h0M224 59.6h0M224 78.6h0M224.1 38.4h0M224.1 53.5h0M224.2 61.8h0M224.2 87.6h0M224.2 47.6h0M224.2 63.8h0M224.3 52h0M224.3 77.5h0M224.3 71.1h0M224.4 83.7h0M224.4 62h0M224.4 35.8h0M224.5 70h0M224.5 38.3h0M224.6 54.5h0M224.6 59.3h0M224.7 52.7h0M224.8 73.8h0M224.8 42.5h0M224.9 78.1h0M224.9 58.1h0M225 47.2h0M225 52.4h0M225 66.9h0M225.1 78.2h0M225.1 51.3h0M225.1 63.9h0M225.1 78.5h0M225.2 58.3h0M225.2 85.7h0M225.2 66.3h0M225.3 43.9h0M225.3 41.3h0M225.3 70.8h0M225.3 47.6h0M225.4 41.1h0M225.4 62.7h0M225.4 88.2h0M225.4 86.9h0M225.4 72.7h0M225.6 35.7h0M225.7 58.3h0M225.7 59.3h0M225.8 38.4h0M225.9 39.6h0M226.1 73.9h0M226.1 55.1h0M226.1 72.5h0M226.1 38.1h0M226.1 78h0M226.1 79.4h0M226.2 70.5h0M226.2 80.5h0M226.2 41.6h0M226.2 70.3h0M226.3 72.5h0M226.3 89.3h0M226.4 65.9h0M226.5 43.5h0M226.5 58.3h0M226.6 68.2h0M226.6 74.2h0M226.8 42.1h0M226.8 55h0M226.8 42h0M226.8 86.5h0M226.8 41.9h0M226.9 67.3h0M227 36.3h0M227 73.8h0M227.1 47.4h0M227.1 44.4h0M227.2 41.5h0M227.3 57.4h0M227.3 76.4h0M227.3 82.6h0M227.4 50.6h0M227.4 70.1h0M227.5 42.8h0M227.5 72.5h0M227.5 45.9h0M227.5 37.5h0M227.5 53.2h0M227.6 48.4h0M227.6 88.8h0M227.6 35.9h0M227.7 39.4h0M227.7 44.6h0M227.7 49.9h0M227.8 49.1h0M227.8 80.9h0M227.8 47h0M227.8 72.6h0M227.8 35.1h0M227.9 88.1h0M227.9 50.5h0M228 83.5h0M228 39.7h0M228 73.1h0M228.1 74h0M228.1 57.1h0M228.1 83.5h0M228.2 82.4h0M228.3 87.4h0M228.3 86.2h0M228.3 53.6h0M228.3 73.9h0M228.4 45.2h0M228.4 62.8h0M228.4 50.2h0M228.5 45.6h0M228.5 39.7h0M228.5 45.2h0M228.6 40.5h0M228.6 36.1h0M228.7 66.5h0M228.7 60.9h0M228.7 71.9h0M228.8 41.6h0M228.8 53.4h0M228.9 71.3h0M228.9 37.8h0M228.9 82.9h0M229 76h0M229 77h0M229 75.8h0M229 48.9h0M229.1 51.3h0M229.2 47.2h0M229.2 60.5h0M229.2 66.9h0M229.3 52.1h0M229.3 63.1h0M229.4 83.6h0M229.4 75.6h0M229.4 35h0M229.4 87.7h0M229.5 83.7h0M229.5 70h0M229.6 50.4h0M229.6 85.2h0M229.6 79.7h0M229.7 61.3h0M229.8 82.4h0M229.8 72.3h0M229.8 42.9h0M229.9 87.7h0M229.9 76.8h0M230.2 82h0M230.3 68.1h0M230.3 51.9h0M230.4 78.3h0M230.5 40.4h0M230.5 49.6h0M230.6 72.1h0M230.6 55.8h0M230.6 45.7h0M230.7 65.4h0M230.7 48.1h0M230.7 82.4h0M230.7 76.1h0M230.8 44.9h0M230.8 67h0M230.9 77.2h0M230.9 71.2h0M230.9 55h0M231 47.3h0M231.1 48.8h0M231.1 56.7h0M231.2 55.5h0M231.2 87.6h0M231.3 79.2h0M231.4 39.5h0M231.4 76.1h0M231.4 55.2h0M231.5 48.6h0M231.5 62h0M231.5 55h0M231.7 47.2h0M231.8 83.8h0M231.8 77.5h0M231.9 81h0M231.9 77.5h0M232 53.1h0M232.1 41.8h0M232.2 70.5h0M232.2 59.7h0M232.3 45.1h0M232.3 75.3h0M232.4 61.2h0M232.4 85.9h0M232.4 85.6h0M232.5 50.1h0M232.6 62.5h0M232.6 52.5h0M232.6 87.5h0M232.6 47h0M232.6 80h0M232.7 51.2h0M232.7 68.4h0M232.8 48.1h0M232.9 41.6h0M232.9 64.8h0M232.9 42.6h0M232.9 71.7h0M232.9 39.8h0M232.9 42.6h0M233 79.7h0M233.1 74.2h0M233.1 44.6h0M233.2 88.4h0M233.2 62.2h0M233.2 84h0M233.3 63.3h0M233.4 40.4h0M233.4 66.9h0M233.5 59.9h0M233.5 69.2h0M233.6 69.3h0M233.6 43.4h0M233.6 55.9h0M233.7 86.5h0M233.7 40.7h0M233.8 42.6h0M233.8 66.6h0M233.8 75.3h0M233.8 81.9h0M233.8 65h0M233.9 70.8h0M233.9 66.8h0M234 68.8h0M234 64.3h0M234.1 64.5h0M234.1 59h0M234.1 74.9h0M234.1 50.8h0M234.1 70.3h0M234.1 66.6h0M234.2 53.5h0M234.3 47.5h0M234.3 43.5h0M234.3 41.4h0M234.4 71.9h0M234.4 82.6h0M234.4 65.8h0M234.4 44.7h0M234.4 68.7h0M234.5 42.3h0M234.5 87.6h0M234.6 59.4h0M234.6 77.3h0M234.7 82.1h0M234.7 46.9h0M234.8 55h0M234.8 64.4h0M234.8 63.8h0M234.9 42.3h0M234.9 53.6h0M234.9 74.6h0M234.9 79h0M235 66.8h0M235 76h0M235 78.4h0M235.1 56.1h0M235.1 56.2h0M235.1 43.9h0M235.2 50.6h0M235.2 83h0M235.2 61.6h0M235.4 51.9h0M235.4 88.3h0M235.4 49h0M235.4 53.6h0M235.5 56.6h0M235.5 44.4h0M235.5 46.3h0M235.5 48h0M235.5 50.1h0M235.7 60.4h0M235.7 78.3h0M235.7 85.3h0M235.8 50h0M235.9 63.2h0M235.9 68.2h0M235.9 49.8h0M235.9 62.4h0M235.9 61.1h0M236 66.1h0M236 60.2h0M236 64.2h0M236 46.2h0M236 69.1h0M236.1 43.6h0M236.1 51.8h0M236.1 65.7h0M236.1 76h0M236.2 64.8h0M236.2 77.4h0M236.3 55.2h0M236.3 86h0M236.3 81.4h0M236.4 83.2h0M236.4 80.4h0M236.4 52.7h0M236.4 71h0M236.4 71.3h0M236.6 61.9h0M236.6 49.5h0M236.7 75.2h0M236.7 76.7h0M236.7 48.1h0M236.7 59.3h0M236.8 87h0M236.8 49.9h0M236.9 74.5h0M236.9 45.4h0M236.9 68h0M237 79h0M237 85.6h0M237 58h0M237.1 60.2h0M237.2 81.2h0M237.2 70.7h0M237.2 73h0M237.2 61.1h0M237.3 60.6h0M237.3 80h0M237.3 56.5h0M237.3 76.1h0M237.4 70.1h0M237.5 66.4h0M237.6 73.5h0M237.6 76.3h0M237.6 78.8h0M237.6 46h0M237.7 63.4h0M237.7 52.5h0M237.9 60.9h0M237.9 62.3h0M238.1 74h0M238.2 47.1h0M238.2 57.3h0M238.2 54h0M238.2 65.8h0M238.4 50h0M238.4 56.4h0M238.4 59.1h0M238.4 51.3h0M238.5 66.5h0M238.6 65.1h0M238.7 83.2h0M238.7 54.9h0M238.8 60.5h0M238.8 58.6h0M238.8 49.2h0M238.9 71.7h0M238.9 72.5h0M238.9 85.6h0M238.9 81.2h0M239 86.3h0M239 56.4h0M239 83.2h0M239.1 55h0M239.1 84.2h0M239.1 82.9h0M239.2 68.6h0M239.2 54.8h0M239.2 59.9h0M239.3 83.9h0M239.4 57.6h0M239.5 68.7h0M239.5 72.1h0M239.5 75.6h0M239.6 56.2h0M239.6 86.3h0M239.6 80.1h0M239.6 69.2h0M239.7 76.5h0M239.8 52.1h0M239.8 57.4h0M239.8 62.5h0M239.9 64.8h0M239.9 51.1h0M240 50h0M240 69.4h0M240 66.7h0M240 65.4h0M240.1 72.8h0M240.2 65.4h0M240.2 83.6h0M240.2 69.3h0M240.2 63.3h0M240.3 53.4h0M240.4 68.1h0M240.4 60.6h0M240.5 63.5h0M240.5 72.3h0M240.5 70.7h0M240.6 60.6h0M240.6 84.7h0M240.7 54h0M240.7 58.5h0M240.8 60.5h0M240.8 64.3h0M240.8 80.4h0M240.8 81.7h0M240.9 72.2h0M241 62.9h0M241.1 59.9h0M241.1 67.6h0M241.2 68.3h0M241.2 64.4h0M241.3 71.4h0M241.4 77.5h0M241.5 58.7h0M241.6 69.8h0M241.6 64.3h0M241.7 67.6h0M241.7 56.9h0M241.8 61.3h0M241.8 81.3h0M241.9 78.3h0M242 86.1h0M242.1 75.1h0M242.1 84h0M242.1 63.6h0M242.2 71.2h0M242.2 80.3h0M242.2 69.5h0M242.3 84.3h0M242.3 80.9h0M242.4 67.4h0M242.4 64.9h0M242.5 78.6h0M242.7 68.8h0M242.8 61.9h0M242.8 54.8h0M242.9 78.6h0M243 77.8h0M243.2 85h0M243.3 74.5h0M243.4 66.3h0M243.5 64.5h0M243.6 80.9h0M243.6 79.8h0M243.7 76.1h0M243.7 60.9h0M243.7 77.4h0M243.8 75.3h0M243.8 58.8h0M243.9 79.7h0M243.9 69.6h0M243.9 73h0M243.9 60.4h0M244.3 71.7h0M244.3 80.1h0M244.3 57.8h0M244.4 57.9h0M244.5 83.2h0M244.6 82.9h0M244.6 81.1h0M244.7 60h0M244.7 68.9h0M244.8 83.7h0M244.8 63.7h0M244.9 64.7h0M245 83.4h0M245 65.2h0M245.1 78.7h0M245.2 58.7h0M245.2 62.2h0M245.4 76.8h0M245.5 68.7h0M245.5 72.6h0M245.6 79.3h0M245.7 65.8h0M245.7 71.3h0M245.9 72.2h0M246.1 63.7h0M246.2 62.3h0M246.4 65.7h0M246.4 66.1h0M246.4 65.6h0M246.5 83.5h0M246.5 67.1h0M246.7 73.5h0M246.9 72.8h0M247 71.4h0M247.2 73.7h0M247.3 72.6h0M247.3 63.9h0M247.4 74.9h0M247.4 65.5h0M247.4 78.8h0M247.5 71h0M247.6 73.8h0M247.6 80.2h0M247.9 69.2h0M248 76.1h0M248 80.8h0M248.3 74.6h0M248.3 67.5h0M248.5 72h0M248.5 80.8h0M248.8 78.1h0M249.5 71.3h0M249.8 75.5h0M249.9 79.7h0M250.6 73h0M250.6 71.9h0M250.8 79.6h0M250.8 79h0M250.9 77.9h0M251 73.6h0M251 72.4h0M251.1 71.7h0M251.4 75.9h0M251.5 77h0M252 74.9h0M252.3 74.6h0M252.4 74.1h0"/><path id="endo_d" d="M89.8 25.6h0M90.1 19.3h0M90.8 18.2h0M91 23.4h0M91.4 23.3h0M91.5 32.5h0M92 15h0M92 14.6h0M92.1 22.9h0M92.4 15.5h0M92.5 15.3h0M93 31.6h0M93.4 17.1h0M93.5 15.5h0M93.6 13.4h0M93.8 29.5h0M94 15.3h0M94.4 8.9h0M94.7 23.3h0M94.8 15.3h0M95.1 38.8h0M95.5 30.8h0M95.7 14.3h0M96.2 26.9h0M96.3 17.4h0M96.3 30h0M96.4 32.7h0M96.8 8.7h0M96.9 37.3h0M97.6 23.7h0M97.7 26.6h0M97.7 21.4h0M98 24.6h0M98.1 10.7h0M98.2 15.2h0M98.6 19.3h0M98.7 36.2h0M98.7 10.5h0M98.9 23h0M99 11.1h0M99.1 32.6h0M99.6 8h0M99.7 44.4h0M99.9 33.4h0M99.9 21.1h0M100 14.3h0M100.2 20.8h0M100.4 36.7h0M100.5 30.7h0M100.5 8.2h0M100.7 33.5h0M100.9 16.9h0M101.1 43.4h0M101.8 25h0M102 17h0M102.1 24.1h0M102.2 21.6h0M102.2 33.7h0M102.2 41.1h0M102.2 45.2h0M102.7 22.5h0M102.8 39.1h0M102.8 42.6h0M103.1 10.6h0M103.2 25.8h0M103.4 19.9h0M103.4 43.6h0M103.5 25.4h0M103.7 27.7h0M103.8 42.5h0M104.2 27.1h0M104.3 28.8h0M104.4 14h0M104.5 30h0M104.5 10.5h0M104.6 4.7h0M104.7 20.4h0M105 25.1h0M105.3 26.3h0M105.3 44.1h0M105.5 35.8h0M105.5 30.8h0M105.6 47.9h0M105.8 21.7h0M105.8 33.7h0M105.8 41.8h0M105.8 14.1h0M106.1 44.4h0M106.2 39.5h0M106.4 43.8h0M106.6 17.5h0M106.7 25.1h0M106.7 7.4h0M106.8 10.4h0M107 31.6h0M107.2 29.4h0M107.2 39.3h0M107.3 37.5h0M107.3 21.1h0M107.3 34.6h0M107.4 32.2h0M107.4 5.6h0M107.5 7.9h0M107.5 32.9h0M107.7 5.4h0M107.8 37.2h0M107.8 46.5h0M107.9 17h0M107.9 24.8h0M108.2 25.8h0M108.3 43.1h0M108.4 39.6h0M108.4 50.3h0M108.4 35.1h0M108.6 13.3h0M108.6 32.1h0M108.6 45.8h0M109 10.3h0M109.1 5.3h0M109.4 9.5h0M109.9 5.8h0M109.9 5.3h0M110.1 37h0M110.3 28.4h0M110.4 38.9h0M110.5 7.1h0M110.7 28.3h0M110.7 16.8h0M110.8 21.1h0M111 44h0M111 27.1h0M111.1 8.6h0M111.4 3.8h0M111.5 28h0M111.5 34.3h0M111.5 10.2h0M111.6 27h0M111.7 49.7h0M111.7 7.2h0M112 50.9h0M112.5 30.3h0M112.7 13.8h0M112.8 40.1h0M113.1 33.9h0M113.4 25h0M113.6 19.5h0M113.6 23.1h0M113.7 22.4h0M113.7 11.1h0M113.9 38.1h0M114 35.2h0M114 44.3h0M114 35.3h0M114 19.8h0M114.1 43.1h0M114.2 10h0M114.3 51.6h0M114.3 41h0M114.3 41.5h0M114.6 47.1h0M114.8 4.9h0M115.2 54.5h0M115.4 12.8h0M115.5 30h0M115.5 6.4h0M115.6 43h0M115.7 55.2h0M115.7 19.2h0M115.8 3.4h0M116 52.1h0M116 18.5h0M116.1 5.4h0M116.1 33.5h0M116.1 33.1h0M116.1 10.4h0M116.3 36.4h0M116.4 38.3h0M116.6 44.5h0M116.9 38.5h0M116.9 42.2h0M116.9 53.5h0M116.9 31.9h0M117.1 59.1h0M117.1 31.7h0M117.2 52.6h0M117.3 13.5h0M117.5 23.5h0M117.7 22.6h0M117.8 38.8h0M118 4.4h0M118.1 43.6h0M118.1 31.1h0M118.1 34.3h0M118.2 14.8h0M118.3 38.4h0M118.4 43h0M118.4 45.9h0M118.4 54.1h0M118.7 40.4h0M118.7 7.5h0M118.8 19.5h0M118.8 53.8h0M118.8 58.9h0M119 34h0M119.2 60.9h0M119.5 19.1h0M119.5 18h0M119.6 56.8h0M119.9 30.7h0M120.1 53.9h0M120.2 57.3h0M120.3 27.4h0M120.4 29.9h0M120.4 36.9h0M120.5 16.4h0M120.6 53.4h0M120.6 44.4h0M120.7 56.4h0M120.9 42.2h0M121 15.6h0M121.1 11.6h0M121.1 36.5h0M121.2 18.1h0M121.2 51.8h0M121.3 38.9h0M121.4 33.5h0M121.5 46.8h0M121.6 15.5h0M121.7 37.6h0M121.7 19h0M121.8 19.3h0M121.9 10.7h0M121.9 52.7h0M121.9 8.2h0M122 43.1h0M122 38.2h0M122 30h0M122.1 42.6h0M122.2 30.8h0M122.3 53.6h0M122.4 55.8h0M122.6 44.2h0M122.7 52.8h0M122.8 8.5h0M122.8 23.5h0M122.8 35.5h0M122.9 2.8h0M123.1 11.6h0M123.2 24.5h0M123.2 35.9h0M123.2 14.2h0M123.4 33.6h0M123.5 3.2h0M123.6 22.5h0M124 13.6h0M124.1 4.7h0M124.5 2.7h0M124.5 29.2h0M124.5 29.5h0M124.6 32.7h0M124.7 18h0M124.8 34.6h0M124.8 32.1h0M124.8 57.6h0M124.8 10.5h0M125 31.1h0M125.5 47.6h0M125.6 11.9h0M125.9 18.2h0M126 49h0M126 30.3h0M126.1 26.5h0M126.1 7.5h0M126.2 22.4h0M126.3 47.9h0M126.6 43.8h0M126.7 52.8h0M126.7 46.9h0M126.7 3.9h0M126.7 35.8h0M126.8 52.2h0M126.9 17.8h0M127 45.2h0M127.1 30.1h0M127.1 21.1h0M127.2 42.3h0M127.7 49h0M127.9 34.9h0M127.9 40.9h0M128 22.2h0M128.6 23.8h0M128.8 12.9h0M129 7h0M129.2 13.4h0M129.4 19.5h0M129.8 25h0M129.8 7.6h0M130.2 19.9h0M130.2 15.8h0M130.3 8.6h0M130.4 38.1h0M130.4 23.1h0M130.5 19.6h0M130.5 42.2h0M130.8 30.6h0M131.4 33.2h0M131.5 26.2h0M131.7 25.3h0M132.2 13.1h0M132.3 35.3h0M132.5 25.4h0M132.6 22.4h0M132.8 15.3h0M132.8 36.7h0M132.9 22.7h0M133 17.4h0M133.8 28.7h0M134.7 26.1h0M134.7 30h0M135.1 30h0"/><path id="mac_w" d="M148.3 76.3h0M148.5 73.1h0M149.3 72.4h0M149.8 69.2h0M151 59.5h0M151.8 60.6h0M152.1 78.7h0M152.3 79.7h0M152.4 62h0M152.5 74.6h0M153.1 55.8h0M153.1 62.3h0M153.2 76.3h0M153.6 85.9h0M153.6 54h0M153.6 81.4h0M153.7 79.5h0M153.8 52h0M154.7 86.1h0M154.7 88.2h0M154.9 76.7h0M155.3 73.7h0M155.5 58.6h0M155.6 57.4h0M156.9 73.3h0M157.1 58h0M157.7 82.1h0M158.2 68.6h0M158.2 52.5h0M158.4 77.3h0M158.4 57.8h0M158.5 83.1h0M158.8 71.9h0M159.3 85.4h0M159.6 85.9h0M159.6 76.8h0M160.1 54.5h0M160.2 82.2h0M160.6 37.1h0M160.6 78h0M161.3 64.2h0M161.8 86.5h0M162.2 39h0M162.4 45.8h0M162.7 65.7h0M162.8 74.2h0M162.8 67.7h0M162.9 87.9h0M163 38.9h0M163.4 35h0M163.4 69.9h0M163.5 82.2h0M163.6 82.1h0M163.6 74.9h0M164 42.7h0M164 33.9h0M164 84.7h0M164.2 62.4h0M164.3 55.5h0M164.4 44.5h0M164.4 46.2h0M164.5 66.7h0M164.7 52.9h0M165.1 69.9h0M165.3 62.9h0M165.5 89.7h0M165.7 41.6h0M166 78.1h0M166.1 35.4h0M166.5 61.4h0M166.7 39.4h0M166.9 34.3h0M167.1 65.5h0M167.2 37.3h0M167.2 76.9h0M167.4 79.3h0M167.7 81.2h0M168.1 64h0M168.4 72.1h0M168.7 57.4h0M169 47.1h0M169 88.3h0M169 55.4h0M169.1 41.8h0M169.5 37.3h0M169.6 83.5h0M170.3 39.5h0M170.6 34h0M170.6 46.9h0M170.7 63.8h0M171.7 82h0M172.2 41.6h0M172.3 73.3h0M172.3 57.7h0M172.4 64.9h0M172.4 42h0M173.2 56.7h0M173.2 39.5h0M173.3 62.5h0M173.9 67.6h0M174.2 49.2h0M174.3 65.1h0M174.3 37.7h0M174.7 82.3h0M175.6 45.2h0M175.9 86.2h0M176 80.8h0M176.1 70.3h0M176.2 60.4h0M176.3 85.2h0M176.6 69.2h0M176.8 43.6h0M177.2 78.7h0M177.2 79.9h0M177.3 73.4h0M177.6 67.1h0M177.8 46.7h0M177.8 76.9h0M178.1 40.2h0M178.1 51.9h0M178.4 80.8h0M178.5 35.6h0M178.5 82h0M178.9 65.6h0M179 39h0M179 41.3h0M179.2 84.3h0M179.2 47.5h0M179.4 67h0M179.5 63.7h0M179.6 35.3h0M179.8 79.2h0M179.9 49.3h0M180 49.1h0M180.1 82.9h0M180.2 42.7h0M180.3 49.4h0M180.5 74.2h0M180.6 33.9h0M181.2 47.4h0M181.4 70.4h0M181.4 37.5h0M181.5 78.5h0M181.7 62.5h0M181.9 63.1h0M182.1 82.2h0M182.2 81.9h0M182.2 53.7h0M182.3 40.1h0M182.4 62.5h0M183.3 76.6h0M183.9 34.6h0M183.9 40.9h0M184.1 61.8h0M184.2 67.7h0M184.3 69.9h0M184.3 79h0M184.5 79.9h0M185.4 74h0M185.5 41.2h0M185.9 43.3h0M186.6 43h0M186.7 37.9h0M188.1 77h0M188.3 49.2h0M189 51h0M189.6 65.1h0M189.9 42.2h0M190.3 42.3h0M190.9 50.9h0M191.1 75.6h0M191.2 39.6h0M191.7 74.8h0M192.1 51.8h0M192.3 62.3h0M192.4 56.4h0M192.8 44.1h0M192.9 69.3h0M192.9 62.5h0M193.1 63h0M193.2 48.1h0M193.3 79.7h0M193.3 55.9h0M193.4 63.8h0M193.5 68.4h0M193.5 78.8h0M194 49h0M194.3 46.7h0M194.4 75.8h0M194.9 74.4h0M194.9 67.6h0M195.3 64h0M195.5 76.2h0M195.8 63h0M197.3 77.5h0M199 66.5h0M199.5 74.5h0M200.3 73.1h0M200.4 70.9h0M200.7 74.1h0"/></defs>
<g transform="translate(69.9 1824.1)"><g filter="url(#rg2)" opacity="0.55"><path d="M27.1 193.9C28.5 191.6 32.7 188 37 186.1C41.2 184.1 47.5 182.1 52.7 182.1C58 182.1 64.5 184.4 68.5 186.1C72.4 187.7 75.7 189.7 76.3 192C77 194.3 75.7 198.5 72.4 199.8C69.1 201.2 62.2 199.5 56.6 199.8C51.1 200.2 43.5 201.8 38.9 201.8C34.4 201.8 31.1 201.2 29.1 199.8C27.1 198.5 25.8 196.2 27.1 193.9Z" fill="#74d76e"/><path d="M74.4 174.3C76.3 170.7 82.5 171.3 88.1 170.3C93.7 169.4 101.2 168.4 107.8 168.4C114.3 168.4 122.5 168 127.5 170.3C132.4 172.6 135.7 178.5 137.3 182.1C138.9 185.7 138.9 188.4 137.3 192C135.7 195.6 130.4 200.2 127.5 203.8C124.5 207.4 121.6 210.3 119.6 213.6C117.6 216.9 117.6 222.5 115.7 223.4C113.7 224.4 109.4 221.8 107.8 219.5C106.2 217.2 107.8 211.6 105.8 209.7C103.9 207.7 98.9 206.4 96 207.7C93 209 91.1 215.9 88.1 217.5C85.2 219.2 79.6 219.8 78.3 217.5C77 215.3 80.6 208 80.3 203.8C79.9 199.5 77.3 196.9 76.3 192C75.3 187.1 72.4 177.9 74.4 174.3Z" fill="#74d76e"/><path d="M125.5 213.6C127.5 211.3 132.9 208.7 135.3 209.7C137.8 210.7 139.9 216.2 140.2 219.5C140.6 222.8 139.1 227.4 137.3 229.3C135.5 231.3 131.7 232.3 129.4 231.3C127.1 230.3 124.2 226.4 123.5 223.4C122.9 220.5 123.5 215.9 125.5 213.6Z" fill="#74d76e"/><path d="M153 192C155 188.7 162.2 187.7 166.8 188C171.4 188.4 177.3 191 180.6 193.9C183.8 196.9 185.8 202.1 186.5 205.7C187.1 209.3 186.5 212.6 184.5 215.6C182.5 218.5 177 220.2 174.7 223.4C172.4 226.7 172.4 232.3 170.7 235.2C169.1 238.2 167.5 240.5 164.8 241.1C162.2 241.8 157.6 240.8 155 239.2C152.4 237.5 149.4 234.6 149.1 231.3C148.8 228 152 223.4 153 219.5C154 215.6 155 212.3 155 207.7C155 203.1 151.1 195.3 153 192Z" fill="#74d76e"/><path d="M60.6 237.2C63.9 233.9 72.1 232 78.3 231.3C84.5 230.7 92.4 231.6 98 233.3C103.5 234.9 108.4 237.9 111.7 241.1C115 244.4 117 249 117.6 253C118.3 256.9 117.3 261.5 115.7 264.8C114 268 111.7 271 107.8 272.6C103.9 274.3 97.6 274.6 92.1 274.6C86.5 274.6 78.9 274.6 74.4 272.6C69.8 270.7 67.1 266.4 64.5 262.8C61.9 259.2 59.3 255.2 58.6 251C58 246.7 57.3 240.5 60.6 237.2Z" fill="#74d76e"/><path d="M123.5 278.5C126.8 275.2 132.7 275.6 137.3 274.6C141.9 273.6 146.1 274.3 151.1 272.6C156 271 162.5 265.7 166.8 264.8C171.1 263.8 174.3 265.1 176.6 266.7C178.9 268.4 180.6 271.3 180.6 274.6C180.6 277.9 178.9 282.8 176.6 286.4C174.3 290 169.7 292.3 166.8 296.2C163.8 300.2 161.6 305.7 158.9 310C156.3 314.3 154.3 319.2 151.1 321.8C147.8 324.4 143.2 325.7 139.3 325.7C135.3 325.7 130.7 324.4 127.5 321.8C124.2 319.2 121.2 314.6 119.6 310C118 305.4 117 299.5 117.6 294.3C118.3 289 120.2 281.8 123.5 278.5Z" fill="#74d76e"/><path d="M168.8 123.1C172.4 119.9 180.2 115.3 186.5 113.3C192.7 111.3 200.9 110.3 206.1 111.3C211.4 112.3 215 115.6 217.9 119.2C220.9 122.8 221.2 132.3 223.8 133C226.5 133.6 231.4 122.5 233.7 123.1C236 123.8 237.6 133.3 237.6 136.9C237.6 140.5 233.3 141.8 233.7 144.8C234 147.7 239.2 150.3 239.6 154.6C239.9 158.9 237.9 168.7 235.6 170.3C233.3 172 229.1 164.1 225.8 164.4C222.5 164.8 217.9 168.4 216 172.3C214 176.2 215.6 184.1 214 188C212.4 192 209.1 195.9 206.1 195.9C203.2 195.9 199.6 192 196.3 188C193 184.1 190.1 177.2 186.5 172.3C182.9 167.4 177.9 162.8 174.7 158.5C171.4 154.3 168.4 151 166.8 146.7C165.2 142.5 164.5 136.9 164.8 133C165.2 129 165.2 126.4 168.8 123.1Z" fill="#3fa63f"/><path d="M119.6 129C124.8 127.1 135 124.4 139.3 125.1C143.5 125.8 144 129 145.2 133C146.3 136.9 147.5 145.1 146.1 148.7C144.8 152.3 141.1 153.3 137.3 154.6C133.5 155.9 128.4 156.9 123.5 156.6C118.6 156.2 111.7 154.3 107.8 152.6C103.9 151 99.9 149.4 99.9 146.7C99.9 144.1 104.5 139.9 107.8 136.9C111.1 133.9 114.3 131 119.6 129Z" fill="#f2a6f2"/><path d="M35 72C37 69 40.9 68.4 44.8 66.1C48.8 63.8 53.7 59.9 58.6 58.2C63.5 56.6 70.4 54.9 74.4 56.3C78.3 57.6 79.3 59.9 82.2 66.1C85.2 72.3 87.8 85.8 92.1 93.6C96.3 101.5 107.1 108.1 107.8 113.3C108.4 118.5 99.3 121.8 96 125.1C92.7 128.4 91.4 132 88.1 133C84.8 133.9 81.2 132.6 76.3 131C71.4 129.4 63.9 126.1 58.6 123.1C53.4 120.2 48.8 117.2 44.8 113.3C40.9 109.4 37 104.4 35 99.5C33 94.6 33 88.4 33 83.8C33 79.2 33 74.9 35 72Z" fill="#cccc16"/><path d="M80.3 56.3C84.2 54 90.7 54.9 96 56.3C101.2 57.6 107.1 60.8 111.7 64.1C116.3 67.4 120.9 71.7 123.5 75.9C126.1 80.2 127.1 85.4 127.5 89.7C127.8 94 126.8 97.9 125.5 101.5C124.2 105.1 121.2 108.4 119.6 111.3C118 114.3 117.6 118.5 115.7 119.2C113.7 119.9 111.1 117.2 107.8 115.3C104.5 113.3 99.9 110.7 96 107.4C92.1 104.1 87.5 99.5 84.2 95.6C80.9 91.7 78.3 88.1 76.3 83.8C74.4 79.5 71.7 74.6 72.4 70C73 65.4 76.3 58.5 80.3 56.3Z" fill="#7f8c0f"/><path d="M105.8 3.1C111.4 2 122.9 0.2 127.5 2.2C132 4.1 132 10.2 133.4 14.9C134.7 19.7 135.7 25.8 135.3 30.7C135 35.6 133 39.9 131.4 44.5C129.8 49 127.5 55.3 125.5 58.2C123.5 61.2 121.9 62.8 119.6 62.2C117.3 61.5 115 56.9 111.7 54.3C108.4 51.7 103.2 49.7 99.9 46.4C96.6 43.1 94 38.9 92.1 34.6C90.1 30.4 87.8 25.1 88.1 20.8C88.4 16.6 91.1 12 94 9C97 6.1 100.2 4.3 105.8 3.1Z" fill="#fdb462"/><path d="M158.9 34.6C161.9 32.5 167.8 31.7 172.7 31.7C177.6 31.7 184.8 32.5 188.4 34.6C192 36.7 193 39.9 194.3 44.5C195.6 49 194.7 57.2 196.3 62.2C197.9 67.1 204.2 71 204.2 74C204.2 76.9 199.9 78.2 196.3 79.9C192.7 81.5 186.5 82.5 182.5 83.8C178.6 85.1 176.6 86.4 172.7 87.7C168.8 89 162.9 92 158.9 91.7C155 91.3 151.1 88.7 149.1 85.8C147.1 82.8 146.8 78.5 147.1 74C147.5 69.4 149.8 63.1 151.1 58.2C152.4 53.3 153.7 48.4 155 44.5C156.3 40.5 156 36.7 158.9 34.6Z" fill="#9ed2f7"/><path d="M223.8 31.7C225.5 31 227.1 31.8 229.7 34.6C232.4 37.4 236.6 43.8 239.6 48.4C242.5 53 245.1 57.6 247.4 62.2C249.7 66.7 253 72.6 253.3 75.9C253.7 79.2 251.7 79.9 249.4 81.8C247.1 83.8 243.5 86.4 239.6 87.7C235.6 89 229.4 90.3 225.8 89.7C222.2 89 219.6 87.1 217.9 83.8C216.3 80.5 216.6 74.9 216 70C215.3 65.1 213.3 59.5 214 54.3C214.7 49 218.3 42.3 219.9 38.6C221.5 34.8 222.2 32.3 223.8 31.7Z" fill="#f9b0a0"/></g><g filter="url(#rg)"><path d="M27.1 193.9C28.5 191.6 32.7 188 37 186.1C41.2 184.1 47.5 182.1 52.7 182.1C58 182.1 64.5 184.4 68.5 186.1C72.4 187.7 75.7 189.7 76.3 192C77 194.3 75.7 198.5 72.4 199.8C69.1 201.2 62.2 199.5 56.6 199.8C51.1 200.2 43.5 201.8 38.9 201.8C34.4 201.8 31.1 201.2 29.1 199.8C27.1 198.5 25.8 196.2 27.1 193.9Z" fill="#74d76e"/><path d="M74.4 174.3C76.3 170.7 82.5 171.3 88.1 170.3C93.7 169.4 101.2 168.4 107.8 168.4C114.3 168.4 122.5 168 127.5 170.3C132.4 172.6 135.7 178.5 137.3 182.1C138.9 185.7 138.9 188.4 137.3 192C135.7 195.6 130.4 200.2 127.5 203.8C124.5 207.4 121.6 210.3 119.6 213.6C117.6 216.9 117.6 222.5 115.7 223.4C113.7 224.4 109.4 221.8 107.8 219.5C106.2 217.2 107.8 211.6 105.8 209.7C103.9 207.7 98.9 206.4 96 207.7C93 209 91.1 215.9 88.1 217.5C85.2 219.2 79.6 219.8 78.3 217.5C77 215.3 80.6 208 80.3 203.8C79.9 199.5 77.3 196.9 76.3 192C75.3 187.1 72.4 177.9 74.4 174.3Z" fill="#74d76e"/><path d="M125.5 213.6C127.5 211.3 132.9 208.7 135.3 209.7C137.8 210.7 139.9 216.2 140.2 219.5C140.6 222.8 139.1 227.4 137.3 229.3C135.5 231.3 131.7 232.3 129.4 231.3C127.1 230.3 124.2 226.4 123.5 223.4C122.9 220.5 123.5 215.9 125.5 213.6Z" fill="#74d76e"/><path d="M153 192C155 188.7 162.2 187.7 166.8 188C171.4 188.4 177.3 191 180.6 193.9C183.8 196.9 185.8 202.1 186.5 205.7C187.1 209.3 186.5 212.6 184.5 215.6C182.5 218.5 177 220.2 174.7 223.4C172.4 226.7 172.4 232.3 170.7 235.2C169.1 238.2 167.5 240.5 164.8 241.1C162.2 241.8 157.6 240.8 155 239.2C152.4 237.5 149.4 234.6 149.1 231.3C148.8 228 152 223.4 153 219.5C154 215.6 155 212.3 155 207.7C155 203.1 151.1 195.3 153 192Z" fill="#74d76e"/><path d="M60.6 237.2C63.9 233.9 72.1 232 78.3 231.3C84.5 230.7 92.4 231.6 98 233.3C103.5 234.9 108.4 237.9 111.7 241.1C115 244.4 117 249 117.6 253C118.3 256.9 117.3 261.5 115.7 264.8C114 268 111.7 271 107.8 272.6C103.9 274.3 97.6 274.6 92.1 274.6C86.5 274.6 78.9 274.6 74.4 272.6C69.8 270.7 67.1 266.4 64.5 262.8C61.9 259.2 59.3 255.2 58.6 251C58 246.7 57.3 240.5 60.6 237.2Z" fill="#74d76e"/><path d="M123.5 278.5C126.8 275.2 132.7 275.6 137.3 274.6C141.9 273.6 146.1 274.3 151.1 272.6C156 271 162.5 265.7 166.8 264.8C171.1 263.8 174.3 265.1 176.6 266.7C178.9 268.4 180.6 271.3 180.6 274.6C180.6 277.9 178.9 282.8 176.6 286.4C174.3 290 169.7 292.3 166.8 296.2C163.8 300.2 161.6 305.7 158.9 310C156.3 314.3 154.3 319.2 151.1 321.8C147.8 324.4 143.2 325.7 139.3 325.7C135.3 325.7 130.7 324.4 127.5 321.8C124.2 319.2 121.2 314.6 119.6 310C118 305.4 117 299.5 117.6 294.3C118.3 289 120.2 281.8 123.5 278.5Z" fill="#74d76e"/><path d="M168.8 123.1C172.4 119.9 180.2 115.3 186.5 113.3C192.7 111.3 200.9 110.3 206.1 111.3C211.4 112.3 215 115.6 217.9 119.2C220.9 122.8 221.2 132.3 223.8 133C226.5 133.6 231.4 122.5 233.7 123.1C236 123.8 237.6 133.3 237.6 136.9C237.6 140.5 233.3 141.8 233.7 144.8C234 147.7 239.2 150.3 239.6 154.6C239.9 158.9 237.9 168.7 235.6 170.3C233.3 172 229.1 164.1 225.8 164.4C222.5 164.8 217.9 168.4 216 172.3C214 176.2 215.6 184.1 214 188C212.4 192 209.1 195.9 206.1 195.9C203.2 195.9 199.6 192 196.3 188C193 184.1 190.1 177.2 186.5 172.3C182.9 167.4 177.9 162.8 174.7 158.5C171.4 154.3 168.4 151 166.8 146.7C165.2 142.5 164.5 136.9 164.8 133C165.2 129 165.2 126.4 168.8 123.1Z" fill="#3fa63f"/><path d="M119.6 129C124.8 127.1 135 124.4 139.3 125.1C143.5 125.8 144 129 145.2 133C146.3 136.9 147.5 145.1 146.1 148.7C144.8 152.3 141.1 153.3 137.3 154.6C133.5 155.9 128.4 156.9 123.5 156.6C118.6 156.2 111.7 154.3 107.8 152.6C103.9 151 99.9 149.4 99.9 146.7C99.9 144.1 104.5 139.9 107.8 136.9C111.1 133.9 114.3 131 119.6 129Z" fill="#f2a6f2"/><path d="M35 72C37 69 40.9 68.4 44.8 66.1C48.8 63.8 53.7 59.9 58.6 58.2C63.5 56.6 70.4 54.9 74.4 56.3C78.3 57.6 79.3 59.9 82.2 66.1C85.2 72.3 87.8 85.8 92.1 93.6C96.3 101.5 107.1 108.1 107.8 113.3C108.4 118.5 99.3 121.8 96 125.1C92.7 128.4 91.4 132 88.1 133C84.8 133.9 81.2 132.6 76.3 131C71.4 129.4 63.9 126.1 58.6 123.1C53.4 120.2 48.8 117.2 44.8 113.3C40.9 109.4 37 104.4 35 99.5C33 94.6 33 88.4 33 83.8C33 79.2 33 74.9 35 72Z" fill="#cccc16"/><path d="M80.3 56.3C84.2 54 90.7 54.9 96 56.3C101.2 57.6 107.1 60.8 111.7 64.1C116.3 67.4 120.9 71.7 123.5 75.9C126.1 80.2 127.1 85.4 127.5 89.7C127.8 94 126.8 97.9 125.5 101.5C124.2 105.1 121.2 108.4 119.6 111.3C118 114.3 117.6 118.5 115.7 119.2C113.7 119.9 111.1 117.2 107.8 115.3C104.5 113.3 99.9 110.7 96 107.4C92.1 104.1 87.5 99.5 84.2 95.6C80.9 91.7 78.3 88.1 76.3 83.8C74.4 79.5 71.7 74.6 72.4 70C73 65.4 76.3 58.5 80.3 56.3Z" fill="#7f8c0f"/><path d="M105.8 3.1C111.4 2 122.9 0.2 127.5 2.2C132 4.1 132 10.2 133.4 14.9C134.7 19.7 135.7 25.8 135.3 30.7C135 35.6 133 39.9 131.4 44.5C129.8 49 127.5 55.3 125.5 58.2C123.5 61.2 121.9 62.8 119.6 62.2C117.3 61.5 115 56.9 111.7 54.3C108.4 51.7 103.2 49.7 99.9 46.4C96.6 43.1 94 38.9 92.1 34.6C90.1 30.4 87.8 25.1 88.1 20.8C88.4 16.6 91.1 12 94 9C97 6.1 100.2 4.3 105.8 3.1Z" fill="#fdb462"/><path d="M158.9 34.6C161.9 32.5 167.8 31.7 172.7 31.7C177.6 31.7 184.8 32.5 188.4 34.6C192 36.7 193 39.9 194.3 44.5C195.6 49 194.7 57.2 196.3 62.2C197.9 67.1 204.2 71 204.2 74C204.2 76.9 199.9 78.2 196.3 79.9C192.7 81.5 186.5 82.5 182.5 83.8C178.6 85.1 176.6 86.4 172.7 87.7C168.8 89 162.9 92 158.9 91.7C155 91.3 151.1 88.7 149.1 85.8C147.1 82.8 146.8 78.5 147.1 74C147.5 69.4 149.8 63.1 151.1 58.2C152.4 53.3 153.7 48.4 155 44.5C156.3 40.5 156 36.7 158.9 34.6Z" fill="#9ed2f7"/><path d="M223.8 31.7C225.5 31 227.1 31.8 229.7 34.6C232.4 37.4 236.6 43.8 239.6 48.4C242.5 53 245.1 57.6 247.4 62.2C249.7 66.7 253 72.6 253.3 75.9C253.7 79.2 251.7 79.9 249.4 81.8C247.1 83.8 243.5 86.4 239.6 87.7C235.6 89 229.4 90.3 225.8 89.7C222.2 89 219.6 87.1 217.9 83.8C216.3 80.5 216.6 74.9 216 70C215.3 65.1 213.3 59.5 214 54.3C214.7 49 218.3 42.3 219.9 38.6C221.5 34.8 222.2 32.3 223.8 31.7Z" fill="#f9b0a0"/><path d="M137.3 103.5C139.1 102.3 143.8 100.8 147.1 100.5C150.4 100.2 154.7 100 157 101.5C159.3 103 161.6 107.2 160.9 109.4C160.2 111.5 156 114.1 153 114.3C150.1 114.4 146 111.5 143.2 110.3C140.4 109.2 137.3 108.5 136.3 107.4C135.3 106.2 135.5 104.6 137.3 103.5Z" fill="#d62020"/><path d="M139.7 70C140.2 68.1 143.3 68.1 144.2 70C145.1 72 144.8 77.9 145.2 81.8C145.5 85.8 146.5 91.7 146.1 93.6C145.8 95.6 143.7 95.6 142.8 93.6C141.9 91.7 141.4 85.8 140.8 81.8C140.3 77.9 139.1 72 139.7 70Z" fill="#d62020" fill-opacity="0.8"/><path d="M285 166l8 4" stroke="#e0186a" stroke-width="2" stroke-linecap="round"/><path d="M296 173l6 5" stroke="#e0186a" stroke-width="1.2" stroke-linecap="round"/><path d="M235 132l7 3" stroke="#d4c81e" stroke-width="3" stroke-linecap="round"/></g><g fill="none" stroke-linecap="round" stroke-width="1.15"><use href="#h_m_a" stroke="#74d76e"/><use href="#w_m_a" stroke="#fff" stroke-opacity="0.9"/><use href="#h_m_b" stroke="#74d76e"/><use href="#w_m_b" stroke="#fff" stroke-opacity="0.9"/><use href="#h_m_c" stroke="#74d76e"/><use href="#w_m_c" stroke="#fff" stroke-opacity="0.9"/><use href="#h_m_d" stroke="#74d76e"/><use href="#w_m_d" stroke="#fff" stroke-opacity="0.9"/><use href="#h_m_e" stroke="#74d76e"/><use href="#w_m_e" stroke="#fff" stroke-opacity="0.9"/><use href="#h_m_f" stroke="#74d76e"/><use href="#w_m_f" stroke="#fff" stroke-opacity="0.9"/><use href="#h_mbcn" stroke="#3fa63f"/><use href="#w_mbcn" stroke="#fff" stroke-opacity="0.9"/><use href="#h_hep" stroke="#f2a6f2"/><use href="#w_hep" stroke="#fff" stroke-opacity="0.9"/><use href="#h_fib" stroke="#cccc16"/><use href="#w_fib" stroke="#fff" stroke-opacity="0.9"/><use href="#h_smc" stroke="#7f8c0f"/><use href="#w_smc" stroke="#fff" stroke-opacity="0.9"/><use href="#h_endo" stroke="#fdb462"/><use href="#w_endo" stroke="#fff" stroke-opacity="0.9"/><use href="#h_mac" stroke="#9ed2f7"/><use href="#w_mac" stroke="#fff" stroke-opacity="0.9"/><use href="#h_T" stroke="#f9b0a0"/><use href="#w_T" stroke="#fff" stroke-opacity="0.9"/><use href="#h_B" stroke="#d62020"/><use href="#w_B" stroke="#fff" stroke-opacity="0.9"/><use href="#h_B2" stroke="#d62020"/><use href="#w_B2" stroke="#fff" stroke-opacity="0.9"/></g><rect x="-0.4" y="-0.6" width="329" height="327" fill="none" stroke="#000" stroke-width="1.6"/><text x="163.5" y="-13.2" font-size="25.5" font-family="'DejaVu Sans','Liberation Sans',sans-serif" text-anchor="middle">De-novo</text></g>
<g transform="translate(413 1824.1)"><g filter="url(#rg2)" opacity="0.55"><path d="M27.1 193.9C28.5 191.6 32.7 188 37 186.1C41.2 184.1 47.5 182.1 52.7 182.1C58 182.1 64.5 184.4 68.5 186.1C72.4 187.7 75.7 189.7 76.3 192C77 194.3 75.7 198.5 72.4 199.8C69.1 201.2 62.2 199.5 56.6 199.8C51.1 200.2 43.5 201.8 38.9 201.8C34.4 201.8 31.1 201.2 29.1 199.8C27.1 198.5 25.8 196.2 27.1 193.9Z" fill="#74d76e"/><path d="M74.4 174.3C76.3 170.7 82.5 171.3 88.1 170.3C93.7 169.4 101.2 168.4 107.8 168.4C114.3 168.4 122.5 168 127.5 170.3C132.4 172.6 135.7 178.5 137.3 182.1C138.9 185.7 138.9 188.4 137.3 192C135.7 195.6 130.4 200.2 127.5 203.8C124.5 207.4 121.6 210.3 119.6 213.6C117.6 216.9 117.6 222.5 115.7 223.4C113.7 224.4 109.4 221.8 107.8 219.5C106.2 217.2 107.8 211.6 105.8 209.7C103.9 207.7 98.9 206.4 96 207.7C93 209 91.1 215.9 88.1 217.5C85.2 219.2 79.6 219.8 78.3 217.5C77 215.3 80.6 208 80.3 203.8C79.9 199.5 77.3 196.9 76.3 192C75.3 187.1 72.4 177.9 74.4 174.3Z" fill="#74d76e"/><path d="M125.5 213.6C127.5 211.3 132.9 208.7 135.3 209.7C137.8 210.7 139.9 216.2 140.2 219.5C140.6 222.8 139.1 227.4 137.3 229.3C135.5 231.3 131.7 232.3 129.4 231.3C127.1 230.3 124.2 226.4 123.5 223.4C122.9 220.5 123.5 215.9 125.5 213.6Z" fill="#74d76e"/><path d="M153 192C155 188.7 162.2 187.7 166.8 188C171.4 188.4 177.3 191 180.6 193.9C183.8 196.9 185.8 202.1 186.5 205.7C187.1 209.3 186.5 212.6 184.5 215.6C182.5 218.5 177 220.2 174.7 223.4C172.4 226.7 172.4 232.3 170.7 235.2C169.1 238.2 167.5 240.5 164.8 241.1C162.2 241.8 157.6 240.8 155 239.2C152.4 237.5 149.4 234.6 149.1 231.3C148.8 228 152 223.4 153 219.5C154 215.6 155 212.3 155 207.7C155 203.1 151.1 195.3 153 192Z" fill="#74d76e"/><path d="M60.6 237.2C63.9 233.9 72.1 232 78.3 231.3C84.5 230.7 92.4 231.6 98 233.3C103.5 234.9 108.4 237.9 111.7 241.1C115 244.4 117 249 117.6 253C118.3 256.9 117.3 261.5 115.7 264.8C114 268 111.7 271 107.8 272.6C103.9 274.3 97.6 274.6 92.1 274.6C86.5 274.6 78.9 274.6 74.4 272.6C69.8 270.7 67.1 266.4 64.5 262.8C61.9 259.2 59.3 255.2 58.6 251C58 246.7 57.3 240.5 60.6 237.2Z" fill="#74d76e"/><path d="M123.5 278.5C126.8 275.2 132.7 275.6 137.3 274.6C141.9 273.6 146.1 274.3 151.1 272.6C156 271 162.5 265.7 166.8 264.8C171.1 263.8 174.3 265.1 176.6 266.7C178.9 268.4 180.6 271.3 180.6 274.6C180.6 277.9 178.9 282.8 176.6 286.4C174.3 290 169.7 292.3 166.8 296.2C163.8 300.2 161.6 305.7 158.9 310C156.3 314.3 154.3 319.2 151.1 321.8C147.8 324.4 143.2 325.7 139.3 325.7C135.3 325.7 130.7 324.4 127.5 321.8C124.2 319.2 121.2 314.6 119.6 310C118 305.4 117 299.5 117.6 294.3C118.3 289 120.2 281.8 123.5 278.5Z" fill="#74d76e"/><path d="M168.8 123.1C172.4 119.9 180.2 115.3 186.5 113.3C192.7 111.3 200.9 110.3 206.1 111.3C211.4 112.3 215 115.6 217.9 119.2C220.9 122.8 221.2 132.3 223.8 133C226.5 133.6 231.4 122.5 233.7 123.1C236 123.8 237.6 133.3 237.6 136.9C237.6 140.5 233.3 141.8 233.7 144.8C234 147.7 239.2 150.3 239.6 154.6C239.9 158.9 237.9 168.7 235.6 170.3C233.3 172 229.1 164.1 225.8 164.4C222.5 164.8 217.9 168.4 216 172.3C214 176.2 215.6 184.1 214 188C212.4 192 209.1 195.9 206.1 195.9C203.2 195.9 199.6 192 196.3 188C193 184.1 190.1 177.2 186.5 172.3C182.9 167.4 177.9 162.8 174.7 158.5C171.4 154.3 168.4 151 166.8 146.7C165.2 142.5 164.5 136.9 164.8 133C165.2 129 165.2 126.4 168.8 123.1Z" fill="#3fa63f"/><path d="M119.6 129C124.8 127.1 135 124.4 139.3 125.1C143.5 125.8 144 129 145.2 133C146.3 136.9 147.5 145.1 146.1 148.7C144.8 152.3 141.1 153.3 137.3 154.6C133.5 155.9 128.4 156.9 123.5 156.6C118.6 156.2 111.7 154.3 107.8 152.6C103.9 151 99.9 149.4 99.9 146.7C99.9 144.1 104.5 139.9 107.8 136.9C111.1 133.9 114.3 131 119.6 129Z" fill="#f0a8ee"/><path d="M35 72C37 69 40.9 68.4 44.8 66.1C48.8 63.8 53.7 59.9 58.6 58.2C63.5 56.6 70.4 54.9 74.4 56.3C78.3 57.6 79.3 59.9 82.2 66.1C85.2 72.3 87.8 85.8 92.1 93.6C96.3 101.5 107.1 108.1 107.8 113.3C108.4 118.5 99.3 121.8 96 125.1C92.7 128.4 91.4 132 88.1 133C84.8 133.9 81.2 132.6 76.3 131C71.4 129.4 63.9 126.1 58.6 123.1C53.4 120.2 48.8 117.2 44.8 113.3C40.9 109.4 37 104.4 35 99.5C33 94.6 33 88.4 33 83.8C33 79.2 33 74.9 35 72Z" fill="#c0c21c"/><path d="M80.3 56.3C84.2 54 90.7 54.9 96 56.3C101.2 57.6 107.1 60.8 111.7 64.1C116.3 67.4 120.9 71.7 123.5 75.9C126.1 80.2 127.1 85.4 127.5 89.7C127.8 94 126.8 97.9 125.5 101.5C124.2 105.1 121.2 108.4 119.6 111.3C118 114.3 117.6 118.5 115.7 119.2C113.7 119.9 111.1 117.2 107.8 115.3C104.5 113.3 99.9 110.7 96 107.4C92.1 104.1 87.5 99.5 84.2 95.6C80.9 91.7 78.3 88.1 76.3 83.8C74.4 79.5 71.7 74.6 72.4 70C73 65.4 76.3 58.5 80.3 56.3Z" fill="#98a016"/><path d="M105.8 3.1C111.4 2 122.9 0.2 127.5 2.2C132 4.1 132 10.2 133.4 14.9C134.7 19.7 135.7 25.8 135.3 30.7C135 35.6 133 39.9 131.4 44.5C129.8 49 127.5 55.3 125.5 58.2C123.5 61.2 121.9 62.8 119.6 62.2C117.3 61.5 115 56.9 111.7 54.3C108.4 51.7 103.2 49.7 99.9 46.4C96.6 43.1 94 38.9 92.1 34.6C90.1 30.4 87.8 25.1 88.1 20.8C88.4 16.6 91.1 12 94 9C97 6.1 100.2 4.3 105.8 3.1Z" fill="#dc8a3c"/><path d="M158.9 34.6C161.9 32.5 167.8 31.7 172.7 31.7C177.6 31.7 184.8 32.5 188.4 34.6C192 36.7 193 39.9 194.3 44.5C195.6 49 194.7 57.2 196.3 62.2C197.9 67.1 204.2 71 204.2 74C204.2 76.9 199.9 78.2 196.3 79.9C192.7 81.5 186.5 82.5 182.5 83.8C178.6 85.1 176.6 86.4 172.7 87.7C168.8 89 162.9 92 158.9 91.7C155 91.3 151.1 88.7 149.1 85.8C147.1 82.8 146.8 78.5 147.1 74C147.5 69.4 149.8 63.1 151.1 58.2C152.4 53.3 153.7 48.4 155 44.5C156.3 40.5 156 36.7 158.9 34.6Z" fill="#a4d0f2"/><path d="M223.8 31.7C225.5 31 227.1 31.8 229.7 34.6C232.4 37.4 236.6 43.8 239.6 48.4C242.5 53 245.1 57.6 247.4 62.2C249.7 66.7 253 72.6 253.3 75.9C253.7 79.2 251.7 79.9 249.4 81.8C247.1 83.8 243.5 86.4 239.6 87.7C235.6 89 229.4 90.3 225.8 89.7C222.2 89 219.6 87.1 217.9 83.8C216.3 80.5 216.6 74.9 216 70C215.3 65.1 213.3 59.5 214 54.3C214.7 49 218.3 42.3 219.9 38.6C221.5 34.8 222.2 32.3 223.8 31.7Z" fill="#e6a496"/></g><g filter="url(#rg)"><path d="M27.1 193.9C28.5 191.6 32.7 188 37 186.1C41.2 184.1 47.5 182.1 52.7 182.1C58 182.1 64.5 184.4 68.5 186.1C72.4 187.7 75.7 189.7 76.3 192C77 194.3 75.7 198.5 72.4 199.8C69.1 201.2 62.2 199.5 56.6 199.8C51.1 200.2 43.5 201.8 38.9 201.8C34.4 201.8 31.1 201.2 29.1 199.8C27.1 198.5 25.8 196.2 27.1 193.9Z" fill="#74d76e"/><path d="M74.4 174.3C76.3 170.7 82.5 171.3 88.1 170.3C93.7 169.4 101.2 168.4 107.8 168.4C114.3 168.4 122.5 168 127.5 170.3C132.4 172.6 135.7 178.5 137.3 182.1C138.9 185.7 138.9 188.4 137.3 192C135.7 195.6 130.4 200.2 127.5 203.8C124.5 207.4 121.6 210.3 119.6 213.6C117.6 216.9 117.6 222.5 115.7 223.4C113.7 224.4 109.4 221.8 107.8 219.5C106.2 217.2 107.8 211.6 105.8 209.7C103.9 207.7 98.9 206.4 96 207.7C93 209 91.1 215.9 88.1 217.5C85.2 219.2 79.6 219.8 78.3 217.5C77 215.3 80.6 208 80.3 203.8C79.9 199.5 77.3 196.9 76.3 192C75.3 187.1 72.4 177.9 74.4 174.3Z" fill="#74d76e"/><path d="M125.5 213.6C127.5 211.3 132.9 208.7 135.3 209.7C137.8 210.7 139.9 216.2 140.2 219.5C140.6 222.8 139.1 227.4 137.3 229.3C135.5 231.3 131.7 232.3 129.4 231.3C127.1 230.3 124.2 226.4 123.5 223.4C122.9 220.5 123.5 215.9 125.5 213.6Z" fill="#74d76e"/><path d="M153 192C155 188.7 162.2 187.7 166.8 188C171.4 188.4 177.3 191 180.6 193.9C183.8 196.9 185.8 202.1 186.5 205.7C187.1 209.3 186.5 212.6 184.5 215.6C182.5 218.5 177 220.2 174.7 223.4C172.4 226.7 172.4 232.3 170.7 235.2C169.1 238.2 167.5 240.5 164.8 241.1C162.2 241.8 157.6 240.8 155 239.2C152.4 237.5 149.4 234.6 149.1 231.3C148.8 228 152 223.4 153 219.5C154 215.6 155 212.3 155 207.7C155 203.1 151.1 195.3 153 192Z" fill="#74d76e"/><path d="M60.6 237.2C63.9 233.9 72.1 232 78.3 231.3C84.5 230.7 92.4 231.6 98 233.3C103.5 234.9 108.4 237.9 111.7 241.1C115 244.4 117 249 117.6 253C118.3 256.9 117.3 261.5 115.7 264.8C114 268 111.7 271 107.8 272.6C103.9 274.3 97.6 274.6 92.1 274.6C86.5 274.6 78.9 274.6 74.4 272.6C69.8 270.7 67.1 266.4 64.5 262.8C61.9 259.2 59.3 255.2 58.6 251C58 246.7 57.3 240.5 60.6 237.2Z" fill="#74d76e"/><path d="M123.5 278.5C126.8 275.2 132.7 275.6 137.3 274.6C141.9 273.6 146.1 274.3 151.1 272.6C156 271 162.5 265.7 166.8 264.8C171.1 263.8 174.3 265.1 176.6 266.7C178.9 268.4 180.6 271.3 180.6 274.6C180.6 277.9 178.9 282.8 176.6 286.4C174.3 290 169.7 292.3 166.8 296.2C163.8 300.2 161.6 305.7 158.9 310C156.3 314.3 154.3 319.2 151.1 321.8C147.8 324.4 143.2 325.7 139.3 325.7C135.3 325.7 130.7 324.4 127.5 321.8C124.2 319.2 121.2 314.6 119.6 310C118 305.4 117 299.5 117.6 294.3C118.3 289 120.2 281.8 123.5 278.5Z" fill="#74d76e"/><path d="M168.8 123.1C172.4 119.9 180.2 115.3 186.5 113.3C192.7 111.3 200.9 110.3 206.1 111.3C211.4 112.3 215 115.6 217.9 119.2C220.9 122.8 221.2 132.3 223.8 133C226.5 133.6 231.4 122.5 233.7 123.1C236 123.8 237.6 133.3 237.6 136.9C237.6 140.5 233.3 141.8 233.7 144.8C234 147.7 239.2 150.3 239.6 154.6C239.9 158.9 237.9 168.7 235.6 170.3C233.3 172 229.1 164.1 225.8 164.4C222.5 164.8 217.9 168.4 216 172.3C214 176.2 215.6 184.1 214 188C212.4 192 209.1 195.9 206.1 195.9C203.2 195.9 199.6 192 196.3 188C193 184.1 190.1 177.2 186.5 172.3C182.9 167.4 177.9 162.8 174.7 158.5C171.4 154.3 168.4 151 166.8 146.7C165.2 142.5 164.5 136.9 164.8 133C165.2 129 165.2 126.4 168.8 123.1Z" fill="#3fa63f"/><path d="M119.6 129C124.8 127.1 135 124.4 139.3 125.1C143.5 125.8 144 129 145.2 133C146.3 136.9 147.5 145.1 146.1 148.7C144.8 152.3 141.1 153.3 137.3 154.6C133.5 155.9 128.4 156.9 123.5 156.6C118.6 156.2 111.7 154.3 107.8 152.6C103.9 151 99.9 149.4 99.9 146.7C99.9 144.1 104.5 139.9 107.8 136.9C111.1 133.9 114.3 131 119.6 129Z" fill="#f0a8ee"/><path d="M105.8 3.1C111.4 2 122.9 0.2 127.5 2.2C132 4.1 132 10.2 133.4 14.9C134.7 19.7 135.7 25.8 135.3 30.7C135 35.6 133 39.9 131.4 44.5C129.8 49 127.5 55.3 125.5 58.2C123.5 61.2 121.9 62.8 119.6 62.2C117.3 61.5 115 56.9 111.7 54.3C108.4 51.7 103.2 49.7 99.9 46.4C96.6 43.1 94 38.9 92.1 34.6C90.1 30.4 87.8 25.1 88.1 20.8C88.4 16.6 91.1 12 94 9C97 6.1 100.2 4.3 105.8 3.1Z" fill="#dc8a3c"/><path d="M158.9 34.6C161.9 32.5 167.8 31.7 172.7 31.7C177.6 31.7 184.8 32.5 188.4 34.6C192 36.7 193 39.9 194.3 44.5C195.6 49 194.7 57.2 196.3 62.2C197.9 67.1 204.2 71 204.2 74C204.2 76.9 199.9 78.2 196.3 79.9C192.7 81.5 186.5 82.5 182.5 83.8C178.6 85.1 176.6 86.4 172.7 87.7C168.8 89 162.9 92 158.9 91.7C155 91.3 151.1 88.7 149.1 85.8C147.1 82.8 146.8 78.5 147.1 74C147.5 69.4 149.8 63.1 151.1 58.2C152.4 53.3 153.7 48.4 155 44.5C156.3 40.5 156 36.7 158.9 34.6Z" fill="#a4d0f2"/><path d="M223.8 31.7C225.5 31 227.1 31.8 229.7 34.6C232.4 37.4 236.6 43.8 239.6 48.4C242.5 53 245.1 57.6 247.4 62.2C249.7 66.7 253 72.6 253.3 75.9C253.7 79.2 251.7 79.9 249.4 81.8C247.1 83.8 243.5 86.4 239.6 87.7C235.6 89 229.4 90.3 225.8 89.7C222.2 89 219.6 87.1 217.9 83.8C216.3 80.5 216.6 74.9 216 70C215.3 65.1 213.3 59.5 214 54.3C214.7 49 218.3 42.3 219.9 38.6C221.5 34.8 222.2 32.3 223.8 31.7Z" fill="#e6a496" fill-opacity="0.8"/><path d="M285 166l5 3M296 173l6 5" stroke="#3fa63f" stroke-width="1" stroke-linecap="round" opacity="0.8"/><path d="M137.3 103.5C139.1 102.3 143.8 100.8 147.1 100.5C150.4 100.2 154.7 100 157 101.5C159.3 103 161.6 107.2 160.9 109.4C160.2 111.5 156 114.1 153 114.3C150.1 114.4 146 111.5 143.2 110.3C140.4 109.2 137.3 108.5 136.3 107.4C135.3 106.2 135.5 104.6 137.3 103.5Z" fill="#d6d89a" fill-opacity="0.75"/></g><g filter="url(#rg)"><g clip-path="url(#cp_fs)"><path d="M35 72C37 69 40.9 68.4 44.8 66.1C48.8 63.8 53.7 59.9 58.6 58.2C63.5 56.6 70.4 54.9 74.4 56.3C78.3 57.6 79.3 59.9 82.2 66.1C85.2 72.3 87.8 85.8 92.1 93.6C96.3 101.5 107.1 108.1 107.8 113.3C108.4 118.5 99.3 121.8 96 125.1C92.7 128.4 91.4 132 88.1 133C84.8 133.9 81.2 132.6 76.3 131C71.4 129.4 63.9 126.1 58.6 123.1C53.4 120.2 48.8 117.2 44.8 113.3C40.9 109.4 37 104.4 35 99.5C33 94.6 33 88.4 33 83.8C33 79.2 33 74.9 35 72Z" fill="#c0c21c"/><path d="M80.3 56.3C84.2 54 90.7 54.9 96 56.3C101.2 57.6 107.1 60.8 111.7 64.1C116.3 67.4 120.9 71.7 123.5 75.9C126.1 80.2 127.1 85.4 127.5 89.7C127.8 94 126.8 97.9 125.5 101.5C124.2 105.1 121.2 108.4 119.6 111.3C118 114.3 117.6 118.5 115.7 119.2C113.7 119.9 111.1 117.2 107.8 115.3C104.5 113.3 99.9 110.7 96 107.4C92.1 104.1 87.5 99.5 84.2 95.6C80.9 91.7 78.3 88.1 76.3 83.8C74.4 79.5 71.7 74.6 72.4 70C73 65.4 76.3 58.5 80.3 56.3Z" fill="#98a016"/><g filter="url(#bl)"><path d="M35 72C37 69 40.9 68.4 44.8 66.1C48.8 63.8 53.7 59.9 58.6 58.2C63.5 56.6 70.4 54.9 74.4 56.3C78.3 57.6 79.3 59.9 82.2 66.1C85.2 72.3 87.8 85.8 92.1 93.6C96.3 101.5 107.1 108.1 107.8 113.3C108.4 118.5 99.3 121.8 96 125.1C92.7 128.4 91.4 132 88.1 133C84.8 133.9 81.2 132.6 76.3 131C71.4 129.4 63.9 126.1 58.6 123.1C53.4 120.2 48.8 117.2 44.8 113.3C40.9 109.4 37 104.4 35 99.5C33 94.6 33 88.4 33 83.8C33 79.2 33 74.9 35 72Z" fill="#c0c21c"/><path d="M80.3 56.3C84.2 54 90.7 54.9 96 56.3C101.2 57.6 107.1 60.8 111.7 64.1C116.3 67.4 120.9 71.7 123.5 75.9C126.1 80.2 127.1 85.4 127.5 89.7C127.8 94 126.8 97.9 125.5 101.5C124.2 105.1 121.2 108.4 119.6 111.3C118 114.3 117.6 118.5 115.7 119.2C113.7 119.9 111.1 117.2 107.8 115.3C104.5 113.3 99.9 110.7 96 107.4C92.1 104.1 87.5 99.5 84.2 95.6C80.9 91.7 78.3 88.1 76.3 83.8C74.4 79.5 71.7 74.6 72.4 70C73 65.4 76.3 58.5 80.3 56.3Z" fill="#98a016"/></g></g></g><g filter="url(#rg)"><g clip-path="url(#cp_m_f)"><ellipse cx="166.8" cy="280.5" rx="30" ry="26" fill="#167016" filter="url(#bl)" transform="rotate(-35 166.8 280.5)"/></g></g><g filter="url(#rg)"><g clip-path="url(#cp_mac)"><ellipse cx="163.8" cy="35.6" rx="11" ry="7" fill="#3e85c0" filter="url(#bl)" opacity="0.9"/></g></g><g filter="url(#rg)"><g clip-path="url(#cp_T)"><ellipse cx="224.8" cy="40.5" rx="9" ry="16" fill="#a02824" filter="url(#bl)" opacity="0.85"/></g></g><g fill="none" stroke-linecap="round" stroke-width="1.15"><use href="#h_m_a" stroke="#74d76e"/><use href="#w_m_a" stroke="#fff" stroke-opacity="0.9"/><use href="#h_m_b" stroke="#74d76e"/><use href="#w_m_b" stroke="#fff" stroke-opacity="0.9"/><use href="#h_m_c" stroke="#74d76e"/><use href="#w_m_c" stroke="#fff" stroke-opacity="0.9"/><use href="#h_m_d" stroke="#74d76e"/><use href="#w_m_d" stroke="#fff" stroke-opacity="0.9"/><use href="#h_m_e" stroke="#74d76e"/><use href="#w_m_e" stroke="#fff" stroke-opacity="0.9"/><use href="#h_m_f" stroke="#74d76e"/><use href="#w_m_f" stroke="#fff" stroke-opacity="0.9"/><use href="#h_mbcn" stroke="#3fa63f"/><use href="#w_mbcn" stroke="#fff" stroke-opacity="0.9"/><use href="#h_hep" stroke="#f0a8ee"/><use href="#w_hep" stroke="#fff" stroke-opacity="0.9"/><use href="#h_fib" stroke="#c0c21c"/><use href="#w_fib" stroke="#fff" stroke-opacity="0.9"/><use href="#h_smc" stroke="#98a016"/><use href="#w_smc" stroke="#fff" stroke-opacity="0.9"/><use href="#h_endo" stroke="#dc8a3c"/><use href="#w_endo" stroke="#fff" stroke-opacity="0.9"/><use href="#h_mac" stroke="#a4d0f2"/><use href="#w_mac" stroke="#fff" stroke-opacity="0.9"/><use href="#h_T" stroke="#e6a496"/><use href="#w_T" stroke="#fff" stroke-opacity="0.9"/><use href="#h_B" stroke="#d6d89a"/><use href="#w_B" stroke="#fff" stroke-opacity="0.9"/><use href="#T_w" stroke="#fff" stroke-width="1.5"/><use href="#T_nk" stroke="#a8302a" stroke-width="1.4"/><use href="#endo_d" stroke="#c86a20" stroke-width="1.3"/><use href="#mac_w" stroke="#fff" stroke-width="1.2"/></g><rect x="-0.4" y="-0.6" width="329" height="327" fill="none" stroke="#000" stroke-width="1.6"/><text x="163.5" y="-13.2" font-size="25.5" font-family="'DejaVu Sans','Liberation Sans',sans-serif" text-anchor="middle">RCTD</text></g>
<g transform="translate(763.2 1824.1)"><g filter="url(#rg2)" opacity="0.55"><path d="M27.1 193.9C28.5 191.6 32.7 188 37 186.1C41.2 184.1 47.5 182.1 52.7 182.1C58 182.1 64.5 184.4 68.5 186.1C72.4 187.7 75.7 189.7 76.3 192C77 194.3 75.7 198.5 72.4 199.8C69.1 201.2 62.2 199.5 56.6 199.8C51.1 200.2 43.5 201.8 38.9 201.8C34.4 201.8 31.1 201.2 29.1 199.8C27.1 198.5 25.8 196.2 27.1 193.9Z" fill="#74d76e"/><path d="M74.4 174.3C76.3 170.7 82.5 171.3 88.1 170.3C93.7 169.4 101.2 168.4 107.8 168.4C114.3 168.4 122.5 168 127.5 170.3C132.4 172.6 135.7 178.5 137.3 182.1C138.9 185.7 138.9 188.4 137.3 192C135.7 195.6 130.4 200.2 127.5 203.8C124.5 207.4 121.6 210.3 119.6 213.6C117.6 216.9 117.6 222.5 115.7 223.4C113.7 224.4 109.4 221.8 107.8 219.5C106.2 217.2 107.8 211.6 105.8 209.7C103.9 207.7 98.9 206.4 96 207.7C93 209 91.1 215.9 88.1 217.5C85.2 219.2 79.6 219.8 78.3 217.5C77 215.3 80.6 208 80.3 203.8C79.9 199.5 77.3 196.9 76.3 192C75.3 187.1 72.4 177.9 74.4 174.3Z" fill="#74d76e"/><path d="M125.5 213.6C127.5 211.3 132.9 208.7 135.3 209.7C137.8 210.7 139.9 216.2 140.2 219.5C140.6 222.8 139.1 227.4 137.3 229.3C135.5 231.3 131.7 232.3 129.4 231.3C127.1 230.3 124.2 226.4 123.5 223.4C122.9 220.5 123.5 215.9 125.5 213.6Z" fill="#74d76e"/><path d="M153 192C155 188.7 162.2 187.7 166.8 188C171.4 188.4 177.3 191 180.6 193.9C183.8 196.9 185.8 202.1 186.5 205.7C187.1 209.3 186.5 212.6 184.5 215.6C182.5 218.5 177 220.2 174.7 223.4C172.4 226.7 172.4 232.3 170.7 235.2C169.1 238.2 167.5 240.5 164.8 241.1C162.2 241.8 157.6 240.8 155 239.2C152.4 237.5 149.4 234.6 149.1 231.3C148.8 228 152 223.4 153 219.5C154 215.6 155 212.3 155 207.7C155 203.1 151.1 195.3 153 192Z" fill="#74d76e"/><path d="M60.6 237.2C63.9 233.9 72.1 232 78.3 231.3C84.5 230.7 92.4 231.6 98 233.3C103.5 234.9 108.4 237.9 111.7 241.1C115 244.4 117 249 117.6 253C118.3 256.9 117.3 261.5 115.7 264.8C114 268 111.7 271 107.8 272.6C103.9 274.3 97.6 274.6 92.1 274.6C86.5 274.6 78.9 274.6 74.4 272.6C69.8 270.7 67.1 266.4 64.5 262.8C61.9 259.2 59.3 255.2 58.6 251C58 246.7 57.3 240.5 60.6 237.2Z" fill="#74d76e"/><path d="M123.5 278.5C126.8 275.2 132.7 275.6 137.3 274.6C141.9 273.6 146.1 274.3 151.1 272.6C156 271 162.5 265.7 166.8 264.8C171.1 263.8 174.3 265.1 176.6 266.7C178.9 268.4 180.6 271.3 180.6 274.6C180.6 277.9 178.9 282.8 176.6 286.4C174.3 290 169.7 292.3 166.8 296.2C163.8 300.2 161.6 305.7 158.9 310C156.3 314.3 154.3 319.2 151.1 321.8C147.8 324.4 143.2 325.7 139.3 325.7C135.3 325.7 130.7 324.4 127.5 321.8C124.2 319.2 121.2 314.6 119.6 310C118 305.4 117 299.5 117.6 294.3C118.3 289 120.2 281.8 123.5 278.5Z" fill="#74d76e"/><path d="M168.8 123.1C172.4 119.9 180.2 115.3 186.5 113.3C192.7 111.3 200.9 110.3 206.1 111.3C211.4 112.3 215 115.6 217.9 119.2C220.9 122.8 221.2 132.3 223.8 133C226.5 133.6 231.4 122.5 233.7 123.1C236 123.8 237.6 133.3 237.6 136.9C237.6 140.5 233.3 141.8 233.7 144.8C234 147.7 239.2 150.3 239.6 154.6C239.9 158.9 237.9 168.7 235.6 170.3C233.3 172 229.1 164.1 225.8 164.4C222.5 164.8 217.9 168.4 216 172.3C214 176.2 215.6 184.1 214 188C212.4 192 209.1 195.9 206.1 195.9C203.2 195.9 199.6 192 196.3 188C193 184.1 190.1 177.2 186.5 172.3C182.9 167.4 177.9 162.8 174.7 158.5C171.4 154.3 168.4 151 166.8 146.7C165.2 142.5 164.5 136.9 164.8 133C165.2 129 165.2 126.4 168.8 123.1Z" fill="#4aa444"/><path d="M119.6 129C124.8 127.1 135 124.4 139.3 125.1C143.5 125.8 144 129 145.2 133C146.3 136.9 147.5 145.1 146.1 148.7C144.8 152.3 141.1 153.3 137.3 154.6C133.5 155.9 128.4 156.9 123.5 156.6C118.6 156.2 111.7 154.3 107.8 152.6C103.9 151 99.9 149.4 99.9 146.7C99.9 144.1 104.5 139.9 107.8 136.9C111.1 133.9 114.3 131 119.6 129Z" fill="#e8c4dc"/><path d="M35 72C37 69 40.9 68.4 44.8 66.1C48.8 63.8 53.7 59.9 58.6 58.2C63.5 56.6 70.4 54.9 74.4 56.3C78.3 57.6 79.3 59.9 82.2 66.1C85.2 72.3 87.8 85.8 92.1 93.6C96.3 101.5 107.1 108.1 107.8 113.3C108.4 118.5 99.3 121.8 96 125.1C92.7 128.4 91.4 132 88.1 133C84.8 133.9 81.2 132.6 76.3 131C71.4 129.4 63.9 126.1 58.6 123.1C53.4 120.2 48.8 117.2 44.8 113.3C40.9 109.4 37 104.4 35 99.5C33 94.6 33 88.4 33 83.8C33 79.2 33 74.9 35 72Z" fill="#c6c21a"/><path d="M80.3 56.3C84.2 54 90.7 54.9 96 56.3C101.2 57.6 107.1 60.8 111.7 64.1C116.3 67.4 120.9 71.7 123.5 75.9C126.1 80.2 127.1 85.4 127.5 89.7C127.8 94 126.8 97.9 125.5 101.5C124.2 105.1 121.2 108.4 119.6 111.3C118 114.3 117.6 118.5 115.7 119.2C113.7 119.9 111.1 117.2 107.8 115.3C104.5 113.3 99.9 110.7 96 107.4C92.1 104.1 87.5 99.5 84.2 95.6C80.9 91.7 78.3 88.1 76.3 83.8C74.4 79.5 71.7 74.6 72.4 70C73 65.4 76.3 58.5 80.3 56.3Z" fill="#aa9c18"/><path d="M105.8 3.1C111.4 2 122.9 0.2 127.5 2.2C132 4.1 132 10.2 133.4 14.9C134.7 19.7 135.7 25.8 135.3 30.7C135 35.6 133 39.9 131.4 44.5C129.8 49 127.5 55.3 125.5 58.2C123.5 61.2 121.9 62.8 119.6 62.2C117.3 61.5 115 56.9 111.7 54.3C108.4 51.7 103.2 49.7 99.9 46.4C96.6 43.1 94 38.9 92.1 34.6C90.1 30.4 87.8 25.1 88.1 20.8C88.4 16.6 91.1 12 94 9C97 6.1 100.2 4.3 105.8 3.1Z" fill="#de8028"/><path d="M158.9 34.6C161.9 32.5 167.8 31.7 172.7 31.7C177.6 31.7 184.8 32.5 188.4 34.6C192 36.7 193 39.9 194.3 44.5C195.6 49 194.7 57.2 196.3 62.2C197.9 67.1 204.2 71 204.2 74C204.2 76.9 199.9 78.2 196.3 79.9C192.7 81.5 186.5 82.5 182.5 83.8C178.6 85.1 176.6 86.4 172.7 87.7C168.8 89 162.9 92 158.9 91.7C155 91.3 151.1 88.7 149.1 85.8C147.1 82.8 146.8 78.5 147.1 74C147.5 69.4 149.8 63.1 151.1 58.2C152.4 53.3 153.7 48.4 155 44.5C156.3 40.5 156 36.7 158.9 34.6Z" fill="#a0cdf0"/><path d="M223.8 31.7C225.5 31 227.1 31.8 229.7 34.6C232.4 37.4 236.6 43.8 239.6 48.4C242.5 53 245.1 57.6 247.4 62.2C249.7 66.7 253 72.6 253.3 75.9C253.7 79.2 251.7 79.9 249.4 81.8C247.1 83.8 243.5 86.4 239.6 87.7C235.6 89 229.4 90.3 225.8 89.7C222.2 89 219.6 87.1 217.9 83.8C216.3 80.5 216.6 74.9 216 70C215.3 65.1 213.3 59.5 214 54.3C214.7 49 218.3 42.3 219.9 38.6C221.5 34.8 222.2 32.3 223.8 31.7Z" fill="#e8aa9c"/></g><g filter="url(#rg)"><path d="M27.1 193.9C28.5 191.6 32.7 188 37 186.1C41.2 184.1 47.5 182.1 52.7 182.1C58 182.1 64.5 184.4 68.5 186.1C72.4 187.7 75.7 189.7 76.3 192C77 194.3 75.7 198.5 72.4 199.8C69.1 201.2 62.2 199.5 56.6 199.8C51.1 200.2 43.5 201.8 38.9 201.8C34.4 201.8 31.1 201.2 29.1 199.8C27.1 198.5 25.8 196.2 27.1 193.9Z" fill="#74d76e"/><path d="M74.4 174.3C76.3 170.7 82.5 171.3 88.1 170.3C93.7 169.4 101.2 168.4 107.8 168.4C114.3 168.4 122.5 168 127.5 170.3C132.4 172.6 135.7 178.5 137.3 182.1C138.9 185.7 138.9 188.4 137.3 192C135.7 195.6 130.4 200.2 127.5 203.8C124.5 207.4 121.6 210.3 119.6 213.6C117.6 216.9 117.6 222.5 115.7 223.4C113.7 224.4 109.4 221.8 107.8 219.5C106.2 217.2 107.8 211.6 105.8 209.7C103.9 207.7 98.9 206.4 96 207.7C93 209 91.1 215.9 88.1 217.5C85.2 219.2 79.6 219.8 78.3 217.5C77 215.3 80.6 208 80.3 203.8C79.9 199.5 77.3 196.9 76.3 192C75.3 187.1 72.4 177.9 74.4 174.3Z" fill="#74d76e"/><path d="M125.5 213.6C127.5 211.3 132.9 208.7 135.3 209.7C137.8 210.7 139.9 216.2 140.2 219.5C140.6 222.8 139.1 227.4 137.3 229.3C135.5 231.3 131.7 232.3 129.4 231.3C127.1 230.3 124.2 226.4 123.5 223.4C122.9 220.5 123.5 215.9 125.5 213.6Z" fill="#74d76e"/><path d="M153 192C155 188.7 162.2 187.7 166.8 188C171.4 188.4 177.3 191 180.6 193.9C183.8 196.9 185.8 202.1 186.5 205.7C187.1 209.3 186.5 212.6 184.5 215.6C182.5 218.5 177 220.2 174.7 223.4C172.4 226.7 172.4 232.3 170.7 235.2C169.1 238.2 167.5 240.5 164.8 241.1C162.2 241.8 157.6 240.8 155 239.2C152.4 237.5 149.4 234.6 149.1 231.3C148.8 228 152 223.4 153 219.5C154 215.6 155 212.3 155 207.7C155 203.1 151.1 195.3 153 192Z" fill="#74d76e"/><path d="M60.6 237.2C63.9 233.9 72.1 232 78.3 231.3C84.5 230.7 92.4 231.6 98 233.3C103.5 234.9 108.4 237.9 111.7 241.1C115 244.4 117 249 117.6 253C118.3 256.9 117.3 261.5 115.7 264.8C114 268 111.7 271 107.8 272.6C103.9 274.3 97.6 274.6 92.1 274.6C86.5 274.6 78.9 274.6 74.4 272.6C69.8 270.7 67.1 266.4 64.5 262.8C61.9 259.2 59.3 255.2 58.6 251C58 246.7 57.3 240.5 60.6 237.2Z" fill="#74d76e"/><path d="M123.5 278.5C126.8 275.2 132.7 275.6 137.3 274.6C141.9 273.6 146.1 274.3 151.1 272.6C156 271 162.5 265.7 166.8 264.8C171.1 263.8 174.3 265.1 176.6 266.7C178.9 268.4 180.6 271.3 180.6 274.6C180.6 277.9 178.9 282.8 176.6 286.4C174.3 290 169.7 292.3 166.8 296.2C163.8 300.2 161.6 305.7 158.9 310C156.3 314.3 154.3 319.2 151.1 321.8C147.8 324.4 143.2 325.7 139.3 325.7C135.3 325.7 130.7 324.4 127.5 321.8C124.2 319.2 121.2 314.6 119.6 310C118 305.4 117 299.5 117.6 294.3C118.3 289 120.2 281.8 123.5 278.5Z" fill="#74d76e"/><path d="M168.8 123.1C172.4 119.9 180.2 115.3 186.5 113.3C192.7 111.3 200.9 110.3 206.1 111.3C211.4 112.3 215 115.6 217.9 119.2C220.9 122.8 221.2 132.3 223.8 133C226.5 133.6 231.4 122.5 233.7 123.1C236 123.8 237.6 133.3 237.6 136.9C237.6 140.5 233.3 141.8 233.7 144.8C234 147.7 239.2 150.3 239.6 154.6C239.9 158.9 237.9 168.7 235.6 170.3C233.3 172 229.1 164.1 225.8 164.4C222.5 164.8 217.9 168.4 216 172.3C214 176.2 215.6 184.1 214 188C212.4 192 209.1 195.9 206.1 195.9C203.2 195.9 199.6 192 196.3 188C193 184.1 190.1 177.2 186.5 172.3C182.9 167.4 177.9 162.8 174.7 158.5C171.4 154.3 168.4 151 166.8 146.7C165.2 142.5 164.5 136.9 164.8 133C165.2 129 165.2 126.4 168.8 123.1Z" fill="#4aa444"/><path d="M119.6 129C124.8 127.1 135 124.4 139.3 125.1C143.5 125.8 144 129 145.2 133C146.3 136.9 147.5 145.1 146.1 148.7C144.8 152.3 141.1 153.3 137.3 154.6C133.5 155.9 128.4 156.9 123.5 156.6C118.6 156.2 111.7 154.3 107.8 152.6C103.9 151 99.9 149.4 99.9 146.7C99.9 144.1 104.5 139.9 107.8 136.9C111.1 133.9 114.3 131 119.6 129Z" fill="#e8c4dc"/><path d="M105.8 3.1C111.4 2 122.9 0.2 127.5 2.2C132 4.1 132 10.2 133.4 14.9C134.7 19.7 135.7 25.8 135.3 30.7C135 35.6 133 39.9 131.4 44.5C129.8 49 127.5 55.3 125.5 58.2C123.5 61.2 121.9 62.8 119.6 62.2C117.3 61.5 115 56.9 111.7 54.3C108.4 51.7 103.2 49.7 99.9 46.4C96.6 43.1 94 38.9 92.1 34.6C90.1 30.4 87.8 25.1 88.1 20.8C88.4 16.6 91.1 12 94 9C97 6.1 100.2 4.3 105.8 3.1Z" fill="#de8028"/><path d="M158.9 34.6C161.9 32.5 167.8 31.7 172.7 31.7C177.6 31.7 184.8 32.5 188.4 34.6C192 36.7 193 39.9 194.3 44.5C195.6 49 194.7 57.2 196.3 62.2C197.9 67.1 204.2 71 204.2 74C204.2 76.9 199.9 78.2 196.3 79.9C192.7 81.5 186.5 82.5 182.5 83.8C178.6 85.1 176.6 86.4 172.7 87.7C168.8 89 162.9 92 158.9 91.7C155 91.3 151.1 88.7 149.1 85.8C147.1 82.8 146.8 78.5 147.1 74C147.5 69.4 149.8 63.1 151.1 58.2C152.4 53.3 153.7 48.4 155 44.5C156.3 40.5 156 36.7 158.9 34.6Z" fill="#a0cdf0"/><path d="M223.8 31.7C225.5 31 227.1 31.8 229.7 34.6C232.4 37.4 236.6 43.8 239.6 48.4C242.5 53 245.1 57.6 247.4 62.2C249.7 66.7 253 72.6 253.3 75.9C253.7 79.2 251.7 79.9 249.4 81.8C247.1 83.8 243.5 86.4 239.6 87.7C235.6 89 229.4 90.3 225.8 89.7C222.2 89 219.6 87.1 217.9 83.8C216.3 80.5 216.6 74.9 216 70C215.3 65.1 213.3 59.5 214 54.3C214.7 49 218.3 42.3 219.9 38.6C221.5 34.8 222.2 32.3 223.8 31.7Z" fill="#e8aa9c" fill-opacity="0.8"/><path d="M285 166l5 3M296 173l6 5" stroke="#3fa63f" stroke-width="1" stroke-linecap="round" opacity="0.8"/><path d="M137.3 103.5C139.1 102.3 143.8 100.8 147.1 100.5C150.4 100.2 154.7 100 157 101.5C159.3 103 161.6 107.2 160.9 109.4C160.2 111.5 156 114.1 153 114.3C150.1 114.4 146 111.5 143.2 110.3C140.4 109.2 137.3 108.5 136.3 107.4C135.3 106.2 135.5 104.6 137.3 103.5Z" fill="#dcc088" fill-opacity="0.75"/></g><g filter="url(#rg)"><g clip-path="url(#cp_fs)"><path d="M35 72C37 69 40.9 68.4 44.8 66.1C48.8 63.8 53.7 59.9 58.6 58.2C63.5 56.6 70.4 54.9 74.4 56.3C78.3 57.6 79.3 59.9 82.2 66.1C85.2 72.3 87.8 85.8 92.1 93.6C96.3 101.5 107.1 108.1 107.8 113.3C108.4 118.5 99.3 121.8 96 125.1C92.7 128.4 91.4 132 88.1 133C84.8 133.9 81.2 132.6 76.3 131C71.4 129.4 63.9 126.1 58.6 123.1C53.4 120.2 48.8 117.2 44.8 113.3C40.9 109.4 37 104.4 35 99.5C33 94.6 33 88.4 33 83.8C33 79.2 33 74.9 35 72Z" fill="#c6c21a"/><path d="M80.3 56.3C84.2 54 90.7 54.9 96 56.3C101.2 57.6 107.1 60.8 111.7 64.1C116.3 67.4 120.9 71.7 123.5 75.9C126.1 80.2 127.1 85.4 127.5 89.7C127.8 94 126.8 97.9 125.5 101.5C124.2 105.1 121.2 108.4 119.6 111.3C118 114.3 117.6 118.5 115.7 119.2C113.7 119.9 111.1 117.2 107.8 115.3C104.5 113.3 99.9 110.7 96 107.4C92.1 104.1 87.5 99.5 84.2 95.6C80.9 91.7 78.3 88.1 76.3 83.8C74.4 79.5 71.7 74.6 72.4 70C73 65.4 76.3 58.5 80.3 56.3Z" fill="#aa9c18"/><g filter="url(#bl)"><path d="M35 72C37 69 40.9 68.4 44.8 66.1C48.8 63.8 53.7 59.9 58.6 58.2C63.5 56.6 70.4 54.9 74.4 56.3C78.3 57.6 79.3 59.9 82.2 66.1C85.2 72.3 87.8 85.8 92.1 93.6C96.3 101.5 107.1 108.1 107.8 113.3C108.4 118.5 99.3 121.8 96 125.1C92.7 128.4 91.4 132 88.1 133C84.8 133.9 81.2 132.6 76.3 131C71.4 129.4 63.9 126.1 58.6 123.1C53.4 120.2 48.8 117.2 44.8 113.3C40.9 109.4 37 104.4 35 99.5C33 94.6 33 88.4 33 83.8C33 79.2 33 74.9 35 72Z" fill="#c6c21a"/><path d="M80.3 56.3C84.2 54 90.7 54.9 96 56.3C101.2 57.6 107.1 60.8 111.7 64.1C116.3 67.4 120.9 71.7 123.5 75.9C126.1 80.2 127.1 85.4 127.5 89.7C127.8 94 126.8 97.9 125.5 101.5C124.2 105.1 121.2 108.4 119.6 111.3C118 114.3 117.6 118.5 115.7 119.2C113.7 119.9 111.1 117.2 107.8 115.3C104.5 113.3 99.9 110.7 96 107.4C92.1 104.1 87.5 99.5 84.2 95.6C80.9 91.7 78.3 88.1 76.3 83.8C74.4 79.5 71.7 74.6 72.4 70C73 65.4 76.3 58.5 80.3 56.3Z" fill="#aa9c18"/></g></g></g><g filter="url(#rg)"><g clip-path="url(#cp_m_f)"><ellipse cx="166.8" cy="280.5" rx="30" ry="26" fill="#167016" filter="url(#bl)" transform="rotate(-35 166.8 280.5)"/></g></g><g filter="url(#rg)"><g clip-path="url(#cp_mac)"><ellipse cx="163.8" cy="35.6" rx="11" ry="7" fill="#3e85c0" filter="url(#bl)" opacity="0.9"/></g></g><g filter="url(#rg)"><g clip-path="url(#cp_T)"><ellipse cx="224.8" cy="40.5" rx="9" ry="16" fill="#a02824" filter="url(#bl)" opacity="0.85"/></g></g><g filter="url(#rg)"><path d="M123.5 278.5C126.8 275.2 132.7 275.6 137.3 274.6C141.9 273.6 146.1 274.3 151.1 272.6C156 271 162.5 265.7 166.8 264.8C171.1 263.8 174.3 265.1 176.6 266.7C178.9 268.4 180.6 271.3 180.6 274.6C180.6 277.9 178.9 282.8 176.6 286.4C174.3 290 169.7 292.3 166.8 296.2C163.8 300.2 161.6 305.7 158.9 310C156.3 314.3 154.3 319.2 151.1 321.8C147.8 324.4 143.2 325.7 139.3 325.7C135.3 325.7 130.7 324.4 127.5 321.8C124.2 319.2 121.2 314.6 119.6 310C118 305.4 117 299.5 117.6 294.3C118.3 289 120.2 281.8 123.5 278.5Z" fill="#3a9a38" fill-opacity="0.45"/></g><g filter="url(#rg)"><g clip-path="url(#cp_mbcn)"><ellipse cx="168.8" cy="138.9" rx="12" ry="30" fill="#8a9a50" filter="url(#bl)" opacity="0.6"/></g></g><g fill="none" stroke-linecap="round" stroke-width="1.15"><use href="#h_m_a" stroke="#74d76e"/><use href="#w_m_a" stroke="#fff" stroke-opacity="0.9"/><use href="#h_m_b" stroke="#74d76e"/><use href="#w_m_b" stroke="#fff" stroke-opacity="0.9"/><use href="#h_m_c" stroke="#74d76e"/><use href="#w_m_c" stroke="#fff" stroke-opacity="0.9"/><use href="#h_m_d" stroke="#74d76e"/><use href="#w_m_d" stroke="#fff" stroke-opacity="0.9"/><use href="#h_m_e" stroke="#74d76e"/><use href="#w_m_e" stroke="#fff" stroke-opacity="0.9"/><use href="#h_m_f" stroke="#74d76e"/><use href="#w_m_f" stroke="#fff" stroke-opacity="0.9"/><use href="#h_mbcn" stroke="#4aa444"/><use href="#w_mbcn" stroke="#fff" stroke-opacity="0.9"/><use href="#h_hep" stroke="#e8c4dc"/><use href="#w_hep" stroke="#fff" stroke-opacity="0.9"/><use href="#h_fib" stroke="#c6c21a"/><use href="#w_fib" stroke="#fff" stroke-opacity="0.9"/><use href="#h_smc" stroke="#aa9c18"/><use href="#w_smc" stroke="#fff" stroke-opacity="0.9"/><use href="#h_endo" stroke="#de8028"/><use href="#w_endo" stroke="#fff" stroke-opacity="0.9"/><use href="#h_mac" stroke="#a0cdf0"/><use href="#w_mac" stroke="#fff" stroke-opacity="0.9"/><use href="#h_T" stroke="#e8aa9c"/><use href="#w_T" stroke="#fff" stroke-opacity="0.9"/><use href="#h_B" stroke="#d6d89a"/><use href="#w_B" stroke="#fff" stroke-opacity="0.9"/><use href="#T_w" stroke="#fff" stroke-width="1.5"/><use href="#T_nk" stroke="#a8302a" stroke-width="1.4"/><use href="#endo_d" stroke="#c05a14" stroke-width="1.3"/><use href="#mac_w" stroke="#fff" stroke-width="1.2"/></g><rect x="-0.4" y="-0.6" width="329" height="327" fill="none" stroke="#000" stroke-width="1.6"/><text x="163.5" y="-13.2" font-size="25.5" font-family="'DejaVu Sans','Liberation Sans',sans-serif" text-anchor="middle">OT</text></g>
<text x="-4.5" y="45" font-size="48" font-family="'DejaVu Sans','Liberation Sans',sans-serif" text-anchor="start" fill="#000">a</text>
<text x="987.5" y="35.7" font-size="48" font-family="'DejaVu Sans','Liberation Sans',sans-serif" text-anchor="start" fill="#000">b</text>
<text x="-2.3" y="876.3" font-size="48.5" font-family="'DejaVu Sans','Liberation Sans',sans-serif" text-anchor="start" fill="#000">c</text>
<text x="1015" y="1109" font-size="46.5" font-family="'DejaVu Sans','Liberation Sans',sans-serif" text-anchor="start" fill="#000">d</text>
<text x="8.6" y="1761" font-size="48" font-family="'DejaVu Sans','Liberation Sans',sans-serif" text-anchor="start" fill="#000">e</text>
</svg></body></html>
